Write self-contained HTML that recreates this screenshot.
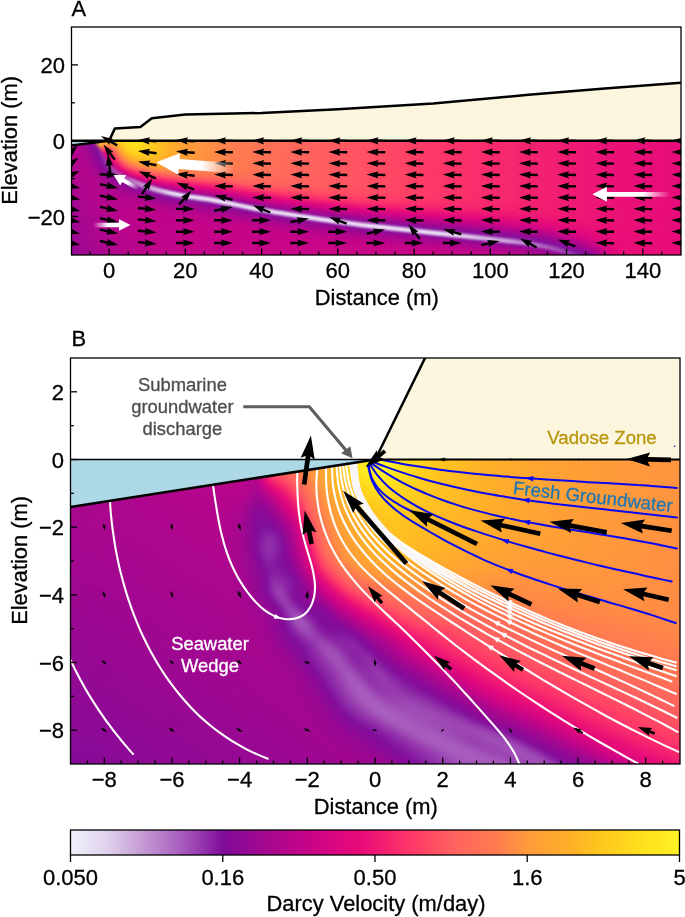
<!DOCTYPE html>
<html><head><meta charset="utf-8"><title>Figure</title>
<style>html,body{margin:0;padding:0;background:#fff}svg{display:block}text{stroke-width:0.3px;font-family:"Liberation Sans",Arial,Helvetica,sans-serif}</style>
</head><body>
<svg width="685" height="917" viewBox="0 0 685 917">
<defs>
<clipPath id="clipA"><polygon points="71.5,145.6 109.1,140.7 681,140.7 681,255 71.5,255"/></clipPath>
<clipPath id="axA"><rect x="71.5" y="27" width="609.5" height="228"/></clipPath>
<linearGradient id="a0" gradientUnits="userSpaceOnUse" x1="63.5" x2="689" y1="0" y2="0"><stop offset="0" stop-color="#b7058c"/><stop offset="0.0224" stop-color="#b8058c"/><stop offset="0.0384" stop-color="#ad068e"/><stop offset="0.0512" stop-color="#a40790"/><stop offset="0.0544" stop-color="#ffe820"/><stop offset="0.0767" stop-color="#ffef24"/><stop offset="0.1055" stop-color="#ffe921"/><stop offset="0.1247" stop-color="#ffdc1c"/><stop offset="0.1471" stop-color="#ffc71e"/><stop offset="0.1663" stop-color="#ffb128"/><stop offset="0.1982" stop-color="#ff9e37"/><stop offset="0.2206" stop-color="#ff953e"/><stop offset="0.2686" stop-color="#ff7d4f"/><stop offset="0.3613" stop-color="#ff695b"/><stop offset="0.47" stop-color="#ff5363"/><stop offset="0.6107" stop-color="#fd3469"/><stop offset="0.8889" stop-color="#ea1077"/><stop offset="1" stop-color="#e60b79"/></linearGradient>
<linearGradient id="a1" gradientUnits="userSpaceOnUse" x1="63.5" x2="689" y1="0" y2="0"><stop offset="0" stop-color="#b7058c"/><stop offset="0.0224" stop-color="#b7058c"/><stop offset="0.0352" stop-color="#ad068e"/><stop offset="0.048" stop-color="#9e0891"/><stop offset="0.0512" stop-color="#9c0892"/><stop offset="0.0544" stop-color="#ffe21d"/><stop offset="0.0735" stop-color="#ffee23"/><stop offset="0.0927" stop-color="#ffe921"/><stop offset="0.1055" stop-color="#ffe820"/><stop offset="0.1247" stop-color="#ffdc1c"/><stop offset="0.1471" stop-color="#ffc71e"/><stop offset="0.1663" stop-color="#ffb128"/><stop offset="0.1982" stop-color="#ff9e37"/><stop offset="0.2206" stop-color="#ff953e"/><stop offset="0.2686" stop-color="#ff7d4f"/><stop offset="0.3613" stop-color="#ff695b"/><stop offset="0.47" stop-color="#ff5363"/><stop offset="0.6107" stop-color="#fd3469"/><stop offset="0.8889" stop-color="#ea1077"/><stop offset="1" stop-color="#e60b79"/></linearGradient>
<linearGradient id="a2" gradientUnits="userSpaceOnUse" x1="63.5" x2="689" y1="0" y2="0"><stop offset="0" stop-color="#b7058c"/><stop offset="0.0192" stop-color="#b8058c"/><stop offset="0.0288" stop-color="#b1068d"/><stop offset="0.048" stop-color="#960993"/><stop offset="0.0512" stop-color="#940994"/><stop offset="0.0544" stop-color="#ffda1d"/><stop offset="0.0639" stop-color="#ffe31e"/><stop offset="0.0703" stop-color="#ffea21"/><stop offset="0.0863" stop-color="#ffe41e"/><stop offset="0.1055" stop-color="#ffe720"/><stop offset="0.1247" stop-color="#ffdc1c"/><stop offset="0.1471" stop-color="#ffc71e"/><stop offset="0.1663" stop-color="#ffb028"/><stop offset="0.1982" stop-color="#ff9e37"/><stop offset="0.2206" stop-color="#ff953e"/><stop offset="0.2686" stop-color="#ff7d4f"/><stop offset="0.3613" stop-color="#ff695b"/><stop offset="0.47" stop-color="#ff5363"/><stop offset="0.6107" stop-color="#fd3469"/><stop offset="0.8889" stop-color="#ea1077"/><stop offset="1" stop-color="#e60b79"/></linearGradient>
<linearGradient id="a3" gradientUnits="userSpaceOnUse" x1="63.5" x2="689" y1="0" y2="0"><stop offset="0" stop-color="#b7058c"/><stop offset="0.0192" stop-color="#b7058c"/><stop offset="0.0288" stop-color="#b0068d"/><stop offset="0.048" stop-color="#8f0a95"/><stop offset="0.0512" stop-color="#8d0a96"/><stop offset="0.0544" stop-color="#ffd01d"/><stop offset="0.0608" stop-color="#ffd71d"/><stop offset="0.0671" stop-color="#ffe41e"/><stop offset="0.0735" stop-color="#ffdb1c"/><stop offset="0.0799" stop-color="#ffdd1c"/><stop offset="0.0831" stop-color="#ffd91d"/><stop offset="0.0863" stop-color="#ffdb1c"/><stop offset="0.0895" stop-color="#ffe01c"/><stop offset="0.1055" stop-color="#ffe51e"/><stop offset="0.1247" stop-color="#ffdc1c"/><stop offset="0.1471" stop-color="#ffc71e"/><stop offset="0.1663" stop-color="#ffb028"/><stop offset="0.1982" stop-color="#ff9e37"/><stop offset="0.2206" stop-color="#ff953e"/><stop offset="0.2686" stop-color="#ff7d4f"/><stop offset="0.3613" stop-color="#ff695b"/><stop offset="0.47" stop-color="#ff5363"/><stop offset="0.6107" stop-color="#fd3469"/><stop offset="0.8889" stop-color="#ea1077"/><stop offset="1" stop-color="#e60b79"/></linearGradient>
<linearGradient id="a4" gradientUnits="userSpaceOnUse" x1="63.5" x2="689" y1="0" y2="0"><stop offset="0" stop-color="#b7058c"/><stop offset="0.0192" stop-color="#b7058c"/><stop offset="0.0288" stop-color="#ae068e"/><stop offset="0.048" stop-color="#890b97"/><stop offset="0.0512" stop-color="#860b98"/><stop offset="0.0544" stop-color="#ffc61f"/><stop offset="0.0608" stop-color="#ffd01d"/><stop offset="0.0671" stop-color="#ffd61d"/><stop offset="0.0735" stop-color="#ffca1e"/><stop offset="0.0895" stop-color="#ffd51d"/><stop offset="0.0927" stop-color="#ffdb1c"/><stop offset="0.1055" stop-color="#ffe31e"/><stop offset="0.1215" stop-color="#ffde1c"/><stop offset="0.1439" stop-color="#ffca1e"/><stop offset="0.1663" stop-color="#ffb028"/><stop offset="0.1982" stop-color="#ff9e37"/><stop offset="0.2206" stop-color="#ff953e"/><stop offset="0.2686" stop-color="#ff7d4f"/><stop offset="0.3613" stop-color="#ff695b"/><stop offset="0.47" stop-color="#ff5363"/><stop offset="0.6107" stop-color="#fd3469"/><stop offset="0.8889" stop-color="#ea1077"/><stop offset="1" stop-color="#e60b79"/></linearGradient>
<linearGradient id="a5" gradientUnits="userSpaceOnUse" x1="63.5" x2="689" y1="0" y2="0"><stop offset="0" stop-color="#b7058c"/><stop offset="0.0192" stop-color="#b6058c"/><stop offset="0.0288" stop-color="#ad068e"/><stop offset="0.048" stop-color="#850b98"/><stop offset="0.0512" stop-color="#820c99"/><stop offset="0.0544" stop-color="#ffbf22"/><stop offset="0.0608" stop-color="#ffc61f"/><stop offset="0.0639" stop-color="#ffc320"/><stop offset="0.0671" stop-color="#ffb725"/><stop offset="0.0703" stop-color="#ffae29"/><stop offset="0.0831" stop-color="#ffbc23"/><stop offset="0.0863" stop-color="#ffc121"/><stop offset="0.0895" stop-color="#ffcb1e"/><stop offset="0.1023" stop-color="#ffde1c"/><stop offset="0.1119" stop-color="#ffe11d"/><stop offset="0.1311" stop-color="#ffd61d"/><stop offset="0.1503" stop-color="#ffc320"/><stop offset="0.1663" stop-color="#ffb028"/><stop offset="0.1982" stop-color="#ff9e37"/><stop offset="0.2206" stop-color="#ff953e"/><stop offset="0.2686" stop-color="#ff7d4f"/><stop offset="0.3613" stop-color="#ff695b"/><stop offset="0.47" stop-color="#ff5363"/><stop offset="0.6107" stop-color="#fd3469"/><stop offset="0.8889" stop-color="#ea1077"/><stop offset="1" stop-color="#e60b79"/></linearGradient>
<linearGradient id="a6" gradientUnits="userSpaceOnUse" x1="63.5" x2="689" y1="0" y2="0"><stop offset="0" stop-color="#b6058c"/><stop offset="0.0192" stop-color="#b5058c"/><stop offset="0.0288" stop-color="#ac068e"/><stop offset="0.048" stop-color="#840b99"/><stop offset="0.0512" stop-color="#810c9a"/><stop offset="0.0544" stop-color="#ffbc23"/><stop offset="0.0576" stop-color="#ffbe22"/><stop offset="0.0608" stop-color="#ffad2b"/><stop offset="0.0671" stop-color="#ff963d"/><stop offset="0.0799" stop-color="#ffa333"/><stop offset="0.0831" stop-color="#ffa92d"/><stop offset="0.0863" stop-color="#ffb626"/><stop offset="0.0895" stop-color="#ffbc23"/><stop offset="0.0959" stop-color="#ffce1d"/><stop offset="0.1023" stop-color="#ffdb1c"/><stop offset="0.1119" stop-color="#ffe01c"/><stop offset="0.1311" stop-color="#ffd61d"/><stop offset="0.1503" stop-color="#ffc320"/><stop offset="0.1663" stop-color="#ffb028"/><stop offset="0.1982" stop-color="#ff9e37"/><stop offset="0.2206" stop-color="#ff953e"/><stop offset="0.2686" stop-color="#ff7d4f"/><stop offset="0.3613" stop-color="#ff695b"/><stop offset="0.47" stop-color="#ff5363"/><stop offset="0.6107" stop-color="#fd3469"/><stop offset="0.8889" stop-color="#ea1077"/><stop offset="1" stop-color="#e60b79"/></linearGradient>
<linearGradient id="a7" gradientUnits="userSpaceOnUse" x1="63.5" x2="689" y1="0" y2="0"><stop offset="0" stop-color="#b5058c"/><stop offset="0.0192" stop-color="#b5058c"/><stop offset="0.0288" stop-color="#ac068e"/><stop offset="0.048" stop-color="#850b98"/><stop offset="0.0544" stop-color="#800c9a"/><stop offset="0.0576" stop-color="#ff9f36"/><stop offset="0.0608" stop-color="#ff8549"/><stop offset="0.0639" stop-color="#ff7455"/><stop offset="0.0703" stop-color="#ff7455"/><stop offset="0.0735" stop-color="#ff7753"/><stop offset="0.0767" stop-color="#ff7e4e"/><stop offset="0.0831" stop-color="#ff9c38"/><stop offset="0.0895" stop-color="#ffaf29"/><stop offset="0.0959" stop-color="#ffc81e"/><stop offset="0.1023" stop-color="#ffd71d"/><stop offset="0.1087" stop-color="#ffdd1c"/><stop offset="0.1215" stop-color="#ffdb1c"/><stop offset="0.1407" stop-color="#ffcd1e"/><stop offset="0.1663" stop-color="#ffb028"/><stop offset="0.1982" stop-color="#ff9e37"/><stop offset="0.2206" stop-color="#ff953e"/><stop offset="0.2686" stop-color="#ff7d4f"/><stop offset="0.3613" stop-color="#ff695b"/><stop offset="0.47" stop-color="#ff5363"/><stop offset="0.6107" stop-color="#fd3469"/><stop offset="0.8889" stop-color="#ea1077"/><stop offset="1" stop-color="#e60b79"/></linearGradient>
<linearGradient id="a8" gradientUnits="userSpaceOnUse" x1="63.5" x2="689" y1="0" y2="0"><stop offset="0" stop-color="#b4058c"/><stop offset="0.0192" stop-color="#b5058c"/><stop offset="0.0288" stop-color="#ac068e"/><stop offset="0.048" stop-color="#880b97"/><stop offset="0.0544" stop-color="#800d9a"/><stop offset="0.0576" stop-color="#84159e"/><stop offset="0.0608" stop-color="#ff5c61"/><stop offset="0.0639" stop-color="#ff5662"/><stop offset="0.0671" stop-color="#ff5462"/><stop offset="0.0703" stop-color="#ff5862"/><stop offset="0.0767" stop-color="#ff685b"/><stop offset="0.0799" stop-color="#ff7355"/><stop offset="0.0831" stop-color="#ff814d"/><stop offset="0.0863" stop-color="#ff993b"/><stop offset="0.0927" stop-color="#ffb227"/><stop offset="0.0991" stop-color="#ffcb1e"/><stop offset="0.1055" stop-color="#ffd71d"/><stop offset="0.1151" stop-color="#ffdb1c"/><stop offset="0.1343" stop-color="#ffd21d"/><stop offset="0.1503" stop-color="#ffc220"/><stop offset="0.1663" stop-color="#ffb028"/><stop offset="0.1982" stop-color="#ff9e37"/><stop offset="0.2206" stop-color="#ff953e"/><stop offset="0.2686" stop-color="#ff7d4f"/><stop offset="0.3613" stop-color="#ff695b"/><stop offset="0.47" stop-color="#ff5363"/><stop offset="0.6107" stop-color="#fd3469"/><stop offset="0.8889" stop-color="#ea1077"/><stop offset="1" stop-color="#e60b79"/></linearGradient>
<linearGradient id="a9" gradientUnits="userSpaceOnUse" x1="63.5" x2="689" y1="0" y2="0"><stop offset="0" stop-color="#b4058d"/><stop offset="0.0192" stop-color="#b4058c"/><stop offset="0.0288" stop-color="#ad068e"/><stop offset="0.0448" stop-color="#920994"/><stop offset="0.0544" stop-color="#800c9a"/><stop offset="0.0576" stop-color="#8719a0"/><stop offset="0.0608" stop-color="#fd3469"/><stop offset="0.0639" stop-color="#f92d6c"/><stop offset="0.0671" stop-color="#f92d6c"/><stop offset="0.0703" stop-color="#fc316a"/><stop offset="0.0735" stop-color="#ff3a68"/><stop offset="0.0767" stop-color="#ff4865"/><stop offset="0.0799" stop-color="#ff6060"/><stop offset="0.0831" stop-color="#ff7255"/><stop offset="0.0895" stop-color="#ff9e37"/><stop offset="0.0959" stop-color="#ffb725"/><stop offset="0.0991" stop-color="#ffc420"/><stop offset="0.1023" stop-color="#ffcd1e"/><stop offset="0.1087" stop-color="#ffd51d"/><stop offset="0.1183" stop-color="#ffd81d"/><stop offset="0.1375" stop-color="#ffce1e"/><stop offset="0.1535" stop-color="#ffbe22"/><stop offset="0.1695" stop-color="#ffae2a"/><stop offset="0.1982" stop-color="#ff9e37"/><stop offset="0.2206" stop-color="#ff953e"/><stop offset="0.2686" stop-color="#ff7d4f"/><stop offset="0.3613" stop-color="#ff695b"/><stop offset="0.47" stop-color="#ff5363"/><stop offset="0.6107" stop-color="#fd3469"/><stop offset="0.8889" stop-color="#ea1077"/><stop offset="1" stop-color="#e60b79"/></linearGradient>
<linearGradient id="a10" gradientUnits="userSpaceOnUse" x1="63.5" x2="689" y1="0" y2="0"><stop offset="0" stop-color="#b3058d"/><stop offset="0.0192" stop-color="#b4058c"/><stop offset="0.0288" stop-color="#af068e"/><stop offset="0.0416" stop-color="#9c0891"/><stop offset="0.0544" stop-color="#820c99"/><stop offset="0.0608" stop-color="#8b22a4"/><stop offset="0.0639" stop-color="#e50b7a"/><stop offset="0.0703" stop-color="#e80c78"/><stop offset="0.0735" stop-color="#f01b73"/><stop offset="0.0767" stop-color="#fc336a"/><stop offset="0.0799" stop-color="#ff4f63"/><stop offset="0.0831" stop-color="#ff675c"/><stop offset="0.0863" stop-color="#ff7952"/><stop offset="0.0895" stop-color="#ff9140"/><stop offset="0.0927" stop-color="#ffa233"/><stop offset="0.0991" stop-color="#ffba24"/><stop offset="0.1023" stop-color="#ffc51f"/><stop offset="0.1087" stop-color="#ffcf1d"/><stop offset="0.1183" stop-color="#ffd41d"/><stop offset="0.1375" stop-color="#ffcc1e"/><stop offset="0.1663" stop-color="#ffaf28"/><stop offset="0.1982" stop-color="#ff9e37"/><stop offset="0.2206" stop-color="#ff953e"/><stop offset="0.2686" stop-color="#ff7d4f"/><stop offset="0.3613" stop-color="#ff695b"/><stop offset="0.47" stop-color="#ff5363"/><stop offset="0.6107" stop-color="#fd3469"/><stop offset="0.8889" stop-color="#ea1077"/><stop offset="1" stop-color="#e60b79"/></linearGradient>
<linearGradient id="a11" gradientUnits="userSpaceOnUse" x1="63.5" x2="689" y1="0" y2="0"><stop offset="0" stop-color="#b2058d"/><stop offset="0.0224" stop-color="#b3058d"/><stop offset="0.0352" stop-color="#aa068f"/><stop offset="0.0448" stop-color="#9a0892"/><stop offset="0.0544" stop-color="#850b99"/><stop offset="0.0576" stop-color="#84139d"/><stop offset="0.0608" stop-color="#8c24a5"/><stop offset="0.0639" stop-color="#cc0586"/><stop offset="0.0671" stop-color="#cf0585"/><stop offset="0.0703" stop-color="#de077f"/><stop offset="0.0735" stop-color="#e90e77"/><stop offset="0.0799" stop-color="#ff3d67"/><stop offset="0.0831" stop-color="#ff5961"/><stop offset="0.0895" stop-color="#ff7f4e"/><stop offset="0.0927" stop-color="#ff983b"/><stop offset="0.0991" stop-color="#ffaf29"/><stop offset="0.1055" stop-color="#ffc220"/><stop offset="0.1119" stop-color="#ffcb1e"/><stop offset="0.1247" stop-color="#ffce1d"/><stop offset="0.1407" stop-color="#ffc71e"/><stop offset="0.1663" stop-color="#ffaf29"/><stop offset="0.1982" stop-color="#ff9d37"/><stop offset="0.2238" stop-color="#ff933f"/><stop offset="0.2686" stop-color="#ff7d4f"/><stop offset="0.3613" stop-color="#ff695b"/><stop offset="0.47" stop-color="#ff5363"/><stop offset="0.6107" stop-color="#fd3469"/><stop offset="0.8889" stop-color="#ea1077"/><stop offset="1" stop-color="#e60b79"/></linearGradient>
<linearGradient id="a12" gradientUnits="userSpaceOnUse" x1="63.5" x2="689" y1="0" y2="0"><stop offset="0" stop-color="#b1068d"/><stop offset="0.0224" stop-color="#b4058d"/><stop offset="0.0352" stop-color="#ac068e"/><stop offset="0.0448" stop-color="#9d0891"/><stop offset="0.0576" stop-color="#800c9a"/><stop offset="0.0608" stop-color="#8a21a3"/><stop offset="0.0639" stop-color="#912ea9"/><stop offset="0.0671" stop-color="#c70488"/><stop offset="0.0735" stop-color="#e2097c"/><stop offset="0.0767" stop-color="#ed1675"/><stop offset="0.0799" stop-color="#f92c6c"/><stop offset="0.0831" stop-color="#ff4665"/><stop offset="0.0863" stop-color="#ff6160"/><stop offset="0.0927" stop-color="#ff844a"/><stop offset="0.0959" stop-color="#ff9a3a"/><stop offset="0.1023" stop-color="#ffae2a"/><stop offset="0.1087" stop-color="#ffbd23"/><stop offset="0.1183" stop-color="#ffc71e"/><stop offset="0.1343" stop-color="#ffc71e"/><stop offset="0.1599" stop-color="#ffb327"/><stop offset="0.1982" stop-color="#ff9d38"/><stop offset="0.2238" stop-color="#ff933f"/><stop offset="0.2686" stop-color="#ff7d4f"/><stop offset="0.3645" stop-color="#ff685b"/><stop offset="0.4732" stop-color="#ff5363"/><stop offset="0.6107" stop-color="#fd3469"/><stop offset="0.8889" stop-color="#ea1077"/><stop offset="1" stop-color="#e60b79"/></linearGradient>
<linearGradient id="a13" gradientUnits="userSpaceOnUse" x1="63.5" x2="689" y1="0" y2="0"><stop offset="0" stop-color="#b1068d"/><stop offset="0.0256" stop-color="#b3058d"/><stop offset="0.0352" stop-color="#ae068e"/><stop offset="0.0448" stop-color="#9f0791"/><stop offset="0.0576" stop-color="#830b99"/><stop offset="0.0608" stop-color="#8619a0"/><stop offset="0.0639" stop-color="#902da9"/><stop offset="0.0671" stop-color="#c0048a"/><stop offset="0.0703" stop-color="#c90587"/><stop offset="0.0735" stop-color="#d90681"/><stop offset="0.0767" stop-color="#e50b7a"/><stop offset="0.0799" stop-color="#f11c72"/><stop offset="0.0831" stop-color="#fc336a"/><stop offset="0.0895" stop-color="#ff645e"/><stop offset="0.0959" stop-color="#ff844a"/><stop offset="0.0991" stop-color="#ff993b"/><stop offset="0.1055" stop-color="#ffaa2d"/><stop offset="0.1119" stop-color="#ffb626"/><stop offset="0.1215" stop-color="#ffbe22"/><stop offset="0.1343" stop-color="#ffc121"/><stop offset="0.1567" stop-color="#ffb427"/><stop offset="0.195" stop-color="#ff9d37"/><stop offset="0.2206" stop-color="#ff943f"/><stop offset="0.2686" stop-color="#ff7d50"/><stop offset="0.3677" stop-color="#ff675c"/><stop offset="0.4828" stop-color="#ff5163"/><stop offset="0.6107" stop-color="#fd3469"/><stop offset="0.8889" stop-color="#ea1077"/><stop offset="1" stop-color="#e60b79"/></linearGradient>
<linearGradient id="a14" gradientUnits="userSpaceOnUse" x1="63.5" x2="689" y1="0" y2="0"><stop offset="0" stop-color="#b0068d"/><stop offset="0.0256" stop-color="#b4058d"/><stop offset="0.0352" stop-color="#af068e"/><stop offset="0.0448" stop-color="#a20790"/><stop offset="0.0608" stop-color="#810e9b"/><stop offset="0.0639" stop-color="#8c25a5"/><stop offset="0.0671" stop-color="#9538ad"/><stop offset="0.0703" stop-color="#bf048a"/><stop offset="0.0735" stop-color="#cc0586"/><stop offset="0.0767" stop-color="#dd067f"/><stop offset="0.0799" stop-color="#e80d78"/><stop offset="0.0863" stop-color="#fe3768"/><stop offset="0.0927" stop-color="#ff645e"/><stop offset="0.0991" stop-color="#ff804d"/><stop offset="0.1023" stop-color="#ff933f"/><stop offset="0.1055" stop-color="#ff9e36"/><stop offset="0.1151" stop-color="#ffad2b"/><stop offset="0.1311" stop-color="#ffb825"/><stop offset="0.1471" stop-color="#ffb526"/><stop offset="0.1982" stop-color="#ff9c39"/><stop offset="0.243" stop-color="#ff8847"/><stop offset="0.2782" stop-color="#ff7a51"/><stop offset="0.3901" stop-color="#ff645e"/><stop offset="0.5436" stop-color="#ff4266"/><stop offset="0.6171" stop-color="#fd336a"/><stop offset="0.8889" stop-color="#ea1077"/><stop offset="1" stop-color="#e60b79"/></linearGradient>
<linearGradient id="a15" gradientUnits="userSpaceOnUse" x1="63.5" x2="689" y1="0" y2="0"><stop offset="0" stop-color="#af068e"/><stop offset="0.0256" stop-color="#b4058d"/><stop offset="0.0384" stop-color="#ad068e"/><stop offset="0.048" stop-color="#9f0791"/><stop offset="0.0608" stop-color="#850b99"/><stop offset="0.0639" stop-color="#86189f"/><stop offset="0.0671" stop-color="#9231aa"/><stop offset="0.0703" stop-color="#993fb0"/><stop offset="0.0735" stop-color="#bf048a"/><stop offset="0.0799" stop-color="#df087e"/><stop offset="0.0831" stop-color="#ea1077"/><stop offset="0.0895" stop-color="#fe3768"/><stop offset="0.0959" stop-color="#ff625f"/><stop offset="0.1023" stop-color="#ff7a51"/><stop offset="0.1087" stop-color="#ff953e"/><stop offset="0.1119" stop-color="#ff9d38"/><stop offset="0.1279" stop-color="#ffac2c"/><stop offset="0.1407" stop-color="#ffaf29"/><stop offset="0.1663" stop-color="#ffa82f"/><stop offset="0.2526" stop-color="#ff824b"/><stop offset="0.3006" stop-color="#ff7554"/><stop offset="0.4476" stop-color="#ff5862"/><stop offset="0.6107" stop-color="#fd3469"/><stop offset="0.8889" stop-color="#ea1077"/><stop offset="1" stop-color="#e60b79"/></linearGradient>
<linearGradient id="a16" gradientUnits="userSpaceOnUse" x1="63.5" x2="689" y1="0" y2="0"><stop offset="0" stop-color="#ae068e"/><stop offset="0.0288" stop-color="#b3058d"/><stop offset="0.0416" stop-color="#ac068e"/><stop offset="0.0544" stop-color="#960993"/><stop offset="0.0639" stop-color="#810c9a"/><stop offset="0.0703" stop-color="#973bae"/><stop offset="0.0735" stop-color="#b7058c"/><stop offset="0.0767" stop-color="#c0048a"/><stop offset="0.0831" stop-color="#e0087e"/><stop offset="0.0863" stop-color="#ea0f77"/><stop offset="0.0927" stop-color="#fd346a"/><stop offset="0.0991" stop-color="#ff5c61"/><stop offset="0.1023" stop-color="#ff695b"/><stop offset="0.1183" stop-color="#ff943e"/><stop offset="0.1247" stop-color="#ff9e37"/><stop offset="0.1375" stop-color="#ffa730"/><stop offset="0.1567" stop-color="#ffa72f"/><stop offset="0.2238" stop-color="#ff8e43"/><stop offset="0.2686" stop-color="#ff7c50"/><stop offset="0.3933" stop-color="#ff635e"/><stop offset="0.5468" stop-color="#ff4266"/><stop offset="0.6203" stop-color="#fc336a"/><stop offset="0.8889" stop-color="#ea1077"/><stop offset="1" stop-color="#e60b79"/></linearGradient>
<linearGradient id="a17" gradientUnits="userSpaceOnUse" x1="63.5" x2="689" y1="0" y2="0"><stop offset="0" stop-color="#ae068e"/><stop offset="0.0288" stop-color="#b3058d"/><stop offset="0.0416" stop-color="#ad068e"/><stop offset="0.0512" stop-color="#a00791"/><stop offset="0.0639" stop-color="#870b98"/><stop offset="0.0671" stop-color="#82119c"/><stop offset="0.0703" stop-color="#902ca8"/><stop offset="0.0735" stop-color="#9b44b2"/><stop offset="0.0767" stop-color="#b3058d"/><stop offset="0.0831" stop-color="#cf0585"/><stop offset="0.0863" stop-color="#df077e"/><stop offset="0.0895" stop-color="#e80d78"/><stop offset="0.0959" stop-color="#fa2e6c"/><stop offset="0.0991" stop-color="#ff3f67"/><stop offset="0.1055" stop-color="#ff6060"/><stop offset="0.1151" stop-color="#ff7554"/><stop offset="0.1343" stop-color="#ff9a3a"/><stop offset="0.1535" stop-color="#ffa134"/><stop offset="0.1855" stop-color="#ff9b39"/><stop offset="0.1982" stop-color="#ff943f"/><stop offset="0.2718" stop-color="#ff7a51"/><stop offset="0.438" stop-color="#ff5a61"/><stop offset="0.6107" stop-color="#fd3469"/><stop offset="0.8889" stop-color="#ea1077"/><stop offset="1" stop-color="#e60b79"/></linearGradient>
<linearGradient id="a18" gradientUnits="userSpaceOnUse" x1="63.5" x2="689" y1="0" y2="0"><stop offset="0" stop-color="#ad068e"/><stop offset="0.032" stop-color="#b3058d"/><stop offset="0.0448" stop-color="#ac068e"/><stop offset="0.0576" stop-color="#980892"/><stop offset="0.0671" stop-color="#850b99"/><stop offset="0.0703" stop-color="#86179f"/><stop offset="0.0735" stop-color="#9333ab"/><stop offset="0.0767" stop-color="#9d47b4"/><stop offset="0.0799" stop-color="#af068e"/><stop offset="0.0831" stop-color="#bb048b"/><stop offset="0.0895" stop-color="#dc0680"/><stop offset="0.0927" stop-color="#e60b7a"/><stop offset="0.1023" stop-color="#fd3469"/><stop offset="0.1119" stop-color="#ff5961"/><stop offset="0.1183" stop-color="#ff685c"/><stop offset="0.1343" stop-color="#ff824c"/><stop offset="0.1471" stop-color="#ff933f"/><stop offset="0.1599" stop-color="#ff983c"/><stop offset="0.1823" stop-color="#ff953e"/><stop offset="0.1982" stop-color="#ff8d43"/><stop offset="0.2686" stop-color="#ff7a51"/><stop offset="0.4444" stop-color="#ff5961"/><stop offset="0.6107" stop-color="#fd3469"/><stop offset="0.8889" stop-color="#ea1077"/><stop offset="1" stop-color="#e60b79"/></linearGradient>
<linearGradient id="a19" gradientUnits="userSpaceOnUse" x1="63.5" x2="689" y1="0" y2="0"><stop offset="0" stop-color="#ac068e"/><stop offset="0.032" stop-color="#b3058d"/><stop offset="0.0448" stop-color="#ae068e"/><stop offset="0.0576" stop-color="#9d0891"/><stop offset="0.0703" stop-color="#840b99"/><stop offset="0.0735" stop-color="#871aa0"/><stop offset="0.0767" stop-color="#9537ad"/><stop offset="0.0799" stop-color="#a04eb7"/><stop offset="0.0831" stop-color="#ad068e"/><stop offset="0.0863" stop-color="#b5058c"/><stop offset="0.0927" stop-color="#d60682"/><stop offset="0.0959" stop-color="#e1097d"/><stop offset="0.0991" stop-color="#e90e77"/><stop offset="0.1055" stop-color="#f6276e"/><stop offset="0.1119" stop-color="#ff3a68"/><stop offset="0.1247" stop-color="#ff6060"/><stop offset="0.1375" stop-color="#ff7355"/><stop offset="0.1567" stop-color="#ff8549"/><stop offset="0.1791" stop-color="#ff8a46"/><stop offset="0.1982" stop-color="#ff854a"/><stop offset="0.4189" stop-color="#ff5f60"/><stop offset="0.6107" stop-color="#fd3469"/><stop offset="0.8889" stop-color="#ea1077"/><stop offset="1" stop-color="#e60b79"/></linearGradient>
<linearGradient id="a20" gradientUnits="userSpaceOnUse" x1="63.5" x2="689" y1="0" y2="0"><stop offset="0" stop-color="#ab068e"/><stop offset="0.0352" stop-color="#b3058d"/><stop offset="0.048" stop-color="#ad068e"/><stop offset="0.0608" stop-color="#9c0892"/><stop offset="0.0735" stop-color="#830b99"/><stop offset="0.0767" stop-color="#871ba1"/><stop offset="0.0831" stop-color="#a150b8"/><stop offset="0.0863" stop-color="#a7078f"/><stop offset="0.0895" stop-color="#af068e"/><stop offset="0.0991" stop-color="#da0681"/><stop offset="0.1055" stop-color="#e90d78"/><stop offset="0.1215" stop-color="#ff3868"/><stop offset="0.1343" stop-color="#ff5c61"/><stop offset="0.1439" stop-color="#ff695b"/><stop offset="0.1599" stop-color="#ff7554"/><stop offset="0.1823" stop-color="#ff7b50"/><stop offset="0.275" stop-color="#ff7653"/><stop offset="0.4317" stop-color="#ff5c61"/><stop offset="0.6107" stop-color="#fd3469"/><stop offset="0.8889" stop-color="#ea1077"/><stop offset="1" stop-color="#e60b79"/></linearGradient>
<linearGradient id="a21" gradientUnits="userSpaceOnUse" x1="63.5" x2="689" y1="0" y2="0"><stop offset="0" stop-color="#ab068f"/><stop offset="0.0352" stop-color="#b3058d"/><stop offset="0.048" stop-color="#af068e"/><stop offset="0.0608" stop-color="#a00791"/><stop offset="0.0767" stop-color="#840b99"/><stop offset="0.0799" stop-color="#86179f"/><stop offset="0.0863" stop-color="#a14eb7"/><stop offset="0.0895" stop-color="#a75bbc"/><stop offset="0.0927" stop-color="#a40790"/><stop offset="0.0959" stop-color="#b0068d"/><stop offset="0.1023" stop-color="#cd0585"/><stop offset="0.1055" stop-color="#d80682"/><stop offset="0.1119" stop-color="#e40a7b"/><stop offset="0.1151" stop-color="#e90e77"/><stop offset="0.1311" stop-color="#fd3569"/><stop offset="0.1471" stop-color="#ff5961"/><stop offset="0.1567" stop-color="#ff655d"/><stop offset="0.1791" stop-color="#ff7057"/><stop offset="0.2398" stop-color="#ff7455"/><stop offset="0.307" stop-color="#ff7057"/><stop offset="0.4317" stop-color="#ff5b61"/><stop offset="0.6107" stop-color="#fd3469"/><stop offset="0.8889" stop-color="#ea1077"/><stop offset="1" stop-color="#e60b79"/></linearGradient>
<linearGradient id="a22" gradientUnits="userSpaceOnUse" x1="63.5" x2="689" y1="0" y2="0"><stop offset="0" stop-color="#aa068f"/><stop offset="0.0384" stop-color="#b3058d"/><stop offset="0.0512" stop-color="#af068e"/><stop offset="0.0639" stop-color="#a00791"/><stop offset="0.0799" stop-color="#860b98"/><stop offset="0.0831" stop-color="#83129d"/><stop offset="0.0895" stop-color="#9c45b3"/><stop offset="0.0927" stop-color="#a75cbd"/><stop offset="0.0959" stop-color="#9e0891"/><stop offset="0.0991" stop-color="#a20790"/><stop offset="0.1055" stop-color="#b9058b"/><stop offset="0.1119" stop-color="#cf0585"/><stop offset="0.1183" stop-color="#df077e"/><stop offset="0.1247" stop-color="#e80c78"/><stop offset="0.1439" stop-color="#fe3569"/><stop offset="0.1567" stop-color="#ff4d64"/><stop offset="0.1759" stop-color="#ff615f"/><stop offset="0.2238" stop-color="#ff6c59"/><stop offset="0.2942" stop-color="#ff7057"/><stop offset="0.4221" stop-color="#ff5e60"/><stop offset="0.6107" stop-color="#fd3469"/><stop offset="0.8889" stop-color="#ea1077"/><stop offset="1" stop-color="#e60b79"/></linearGradient>
<linearGradient id="a23" gradientUnits="userSpaceOnUse" x1="63.5" x2="689" y1="0" y2="0"><stop offset="0" stop-color="#a9068f"/><stop offset="0.0384" stop-color="#b3058d"/><stop offset="0.0544" stop-color="#ae068e"/><stop offset="0.0703" stop-color="#9c0892"/><stop offset="0.0831" stop-color="#880b98"/><stop offset="0.0863" stop-color="#810c9a"/><stop offset="0.0895" stop-color="#891fa2"/><stop offset="0.0927" stop-color="#973aae"/><stop offset="0.0959" stop-color="#a352b9"/><stop offset="0.0991" stop-color="#aa63bf"/><stop offset="0.1023" stop-color="#970893"/><stop offset="0.1087" stop-color="#a10791"/><stop offset="0.1183" stop-color="#c60488"/><stop offset="0.1247" stop-color="#d80682"/><stop offset="0.1343" stop-color="#e70b79"/><stop offset="0.1599" stop-color="#fd3569"/><stop offset="0.1791" stop-color="#ff4c64"/><stop offset="0.2174" stop-color="#ff6060"/><stop offset="0.291" stop-color="#ff6c59"/><stop offset="0.3741" stop-color="#ff655d"/><stop offset="0.4444" stop-color="#ff5862"/><stop offset="0.6107" stop-color="#fd3469"/><stop offset="0.8889" stop-color="#ea1077"/><stop offset="1" stop-color="#e60b79"/></linearGradient>
<linearGradient id="a24" gradientUnits="userSpaceOnUse" x1="63.5" x2="689" y1="0" y2="0"><stop offset="0" stop-color="#a8068f"/><stop offset="0.0416" stop-color="#b3058d"/><stop offset="0.0576" stop-color="#af068e"/><stop offset="0.0735" stop-color="#9d0891"/><stop offset="0.0895" stop-color="#850b98"/><stop offset="0.0927" stop-color="#82119c"/><stop offset="0.0959" stop-color="#8d26a6"/><stop offset="0.0991" stop-color="#993fb1"/><stop offset="0.1023" stop-color="#a354ba"/><stop offset="0.1055" stop-color="#ac65c0"/><stop offset="0.1087" stop-color="#ae6bc2"/><stop offset="0.1119" stop-color="#900a95"/><stop offset="0.1151" stop-color="#950994"/><stop offset="0.1215" stop-color="#ac068e"/><stop offset="0.1279" stop-color="#c50488"/><stop offset="0.1343" stop-color="#d60682"/><stop offset="0.1407" stop-color="#e0087d"/><stop offset="0.1503" stop-color="#e90e77"/><stop offset="0.1759" stop-color="#fa2f6b"/><stop offset="0.1918" stop-color="#ff3b67"/><stop offset="0.2238" stop-color="#ff5063"/><stop offset="0.2686" stop-color="#ff635e"/><stop offset="0.3102" stop-color="#ff695b"/><stop offset="0.3997" stop-color="#ff615f"/><stop offset="0.5404" stop-color="#ff4366"/><stop offset="0.6171" stop-color="#fd336a"/><stop offset="0.8889" stop-color="#ea1077"/><stop offset="1" stop-color="#e60b79"/></linearGradient>
<linearGradient id="a25" gradientUnits="userSpaceOnUse" x1="63.5" x2="689" y1="0" y2="0"><stop offset="0" stop-color="#a8078f"/><stop offset="0.0416" stop-color="#b3058d"/><stop offset="0.0576" stop-color="#b1068d"/><stop offset="0.0735" stop-color="#a30790"/><stop offset="0.0959" stop-color="#850b99"/><stop offset="0.0991" stop-color="#82109c"/><stop offset="0.1055" stop-color="#9639ae"/><stop offset="0.1087" stop-color="#a251b8"/><stop offset="0.1119" stop-color="#a960be"/><stop offset="0.1151" stop-color="#ad69c2"/><stop offset="0.1183" stop-color="#8e0a96"/><stop offset="0.1215" stop-color="#900995"/><stop offset="0.1279" stop-color="#a10791"/><stop offset="0.1375" stop-color="#c40489"/><stop offset="0.1471" stop-color="#d80681"/><stop offset="0.1599" stop-color="#e30a7b"/><stop offset="0.1695" stop-color="#ea0f77"/><stop offset="0.1982" stop-color="#f7296e"/><stop offset="0.227" stop-color="#ff3b67"/><stop offset="0.2814" stop-color="#ff5f60"/><stop offset="0.3197" stop-color="#ff655d"/><stop offset="0.3933" stop-color="#ff615f"/><stop offset="0.534" stop-color="#ff4565"/><stop offset="0.6171" stop-color="#fd336a"/><stop offset="0.8889" stop-color="#ea1077"/><stop offset="1" stop-color="#e60b79"/></linearGradient>
<linearGradient id="a26" gradientUnits="userSpaceOnUse" x1="63.5" x2="689" y1="0" y2="0"><stop offset="0" stop-color="#a7078f"/><stop offset="0.0448" stop-color="#b4058d"/><stop offset="0.0608" stop-color="#b1068d"/><stop offset="0.0767" stop-color="#a40790"/><stop offset="0.1023" stop-color="#870b98"/><stop offset="0.1055" stop-color="#810c9a"/><stop offset="0.1087" stop-color="#8719a0"/><stop offset="0.1183" stop-color="#a75cbc"/><stop offset="0.1215" stop-color="#ae6bc2"/><stop offset="0.1247" stop-color="#b273c5"/><stop offset="0.1279" stop-color="#880b98"/><stop offset="0.1375" stop-color="#a00791"/><stop offset="0.1471" stop-color="#c0048a"/><stop offset="0.1567" stop-color="#d10584"/><stop offset="0.1727" stop-color="#df077e"/><stop offset="0.195" stop-color="#e90e77"/><stop offset="0.2558" stop-color="#ff3c67"/><stop offset="0.2814" stop-color="#ff5163"/><stop offset="0.3102" stop-color="#ff5e60"/><stop offset="0.3549" stop-color="#ff625f"/><stop offset="0.4189" stop-color="#ff5c61"/><stop offset="0.534" stop-color="#ff4565"/><stop offset="0.6171" stop-color="#fd336a"/><stop offset="0.8889" stop-color="#ea1077"/><stop offset="1" stop-color="#e60b79"/></linearGradient>
<linearGradient id="a27" gradientUnits="userSpaceOnUse" x1="63.5" x2="689" y1="0" y2="0"><stop offset="0" stop-color="#a6078f"/><stop offset="0.0448" stop-color="#b3058d"/><stop offset="0.0639" stop-color="#b2068d"/><stop offset="0.0831" stop-color="#a30790"/><stop offset="0.1087" stop-color="#8a0b97"/><stop offset="0.1151" stop-color="#810f9b"/><stop offset="0.1183" stop-color="#8a21a3"/><stop offset="0.1247" stop-color="#a150b8"/><stop offset="0.1279" stop-color="#aa62bf"/><stop offset="0.1311" stop-color="#b06dc3"/><stop offset="0.1343" stop-color="#b171c5"/><stop offset="0.1375" stop-color="#880b97"/><stop offset="0.1439" stop-color="#920995"/><stop offset="0.1567" stop-color="#b7058c"/><stop offset="0.1663" stop-color="#c70587"/><stop offset="0.1855" stop-color="#d70682"/><stop offset="0.2238" stop-color="#e80d78"/><stop offset="0.259" stop-color="#f82a6d"/><stop offset="0.2782" stop-color="#ff3c67"/><stop offset="0.3006" stop-color="#ff4e64"/><stop offset="0.3357" stop-color="#ff5b61"/><stop offset="0.3773" stop-color="#ff5e60"/><stop offset="0.4668" stop-color="#ff5263"/><stop offset="0.6107" stop-color="#fd3469"/><stop offset="0.8889" stop-color="#ea1077"/><stop offset="1" stop-color="#e60b79"/></linearGradient>
<linearGradient id="a28" gradientUnits="userSpaceOnUse" x1="63.5" x2="689" y1="0" y2="0"><stop offset="0" stop-color="#a50790"/><stop offset="0.048" stop-color="#b4058d"/><stop offset="0.0671" stop-color="#b2058d"/><stop offset="0.0863" stop-color="#a6078f"/><stop offset="0.1151" stop-color="#8d0a96"/><stop offset="0.1215" stop-color="#840b99"/><stop offset="0.1247" stop-color="#83129d"/><stop offset="0.1311" stop-color="#983daf"/><stop offset="0.1343" stop-color="#a353b9"/><stop offset="0.1375" stop-color="#aa62bf"/><stop offset="0.1407" stop-color="#ae6ac2"/><stop offset="0.1439" stop-color="#af6cc3"/><stop offset="0.1471" stop-color="#850b99"/><stop offset="0.1503" stop-color="#860b98"/><stop offset="0.1567" stop-color="#930994"/><stop offset="0.1695" stop-color="#b3058d"/><stop offset="0.1791" stop-color="#c1048a"/><stop offset="0.2174" stop-color="#d90681"/><stop offset="0.2494" stop-color="#e80c78"/><stop offset="0.2942" stop-color="#ff3968"/><stop offset="0.3197" stop-color="#ff4a64"/><stop offset="0.3517" stop-color="#ff5562"/><stop offset="0.4093" stop-color="#ff5862"/><stop offset="0.5116" stop-color="#ff4965"/><stop offset="0.6107" stop-color="#fd3469"/><stop offset="0.8889" stop-color="#ea1077"/><stop offset="1" stop-color="#e60b79"/></linearGradient>
<linearGradient id="a29" gradientUnits="userSpaceOnUse" x1="63.5" x2="689" y1="0" y2="0"><stop offset="0" stop-color="#a50790"/><stop offset="0.048" stop-color="#b4058d"/><stop offset="0.0703" stop-color="#b3058d"/><stop offset="0.0959" stop-color="#a50790"/><stop offset="0.1247" stop-color="#8c0a96"/><stop offset="0.1311" stop-color="#830b99"/><stop offset="0.1343" stop-color="#84159e"/><stop offset="0.1439" stop-color="#a251b8"/><stop offset="0.1471" stop-color="#a85ebd"/><stop offset="0.1503" stop-color="#ac67c1"/><stop offset="0.1535" stop-color="#ae6bc2"/><stop offset="0.1567" stop-color="#800d9a"/><stop offset="0.1631" stop-color="#830b99"/><stop offset="0.1886" stop-color="#b3058d"/><stop offset="0.2078" stop-color="#c30489"/><stop offset="0.2462" stop-color="#da0681"/><stop offset="0.2686" stop-color="#e70c78"/><stop offset="0.307" stop-color="#fc326a"/><stop offset="0.3261" stop-color="#ff3f67"/><stop offset="0.3581" stop-color="#ff4d64"/><stop offset="0.4093" stop-color="#ff5363"/><stop offset="0.4988" stop-color="#ff4b64"/><stop offset="0.6107" stop-color="#fd3469"/><stop offset="0.8889" stop-color="#ea1077"/><stop offset="1" stop-color="#e60b79"/></linearGradient>
<linearGradient id="a30" gradientUnits="userSpaceOnUse" x1="63.5" x2="689" y1="0" y2="0"><stop offset="0" stop-color="#a40790"/><stop offset="0.0512" stop-color="#b4058d"/><stop offset="0.0767" stop-color="#b3058d"/><stop offset="0.1087" stop-color="#a20790"/><stop offset="0.1343" stop-color="#8d0a96"/><stop offset="0.1407" stop-color="#830c99"/><stop offset="0.1439" stop-color="#84159e"/><stop offset="0.1535" stop-color="#9e49b5"/><stop offset="0.1567" stop-color="#a659bb"/><stop offset="0.1631" stop-color="#af6bc3"/><stop offset="0.1663" stop-color="#b170c4"/><stop offset="0.1695" stop-color="#8a1fa2"/><stop offset="0.1727" stop-color="#881da1"/><stop offset="0.1791" stop-color="#800d9a"/><stop offset="0.1886" stop-color="#920995"/><stop offset="0.1918" stop-color="#9a0892"/><stop offset="0.2046" stop-color="#a9068f"/><stop offset="0.2078" stop-color="#ae068e"/><stop offset="0.2558" stop-color="#d00584"/><stop offset="0.2718" stop-color="#df077e"/><stop offset="0.2878" stop-color="#e80c78"/><stop offset="0.3197" stop-color="#f82a6d"/><stop offset="0.3453" stop-color="#ff3a68"/><stop offset="0.3837" stop-color="#ff4965"/><stop offset="0.4285" stop-color="#ff4e64"/><stop offset="0.502" stop-color="#ff4965"/><stop offset="0.6107" stop-color="#fd3469"/><stop offset="0.8889" stop-color="#ea1077"/><stop offset="1" stop-color="#e60b79"/></linearGradient>
<linearGradient id="a31" gradientUnits="userSpaceOnUse" x1="63.5" x2="689" y1="0" y2="0"><stop offset="0" stop-color="#a30790"/><stop offset="0.0512" stop-color="#b4058d"/><stop offset="0.0799" stop-color="#b5058c"/><stop offset="0.1087" stop-color="#a9068f"/><stop offset="0.1439" stop-color="#8d0a96"/><stop offset="0.1535" stop-color="#810d9b"/><stop offset="0.1695" stop-color="#a556ba"/><stop offset="0.1759" stop-color="#ac66c1"/><stop offset="0.1823" stop-color="#b06ec4"/><stop offset="0.1855" stop-color="#8e28a6"/><stop offset="0.1886" stop-color="#8c24a4"/><stop offset="0.195" stop-color="#800c9a"/><stop offset="0.2014" stop-color="#820c9a"/><stop offset="0.2078" stop-color="#8e0a96"/><stop offset="0.2142" stop-color="#930994"/><stop offset="0.2206" stop-color="#9f0791"/><stop offset="0.2238" stop-color="#a00791"/><stop offset="0.2302" stop-color="#aa068f"/><stop offset="0.2334" stop-color="#ab068e"/><stop offset="0.2462" stop-color="#ba058b"/><stop offset="0.2494" stop-color="#bb058b"/><stop offset="0.2526" stop-color="#c0048a"/><stop offset="0.2558" stop-color="#c1048a"/><stop offset="0.291" stop-color="#df087e"/><stop offset="0.307" stop-color="#e80c78"/><stop offset="0.3421" stop-color="#f8296d"/><stop offset="0.3773" stop-color="#ff3b67"/><stop offset="0.4157" stop-color="#ff4665"/><stop offset="0.4764" stop-color="#ff4965"/><stop offset="0.5468" stop-color="#ff3f67"/><stop offset="0.6363" stop-color="#fb306b"/><stop offset="0.8921" stop-color="#ea1077"/><stop offset="1" stop-color="#e60b79"/></linearGradient>
<linearGradient id="a32" gradientUnits="userSpaceOnUse" x1="63.5" x2="689" y1="0" y2="0"><stop offset="0" stop-color="#a20790"/><stop offset="0.0512" stop-color="#b4058d"/><stop offset="0.0831" stop-color="#b6058c"/><stop offset="0.1119" stop-color="#ad068e"/><stop offset="0.1567" stop-color="#8c0a96"/><stop offset="0.1663" stop-color="#810c9a"/><stop offset="0.1759" stop-color="#912ea9"/><stop offset="0.1855" stop-color="#a455ba"/><stop offset="0.1886" stop-color="#a85ebd"/><stop offset="0.1918" stop-color="#aa62bf"/><stop offset="0.195" stop-color="#aa61bf"/><stop offset="0.1982" stop-color="#ab64c0"/><stop offset="0.2014" stop-color="#af6bc2"/><stop offset="0.2046" stop-color="#912fa9"/><stop offset="0.211" stop-color="#871ba1"/><stop offset="0.2142" stop-color="#8c24a5"/><stop offset="0.2174" stop-color="#891fa2"/><stop offset="0.2206" stop-color="#820c99"/><stop offset="0.2238" stop-color="#800c9a"/><stop offset="0.227" stop-color="#830c99"/><stop offset="0.2302" stop-color="#8e0a96"/><stop offset="0.2334" stop-color="#8d0a96"/><stop offset="0.2398" stop-color="#9a0892"/><stop offset="0.243" stop-color="#9c0892"/><stop offset="0.2462" stop-color="#a50790"/><stop offset="0.2494" stop-color="#a50790"/><stop offset="0.2526" stop-color="#ac068e"/><stop offset="0.2558" stop-color="#ae068e"/><stop offset="0.2654" stop-color="#ba058b"/><stop offset="0.3038" stop-color="#db0680"/><stop offset="0.3293" stop-color="#e90e77"/><stop offset="0.3613" stop-color="#f6256f"/><stop offset="0.4061" stop-color="#ff3968"/><stop offset="0.4636" stop-color="#ff4466"/><stop offset="0.518" stop-color="#ff4266"/><stop offset="0.6107" stop-color="#fd336a"/><stop offset="0.8921" stop-color="#ea1077"/><stop offset="1" stop-color="#e60b79"/></linearGradient>
<linearGradient id="a33" gradientUnits="userSpaceOnUse" x1="63.5" x2="689" y1="0" y2="0"><stop offset="0" stop-color="#a10790"/><stop offset="0.0512" stop-color="#b3058d"/><stop offset="0.0863" stop-color="#b7058c"/><stop offset="0.1151" stop-color="#b0068d"/><stop offset="0.1727" stop-color="#8b0a97"/><stop offset="0.1823" stop-color="#810c9a"/><stop offset="0.1855" stop-color="#84149e"/><stop offset="0.1918" stop-color="#902ca8"/><stop offset="0.195" stop-color="#9333ab"/><stop offset="0.1982" stop-color="#9536ac"/><stop offset="0.2046" stop-color="#a352b9"/><stop offset="0.2078" stop-color="#a557bb"/><stop offset="0.211" stop-color="#a352b9"/><stop offset="0.2142" stop-color="#a95fbe"/><stop offset="0.2174" stop-color="#ac67c1"/><stop offset="0.2206" stop-color="#aa61bf"/><stop offset="0.2238" stop-color="#ab63bf"/><stop offset="0.227" stop-color="#9435ac"/><stop offset="0.2302" stop-color="#8c24a4"/><stop offset="0.2334" stop-color="#8e28a6"/><stop offset="0.2366" stop-color="#8e28a6"/><stop offset="0.2398" stop-color="#810c9a"/><stop offset="0.243" stop-color="#85179f"/><stop offset="0.2462" stop-color="#870b98"/><stop offset="0.2494" stop-color="#870b98"/><stop offset="0.2526" stop-color="#8f0a95"/><stop offset="0.2718" stop-color="#ad068e"/><stop offset="0.291" stop-color="#c20489"/><stop offset="0.3293" stop-color="#de077e"/><stop offset="0.3517" stop-color="#e80c78"/><stop offset="0.3741" stop-color="#f11d72"/><stop offset="0.4125" stop-color="#fb306b"/><stop offset="0.4604" stop-color="#ff3c67"/><stop offset="0.5084" stop-color="#ff3f67"/><stop offset="0.6107" stop-color="#fc326a"/><stop offset="0.8921" stop-color="#ea1077"/><stop offset="1" stop-color="#e60b79"/></linearGradient>
<linearGradient id="a34" gradientUnits="userSpaceOnUse" x1="63.5" x2="689" y1="0" y2="0"><stop offset="0" stop-color="#a10791"/><stop offset="0.0512" stop-color="#b3058d"/><stop offset="0.0927" stop-color="#b8058c"/><stop offset="0.1215" stop-color="#b2058d"/><stop offset="0.1886" stop-color="#8c0a96"/><stop offset="0.2014" stop-color="#820c99"/><stop offset="0.2046" stop-color="#83119c"/><stop offset="0.2078" stop-color="#871aa0"/><stop offset="0.211" stop-color="#891da2"/><stop offset="0.2142" stop-color="#8d26a5"/><stop offset="0.2174" stop-color="#9434ab"/><stop offset="0.2206" stop-color="#9639ae"/><stop offset="0.2238" stop-color="#973baf"/><stop offset="0.227" stop-color="#a14fb7"/><stop offset="0.2334" stop-color="#a454ba"/><stop offset="0.2366" stop-color="#ab63bf"/><stop offset="0.2398" stop-color="#a557bb"/><stop offset="0.243" stop-color="#ac66c1"/><stop offset="0.2462" stop-color="#912ea9"/><stop offset="0.2526" stop-color="#902ca8"/><stop offset="0.2558" stop-color="#8619a0"/><stop offset="0.259" stop-color="#871aa0"/><stop offset="0.2622" stop-color="#850b98"/><stop offset="0.2654" stop-color="#860b98"/><stop offset="0.2686" stop-color="#900a95"/><stop offset="0.2718" stop-color="#920994"/><stop offset="0.275" stop-color="#9a0892"/><stop offset="0.291" stop-color="#b0068d"/><stop offset="0.3038" stop-color="#bd048b"/><stop offset="0.3485" stop-color="#dd0680"/><stop offset="0.3773" stop-color="#e80c78"/><stop offset="0.4125" stop-color="#f42270"/><stop offset="0.4668" stop-color="#fd3569"/><stop offset="0.5148" stop-color="#ff3968"/><stop offset="0.7034" stop-color="#f6276e"/><stop offset="0.8953" stop-color="#ea0f77"/><stop offset="1" stop-color="#e60b79"/></linearGradient>
<linearGradient id="a35" gradientUnits="userSpaceOnUse" x1="63.5" x2="689" y1="0" y2="0"><stop offset="0" stop-color="#a00791"/><stop offset="0.0512" stop-color="#b3058d"/><stop offset="0.0959" stop-color="#b9058b"/><stop offset="0.1279" stop-color="#b4058d"/><stop offset="0.2142" stop-color="#8c0a96"/><stop offset="0.2206" stop-color="#850b98"/><stop offset="0.227" stop-color="#810e9b"/><stop offset="0.2302" stop-color="#85179f"/><stop offset="0.2334" stop-color="#86189f"/><stop offset="0.2366" stop-color="#902ca8"/><stop offset="0.2398" stop-color="#9231aa"/><stop offset="0.2462" stop-color="#a04cb6"/><stop offset="0.2494" stop-color="#9e49b5"/><stop offset="0.2526" stop-color="#a95fbe"/><stop offset="0.2558" stop-color="#a14fb7"/><stop offset="0.259" stop-color="#ad67c1"/><stop offset="0.2622" stop-color="#871ba1"/><stop offset="0.2654" stop-color="#9639ae"/><stop offset="0.2686" stop-color="#84149e"/><stop offset="0.2718" stop-color="#8e29a7"/><stop offset="0.275" stop-color="#820c99"/><stop offset="0.2782" stop-color="#810e9b"/><stop offset="0.2814" stop-color="#8b0a97"/><stop offset="0.2846" stop-color="#8c0a96"/><stop offset="0.2878" stop-color="#940994"/><stop offset="0.3038" stop-color="#aa068f"/><stop offset="0.3357" stop-color="#c50488"/><stop offset="0.3805" stop-color="#e0087e"/><stop offset="0.4061" stop-color="#e90e77"/><stop offset="0.4444" stop-color="#f42270"/><stop offset="0.4892" stop-color="#fb306b"/><stop offset="0.5532" stop-color="#fc326a"/><stop offset="0.729" stop-color="#f52370"/><stop offset="0.8953" stop-color="#ea0f77"/><stop offset="1" stop-color="#e60b79"/></linearGradient>
<linearGradient id="a36" gradientUnits="userSpaceOnUse" x1="63.5" x2="689" y1="0" y2="0"><stop offset="0" stop-color="#9f0791"/><stop offset="0.0512" stop-color="#b2058d"/><stop offset="0.1023" stop-color="#ba058b"/><stop offset="0.1343" stop-color="#b6058c"/><stop offset="0.227" stop-color="#920995"/><stop offset="0.2366" stop-color="#8a0a97"/><stop offset="0.243" stop-color="#850b98"/><stop offset="0.2462" stop-color="#810f9b"/><stop offset="0.2494" stop-color="#810d9b"/><stop offset="0.2526" stop-color="#8d27a6"/><stop offset="0.2558" stop-color="#8b22a4"/><stop offset="0.259" stop-color="#9a41b1"/><stop offset="0.2622" stop-color="#9537ad"/><stop offset="0.2654" stop-color="#a558bb"/><stop offset="0.2686" stop-color="#9c44b3"/><stop offset="0.2718" stop-color="#ab64c0"/><stop offset="0.275" stop-color="#9d46b3"/><stop offset="0.2782" stop-color="#993fb0"/><stop offset="0.2814" stop-color="#86179f"/><stop offset="0.2846" stop-color="#9434ab"/><stop offset="0.2878" stop-color="#82119c"/><stop offset="0.291" stop-color="#881ca1"/><stop offset="0.2942" stop-color="#850b99"/><stop offset="0.2974" stop-color="#860b98"/><stop offset="0.3006" stop-color="#8e0a96"/><stop offset="0.3165" stop-color="#a30790"/><stop offset="0.3517" stop-color="#c0048a"/><stop offset="0.4061" stop-color="#df087e"/><stop offset="0.4349" stop-color="#e90e77"/><stop offset="0.4732" stop-color="#f32170"/><stop offset="0.5212" stop-color="#f92b6d"/><stop offset="0.6107" stop-color="#f92c6c"/><stop offset="0.7514" stop-color="#f32071"/><stop offset="0.8985" stop-color="#ea0f77"/><stop offset="1" stop-color="#e60b79"/></linearGradient>
<linearGradient id="a37" gradientUnits="userSpaceOnUse" x1="63.5" x2="689" y1="0" y2="0"><stop offset="0" stop-color="#9e0891"/><stop offset="0.0512" stop-color="#b2058d"/><stop offset="0.1055" stop-color="#bb058b"/><stop offset="0.1407" stop-color="#b8058c"/><stop offset="0.2366" stop-color="#980893"/><stop offset="0.2494" stop-color="#900995"/><stop offset="0.2622" stop-color="#820c99"/><stop offset="0.2654" stop-color="#86189f"/><stop offset="0.2686" stop-color="#881ca1"/><stop offset="0.2718" stop-color="#9333ab"/><stop offset="0.275" stop-color="#9230aa"/><stop offset="0.2782" stop-color="#a04eb7"/><stop offset="0.2814" stop-color="#993eb0"/><stop offset="0.2846" stop-color="#a960be"/><stop offset="0.2878" stop-color="#9a41b1"/><stop offset="0.291" stop-color="#ac66c0"/><stop offset="0.2942" stop-color="#891fa2"/><stop offset="0.2974" stop-color="#983caf"/><stop offset="0.3006" stop-color="#891ea2"/><stop offset="0.3038" stop-color="#8f2aa7"/><stop offset="0.307" stop-color="#82119c"/><stop offset="0.3102" stop-color="#82119c"/><stop offset="0.3133" stop-color="#860b98"/><stop offset="0.3165" stop-color="#890b97"/><stop offset="0.3197" stop-color="#900a95"/><stop offset="0.3389" stop-color="#a60790"/><stop offset="0.3901" stop-color="#c90587"/><stop offset="0.4317" stop-color="#df087e"/><stop offset="0.4636" stop-color="#e90e77"/><stop offset="0.502" stop-color="#f11d72"/><stop offset="0.5596" stop-color="#f6266f"/><stop offset="0.6523" stop-color="#f7276e"/><stop offset="0.8026" stop-color="#f01a73"/><stop offset="0.9081" stop-color="#e90f77"/><stop offset="1" stop-color="#e60b79"/></linearGradient>
<linearGradient id="a38" gradientUnits="userSpaceOnUse" x1="63.5" x2="689" y1="0" y2="0"><stop offset="0" stop-color="#9e0891"/><stop offset="0.048" stop-color="#b1068d"/><stop offset="0.1087" stop-color="#bc048b"/><stop offset="0.1503" stop-color="#b9058b"/><stop offset="0.2366" stop-color="#a00791"/><stop offset="0.2654" stop-color="#900a95"/><stop offset="0.2782" stop-color="#800d9a"/><stop offset="0.2814" stop-color="#83129d"/><stop offset="0.2846" stop-color="#8d27a6"/><stop offset="0.2878" stop-color="#8c25a5"/><stop offset="0.291" stop-color="#9b43b2"/><stop offset="0.2942" stop-color="#9434ab"/><stop offset="0.2974" stop-color="#a659bc"/><stop offset="0.3006" stop-color="#993fb0"/><stop offset="0.3038" stop-color="#ab63bf"/><stop offset="0.307" stop-color="#9f4ab5"/><stop offset="0.3102" stop-color="#9b43b2"/><stop offset="0.3133" stop-color="#8d26a6"/><stop offset="0.3165" stop-color="#9639ae"/><stop offset="0.3197" stop-color="#881ca1"/><stop offset="0.3229" stop-color="#8d27a6"/><stop offset="0.3261" stop-color="#800c9a"/><stop offset="0.3293" stop-color="#82119c"/><stop offset="0.3325" stop-color="#890b97"/><stop offset="0.3357" stop-color="#880b98"/><stop offset="0.3389" stop-color="#910995"/><stop offset="0.3421" stop-color="#910995"/><stop offset="0.3453" stop-color="#980893"/><stop offset="0.3485" stop-color="#990892"/><stop offset="0.3517" stop-color="#9f0891"/><stop offset="0.3549" stop-color="#9f0791"/><stop offset="0.3581" stop-color="#a40790"/><stop offset="0.3613" stop-color="#a50790"/><stop offset="0.3645" stop-color="#a9068f"/><stop offset="0.4157" stop-color="#c90587"/><stop offset="0.4572" stop-color="#de077f"/><stop offset="0.4988" stop-color="#e90e77"/><stop offset="0.5532" stop-color="#f11c72"/><stop offset="0.6267" stop-color="#f52370"/><stop offset="0.7226" stop-color="#f42170"/><stop offset="0.9145" stop-color="#e90e77"/><stop offset="1" stop-color="#e60b79"/></linearGradient>
<linearGradient id="a39" gradientUnits="userSpaceOnUse" x1="63.5" x2="689" y1="0" y2="0"><stop offset="0" stop-color="#9d0891"/><stop offset="0.048" stop-color="#b0068d"/><stop offset="0.1119" stop-color="#bc048b"/><stop offset="0.1599" stop-color="#bb058b"/><stop offset="0.2366" stop-color="#a8068f"/><stop offset="0.2718" stop-color="#980893"/><stop offset="0.2878" stop-color="#890b97"/><stop offset="0.291" stop-color="#840b99"/><stop offset="0.2942" stop-color="#820c99"/><stop offset="0.2974" stop-color="#881ba1"/><stop offset="0.3006" stop-color="#8619a0"/><stop offset="0.3038" stop-color="#9536ac"/><stop offset="0.307" stop-color="#8e29a7"/><stop offset="0.3102" stop-color="#a14eb7"/><stop offset="0.3133" stop-color="#9537ad"/><stop offset="0.3165" stop-color="#a85dbd"/><stop offset="0.3197" stop-color="#9b42b2"/><stop offset="0.3229" stop-color="#ab64c0"/><stop offset="0.3261" stop-color="#8c24a5"/><stop offset="0.3293" stop-color="#9c46b3"/><stop offset="0.3325" stop-color="#8a20a3"/><stop offset="0.3357" stop-color="#973baf"/><stop offset="0.3389" stop-color="#85169e"/><stop offset="0.3421" stop-color="#8f2aa7"/><stop offset="0.3453" stop-color="#820c99"/><stop offset="0.3485" stop-color="#84159e"/><stop offset="0.3517" stop-color="#890b97"/><stop offset="0.3549" stop-color="#850b98"/><stop offset="0.3581" stop-color="#900995"/><stop offset="0.3613" stop-color="#8e0a96"/><stop offset="0.3645" stop-color="#970893"/><stop offset="0.3677" stop-color="#950993"/><stop offset="0.3709" stop-color="#9d0891"/><stop offset="0.3741" stop-color="#9c0892"/><stop offset="0.3773" stop-color="#a20790"/><stop offset="0.3805" stop-color="#a10790"/><stop offset="0.3837" stop-color="#a7078f"/><stop offset="0.3869" stop-color="#a6078f"/><stop offset="0.3901" stop-color="#ab068e"/><stop offset="0.3933" stop-color="#ab068e"/><stop offset="0.3965" stop-color="#af068e"/><stop offset="0.3997" stop-color="#af068e"/><stop offset="0.4029" stop-color="#b3058d"/><stop offset="0.4061" stop-color="#b3058d"/><stop offset="0.4444" stop-color="#ca0586"/><stop offset="0.4892" stop-color="#de077e"/><stop offset="0.5436" stop-color="#e90e77"/><stop offset="0.6075" stop-color="#f01b72"/><stop offset="0.6906" stop-color="#f32071"/><stop offset="0.8153" stop-color="#ef1874"/><stop offset="0.9209" stop-color="#e90e77"/><stop offset="1" stop-color="#e60b79"/></linearGradient>
<linearGradient id="a40" gradientUnits="userSpaceOnUse" x1="63.5" x2="689" y1="0" y2="0"><stop offset="0" stop-color="#9c0892"/><stop offset="0.048" stop-color="#b0068d"/><stop offset="0.1151" stop-color="#bd048b"/><stop offset="0.1695" stop-color="#bc048b"/><stop offset="0.2366" stop-color="#b0068d"/><stop offset="0.2846" stop-color="#9a0892"/><stop offset="0.3006" stop-color="#8d0a96"/><stop offset="0.3038" stop-color="#880b97"/><stop offset="0.307" stop-color="#870b98"/><stop offset="0.3102" stop-color="#810d9b"/><stop offset="0.3133" stop-color="#810d9b"/><stop offset="0.3165" stop-color="#8c25a5"/><stop offset="0.3197" stop-color="#8a20a3"/><stop offset="0.3229" stop-color="#983caf"/><stop offset="0.3261" stop-color="#9332aa"/><stop offset="0.3293" stop-color="#a251b8"/><stop offset="0.3325" stop-color="#993fb1"/><stop offset="0.3357" stop-color="#a85dbd"/><stop offset="0.3389" stop-color="#9d47b4"/><stop offset="0.3421" stop-color="#aa62bf"/><stop offset="0.3453" stop-color="#902ca8"/><stop offset="0.3485" stop-color="#9d48b4"/><stop offset="0.3517" stop-color="#8e27a6"/><stop offset="0.3549" stop-color="#993eb0"/><stop offset="0.3581" stop-color="#891da2"/><stop offset="0.3613" stop-color="#912ea9"/><stop offset="0.3645" stop-color="#820f9b"/><stop offset="0.3677" stop-color="#881ba1"/><stop offset="0.3709" stop-color="#850b98"/><stop offset="0.3741" stop-color="#820c99"/><stop offset="0.3773" stop-color="#8c0a96"/><stop offset="0.3805" stop-color="#8a0a97"/><stop offset="0.3837" stop-color="#930994"/><stop offset="0.3869" stop-color="#920994"/><stop offset="0.3901" stop-color="#990892"/><stop offset="0.3933" stop-color="#990892"/><stop offset="0.3965" stop-color="#9e0891"/><stop offset="0.3997" stop-color="#9e0891"/><stop offset="0.4029" stop-color="#a30790"/><stop offset="0.4061" stop-color="#a30790"/><stop offset="0.4093" stop-color="#a8078f"/><stop offset="0.4125" stop-color="#a7078f"/><stop offset="0.4157" stop-color="#ab068e"/><stop offset="0.486" stop-color="#d00584"/><stop offset="0.5308" stop-color="#df087e"/><stop offset="0.5947" stop-color="#ea0f77"/><stop offset="0.6747" stop-color="#f01b72"/><stop offset="0.7802" stop-color="#f01b73"/><stop offset="0.9369" stop-color="#e80d78"/><stop offset="1" stop-color="#e60b79"/></linearGradient>
<linearGradient id="a41" gradientUnits="userSpaceOnUse" x1="63.5" x2="689" y1="0" y2="0"><stop offset="0" stop-color="#9b0892"/><stop offset="0.048" stop-color="#af068d"/><stop offset="0.1151" stop-color="#bd048b"/><stop offset="0.1759" stop-color="#be048a"/><stop offset="0.2366" stop-color="#b6058c"/><stop offset="0.2846" stop-color="#a20790"/><stop offset="0.3133" stop-color="#910995"/><stop offset="0.3261" stop-color="#850b99"/><stop offset="0.3293" stop-color="#82109c"/><stop offset="0.3325" stop-color="#83139d"/><stop offset="0.3357" stop-color="#8c25a5"/><stop offset="0.3389" stop-color="#8c25a5"/><stop offset="0.3421" stop-color="#973bae"/><stop offset="0.3453" stop-color="#9537ad"/><stop offset="0.3485" stop-color="#a04db7"/><stop offset="0.3517" stop-color="#9c45b3"/><stop offset="0.3549" stop-color="#a65abc"/><stop offset="0.3581" stop-color="#a04eb7"/><stop offset="0.3613" stop-color="#a95fbe"/><stop offset="0.3645" stop-color="#9638ad"/><stop offset="0.3677" stop-color="#9e49b5"/><stop offset="0.3709" stop-color="#9435ac"/><stop offset="0.3741" stop-color="#9a41b1"/><stop offset="0.3773" stop-color="#902ba8"/><stop offset="0.3805" stop-color="#9333ab"/><stop offset="0.3837" stop-color="#891ea2"/><stop offset="0.3869" stop-color="#8b21a3"/><stop offset="0.3901" stop-color="#810e9b"/><stop offset="0.3933" stop-color="#810e9b"/><stop offset="0.3965" stop-color="#870b98"/><stop offset="0.3997" stop-color="#870b98"/><stop offset="0.4029" stop-color="#8f0a95"/><stop offset="0.4061" stop-color="#8e0a96"/><stop offset="0.4093" stop-color="#960993"/><stop offset="0.4125" stop-color="#940994"/><stop offset="0.4157" stop-color="#9c0892"/><stop offset="0.4189" stop-color="#9a0892"/><stop offset="0.4221" stop-color="#9f0791"/><stop offset="0.4253" stop-color="#9f0791"/><stop offset="0.4828" stop-color="#c1048a"/><stop offset="0.5564" stop-color="#dc0680"/><stop offset="0.6427" stop-color="#ea0f77"/><stop offset="0.713" stop-color="#ef1874"/><stop offset="0.809" stop-color="#ee1874"/><stop offset="0.9464" stop-color="#e80c78"/><stop offset="1" stop-color="#e60b79"/></linearGradient>
<linearGradient id="a42" gradientUnits="userSpaceOnUse" x1="63.5" x2="689" y1="0" y2="0"><stop offset="0" stop-color="#9b0892"/><stop offset="0.048" stop-color="#af068e"/><stop offset="0.1183" stop-color="#bd048b"/><stop offset="0.1886" stop-color="#c0048a"/><stop offset="0.243" stop-color="#b9058b"/><stop offset="0.291" stop-color="#a7078f"/><stop offset="0.3325" stop-color="#910995"/><stop offset="0.3485" stop-color="#800d9a"/><stop offset="0.3517" stop-color="#84149d"/><stop offset="0.3549" stop-color="#8a20a3"/><stop offset="0.3581" stop-color="#8d27a6"/><stop offset="0.3613" stop-color="#9434ac"/><stop offset="0.3645" stop-color="#9639ae"/><stop offset="0.3677" stop-color="#9d46b3"/><stop offset="0.3709" stop-color="#9e48b4"/><stop offset="0.3741" stop-color="#a354b9"/><stop offset="0.3773" stop-color="#a353b9"/><stop offset="0.3805" stop-color="#a65abc"/><stop offset="0.3837" stop-color="#a557bb"/><stop offset="0.3869" stop-color="#9d47b4"/><stop offset="0.3901" stop-color="#9a41b1"/><stop offset="0.3933" stop-color="#9a41b1"/><stop offset="0.3965" stop-color="#9538ad"/><stop offset="0.3997" stop-color="#9537ad"/><stop offset="0.4029" stop-color="#8d27a6"/><stop offset="0.4061" stop-color="#8f2aa7"/><stop offset="0.4093" stop-color="#83139d"/><stop offset="0.4125" stop-color="#871aa0"/><stop offset="0.4157" stop-color="#860b98"/><stop offset="0.4189" stop-color="#820c9a"/><stop offset="0.4221" stop-color="#8d0a96"/><stop offset="0.4253" stop-color="#890b97"/><stop offset="0.4285" stop-color="#910995"/><stop offset="0.4317" stop-color="#900a95"/><stop offset="0.4349" stop-color="#950994"/><stop offset="0.4732" stop-color="#ac068e"/><stop offset="0.534" stop-color="#c70587"/><stop offset="0.6075" stop-color="#de077f"/><stop offset="0.6938" stop-color="#ea1077"/><stop offset="0.793" stop-color="#ee1874"/><stop offset="0.9784" stop-color="#e70b79"/><stop offset="1" stop-color="#e60b79"/></linearGradient>
<linearGradient id="a43" gradientUnits="userSpaceOnUse" x1="63.5" x2="689" y1="0" y2="0"><stop offset="0" stop-color="#9a0892"/><stop offset="0.0448" stop-color="#ae068e"/><stop offset="0.1119" stop-color="#bc048b"/><stop offset="0.1886" stop-color="#c1048a"/><stop offset="0.2462" stop-color="#bd048b"/><stop offset="0.2974" stop-color="#ac068e"/><stop offset="0.3485" stop-color="#940994"/><stop offset="0.3677" stop-color="#820c99"/><stop offset="0.3741" stop-color="#86189f"/><stop offset="0.3773" stop-color="#8c25a5"/><stop offset="0.3805" stop-color="#8f2aa7"/><stop offset="0.3837" stop-color="#9638ad"/><stop offset="0.3869" stop-color="#973baf"/><stop offset="0.3901" stop-color="#9e49b5"/><stop offset="0.3933" stop-color="#9e49b5"/><stop offset="0.3965" stop-color="#a454ba"/><stop offset="0.3997" stop-color="#a353b9"/><stop offset="0.4029" stop-color="#a556ba"/><stop offset="0.4061" stop-color="#9e49b5"/><stop offset="0.4093" stop-color="#9a40b1"/><stop offset="0.4125" stop-color="#9f4ab5"/><stop offset="0.4157" stop-color="#9332ab"/><stop offset="0.4189" stop-color="#9c44b3"/><stop offset="0.4221" stop-color="#8a21a3"/><stop offset="0.4253" stop-color="#9537ad"/><stop offset="0.4285" stop-color="#84159e"/><stop offset="0.4317" stop-color="#8d27a6"/><stop offset="0.4349" stop-color="#800d9a"/><stop offset="0.438" stop-color="#84159e"/><stop offset="0.4412" stop-color="#850b99"/><stop offset="0.4444" stop-color="#840b99"/><stop offset="0.4476" stop-color="#8b0a97"/><stop offset="0.4508" stop-color="#8a0a97"/><stop offset="0.454" stop-color="#910995"/><stop offset="0.4572" stop-color="#900a95"/><stop offset="0.4636" stop-color="#960993"/><stop offset="0.4924" stop-color="#a6078f"/><stop offset="0.5723" stop-color="#c80587"/><stop offset="0.6523" stop-color="#df087e"/><stop offset="0.745" stop-color="#ea1077"/><stop offset="0.809" stop-color="#ed1674"/><stop offset="0.9816" stop-color="#e70b79"/><stop offset="1" stop-color="#e60b79"/></linearGradient>
<linearGradient id="a44" gradientUnits="userSpaceOnUse" x1="63.5" x2="689" y1="0" y2="0"><stop offset="0" stop-color="#990892"/><stop offset="0.0448" stop-color="#ad068e"/><stop offset="0.1119" stop-color="#bc048b"/><stop offset="0.1982" stop-color="#c20489"/><stop offset="0.2558" stop-color="#bf048a"/><stop offset="0.3102" stop-color="#ae068e"/><stop offset="0.3677" stop-color="#950993"/><stop offset="0.3805" stop-color="#8c0a96"/><stop offset="0.3837" stop-color="#870b98"/><stop offset="0.3869" stop-color="#860b98"/><stop offset="0.3901" stop-color="#810e9b"/><stop offset="0.3933" stop-color="#810e9b"/><stop offset="0.3965" stop-color="#8a20a3"/><stop offset="0.3997" stop-color="#8a1fa3"/><stop offset="0.4029" stop-color="#9232aa"/><stop offset="0.4061" stop-color="#9333ab"/><stop offset="0.4125" stop-color="#9d47b4"/><stop offset="0.4157" stop-color="#9c44b3"/><stop offset="0.4189" stop-color="#a557bb"/><stop offset="0.4221" stop-color="#9b43b2"/><stop offset="0.4253" stop-color="#a85dbd"/><stop offset="0.4285" stop-color="#9332ab"/><stop offset="0.4317" stop-color="#a353b9"/><stop offset="0.4349" stop-color="#912ea9"/><stop offset="0.438" stop-color="#a04db7"/><stop offset="0.4412" stop-color="#902da8"/><stop offset="0.4444" stop-color="#9b42b2"/><stop offset="0.4476" stop-color="#8c23a4"/><stop offset="0.4508" stop-color="#9434ab"/><stop offset="0.454" stop-color="#871ba1"/><stop offset="0.4572" stop-color="#8b22a4"/><stop offset="0.4604" stop-color="#85169e"/><stop offset="0.4636" stop-color="#800d9a"/><stop offset="0.4668" stop-color="#810c9a"/><stop offset="0.4828" stop-color="#900a95"/><stop offset="0.518" stop-color="#a30790"/><stop offset="0.6043" stop-color="#c60488"/><stop offset="0.6843" stop-color="#de077f"/><stop offset="0.7674" stop-color="#e90e77"/><stop offset="0.8217" stop-color="#ed1575"/><stop offset="0.988" stop-color="#e60b79"/><stop offset="1" stop-color="#e60b79"/></linearGradient>
<linearGradient id="a45" gradientUnits="userSpaceOnUse" x1="63.5" x2="689" y1="0" y2="0"><stop offset="0" stop-color="#980893"/><stop offset="0.0448" stop-color="#ad068e"/><stop offset="0.1119" stop-color="#bc048b"/><stop offset="0.2078" stop-color="#c30489"/><stop offset="0.2686" stop-color="#c0048a"/><stop offset="0.3293" stop-color="#ae068e"/><stop offset="0.3805" stop-color="#9b0892"/><stop offset="0.3901" stop-color="#940994"/><stop offset="0.3933" stop-color="#940994"/><stop offset="0.3965" stop-color="#8f0a95"/><stop offset="0.3997" stop-color="#8f0a95"/><stop offset="0.4029" stop-color="#890b97"/><stop offset="0.4061" stop-color="#890b97"/><stop offset="0.4093" stop-color="#830c99"/><stop offset="0.4125" stop-color="#810c9a"/><stop offset="0.4157" stop-color="#83139d"/><stop offset="0.4189" stop-color="#891da2"/><stop offset="0.4221" stop-color="#891fa2"/><stop offset="0.4253" stop-color="#9332ab"/><stop offset="0.4285" stop-color="#8e29a7"/><stop offset="0.4317" stop-color="#9c45b3"/><stop offset="0.4349" stop-color="#9231aa"/><stop offset="0.438" stop-color="#a354b9"/><stop offset="0.4412" stop-color="#9639ae"/><stop offset="0.4444" stop-color="#a75bbc"/><stop offset="0.4476" stop-color="#9b42b2"/><stop offset="0.4508" stop-color="#a455ba"/><stop offset="0.454" stop-color="#9c45b3"/><stop offset="0.4572" stop-color="#a150b8"/><stop offset="0.4604" stop-color="#a04cb6"/><stop offset="0.4636" stop-color="#983db0"/><stop offset="0.4668" stop-color="#9c46b3"/><stop offset="0.4924" stop-color="#820f9b"/><stop offset="0.4988" stop-color="#840b99"/><stop offset="0.5084" stop-color="#8d0a96"/><stop offset="0.534" stop-color="#9b0892"/><stop offset="0.6555" stop-color="#cb0586"/><stop offset="0.7194" stop-color="#dd077f"/><stop offset="0.793" stop-color="#ea0f77"/><stop offset="0.8377" stop-color="#ec1375"/><stop offset="0.9912" stop-color="#e60b79"/><stop offset="1" stop-color="#e60b79"/></linearGradient>
<linearGradient id="a46" gradientUnits="userSpaceOnUse" x1="63.5" x2="689" y1="0" y2="0"><stop offset="0" stop-color="#980893"/><stop offset="0.0448" stop-color="#ac068e"/><stop offset="0.1119" stop-color="#bc048b"/><stop offset="0.2142" stop-color="#c40489"/><stop offset="0.2814" stop-color="#c1048a"/><stop offset="0.3485" stop-color="#af068e"/><stop offset="0.3997" stop-color="#9d0891"/><stop offset="0.4221" stop-color="#8e0a96"/><stop offset="0.4285" stop-color="#890b97"/><stop offset="0.4317" stop-color="#830b99"/><stop offset="0.4349" stop-color="#840b99"/><stop offset="0.438" stop-color="#85169e"/><stop offset="0.4412" stop-color="#83129c"/><stop offset="0.4444" stop-color="#8e28a6"/><stop offset="0.4476" stop-color="#8c24a4"/><stop offset="0.4508" stop-color="#9639ae"/><stop offset="0.454" stop-color="#9639ae"/><stop offset="0.4604" stop-color="#a14fb7"/><stop offset="0.4636" stop-color="#9c44b2"/><stop offset="0.4668" stop-color="#a556ba"/><stop offset="0.47" stop-color="#a75bbc"/><stop offset="0.4732" stop-color="#a75cbd"/><stop offset="0.4796" stop-color="#a455ba"/><stop offset="0.4828" stop-color="#a455ba"/><stop offset="0.486" stop-color="#a14fb7"/><stop offset="0.4892" stop-color="#a14fb7"/><stop offset="0.502" stop-color="#9639ae"/><stop offset="0.5084" stop-color="#8c24a5"/><stop offset="0.5116" stop-color="#8c25a5"/><stop offset="0.5148" stop-color="#891fa2"/><stop offset="0.518" stop-color="#820f9b"/><stop offset="0.5212" stop-color="#83119c"/><stop offset="0.5244" stop-color="#800c9a"/><stop offset="0.5276" stop-color="#850b98"/><stop offset="0.5308" stop-color="#850b99"/><stop offset="0.5436" stop-color="#900a95"/><stop offset="0.5468" stop-color="#8f0a95"/><stop offset="0.5659" stop-color="#9a0892"/><stop offset="0.6395" stop-color="#b7058c"/><stop offset="0.7002" stop-color="#ce0585"/><stop offset="0.7706" stop-color="#e2097c"/><stop offset="0.8313" stop-color="#eb1276"/><stop offset="1" stop-color="#e60b79"/></linearGradient>
<linearGradient id="a47" gradientUnits="userSpaceOnUse" x1="63.5" x2="689" y1="0" y2="0"><stop offset="0" stop-color="#970893"/><stop offset="0.0448" stop-color="#ac068e"/><stop offset="0.1087" stop-color="#bb048b"/><stop offset="0.211" stop-color="#c40489"/><stop offset="0.2878" stop-color="#c30489"/><stop offset="0.3485" stop-color="#b6058c"/><stop offset="0.4221" stop-color="#9c0892"/><stop offset="0.4412" stop-color="#920995"/><stop offset="0.4572" stop-color="#830b99"/><stop offset="0.4604" stop-color="#83139d"/><stop offset="0.4636" stop-color="#84159e"/><stop offset="0.47" stop-color="#902da8"/><stop offset="0.4764" stop-color="#983db0"/><stop offset="0.4796" stop-color="#9a41b1"/><stop offset="0.4828" stop-color="#9f4bb6"/><stop offset="0.4892" stop-color="#a454ba"/><stop offset="0.4956" stop-color="#a455ba"/><stop offset="0.502" stop-color="#a75bbc"/><stop offset="0.5052" stop-color="#a557bb"/><stop offset="0.5084" stop-color="#9f4ab5"/><stop offset="0.5116" stop-color="#a354b9"/><stop offset="0.5148" stop-color="#a454ba"/><stop offset="0.518" stop-color="#9c45b3"/><stop offset="0.5212" stop-color="#9e48b4"/><stop offset="0.5244" stop-color="#9d47b4"/><stop offset="0.5276" stop-color="#9332ab"/><stop offset="0.5308" stop-color="#973caf"/><stop offset="0.5372" stop-color="#8e29a7"/><stop offset="0.5404" stop-color="#8f2aa7"/><stop offset="0.5436" stop-color="#85179f"/><stop offset="0.5468" stop-color="#881da2"/><stop offset="0.55" stop-color="#83129d"/><stop offset="0.5564" stop-color="#810c9a"/><stop offset="0.5596" stop-color="#850b98"/><stop offset="0.5627" stop-color="#850b99"/><stop offset="0.5659" stop-color="#8a0a97"/><stop offset="0.5691" stop-color="#890b97"/><stop offset="0.5723" stop-color="#8e0a96"/><stop offset="0.5755" stop-color="#8d0a96"/><stop offset="0.5787" stop-color="#910995"/><stop offset="0.5819" stop-color="#900a95"/><stop offset="0.5851" stop-color="#940994"/><stop offset="0.5883" stop-color="#930994"/><stop offset="0.5915" stop-color="#960993"/><stop offset="0.6203" stop-color="#a00791"/><stop offset="0.6235" stop-color="#a30790"/><stop offset="0.6267" stop-color="#a30790"/><stop offset="0.7098" stop-color="#c60488"/><stop offset="0.7834" stop-color="#e1087d"/><stop offset="0.8345" stop-color="#ea1076"/><stop offset="0.9241" stop-color="#e90e77"/><stop offset="1" stop-color="#e60b79"/></linearGradient>
<linearGradient id="a48" gradientUnits="userSpaceOnUse" x1="63.5" x2="689" y1="0" y2="0"><stop offset="0" stop-color="#960993"/><stop offset="0.0416" stop-color="#aa068f"/><stop offset="0.1055" stop-color="#bb058b"/><stop offset="0.2046" stop-color="#c40489"/><stop offset="0.2974" stop-color="#c40489"/><stop offset="0.3581" stop-color="#b9058b"/><stop offset="0.4412" stop-color="#9e0891"/><stop offset="0.4572" stop-color="#970893"/><stop offset="0.4796" stop-color="#840b99"/><stop offset="0.4828" stop-color="#800c9a"/><stop offset="0.4924" stop-color="#881da1"/><stop offset="0.4956" stop-color="#8b22a4"/><stop offset="0.502" stop-color="#9536ac"/><stop offset="0.5052" stop-color="#983daf"/><stop offset="0.5084" stop-color="#973aae"/><stop offset="0.5116" stop-color="#9b42b2"/><stop offset="0.5148" stop-color="#a14fb7"/><stop offset="0.518" stop-color="#9e49b5"/><stop offset="0.5212" stop-color="#a04db6"/><stop offset="0.5244" stop-color="#a558bb"/><stop offset="0.5276" stop-color="#9e48b4"/><stop offset="0.5308" stop-color="#a659bb"/><stop offset="0.534" stop-color="#a659bc"/><stop offset="0.5372" stop-color="#a04db6"/><stop offset="0.5404" stop-color="#a65abc"/><stop offset="0.5436" stop-color="#9d48b4"/><stop offset="0.5468" stop-color="#a252b9"/><stop offset="0.5532" stop-color="#9b43b2"/><stop offset="0.5564" stop-color="#9c46b3"/><stop offset="0.5596" stop-color="#9231aa"/><stop offset="0.5627" stop-color="#973baf"/><stop offset="0.5659" stop-color="#8c25a5"/><stop offset="0.5691" stop-color="#912fa9"/><stop offset="0.5723" stop-color="#891ea2"/><stop offset="0.5755" stop-color="#8b22a3"/><stop offset="0.5787" stop-color="#84149e"/><stop offset="0.5819" stop-color="#85159e"/><stop offset="0.5851" stop-color="#810c9a"/><stop offset="0.5883" stop-color="#810c9a"/><stop offset="0.5915" stop-color="#850b98"/><stop offset="0.5947" stop-color="#850b98"/><stop offset="0.5979" stop-color="#890b97"/><stop offset="0.6011" stop-color="#890b97"/><stop offset="0.6043" stop-color="#8d0a96"/><stop offset="0.6075" stop-color="#8c0a96"/><stop offset="0.6107" stop-color="#900a95"/><stop offset="0.6139" stop-color="#8f0a95"/><stop offset="0.6171" stop-color="#930994"/><stop offset="0.6203" stop-color="#920994"/><stop offset="0.6235" stop-color="#950993"/><stop offset="0.6267" stop-color="#950994"/><stop offset="0.6427" stop-color="#9d0891"/><stop offset="0.6459" stop-color="#9d0891"/><stop offset="0.6491" stop-color="#a00791"/><stop offset="0.6747" stop-color="#a9068f"/><stop offset="0.7578" stop-color="#ce0585"/><stop offset="0.7994" stop-color="#e1087d"/><stop offset="0.8441" stop-color="#ea0f77"/><stop offset="0.9241" stop-color="#e90e77"/><stop offset="1" stop-color="#e60b79"/></linearGradient>
<linearGradient id="a49" gradientUnits="userSpaceOnUse" x1="63.5" x2="689" y1="0" y2="0"><stop offset="0" stop-color="#950993"/><stop offset="0.0416" stop-color="#aa068f"/><stop offset="0.1023" stop-color="#ba058b"/><stop offset="0.195" stop-color="#c30489"/><stop offset="0.3038" stop-color="#c50488"/><stop offset="0.3709" stop-color="#bc048b"/><stop offset="0.4572" stop-color="#a20790"/><stop offset="0.4988" stop-color="#8d0a96"/><stop offset="0.5116" stop-color="#830c99"/><stop offset="0.518" stop-color="#85159e"/><stop offset="0.5212" stop-color="#86179f"/><stop offset="0.5244" stop-color="#8e27a6"/><stop offset="0.5276" stop-color="#8d26a5"/><stop offset="0.534" stop-color="#973baf"/><stop offset="0.5372" stop-color="#912ea9"/><stop offset="0.5404" stop-color="#9d48b4"/><stop offset="0.5436" stop-color="#9a40b1"/><stop offset="0.5468" stop-color="#9f4bb6"/><stop offset="0.55" stop-color="#a250b8"/><stop offset="0.5532" stop-color="#9c46b3"/><stop offset="0.5564" stop-color="#a557bb"/><stop offset="0.5596" stop-color="#973baf"/><stop offset="0.5627" stop-color="#a85ebd"/><stop offset="0.5659" stop-color="#a04eb7"/><stop offset="0.5691" stop-color="#a75abc"/><stop offset="0.5723" stop-color="#a04eb7"/><stop offset="0.5755" stop-color="#a454ba"/><stop offset="0.5787" stop-color="#9e49b5"/><stop offset="0.5819" stop-color="#9f4bb5"/><stop offset="0.5851" stop-color="#993fb1"/><stop offset="0.5883" stop-color="#9940b1"/><stop offset="0.5915" stop-color="#9434ac"/><stop offset="0.5947" stop-color="#9434ac"/><stop offset="0.5979" stop-color="#8e29a7"/><stop offset="0.6011" stop-color="#8e29a7"/><stop offset="0.6043" stop-color="#881da1"/><stop offset="0.6075" stop-color="#891ea2"/><stop offset="0.6107" stop-color="#83129c"/><stop offset="0.6139" stop-color="#83139d"/><stop offset="0.6171" stop-color="#820c99"/><stop offset="0.6203" stop-color="#810c9a"/><stop offset="0.6235" stop-color="#860b98"/><stop offset="0.6267" stop-color="#850b98"/><stop offset="0.6299" stop-color="#890b97"/><stop offset="0.6331" stop-color="#890b97"/><stop offset="0.6363" stop-color="#8c0a96"/><stop offset="0.6395" stop-color="#8c0a96"/><stop offset="0.6427" stop-color="#900a95"/><stop offset="0.6459" stop-color="#8f0a95"/><stop offset="0.6491" stop-color="#930994"/><stop offset="0.6523" stop-color="#920994"/><stop offset="0.6555" stop-color="#950993"/><stop offset="0.6587" stop-color="#950994"/><stop offset="0.7386" stop-color="#b7058c"/><stop offset="0.8058" stop-color="#de077e"/><stop offset="0.8473" stop-color="#e90e77"/><stop offset="0.9049" stop-color="#ea0f77"/><stop offset="1" stop-color="#e60b79"/></linearGradient>
<linearGradient id="a50" gradientUnits="userSpaceOnUse" x1="63.5" x2="689" y1="0" y2="0"><stop offset="0" stop-color="#940994"/><stop offset="0.0416" stop-color="#aa068f"/><stop offset="0.1023" stop-color="#ba058b"/><stop offset="0.195" stop-color="#c30489"/><stop offset="0.3197" stop-color="#c50488"/><stop offset="0.3901" stop-color="#bd048b"/><stop offset="0.4988" stop-color="#9d0891"/><stop offset="0.5212" stop-color="#930994"/><stop offset="0.5276" stop-color="#8d0a96"/><stop offset="0.534" stop-color="#870b98"/><stop offset="0.5372" stop-color="#880b97"/><stop offset="0.5404" stop-color="#820c99"/><stop offset="0.5436" stop-color="#800c9a"/><stop offset="0.5468" stop-color="#83119c"/><stop offset="0.55" stop-color="#881da1"/><stop offset="0.5532" stop-color="#85169f"/><stop offset="0.5564" stop-color="#902da8"/><stop offset="0.5596" stop-color="#8b22a4"/><stop offset="0.5627" stop-color="#9638ae"/><stop offset="0.5659" stop-color="#9333ab"/><stop offset="0.5691" stop-color="#9a41b1"/><stop offset="0.5723" stop-color="#9a40b1"/><stop offset="0.5755" stop-color="#9d47b4"/><stop offset="0.5851" stop-color="#9f4ab5"/><stop offset="0.5883" stop-color="#9e4ab5"/><stop offset="0.5915" stop-color="#a557bb"/><stop offset="0.6011" stop-color="#a354b9"/><stop offset="0.6043" stop-color="#a04cb6"/><stop offset="0.6075" stop-color="#a04db7"/><stop offset="0.6107" stop-color="#9b43b2"/><stop offset="0.6139" stop-color="#9c45b3"/><stop offset="0.6171" stop-color="#9639ae"/><stop offset="0.6203" stop-color="#973baf"/><stop offset="0.6235" stop-color="#912ea9"/><stop offset="0.6267" stop-color="#9230aa"/><stop offset="0.6299" stop-color="#8c24a5"/><stop offset="0.6331" stop-color="#8c25a5"/><stop offset="0.6363" stop-color="#871aa0"/><stop offset="0.6395" stop-color="#871aa0"/><stop offset="0.6427" stop-color="#810f9b"/><stop offset="0.6459" stop-color="#82109c"/><stop offset="0.6491" stop-color="#840b99"/><stop offset="0.6523" stop-color="#820c99"/><stop offset="0.6555" stop-color="#880b98"/><stop offset="0.6587" stop-color="#860b98"/><stop offset="0.6619" stop-color="#8a0a97"/><stop offset="0.6651" stop-color="#890b97"/><stop offset="0.6811" stop-color="#910995"/><stop offset="0.7386" stop-color="#a9068f"/><stop offset="0.793" stop-color="#cf0585"/><stop offset="0.8185" stop-color="#df077e"/><stop offset="0.8569" stop-color="#e90d78"/><stop offset="0.9017" stop-color="#ea0f77"/><stop offset="1" stop-color="#e60b79"/></linearGradient>
<linearGradient id="a51" gradientUnits="userSpaceOnUse" x1="63.5" x2="689" y1="0" y2="0"><stop offset="0" stop-color="#940994"/><stop offset="0.0416" stop-color="#a9068f"/><stop offset="0.1023" stop-color="#ba058b"/><stop offset="0.195" stop-color="#c30489"/><stop offset="0.3325" stop-color="#c60488"/><stop offset="0.4061" stop-color="#be048a"/><stop offset="0.5308" stop-color="#9c0892"/><stop offset="0.55" stop-color="#920995"/><stop offset="0.5532" stop-color="#930994"/><stop offset="0.5564" stop-color="#8d0a96"/><stop offset="0.5596" stop-color="#8d0a96"/><stop offset="0.5723" stop-color="#810c9a"/><stop offset="0.5755" stop-color="#810d9b"/><stop offset="0.5787" stop-color="#86179f"/><stop offset="0.5819" stop-color="#8619a0"/><stop offset="0.5851" stop-color="#8c24a5"/><stop offset="0.5883" stop-color="#8c24a4"/><stop offset="0.5915" stop-color="#912fa9"/><stop offset="0.5947" stop-color="#912ea9"/><stop offset="0.5979" stop-color="#9538ad"/><stop offset="0.6011" stop-color="#9537ad"/><stop offset="0.6043" stop-color="#983db0"/><stop offset="0.6139" stop-color="#9b42b2"/><stop offset="0.6171" stop-color="#993eb0"/><stop offset="0.6203" stop-color="#a557bb"/><stop offset="0.6235" stop-color="#a352b9"/><stop offset="0.6267" stop-color="#a454ba"/><stop offset="0.6299" stop-color="#a14eb7"/><stop offset="0.6331" stop-color="#a14eb7"/><stop offset="0.6363" stop-color="#9d47b4"/><stop offset="0.6395" stop-color="#9d47b4"/><stop offset="0.6427" stop-color="#983daf"/><stop offset="0.6459" stop-color="#993fb0"/><stop offset="0.6491" stop-color="#9230aa"/><stop offset="0.6523" stop-color="#9536ad"/><stop offset="0.6555" stop-color="#8b22a4"/><stop offset="0.6587" stop-color="#902ca8"/><stop offset="0.6619" stop-color="#85179f"/><stop offset="0.6651" stop-color="#8b21a3"/><stop offset="0.6683" stop-color="#83129d"/><stop offset="0.6715" stop-color="#85179f"/><stop offset="0.6747" stop-color="#800c9a"/><stop offset="0.7418" stop-color="#9e0891"/><stop offset="0.7802" stop-color="#ba058b"/><stop offset="0.8249" stop-color="#dd077f"/><stop offset="0.8569" stop-color="#e70c79"/><stop offset="0.8985" stop-color="#ea0f77"/><stop offset="1" stop-color="#e60b79"/></linearGradient>
<linearGradient id="a52" gradientUnits="userSpaceOnUse" x1="63.5" x2="689" y1="0" y2="0"><stop offset="0" stop-color="#930994"/><stop offset="0.0416" stop-color="#a9068f"/><stop offset="0.1023" stop-color="#b9058b"/><stop offset="0.195" stop-color="#c30489"/><stop offset="0.3485" stop-color="#c70488"/><stop offset="0.4253" stop-color="#c0048a"/><stop offset="0.5532" stop-color="#a00791"/><stop offset="0.5819" stop-color="#930994"/><stop offset="0.5851" stop-color="#8f0a95"/><stop offset="0.5883" stop-color="#8f0a95"/><stop offset="0.5915" stop-color="#8a0a97"/><stop offset="0.5947" stop-color="#8b0a97"/><stop offset="0.5979" stop-color="#860b98"/><stop offset="0.6011" stop-color="#860b98"/><stop offset="0.6043" stop-color="#810c9a"/><stop offset="0.6075" stop-color="#800c9a"/><stop offset="0.6107" stop-color="#85169e"/><stop offset="0.6139" stop-color="#85179f"/><stop offset="0.6171" stop-color="#8a20a3"/><stop offset="0.6203" stop-color="#8b22a4"/><stop offset="0.6235" stop-color="#8f2aa7"/><stop offset="0.6267" stop-color="#902ca8"/><stop offset="0.6299" stop-color="#9332ab"/><stop offset="0.6331" stop-color="#9332aa"/><stop offset="0.6363" stop-color="#9537ad"/><stop offset="0.6427" stop-color="#9536ac"/><stop offset="0.6459" stop-color="#9639ae"/><stop offset="0.6491" stop-color="#a04cb6"/><stop offset="0.6523" stop-color="#a455ba"/><stop offset="0.6555" stop-color="#9c44b3"/><stop offset="0.6587" stop-color="#a353b9"/><stop offset="0.6619" stop-color="#973aae"/><stop offset="0.6651" stop-color="#a04db7"/><stop offset="0.6683" stop-color="#9333ab"/><stop offset="0.6715" stop-color="#9c45b3"/><stop offset="0.6747" stop-color="#9231aa"/><stop offset="0.6779" stop-color="#973bae"/><stop offset="0.6811" stop-color="#8f2ba8"/><stop offset="0.6843" stop-color="#9230aa"/><stop offset="0.6875" stop-color="#8b23a4"/><stop offset="0.6906" stop-color="#8d27a6"/><stop offset="0.6938" stop-color="#86189f"/><stop offset="0.697" stop-color="#881da1"/><stop offset="0.7002" stop-color="#84149e"/><stop offset="0.7098" stop-color="#810c9a"/><stop offset="0.7514" stop-color="#970993"/><stop offset="0.7834" stop-color="#af068e"/><stop offset="0.8217" stop-color="#d40583"/><stop offset="0.8409" stop-color="#e0087d"/><stop offset="0.8793" stop-color="#e90e77"/><stop offset="1" stop-color="#e60b79"/></linearGradient>
<linearGradient id="a53" gradientUnits="userSpaceOnUse" x1="63.5" x2="689" y1="0" y2="0"><stop offset="0" stop-color="#920994"/><stop offset="0.0384" stop-color="#a7078f"/><stop offset="0.0959" stop-color="#b8058c"/><stop offset="0.1855" stop-color="#c30489"/><stop offset="0.3613" stop-color="#c80587"/><stop offset="0.4476" stop-color="#c0048a"/><stop offset="0.5755" stop-color="#a20790"/><stop offset="0.6011" stop-color="#9a0892"/><stop offset="0.6203" stop-color="#8e0a96"/><stop offset="0.6235" stop-color="#8b0a97"/><stop offset="0.6267" stop-color="#8a0a97"/><stop offset="0.6299" stop-color="#860b98"/><stop offset="0.6331" stop-color="#860b98"/><stop offset="0.6363" stop-color="#810c9a"/><stop offset="0.6395" stop-color="#810c9a"/><stop offset="0.6427" stop-color="#84139d"/><stop offset="0.6491" stop-color="#871aa0"/><stop offset="0.6523" stop-color="#8b22a4"/><stop offset="0.6555" stop-color="#881da1"/><stop offset="0.6587" stop-color="#902da9"/><stop offset="0.6619" stop-color="#881ca1"/><stop offset="0.6651" stop-color="#9435ac"/><stop offset="0.6683" stop-color="#86189f"/><stop offset="0.6715" stop-color="#9537ad"/><stop offset="0.6747" stop-color="#871aa0"/><stop offset="0.6779" stop-color="#a455ba"/><stop offset="0.6811" stop-color="#9a41b1"/><stop offset="0.6843" stop-color="#a353b9"/><stop offset="0.6875" stop-color="#993eb0"/><stop offset="0.6906" stop-color="#a04eb7"/><stop offset="0.6938" stop-color="#973baf"/><stop offset="0.697" stop-color="#9d46b3"/><stop offset="0.7002" stop-color="#983db0"/><stop offset="0.7034" stop-color="#9639ae"/><stop offset="0.7066" stop-color="#9639ae"/><stop offset="0.7162" stop-color="#8e28a6"/><stop offset="0.7226" stop-color="#8a21a3"/><stop offset="0.7354" stop-color="#800d9a"/><stop offset="0.777" stop-color="#9c0892"/><stop offset="0.8217" stop-color="#ca0586"/><stop offset="0.8441" stop-color="#de077f"/><stop offset="0.8825" stop-color="#e90e77"/><stop offset="1" stop-color="#e60b79"/></linearGradient>
<linearGradient id="a54" gradientUnits="userSpaceOnUse" x1="63.5" x2="689" y1="0" y2="0"><stop offset="0" stop-color="#910995"/><stop offset="0.0384" stop-color="#a7078f"/><stop offset="0.0959" stop-color="#b8058c"/><stop offset="0.1823" stop-color="#c20489"/><stop offset="0.3741" stop-color="#c80587"/><stop offset="0.4668" stop-color="#c10489"/><stop offset="0.5627" stop-color="#ae068e"/><stop offset="0.6203" stop-color="#9e0891"/><stop offset="0.6331" stop-color="#990892"/><stop offset="0.6363" stop-color="#960993"/><stop offset="0.6395" stop-color="#960993"/><stop offset="0.6427" stop-color="#930994"/><stop offset="0.6555" stop-color="#8c0a96"/><stop offset="0.6587" stop-color="#880b97"/><stop offset="0.6619" stop-color="#890b97"/><stop offset="0.6651" stop-color="#830c99"/><stop offset="0.6683" stop-color="#870b98"/><stop offset="0.6715" stop-color="#83119c"/><stop offset="0.6747" stop-color="#840b99"/><stop offset="0.6779" stop-color="#881ba1"/><stop offset="0.6811" stop-color="#820c99"/><stop offset="0.6843" stop-color="#8c24a4"/><stop offset="0.6875" stop-color="#82119c"/><stop offset="0.6906" stop-color="#8f2aa7"/><stop offset="0.6938" stop-color="#881da1"/><stop offset="0.697" stop-color="#8f2aa7"/><stop offset="0.7002" stop-color="#8e29a7"/><stop offset="0.7034" stop-color="#8a21a3"/><stop offset="0.7066" stop-color="#a251b8"/><stop offset="0.7226" stop-color="#9c44b2"/><stop offset="0.7418" stop-color="#8c24a5"/><stop offset="0.7546" stop-color="#800d9a"/><stop offset="0.7866" stop-color="#980893"/><stop offset="0.8313" stop-color="#cb0586"/><stop offset="0.8505" stop-color="#dd0680"/><stop offset="0.8825" stop-color="#e90d78"/><stop offset="0.9241" stop-color="#e90e77"/><stop offset="1" stop-color="#e60b79"/></linearGradient>
<linearGradient id="a55" gradientUnits="userSpaceOnUse" x1="63.5" x2="689" y1="0" y2="0"><stop offset="0" stop-color="#910995"/><stop offset="0.0384" stop-color="#a6078f"/><stop offset="0.0959" stop-color="#b8058c"/><stop offset="0.1823" stop-color="#c20489"/><stop offset="0.3901" stop-color="#c90587"/><stop offset="0.4924" stop-color="#c20489"/><stop offset="0.5819" stop-color="#b1068d"/><stop offset="0.6523" stop-color="#9e0891"/><stop offset="0.6683" stop-color="#980893"/><stop offset="0.6715" stop-color="#940994"/><stop offset="0.6747" stop-color="#950994"/><stop offset="0.6779" stop-color="#900a95"/><stop offset="0.6811" stop-color="#920995"/><stop offset="0.6843" stop-color="#8c0a96"/><stop offset="0.6875" stop-color="#8d0a96"/><stop offset="0.6906" stop-color="#870b98"/><stop offset="0.6938" stop-color="#880b98"/><stop offset="0.7002" stop-color="#810c9a"/><stop offset="0.7034" stop-color="#840b99"/><stop offset="0.7066" stop-color="#83129d"/><stop offset="0.713" stop-color="#8619a0"/><stop offset="0.7194" stop-color="#881da1"/><stop offset="0.7322" stop-color="#86189f"/><stop offset="0.7354" stop-color="#9c45b3"/><stop offset="0.7482" stop-color="#9537ad"/><stop offset="0.7706" stop-color="#810d9b"/><stop offset="0.793" stop-color="#920994"/><stop offset="0.8217" stop-color="#b4058c"/><stop offset="0.8473" stop-color="#d30583"/><stop offset="0.8697" stop-color="#e30a7b"/><stop offset="0.8921" stop-color="#e90e77"/><stop offset="1" stop-color="#e60b79"/></linearGradient>
<linearGradient id="a56" gradientUnits="userSpaceOnUse" x1="63.5" x2="689" y1="0" y2="0"><stop offset="0" stop-color="#900a95"/><stop offset="0.0384" stop-color="#a60790"/><stop offset="0.0959" stop-color="#b7058c"/><stop offset="0.1823" stop-color="#c20489"/><stop offset="0.4061" stop-color="#c90587"/><stop offset="0.518" stop-color="#c30489"/><stop offset="0.6011" stop-color="#b5058c"/><stop offset="0.6811" stop-color="#9f0791"/><stop offset="0.7066" stop-color="#920994"/><stop offset="0.7386" stop-color="#830c99"/><stop offset="0.7514" stop-color="#800c9a"/><stop offset="0.7546" stop-color="#993fb0"/><stop offset="0.7642" stop-color="#9434ac"/><stop offset="0.7866" stop-color="#810c9a"/><stop offset="0.8122" stop-color="#9b0892"/><stop offset="0.8473" stop-color="#cb0586"/><stop offset="0.8697" stop-color="#e1097d"/><stop offset="0.8889" stop-color="#e90d77"/><stop offset="1" stop-color="#e60b79"/></linearGradient>
<linearGradient id="a57" gradientUnits="userSpaceOnUse" x1="63.5" x2="689" y1="0" y2="0"><stop offset="0" stop-color="#8f0a95"/><stop offset="0.0384" stop-color="#a50790"/><stop offset="0.0927" stop-color="#b6058c"/><stop offset="0.1759" stop-color="#c20489"/><stop offset="0.4125" stop-color="#ca0586"/><stop offset="0.5404" stop-color="#c50488"/><stop offset="0.6203" stop-color="#b8058c"/><stop offset="0.7098" stop-color="#9f0791"/><stop offset="0.745" stop-color="#8f0a96"/><stop offset="0.761" stop-color="#840b99"/><stop offset="0.7674" stop-color="#840b99"/><stop offset="0.7706" stop-color="#963aae"/><stop offset="0.7802" stop-color="#902da9"/><stop offset="0.7962" stop-color="#810e9b"/><stop offset="0.809" stop-color="#8c0a96"/><stop offset="0.8313" stop-color="#a9068f"/><stop offset="0.8505" stop-color="#c60488"/><stop offset="0.8697" stop-color="#df077e"/><stop offset="0.8857" stop-color="#e80c78"/><stop offset="0.9145" stop-color="#e90e77"/><stop offset="1" stop-color="#e60b79"/></linearGradient>
<linearGradient id="a58" gradientUnits="userSpaceOnUse" x1="63.5" x2="689" y1="0" y2="0"><stop offset="0" stop-color="#8e0a96"/><stop offset="0.0384" stop-color="#a50790"/><stop offset="0.0927" stop-color="#b6058c"/><stop offset="0.1759" stop-color="#c20489"/><stop offset="0.4253" stop-color="#ca0586"/><stop offset="0.5564" stop-color="#c60488"/><stop offset="0.6395" stop-color="#ba058b"/><stop offset="0.7354" stop-color="#a10791"/><stop offset="0.7578" stop-color="#930994"/><stop offset="0.7738" stop-color="#890b97"/><stop offset="0.7802" stop-color="#880b98"/><stop offset="0.7834" stop-color="#9536ad"/><stop offset="0.793" stop-color="#8f2ba7"/><stop offset="0.8058" stop-color="#82109c"/><stop offset="0.809" stop-color="#810c9a"/><stop offset="0.8281" stop-color="#980893"/><stop offset="0.8601" stop-color="#cb0586"/><stop offset="0.8697" stop-color="#dc0680"/><stop offset="0.8857" stop-color="#e70c79"/><stop offset="0.9145" stop-color="#e90e77"/><stop offset="1" stop-color="#e60b79"/></linearGradient>
<linearGradient id="a59" gradientUnits="userSpaceOnUse" x1="63.5" x2="689" y1="0" y2="0"><stop offset="0" stop-color="#8e0a96"/><stop offset="0.0384" stop-color="#a40790"/><stop offset="0.0927" stop-color="#b6058c"/><stop offset="0.1759" stop-color="#c20489"/><stop offset="0.4349" stop-color="#cb0586"/><stop offset="0.5755" stop-color="#c80587"/><stop offset="0.6651" stop-color="#bc048b"/><stop offset="0.7418" stop-color="#a7078f"/><stop offset="0.7674" stop-color="#990892"/><stop offset="0.7866" stop-color="#8c0a96"/><stop offset="0.793" stop-color="#8b0a97"/><stop offset="0.7962" stop-color="#9333ab"/><stop offset="0.8058" stop-color="#8d25a5"/><stop offset="0.8153" stop-color="#82119c"/><stop offset="0.8185" stop-color="#810c9a"/><stop offset="0.8377" stop-color="#9b0892"/><stop offset="0.8537" stop-color="#b5058c"/><stop offset="0.8697" stop-color="#d80681"/><stop offset="0.8793" stop-color="#e30a7b"/><stop offset="0.8985" stop-color="#e90e77"/><stop offset="1" stop-color="#e60b79"/></linearGradient>
<linearGradient id="a60" gradientUnits="userSpaceOnUse" x1="63.5" x2="689" y1="0" y2="0"><stop offset="0" stop-color="#8d0a96"/><stop offset="0.0352" stop-color="#a20790"/><stop offset="0.0863" stop-color="#b4058c"/><stop offset="0.1663" stop-color="#c1048a"/><stop offset="0.4061" stop-color="#ca0586"/><stop offset="0.5851" stop-color="#ca0587"/><stop offset="0.6811" stop-color="#bf048a"/><stop offset="0.7418" stop-color="#af068e"/><stop offset="0.777" stop-color="#9e0891"/><stop offset="0.7994" stop-color="#8e0a96"/><stop offset="0.8026" stop-color="#8e0a96"/><stop offset="0.8058" stop-color="#9230aa"/><stop offset="0.8153" stop-color="#8b22a4"/><stop offset="0.8249" stop-color="#810d9b"/><stop offset="0.8377" stop-color="#8f0a95"/><stop offset="0.8505" stop-color="#a30790"/><stop offset="0.8665" stop-color="#cd0585"/><stop offset="0.8729" stop-color="#db0680"/><stop offset="0.8857" stop-color="#e60b79"/><stop offset="0.9113" stop-color="#e90e77"/><stop offset="1" stop-color="#e60b79"/></linearGradient>
<linearGradient id="a61" gradientUnits="userSpaceOnUse" x1="63.5" x2="689" y1="0" y2="0"><stop offset="0" stop-color="#8c0a96"/><stop offset="0.0352" stop-color="#a20790"/><stop offset="0.0863" stop-color="#b4058d"/><stop offset="0.1663" stop-color="#c1048a"/><stop offset="0.4029" stop-color="#ca0586"/><stop offset="0.6043" stop-color="#cb0586"/><stop offset="0.7002" stop-color="#c1048a"/><stop offset="0.745" stop-color="#b6058c"/><stop offset="0.7866" stop-color="#a10791"/><stop offset="0.809" stop-color="#910995"/><stop offset="0.8122" stop-color="#910995"/><stop offset="0.8153" stop-color="#902ca8"/><stop offset="0.8217" stop-color="#8c25a5"/><stop offset="0.8313" stop-color="#82109c"/><stop offset="0.8345" stop-color="#810c9a"/><stop offset="0.8473" stop-color="#920994"/><stop offset="0.8537" stop-color="#a10791"/><stop offset="0.8665" stop-color="#c90587"/><stop offset="0.8761" stop-color="#de077f"/><stop offset="0.8889" stop-color="#e70b79"/><stop offset="0.9177" stop-color="#e90e77"/><stop offset="1" stop-color="#e60b79"/></linearGradient>
<linearGradient id="a62" gradientUnits="userSpaceOnUse" x1="63.5" x2="689" y1="0" y2="0"><stop offset="0" stop-color="#8c0a96"/><stop offset="0.0352" stop-color="#a20790"/><stop offset="0.0863" stop-color="#b4058d"/><stop offset="0.1663" stop-color="#c1048a"/><stop offset="0.4029" stop-color="#ca0586"/><stop offset="0.6267" stop-color="#cc0586"/><stop offset="0.7226" stop-color="#c30489"/><stop offset="0.761" stop-color="#b7058c"/><stop offset="0.7994" stop-color="#9f0791"/><stop offset="0.8185" stop-color="#930994"/><stop offset="0.8217" stop-color="#930994"/><stop offset="0.8249" stop-color="#8e29a7"/><stop offset="0.8345" stop-color="#871aa0"/><stop offset="0.8409" stop-color="#800c9a"/><stop offset="0.8473" stop-color="#880b98"/><stop offset="0.8537" stop-color="#980892"/><stop offset="0.8665" stop-color="#c50488"/><stop offset="0.8761" stop-color="#dc0680"/><stop offset="0.8889" stop-color="#e70b79"/><stop offset="0.9177" stop-color="#e90e77"/><stop offset="1" stop-color="#e60b79"/></linearGradient>
<linearGradient id="a63" gradientUnits="userSpaceOnUse" x1="63.5" x2="689" y1="0" y2="0"><stop offset="0" stop-color="#8c0a96"/><stop offset="0.0352" stop-color="#a20790"/><stop offset="0.0863" stop-color="#b4058d"/><stop offset="0.1663" stop-color="#c1048a"/><stop offset="0.4061" stop-color="#ca0586"/><stop offset="0.6523" stop-color="#cd0586"/><stop offset="0.7386" stop-color="#c50488"/><stop offset="0.7738" stop-color="#b8058c"/><stop offset="0.8249" stop-color="#960993"/><stop offset="0.8281" stop-color="#960993"/><stop offset="0.8313" stop-color="#8d26a5"/><stop offset="0.8409" stop-color="#871aa0"/><stop offset="0.8473" stop-color="#810c9a"/><stop offset="0.8537" stop-color="#920994"/><stop offset="0.8665" stop-color="#c20489"/><stop offset="0.8761" stop-color="#db0680"/><stop offset="0.8857" stop-color="#e50a7a"/><stop offset="0.9049" stop-color="#e90e77"/><stop offset="1" stop-color="#e60b79"/></linearGradient>
<linearGradient id="a64" gradientUnits="userSpaceOnUse" x1="63.5" x2="689" y1="0" y2="0"><stop offset="0" stop-color="#8c0a96"/><stop offset="0.0352" stop-color="#a20790"/><stop offset="0.0863" stop-color="#b4058d"/><stop offset="0.1663" stop-color="#c1048a"/><stop offset="0.4061" stop-color="#ca0586"/><stop offset="0.6747" stop-color="#cd0585"/><stop offset="0.745" stop-color="#c80587"/><stop offset="0.777" stop-color="#be048b"/><stop offset="0.8153" stop-color="#a20790"/><stop offset="0.8313" stop-color="#980893"/><stop offset="0.8345" stop-color="#980893"/><stop offset="0.8377" stop-color="#8c25a5"/><stop offset="0.8441" stop-color="#891ea2"/><stop offset="0.8473" stop-color="#84149d"/><stop offset="0.8505" stop-color="#840b99"/><stop offset="0.8601" stop-color="#a8078f"/><stop offset="0.8665" stop-color="#c1048a"/><stop offset="0.8761" stop-color="#db0681"/><stop offset="0.8857" stop-color="#e50a7a"/><stop offset="0.9049" stop-color="#e90e77"/><stop offset="1" stop-color="#e60b79"/></linearGradient>
<linearGradient id="a65" gradientUnits="userSpaceOnUse" x1="63.5" x2="689" y1="0" y2="0"><stop offset="0" stop-color="#8c0a96"/><stop offset="0.0352" stop-color="#a20790"/><stop offset="0.0863" stop-color="#b4058d"/><stop offset="0.1663" stop-color="#c1048a"/><stop offset="0.4061" stop-color="#ca0586"/><stop offset="0.6938" stop-color="#ce0585"/><stop offset="0.7578" stop-color="#c80587"/><stop offset="0.7866" stop-color="#be048a"/><stop offset="0.8345" stop-color="#9b0892"/><stop offset="0.8409" stop-color="#9b0892"/><stop offset="0.8441" stop-color="#8a20a3"/><stop offset="0.8473" stop-color="#85159e"/><stop offset="0.8505" stop-color="#840b99"/><stop offset="0.8601" stop-color="#a7078f"/><stop offset="0.8665" stop-color="#c1048a"/><stop offset="0.8761" stop-color="#da0681"/><stop offset="0.8857" stop-color="#e50a7a"/><stop offset="0.9049" stop-color="#e90e77"/><stop offset="1" stop-color="#e60b79"/></linearGradient>
<filter id="blA" color-interpolation-filters="sRGB" x="-2%" y="-10%" width="104%" height="120%"><feGaussianBlur stdDeviation="1.6"/></filter>
<linearGradient id="bandg" gradientUnits="userSpaceOnUse" x1="97" x2="575" y1="0" y2="0"><stop offset="0" stop-color="#f3eefb" stop-opacity="0"/><stop offset="0.04" stop-color="#f3eefb" stop-opacity="0.15"/><stop offset="0.16" stop-color="#f3eefb" stop-opacity="0.95"/><stop offset="0.72" stop-color="#f3eefb" stop-opacity="0.95"/><stop offset="0.88" stop-color="#efe6fa" stop-opacity="0.6"/><stop offset="1" stop-color="#e8dcf6" stop-opacity="0.1"/></linearGradient>
<filter id="blC" color-interpolation-filters="sRGB" x="-5%" y="-30%" width="110%" height="160%"><feGaussianBlur stdDeviation="1.3"/></filter>
<linearGradient id="wa0" gradientUnits="userSpaceOnUse" x1="234" y1="168.3" x2="156.2" y2="162.2"><stop offset="0.0" stop-color="#fff" stop-opacity="0"/><stop offset="0.42" stop-color="#fff" stop-opacity="1"/></linearGradient>
<linearGradient id="wa1" gradientUnits="userSpaceOnUse" x1="138.5" y1="189" x2="113.6" y2="174.9"><stop offset="0.0" stop-color="#fff" stop-opacity="0"/><stop offset="0.45" stop-color="#fff" stop-opacity="1"/></linearGradient>
<linearGradient id="wa2" gradientUnits="userSpaceOnUse" x1="93" y1="225" x2="130.5" y2="225"><stop offset="0.0" stop-color="#fff" stop-opacity="0"/><stop offset="0.4" stop-color="#fff" stop-opacity="1"/></linearGradient>
<linearGradient id="wa3" gradientUnits="userSpaceOnUse" x1="670" y1="194.3" x2="592.4" y2="194.3"><stop offset="0.0" stop-color="#fff" stop-opacity="0"/><stop offset="0.35" stop-color="#fff" stop-opacity="1"/></linearGradient>
<clipPath id="clipB"><polygon points="70.5,506.9 375,459.5 680,459.5 680,764 70.5,764"/></clipPath>
<clipPath id="axB"><rect x="70.5" y="358" width="609.5" height="406"/></clipPath>
<linearGradient id="b0" gradientUnits="userSpaceOnUse" x1="60.5" x2="690" y1="0" y2="0"><stop offset="0" stop-color="#af068e"/><stop offset="0.2891" stop-color="#bb058b"/><stop offset="0.3114" stop-color="#bb058b"/><stop offset="0.3145" stop-color="#ff3968"/><stop offset="0.3336" stop-color="#ff5562"/><stop offset="0.3431" stop-color="#ff635e"/><stop offset="0.3685" stop-color="#ff7852"/><stop offset="0.394" stop-color="#ff9a3a"/><stop offset="0.4321" stop-color="#ffba24"/><stop offset="0.4512" stop-color="#ffce1d"/><stop offset="0.4734" stop-color="#ffe31e"/><stop offset="0.4925" stop-color="#fff326"/><stop offset="0.5115" stop-color="#fff225"/><stop offset="0.5433" stop-color="#ffdd1c"/><stop offset="0.6005" stop-color="#ffc420"/><stop offset="0.699" stop-color="#ffab2c"/><stop offset="0.8197" stop-color="#ff9f36"/><stop offset="1" stop-color="#ff9240"/></linearGradient>
<linearGradient id="b1" gradientUnits="userSpaceOnUse" x1="60.5" x2="690" y1="0" y2="0"><stop offset="0" stop-color="#af068e"/><stop offset="0.2859" stop-color="#ba058b"/><stop offset="0.3114" stop-color="#b9058b"/><stop offset="0.3145" stop-color="#fc336a"/><stop offset="0.3272" stop-color="#ff4466"/><stop offset="0.3431" stop-color="#ff615f"/><stop offset="0.3717" stop-color="#ff7a51"/><stop offset="0.394" stop-color="#ff9a3a"/><stop offset="0.4321" stop-color="#ffba24"/><stop offset="0.4512" stop-color="#ffcf1d"/><stop offset="0.4702" stop-color="#ffe11d"/><stop offset="0.4893" stop-color="#fff326"/><stop offset="0.5147" stop-color="#fff226"/><stop offset="0.5433" stop-color="#ffde1c"/><stop offset="0.5973" stop-color="#ffc51f"/><stop offset="0.6958" stop-color="#ffac2b"/><stop offset="0.8165" stop-color="#ffa035"/><stop offset="1" stop-color="#ff9240"/></linearGradient>
<linearGradient id="b2" gradientUnits="userSpaceOnUse" x1="60.5" x2="690" y1="0" y2="0"><stop offset="0" stop-color="#af068e"/><stop offset="0.2828" stop-color="#ba058b"/><stop offset="0.3145" stop-color="#b7058c"/><stop offset="0.3177" stop-color="#fb306b"/><stop offset="0.3272" stop-color="#ff3e67"/><stop offset="0.3431" stop-color="#ff5f60"/><stop offset="0.3749" stop-color="#ff7d4f"/><stop offset="0.394" stop-color="#ff993b"/><stop offset="0.4321" stop-color="#ffba24"/><stop offset="0.4512" stop-color="#ffcf1d"/><stop offset="0.4702" stop-color="#ffe21d"/><stop offset="0.4861" stop-color="#fff225"/><stop offset="0.5179" stop-color="#fff226"/><stop offset="0.5433" stop-color="#ffdf1c"/><stop offset="0.5909" stop-color="#ffc81e"/><stop offset="0.6863" stop-color="#ffae2a"/><stop offset="0.8006" stop-color="#ffa135"/><stop offset="1" stop-color="#ff9240"/></linearGradient>
<linearGradient id="b3" gradientUnits="userSpaceOnUse" x1="60.5" x2="690" y1="0" y2="0"><stop offset="0" stop-color="#ae068e"/><stop offset="0.2828" stop-color="#ba058b"/><stop offset="0.3145" stop-color="#b4058d"/><stop offset="0.3177" stop-color="#f92b6d"/><stop offset="0.3304" stop-color="#ff3f67"/><stop offset="0.3431" stop-color="#ff5c61"/><stop offset="0.3749" stop-color="#ff7b50"/><stop offset="0.3876" stop-color="#ff8f42"/><stop offset="0.4003" stop-color="#ff9d37"/><stop offset="0.4321" stop-color="#ffba24"/><stop offset="0.4512" stop-color="#ffcf1d"/><stop offset="0.4702" stop-color="#ffe31e"/><stop offset="0.4829" stop-color="#fff125"/><stop offset="0.5179" stop-color="#fff326"/><stop offset="0.5465" stop-color="#ffdd1c"/><stop offset="0.6005" stop-color="#ffc420"/><stop offset="0.6958" stop-color="#ffac2b"/><stop offset="0.8165" stop-color="#ffa035"/><stop offset="1" stop-color="#ff9240"/></linearGradient>
<linearGradient id="b4" gradientUnits="userSpaceOnUse" x1="60.5" x2="690" y1="0" y2="0"><stop offset="0" stop-color="#ae068e"/><stop offset="0.2828" stop-color="#ba058b"/><stop offset="0.3114" stop-color="#b1068d"/><stop offset="0.3145" stop-color="#b1068d"/><stop offset="0.3177" stop-color="#f7286e"/><stop offset="0.3304" stop-color="#ff3c67"/><stop offset="0.3463" stop-color="#ff5e60"/><stop offset="0.3749" stop-color="#ff7a51"/><stop offset="0.3908" stop-color="#ff9240"/><stop offset="0.4035" stop-color="#ffa035"/><stop offset="0.4321" stop-color="#ffba24"/><stop offset="0.4512" stop-color="#ffcf1d"/><stop offset="0.4702" stop-color="#ffe41e"/><stop offset="0.4797" stop-color="#fff024"/><stop offset="0.5083" stop-color="#fff326"/><stop offset="0.521" stop-color="#fff226"/><stop offset="0.5465" stop-color="#ffde1c"/><stop offset="0.5973" stop-color="#ffc61f"/><stop offset="0.6958" stop-color="#ffac2b"/><stop offset="0.8165" stop-color="#ff9f36"/><stop offset="1" stop-color="#ff9240"/></linearGradient>
<linearGradient id="b5" gradientUnits="userSpaceOnUse" x1="60.5" x2="690" y1="0" y2="0"><stop offset="0" stop-color="#ae068e"/><stop offset="0.2796" stop-color="#ba058b"/><stop offset="0.3114" stop-color="#ae068e"/><stop offset="0.3145" stop-color="#af068e"/><stop offset="0.3177" stop-color="#f6266f"/><stop offset="0.3304" stop-color="#ff3a68"/><stop offset="0.3495" stop-color="#ff6160"/><stop offset="0.3781" stop-color="#ff7e4f"/><stop offset="0.394" stop-color="#ff963d"/><stop offset="0.4289" stop-color="#ffb725"/><stop offset="0.4512" stop-color="#ffcf1d"/><stop offset="0.4702" stop-color="#ffe41e"/><stop offset="0.4797" stop-color="#fff024"/><stop offset="0.5147" stop-color="#fff326"/><stop offset="0.521" stop-color="#fff326"/><stop offset="0.5465" stop-color="#ffde1c"/><stop offset="0.5941" stop-color="#ffc71e"/><stop offset="0.6926" stop-color="#ffad2b"/><stop offset="0.8133" stop-color="#ffa035"/><stop offset="1" stop-color="#ff9240"/></linearGradient>
<linearGradient id="b6" gradientUnits="userSpaceOnUse" x1="60.5" x2="690" y1="0" y2="0"><stop offset="0" stop-color="#ae068e"/><stop offset="0.2796" stop-color="#b9058b"/><stop offset="0.2986" stop-color="#b1068d"/><stop offset="0.3114" stop-color="#ad068e"/><stop offset="0.3145" stop-color="#ae068e"/><stop offset="0.3177" stop-color="#f52370"/><stop offset="0.3304" stop-color="#ff3a68"/><stop offset="0.3495" stop-color="#ff6060"/><stop offset="0.3781" stop-color="#ff7c50"/><stop offset="0.3908" stop-color="#ff9141"/><stop offset="0.4003" stop-color="#ff9c38"/><stop offset="0.4321" stop-color="#ffba24"/><stop offset="0.4512" stop-color="#ffcf1d"/><stop offset="0.4702" stop-color="#ffe41e"/><stop offset="0.4797" stop-color="#fff024"/><stop offset="0.5179" stop-color="#fff326"/><stop offset="0.5242" stop-color="#fff024"/><stop offset="0.5465" stop-color="#ffde1c"/><stop offset="0.5941" stop-color="#ffc71e"/><stop offset="0.6926" stop-color="#ffad2b"/><stop offset="0.8133" stop-color="#ffa035"/><stop offset="1" stop-color="#ff9240"/></linearGradient>
<linearGradient id="b7" gradientUnits="userSpaceOnUse" x1="60.5" x2="690" y1="0" y2="0"><stop offset="0" stop-color="#ad068e"/><stop offset="0.2764" stop-color="#b9058b"/><stop offset="0.2923" stop-color="#b4058d"/><stop offset="0.3082" stop-color="#ab068e"/><stop offset="0.3177" stop-color="#b5058c"/><stop offset="0.3209" stop-color="#f42170"/><stop offset="0.3304" stop-color="#ff3968"/><stop offset="0.3495" stop-color="#ff5e60"/><stop offset="0.3781" stop-color="#ff7b50"/><stop offset="0.3908" stop-color="#ff9041"/><stop offset="0.4035" stop-color="#ff9e36"/><stop offset="0.4321" stop-color="#ffb924"/><stop offset="0.4512" stop-color="#ffcf1d"/><stop offset="0.4702" stop-color="#ffe41e"/><stop offset="0.4797" stop-color="#fff024"/><stop offset="0.5147" stop-color="#fff326"/><stop offset="0.521" stop-color="#fff326"/><stop offset="0.5465" stop-color="#ffde1c"/><stop offset="0.5909" stop-color="#ffc81e"/><stop offset="0.6831" stop-color="#ffae29"/><stop offset="0.8006" stop-color="#ffa035"/><stop offset="1" stop-color="#ff9240"/></linearGradient>
<linearGradient id="b8" gradientUnits="userSpaceOnUse" x1="60.5" x2="690" y1="0" y2="0"><stop offset="0" stop-color="#ad068e"/><stop offset="0.2764" stop-color="#b9058b"/><stop offset="0.2923" stop-color="#b3058d"/><stop offset="0.305" stop-color="#ab068e"/><stop offset="0.3082" stop-color="#ac068e"/><stop offset="0.3177" stop-color="#bf048a"/><stop offset="0.3209" stop-color="#ee1874"/><stop offset="0.3304" stop-color="#fe3768"/><stop offset="0.3368" stop-color="#ff4665"/><stop offset="0.3527" stop-color="#ff625f"/><stop offset="0.3781" stop-color="#ff7a51"/><stop offset="0.3908" stop-color="#ff8f42"/><stop offset="0.4035" stop-color="#ff9e37"/><stop offset="0.4353" stop-color="#ffbc23"/><stop offset="0.4543" stop-color="#ffd21d"/><stop offset="0.4702" stop-color="#ffe41e"/><stop offset="0.4797" stop-color="#ffef24"/><stop offset="0.5147" stop-color="#fff326"/><stop offset="0.521" stop-color="#fff326"/><stop offset="0.5465" stop-color="#ffde1c"/><stop offset="0.5941" stop-color="#ffc71e"/><stop offset="0.6926" stop-color="#ffad2b"/><stop offset="0.8133" stop-color="#ff9f36"/><stop offset="1" stop-color="#ff9240"/></linearGradient>
<linearGradient id="b9" gradientUnits="userSpaceOnUse" x1="60.5" x2="690" y1="0" y2="0"><stop offset="0" stop-color="#ad068e"/><stop offset="0.2764" stop-color="#b9058c"/><stop offset="0.2923" stop-color="#b3058d"/><stop offset="0.305" stop-color="#ab068e"/><stop offset="0.3082" stop-color="#ad068e"/><stop offset="0.3145" stop-color="#bf048a"/><stop offset="0.3177" stop-color="#c90587"/><stop offset="0.3209" stop-color="#e70c78"/><stop offset="0.3241" stop-color="#ee1774"/><stop offset="0.3304" stop-color="#fd3469"/><stop offset="0.3336" stop-color="#ff3f67"/><stop offset="0.3527" stop-color="#ff615f"/><stop offset="0.3781" stop-color="#ff7a51"/><stop offset="0.3971" stop-color="#ff983c"/><stop offset="0.4321" stop-color="#ffb825"/><stop offset="0.4543" stop-color="#ffd11d"/><stop offset="0.4702" stop-color="#ffe31d"/><stop offset="0.4829" stop-color="#fff024"/><stop offset="0.5179" stop-color="#fff326"/><stop offset="0.5465" stop-color="#ffdd1c"/><stop offset="0.5973" stop-color="#ffc61f"/><stop offset="0.6958" stop-color="#ffac2b"/><stop offset="0.8197" stop-color="#ff9f36"/><stop offset="1" stop-color="#ff9240"/></linearGradient>
<linearGradient id="b10" gradientUnits="userSpaceOnUse" x1="60.5" x2="690" y1="0" y2="0"><stop offset="0" stop-color="#ad068e"/><stop offset="0.2764" stop-color="#b8058c"/><stop offset="0.2923" stop-color="#b3058d"/><stop offset="0.305" stop-color="#ab068e"/><stop offset="0.3082" stop-color="#af068e"/><stop offset="0.3145" stop-color="#c40489"/><stop offset="0.3209" stop-color="#e0087d"/><stop offset="0.3241" stop-color="#ea1076"/><stop offset="0.3304" stop-color="#fc326a"/><stop offset="0.3336" stop-color="#ff3e67"/><stop offset="0.3527" stop-color="#ff6060"/><stop offset="0.3813" stop-color="#ff7d4f"/><stop offset="0.394" stop-color="#ff9240"/><stop offset="0.4067" stop-color="#ffa035"/><stop offset="0.4353" stop-color="#ffbb24"/><stop offset="0.4543" stop-color="#ffd01d"/><stop offset="0.4702" stop-color="#ffe11d"/><stop offset="0.4829" stop-color="#fff024"/><stop offset="0.5147" stop-color="#fff326"/><stop offset="0.521" stop-color="#fff024"/><stop offset="0.5465" stop-color="#ffdd1c"/><stop offset="0.5973" stop-color="#ffc61f"/><stop offset="0.6958" stop-color="#ffac2b"/><stop offset="0.8197" stop-color="#ff9f36"/><stop offset="1" stop-color="#ff9240"/></linearGradient>
<linearGradient id="b11" gradientUnits="userSpaceOnUse" x1="60.5" x2="690" y1="0" y2="0"><stop offset="0" stop-color="#ac068e"/><stop offset="0.2764" stop-color="#b8058c"/><stop offset="0.2923" stop-color="#b3058d"/><stop offset="0.305" stop-color="#ac068e"/><stop offset="0.3082" stop-color="#af068e"/><stop offset="0.3114" stop-color="#b7058c"/><stop offset="0.3177" stop-color="#d10584"/><stop offset="0.3209" stop-color="#e0087d"/><stop offset="0.3241" stop-color="#e90e77"/><stop offset="0.3304" stop-color="#fb306b"/><stop offset="0.3336" stop-color="#ff3c67"/><stop offset="0.34" stop-color="#ff4a64"/><stop offset="0.3558" stop-color="#ff635e"/><stop offset="0.3813" stop-color="#ff7c50"/><stop offset="0.3908" stop-color="#ff8d44"/><stop offset="0.4035" stop-color="#ff9c38"/><stop offset="0.4353" stop-color="#ffb924"/><stop offset="0.4543" stop-color="#ffce1d"/><stop offset="0.4734" stop-color="#ffe31e"/><stop offset="0.4861" stop-color="#fff024"/><stop offset="0.5147" stop-color="#fff326"/><stop offset="0.5433" stop-color="#ffde1c"/><stop offset="0.5878" stop-color="#ffc91e"/><stop offset="0.6831" stop-color="#ffae29"/><stop offset="0.8038" stop-color="#ffa035"/><stop offset="0.9976" stop-color="#ff9240"/><stop offset="1" stop-color="#ff9240"/></linearGradient>
<linearGradient id="b12" gradientUnits="userSpaceOnUse" x1="60.5" x2="690" y1="0" y2="0"><stop offset="0" stop-color="#ac068e"/><stop offset="0.2796" stop-color="#b8058c"/><stop offset="0.2955" stop-color="#b2058d"/><stop offset="0.305" stop-color="#ad068e"/><stop offset="0.3082" stop-color="#af068e"/><stop offset="0.3114" stop-color="#b7058c"/><stop offset="0.3209" stop-color="#dd067f"/><stop offset="0.3241" stop-color="#e70c78"/><stop offset="0.3304" stop-color="#f92d6c"/><stop offset="0.3336" stop-color="#ff3a68"/><stop offset="0.3368" stop-color="#ff4366"/><stop offset="0.3558" stop-color="#ff625f"/><stop offset="0.3813" stop-color="#ff7a51"/><stop offset="0.3971" stop-color="#ff933f"/><stop offset="0.4162" stop-color="#ffa531"/><stop offset="0.4448" stop-color="#ffc320"/><stop offset="0.4734" stop-color="#ffe11d"/><stop offset="0.4925" stop-color="#fff125"/><stop offset="0.5115" stop-color="#fff326"/><stop offset="0.5433" stop-color="#ffde1c"/><stop offset="0.5973" stop-color="#ffc51f"/><stop offset="0.6958" stop-color="#ffac2b"/><stop offset="0.8197" stop-color="#ff9f36"/><stop offset="1" stop-color="#ff9240"/></linearGradient>
<linearGradient id="b13" gradientUnits="userSpaceOnUse" x1="60.5" x2="690" y1="0" y2="0"><stop offset="0" stop-color="#ac068e"/><stop offset="0.2828" stop-color="#b8058c"/><stop offset="0.305" stop-color="#ae068e"/><stop offset="0.3082" stop-color="#b0068d"/><stop offset="0.3114" stop-color="#b6058c"/><stop offset="0.3209" stop-color="#da0681"/><stop offset="0.3241" stop-color="#e60b79"/><stop offset="0.3336" stop-color="#fe3768"/><stop offset="0.3368" stop-color="#ff4166"/><stop offset="0.3558" stop-color="#ff615f"/><stop offset="0.3813" stop-color="#ff7753"/><stop offset="0.4003" stop-color="#ff953e"/><stop offset="0.4384" stop-color="#ffba24"/><stop offset="0.4575" stop-color="#ffcf1d"/><stop offset="0.4766" stop-color="#ffe21d"/><stop offset="0.4988" stop-color="#fff125"/><stop offset="0.5115" stop-color="#fff024"/><stop offset="0.5433" stop-color="#ffdd1c"/><stop offset="0.6005" stop-color="#ffc420"/><stop offset="0.699" stop-color="#ffab2c"/><stop offset="0.8261" stop-color="#ff9e36"/><stop offset="1" stop-color="#ff9240"/></linearGradient>
<linearGradient id="b14" gradientUnits="userSpaceOnUse" x1="60.5" x2="690" y1="0" y2="0"><stop offset="0" stop-color="#ac068e"/><stop offset="0.2859" stop-color="#b8058c"/><stop offset="0.3082" stop-color="#b0068d"/><stop offset="0.3114" stop-color="#b5058c"/><stop offset="0.3209" stop-color="#d70682"/><stop offset="0.3241" stop-color="#e40a7b"/><stop offset="0.3272" stop-color="#ed1575"/><stop offset="0.3336" stop-color="#fd336a"/><stop offset="0.3368" stop-color="#ff3e67"/><stop offset="0.3527" stop-color="#ff5363"/><stop offset="0.3622" stop-color="#ff635f"/><stop offset="0.3844" stop-color="#ff7852"/><stop offset="0.3971" stop-color="#ff8e43"/><stop offset="0.4098" stop-color="#ff9e37"/><stop offset="0.4416" stop-color="#ffbc23"/><stop offset="0.4607" stop-color="#ffd11d"/><stop offset="0.4797" stop-color="#ffe21d"/><stop offset="0.4988" stop-color="#ffed23"/><stop offset="0.5147" stop-color="#ffec22"/><stop offset="0.5433" stop-color="#ffdc1c"/><stop offset="0.6037" stop-color="#ffc320"/><stop offset="0.699" stop-color="#ffab2c"/><stop offset="0.8261" stop-color="#ff9e36"/><stop offset="1" stop-color="#ff9240"/></linearGradient>
<linearGradient id="b15" gradientUnits="userSpaceOnUse" x1="60.5" x2="690" y1="0" y2="0"><stop offset="0" stop-color="#ab068e"/><stop offset="0.2891" stop-color="#b8058c"/><stop offset="0.3082" stop-color="#b0068d"/><stop offset="0.3114" stop-color="#b4058c"/><stop offset="0.3209" stop-color="#d40583"/><stop offset="0.3241" stop-color="#e1097d"/><stop offset="0.3272" stop-color="#e90e77"/><stop offset="0.3336" stop-color="#f82a6d"/><stop offset="0.3368" stop-color="#fc326a"/><stop offset="0.3463" stop-color="#ff3f67"/><stop offset="0.3654" stop-color="#ff625f"/><stop offset="0.3844" stop-color="#ff7554"/><stop offset="0.394" stop-color="#ff8549"/><stop offset="0.4098" stop-color="#ff9c38"/><stop offset="0.4416" stop-color="#ffbb24"/><stop offset="0.4607" stop-color="#ffcf1d"/><stop offset="0.4829" stop-color="#ffe21d"/><stop offset="0.502" stop-color="#ffeb22"/><stop offset="0.5179" stop-color="#ffe820"/><stop offset="0.5433" stop-color="#ffdb1c"/><stop offset="0.61" stop-color="#ffc121"/><stop offset="0.7021" stop-color="#ffab2c"/><stop offset="0.8292" stop-color="#ff9e37"/><stop offset="1" stop-color="#ff9240"/></linearGradient>
<linearGradient id="b16" gradientUnits="userSpaceOnUse" x1="60.5" x2="690" y1="0" y2="0"><stop offset="0" stop-color="#ab068e"/><stop offset="0.2923" stop-color="#b8058c"/><stop offset="0.3082" stop-color="#b0068d"/><stop offset="0.3114" stop-color="#b3058d"/><stop offset="0.3177" stop-color="#c40489"/><stop offset="0.3241" stop-color="#dc0680"/><stop offset="0.3272" stop-color="#e40a7b"/><stop offset="0.3368" stop-color="#f7286e"/><stop offset="0.3527" stop-color="#ff3f67"/><stop offset="0.3685" stop-color="#ff6160"/><stop offset="0.3908" stop-color="#ff7b51"/><stop offset="0.4003" stop-color="#ff8e43"/><stop offset="0.413" stop-color="#ff9e37"/><stop offset="0.4448" stop-color="#ffbc23"/><stop offset="0.4639" stop-color="#ffd01d"/><stop offset="0.4893" stop-color="#ffe31e"/><stop offset="0.5115" stop-color="#ffe820"/><stop offset="0.5401" stop-color="#ffdb1c"/><stop offset="0.61" stop-color="#ffc121"/><stop offset="0.7021" stop-color="#ffab2c"/><stop offset="0.8292" stop-color="#ff9e37"/><stop offset="1" stop-color="#ff9240"/></linearGradient>
<linearGradient id="b17" gradientUnits="userSpaceOnUse" x1="60.5" x2="690" y1="0" y2="0"><stop offset="0" stop-color="#ab068e"/><stop offset="0.2923" stop-color="#b8058c"/><stop offset="0.3082" stop-color="#af068e"/><stop offset="0.3114" stop-color="#b0068d"/><stop offset="0.3145" stop-color="#b6058c"/><stop offset="0.3272" stop-color="#df077e"/><stop offset="0.3304" stop-color="#e60b79"/><stop offset="0.34" stop-color="#f52370"/><stop offset="0.3527" stop-color="#fe3669"/><stop offset="0.3717" stop-color="#ff6060"/><stop offset="0.394" stop-color="#ff7d4f"/><stop offset="0.4003" stop-color="#ff8c45"/><stop offset="0.413" stop-color="#ff9c38"/><stop offset="0.4448" stop-color="#ffbb23"/><stop offset="0.4639" stop-color="#ffce1d"/><stop offset="0.4925" stop-color="#ffe21d"/><stop offset="0.5147" stop-color="#ffe51e"/><stop offset="0.5465" stop-color="#ffd71d"/><stop offset="0.6259" stop-color="#ffbc23"/><stop offset="0.7085" stop-color="#ffaa2d"/><stop offset="0.8356" stop-color="#ff9e37"/><stop offset="1" stop-color="#ff9240"/></linearGradient>
<linearGradient id="b18" gradientUnits="userSpaceOnUse" x1="60.5" x2="690" y1="0" y2="0"><stop offset="0" stop-color="#ab068e"/><stop offset="0.2891" stop-color="#b9058b"/><stop offset="0.3082" stop-color="#ad068e"/><stop offset="0.3114" stop-color="#ae068e"/><stop offset="0.3177" stop-color="#bb048b"/><stop offset="0.3272" stop-color="#da0681"/><stop offset="0.3336" stop-color="#e60b79"/><stop offset="0.3431" stop-color="#f11d72"/><stop offset="0.359" stop-color="#ff3b67"/><stop offset="0.3749" stop-color="#ff6160"/><stop offset="0.394" stop-color="#ff7a51"/><stop offset="0.4067" stop-color="#ff9240"/><stop offset="0.4194" stop-color="#ffa135"/><stop offset="0.448" stop-color="#ffbd23"/><stop offset="0.4702" stop-color="#ffd21d"/><stop offset="0.4988" stop-color="#ffe11d"/><stop offset="0.5179" stop-color="#ffe21d"/><stop offset="0.6037" stop-color="#ffc221"/><stop offset="0.699" stop-color="#ffab2c"/><stop offset="0.8261" stop-color="#ff9e37"/><stop offset="1" stop-color="#ff9240"/></linearGradient>
<linearGradient id="b19" gradientUnits="userSpaceOnUse" x1="60.5" x2="690" y1="0" y2="0"><stop offset="0" stop-color="#aa068f"/><stop offset="0.2891" stop-color="#b9058b"/><stop offset="0.3082" stop-color="#ac068e"/><stop offset="0.3114" stop-color="#ac068e"/><stop offset="0.3177" stop-color="#b7058c"/><stop offset="0.3304" stop-color="#db0680"/><stop offset="0.34" stop-color="#e90e77"/><stop offset="0.359" stop-color="#fd336a"/><stop offset="0.3685" stop-color="#ff4965"/><stop offset="0.3781" stop-color="#ff625f"/><stop offset="0.3971" stop-color="#ff7d50"/><stop offset="0.4035" stop-color="#ff8c44"/><stop offset="0.4162" stop-color="#ff9d38"/><stop offset="0.4448" stop-color="#ffb825"/><stop offset="0.467" stop-color="#ffcd1e"/><stop offset="0.4956" stop-color="#ffde1c"/><stop offset="0.5179" stop-color="#ffe01c"/><stop offset="0.61" stop-color="#ffc021"/><stop offset="0.7021" stop-color="#ffab2c"/><stop offset="0.8261" stop-color="#ff9e37"/><stop offset="1" stop-color="#ff9240"/></linearGradient>
<linearGradient id="b20" gradientUnits="userSpaceOnUse" x1="60.5" x2="690" y1="0" y2="0"><stop offset="0" stop-color="#aa068f"/><stop offset="0.2891" stop-color="#b8058c"/><stop offset="0.3114" stop-color="#a9068f"/><stop offset="0.3177" stop-color="#b3058d"/><stop offset="0.3336" stop-color="#db0680"/><stop offset="0.3431" stop-color="#e70b79"/><stop offset="0.3654" stop-color="#ff3a68"/><stop offset="0.3813" stop-color="#ff635e"/><stop offset="0.4003" stop-color="#ff814d"/><stop offset="0.4098" stop-color="#ff933f"/><stop offset="0.4226" stop-color="#ffa134"/><stop offset="0.448" stop-color="#ffb924"/><stop offset="0.4702" stop-color="#ffce1d"/><stop offset="0.502" stop-color="#ffdd1c"/><stop offset="0.521" stop-color="#ffdd1c"/><stop offset="0.6068" stop-color="#ffc021"/><stop offset="0.699" stop-color="#ffab2c"/><stop offset="0.8229" stop-color="#ff9e37"/><stop offset="1" stop-color="#ff9240"/></linearGradient>
<linearGradient id="b21" gradientUnits="userSpaceOnUse" x1="60.5" x2="690" y1="0" y2="0"><stop offset="0" stop-color="#aa068f"/><stop offset="0.2891" stop-color="#b8058c"/><stop offset="0.3114" stop-color="#a6078f"/><stop offset="0.3177" stop-color="#ae068e"/><stop offset="0.3336" stop-color="#d30583"/><stop offset="0.3431" stop-color="#e1097c"/><stop offset="0.3495" stop-color="#e90f77"/><stop offset="0.3685" stop-color="#ff3b67"/><stop offset="0.3813" stop-color="#ff6060"/><stop offset="0.4003" stop-color="#ff7d4f"/><stop offset="0.4067" stop-color="#ff8c44"/><stop offset="0.4194" stop-color="#ff9d37"/><stop offset="0.448" stop-color="#ffb825"/><stop offset="0.4702" stop-color="#ffcc1e"/><stop offset="0.502" stop-color="#ffdb1c"/><stop offset="0.521" stop-color="#ffdb1c"/><stop offset="0.6068" stop-color="#ffc021"/><stop offset="0.699" stop-color="#ffab2c"/><stop offset="0.8229" stop-color="#ff9e37"/><stop offset="1" stop-color="#ff9240"/></linearGradient>
<linearGradient id="b22" gradientUnits="userSpaceOnUse" x1="60.5" x2="690" y1="0" y2="0"><stop offset="0" stop-color="#aa068f"/><stop offset="0.2891" stop-color="#b7058c"/><stop offset="0.3114" stop-color="#a30790"/><stop offset="0.3177" stop-color="#aa068f"/><stop offset="0.3368" stop-color="#d10584"/><stop offset="0.3495" stop-color="#e50b7a"/><stop offset="0.3527" stop-color="#e90f77"/><stop offset="0.3685" stop-color="#fd3469"/><stop offset="0.3844" stop-color="#ff635e"/><stop offset="0.4003" stop-color="#ff7b51"/><stop offset="0.4098" stop-color="#ff8f42"/><stop offset="0.4226" stop-color="#ff9f36"/><stop offset="0.448" stop-color="#ffb626"/><stop offset="0.4734" stop-color="#ffcd1e"/><stop offset="0.5083" stop-color="#ffda1d"/><stop offset="0.5338" stop-color="#ffd61d"/><stop offset="0.6132" stop-color="#ffbe22"/><stop offset="0.7053" stop-color="#ffaa2d"/><stop offset="0.8292" stop-color="#ff9e37"/><stop offset="1" stop-color="#ff9240"/></linearGradient>
<linearGradient id="b23" gradientUnits="userSpaceOnUse" x1="60.5" x2="690" y1="0" y2="0"><stop offset="0" stop-color="#a9068f"/><stop offset="0.2859" stop-color="#b7058c"/><stop offset="0.2986" stop-color="#ac068e"/><stop offset="0.3114" stop-color="#a00791"/><stop offset="0.3177" stop-color="#a50790"/><stop offset="0.34" stop-color="#d00584"/><stop offset="0.3495" stop-color="#e1087d"/><stop offset="0.3558" stop-color="#ea1077"/><stop offset="0.3717" stop-color="#fe3669"/><stop offset="0.3844" stop-color="#ff5f60"/><stop offset="0.4035" stop-color="#ff7e4e"/><stop offset="0.413" stop-color="#ff9240"/><stop offset="0.4226" stop-color="#ff9e37"/><stop offset="0.4512" stop-color="#ffb725"/><stop offset="0.4766" stop-color="#ffcd1e"/><stop offset="0.5115" stop-color="#ffd81d"/><stop offset="0.5655" stop-color="#ffcb1e"/><stop offset="0.6926" stop-color="#ffac2b"/><stop offset="0.8165" stop-color="#ff9e36"/><stop offset="1" stop-color="#ff9240"/></linearGradient>
<linearGradient id="b24" gradientUnits="userSpaceOnUse" x1="60.5" x2="690" y1="0" y2="0"><stop offset="0" stop-color="#a9068f"/><stop offset="0.2828" stop-color="#b6058c"/><stop offset="0.2923" stop-color="#b1068d"/><stop offset="0.3082" stop-color="#9f0791"/><stop offset="0.3145" stop-color="#9e0891"/><stop offset="0.3241" stop-color="#aa068f"/><stop offset="0.3463" stop-color="#d50682"/><stop offset="0.3558" stop-color="#e60b79"/><stop offset="0.3749" stop-color="#ff3968"/><stop offset="0.3876" stop-color="#ff635e"/><stop offset="0.4035" stop-color="#ff7b50"/><stop offset="0.4098" stop-color="#ff8b45"/><stop offset="0.4226" stop-color="#ff9c38"/><stop offset="0.4512" stop-color="#ffb626"/><stop offset="0.4797" stop-color="#ffcc1e"/><stop offset="0.5147" stop-color="#ffd71d"/><stop offset="0.6037" stop-color="#ffc021"/><stop offset="0.7021" stop-color="#ffaa2d"/><stop offset="0.8229" stop-color="#ff9e37"/><stop offset="1" stop-color="#ff9240"/></linearGradient>
<linearGradient id="b25" gradientUnits="userSpaceOnUse" x1="60.5" x2="690" y1="0" y2="0"><stop offset="0" stop-color="#a9068f"/><stop offset="0.2669" stop-color="#b5058c"/><stop offset="0.2859" stop-color="#b4058c"/><stop offset="0.2986" stop-color="#a8078f"/><stop offset="0.3114" stop-color="#9a0892"/><stop offset="0.3177" stop-color="#9c0891"/><stop offset="0.3304" stop-color="#af068e"/><stop offset="0.3495" stop-color="#d70682"/><stop offset="0.359" stop-color="#e70c79"/><stop offset="0.3749" stop-color="#fc336a"/><stop offset="0.3844" stop-color="#ff5363"/><stop offset="0.3876" stop-color="#ff5f60"/><stop offset="0.4067" stop-color="#ff7f4e"/><stop offset="0.4162" stop-color="#ff9240"/><stop offset="0.4289" stop-color="#ffa135"/><stop offset="0.4543" stop-color="#ffb725"/><stop offset="0.4797" stop-color="#ffcb1e"/><stop offset="0.5179" stop-color="#ffd51d"/><stop offset="0.6068" stop-color="#ffbf22"/><stop offset="0.7021" stop-color="#ffaa2d"/><stop offset="0.8229" stop-color="#ff9e37"/><stop offset="1" stop-color="#ff9240"/></linearGradient>
<linearGradient id="b26" gradientUnits="userSpaceOnUse" x1="60.5" x2="690" y1="0" y2="0"><stop offset="0" stop-color="#a9068f"/><stop offset="0.2637" stop-color="#b4058c"/><stop offset="0.2859" stop-color="#b3058d"/><stop offset="0.2986" stop-color="#a50790"/><stop offset="0.3114" stop-color="#970893"/><stop offset="0.3209" stop-color="#9c0892"/><stop offset="0.3336" stop-color="#af068e"/><stop offset="0.3527" stop-color="#d90681"/><stop offset="0.3622" stop-color="#e80c78"/><stop offset="0.3781" stop-color="#fe3669"/><stop offset="0.3908" stop-color="#ff635e"/><stop offset="0.4067" stop-color="#ff7c50"/><stop offset="0.413" stop-color="#ff8c45"/><stop offset="0.4257" stop-color="#ff9d38"/><stop offset="0.4543" stop-color="#ffb526"/><stop offset="0.4797" stop-color="#ffc91e"/><stop offset="0.5179" stop-color="#ffd31d"/><stop offset="0.6037" stop-color="#ffbf22"/><stop offset="0.7053" stop-color="#ffa92d"/><stop offset="0.8261" stop-color="#ff9e37"/><stop offset="1" stop-color="#ff9240"/></linearGradient>
<linearGradient id="b27" gradientUnits="userSpaceOnUse" x1="60.5" x2="690" y1="0" y2="0"><stop offset="0" stop-color="#a8068f"/><stop offset="0.2605" stop-color="#b4058c"/><stop offset="0.2859" stop-color="#b1068d"/><stop offset="0.2986" stop-color="#a30790"/><stop offset="0.3114" stop-color="#940994"/><stop offset="0.3209" stop-color="#980893"/><stop offset="0.3336" stop-color="#a9068f"/><stop offset="0.3527" stop-color="#d30583"/><stop offset="0.359" stop-color="#e0087d"/><stop offset="0.3654" stop-color="#e90e77"/><stop offset="0.3813" stop-color="#ff3b67"/><stop offset="0.3908" stop-color="#ff6060"/><stop offset="0.4098" stop-color="#ff814c"/><stop offset="0.4162" stop-color="#ff8e42"/><stop offset="0.4289" stop-color="#ff9e36"/><stop offset="0.4543" stop-color="#ffb327"/><stop offset="0.4829" stop-color="#ffc91e"/><stop offset="0.521" stop-color="#ffd11d"/><stop offset="0.61" stop-color="#ffbd22"/><stop offset="0.7085" stop-color="#ffa92e"/><stop offset="0.8261" stop-color="#ff9d37"/><stop offset="1" stop-color="#ff9240"/></linearGradient>
<linearGradient id="b28" gradientUnits="userSpaceOnUse" x1="60.5" x2="690" y1="0" y2="0"><stop offset="0" stop-color="#a8078f"/><stop offset="0.2605" stop-color="#b4058d"/><stop offset="0.2859" stop-color="#b0068d"/><stop offset="0.2986" stop-color="#a10791"/><stop offset="0.3082" stop-color="#940994"/><stop offset="0.3177" stop-color="#920995"/><stop offset="0.3304" stop-color="#9f0791"/><stop offset="0.3431" stop-color="#b9058c"/><stop offset="0.359" stop-color="#dc0680"/><stop offset="0.3654" stop-color="#e50b7a"/><stop offset="0.3685" stop-color="#ea1077"/><stop offset="0.3813" stop-color="#fe3669"/><stop offset="0.3908" stop-color="#ff5b61"/><stop offset="0.394" stop-color="#ff645e"/><stop offset="0.4098" stop-color="#ff7e4e"/><stop offset="0.4162" stop-color="#ff8c44"/><stop offset="0.4289" stop-color="#ff9d37"/><stop offset="0.4575" stop-color="#ffb426"/><stop offset="0.4829" stop-color="#ffc71e"/><stop offset="0.521" stop-color="#ffd01d"/><stop offset="0.6132" stop-color="#ffbc23"/><stop offset="0.7117" stop-color="#ffa82e"/><stop offset="0.8292" stop-color="#ff9d37"/><stop offset="1" stop-color="#ff9240"/></linearGradient>
<linearGradient id="b29" gradientUnits="userSpaceOnUse" x1="60.5" x2="690" y1="0" y2="0"><stop offset="0" stop-color="#a8078f"/><stop offset="0.2573" stop-color="#b4058d"/><stop offset="0.2859" stop-color="#ae068e"/><stop offset="0.2986" stop-color="#9e0891"/><stop offset="0.3114" stop-color="#8f0a95"/><stop offset="0.3209" stop-color="#910995"/><stop offset="0.3304" stop-color="#9b0892"/><stop offset="0.3431" stop-color="#b3058d"/><stop offset="0.3622" stop-color="#dd077f"/><stop offset="0.3685" stop-color="#e70b79"/><stop offset="0.3781" stop-color="#f6266e"/><stop offset="0.3844" stop-color="#ff3c67"/><stop offset="0.394" stop-color="#ff625f"/><stop offset="0.4098" stop-color="#ff7b50"/><stop offset="0.4162" stop-color="#ff8b45"/><stop offset="0.4289" stop-color="#ff9c38"/><stop offset="0.4575" stop-color="#ffb327"/><stop offset="0.4829" stop-color="#ffc51f"/><stop offset="0.521" stop-color="#ffcf1d"/><stop offset="0.6259" stop-color="#ffb924"/><stop offset="0.718" stop-color="#ffa72f"/><stop offset="0.8356" stop-color="#ff9d38"/><stop offset="1" stop-color="#ff9240"/></linearGradient>
<linearGradient id="b30" gradientUnits="userSpaceOnUse" x1="60.5" x2="690" y1="0" y2="0"><stop offset="0" stop-color="#a8078f"/><stop offset="0.2573" stop-color="#b3058d"/><stop offset="0.2859" stop-color="#ad068e"/><stop offset="0.2986" stop-color="#9d0891"/><stop offset="0.3082" stop-color="#8f0a95"/><stop offset="0.3177" stop-color="#8c0a96"/><stop offset="0.3304" stop-color="#970993"/><stop offset="0.34" stop-color="#a7078f"/><stop offset="0.359" stop-color="#d30583"/><stop offset="0.3717" stop-color="#e80c78"/><stop offset="0.3844" stop-color="#fe3669"/><stop offset="0.394" stop-color="#ff5d61"/><stop offset="0.4035" stop-color="#ff6f57"/><stop offset="0.413" stop-color="#ff804d"/><stop offset="0.4194" stop-color="#ff8d43"/><stop offset="0.4321" stop-color="#ff9e37"/><stop offset="0.4607" stop-color="#ffb427"/><stop offset="0.4861" stop-color="#ffc51f"/><stop offset="0.521" stop-color="#ffcd1e"/><stop offset="0.645" stop-color="#ffb426"/><stop offset="0.7498" stop-color="#ffa333"/><stop offset="1" stop-color="#ff9140"/></linearGradient>
<linearGradient id="b31" gradientUnits="userSpaceOnUse" x1="60.5" x2="690" y1="0" y2="0"><stop offset="0" stop-color="#a7078f"/><stop offset="0.2542" stop-color="#b3058d"/><stop offset="0.2828" stop-color="#ae068e"/><stop offset="0.2955" stop-color="#a00791"/><stop offset="0.3082" stop-color="#8d0a96"/><stop offset="0.3177" stop-color="#8a0a97"/><stop offset="0.3304" stop-color="#930994"/><stop offset="0.34" stop-color="#a20790"/><stop offset="0.359" stop-color="#ce0585"/><stop offset="0.3685" stop-color="#e0087d"/><stop offset="0.3749" stop-color="#ea1076"/><stop offset="0.3844" stop-color="#fc316a"/><stop offset="0.3908" stop-color="#ff4b64"/><stop offset="0.3971" stop-color="#ff635e"/><stop offset="0.413" stop-color="#ff7d4f"/><stop offset="0.4194" stop-color="#ff8b45"/><stop offset="0.4321" stop-color="#ff9c38"/><stop offset="0.4607" stop-color="#ffb227"/><stop offset="0.4861" stop-color="#ffc320"/><stop offset="0.521" stop-color="#ffcc1e"/><stop offset="0.664" stop-color="#ffaf28"/><stop offset="0.7943" stop-color="#ff9f36"/><stop offset="1" stop-color="#ff9140"/></linearGradient>
<linearGradient id="b32" gradientUnits="userSpaceOnUse" x1="60.5" x2="690" y1="0" y2="0"><stop offset="0" stop-color="#a7078f"/><stop offset="0.2542" stop-color="#b3058d"/><stop offset="0.2828" stop-color="#ac068e"/><stop offset="0.2955" stop-color="#9f0891"/><stop offset="0.3082" stop-color="#8c0a96"/><stop offset="0.3177" stop-color="#880b97"/><stop offset="0.3304" stop-color="#900a95"/><stop offset="0.3431" stop-color="#a30790"/><stop offset="0.3622" stop-color="#d00584"/><stop offset="0.3717" stop-color="#e2097c"/><stop offset="0.3749" stop-color="#e70c79"/><stop offset="0.3876" stop-color="#ff3868"/><stop offset="0.3971" stop-color="#ff6060"/><stop offset="0.413" stop-color="#ff7b51"/><stop offset="0.4226" stop-color="#ff8e43"/><stop offset="0.4353" stop-color="#ff9e37"/><stop offset="0.4639" stop-color="#ffb327"/><stop offset="0.4861" stop-color="#ffc121"/><stop offset="0.5242" stop-color="#ffcb1e"/><stop offset="0.6545" stop-color="#ffb128"/><stop offset="0.7847" stop-color="#ff9f36"/><stop offset="1" stop-color="#ff9140"/></linearGradient>
<linearGradient id="b33" gradientUnits="userSpaceOnUse" x1="60.5" x2="690" y1="0" y2="0"><stop offset="0" stop-color="#a7078f"/><stop offset="0.2542" stop-color="#b3058d"/><stop offset="0.2828" stop-color="#ab068e"/><stop offset="0.2955" stop-color="#9d0891"/><stop offset="0.3082" stop-color="#8b0a97"/><stop offset="0.3177" stop-color="#870b98"/><stop offset="0.3336" stop-color="#900a95"/><stop offset="0.3463" stop-color="#a50790"/><stop offset="0.3622" stop-color="#cb0586"/><stop offset="0.3749" stop-color="#e40a7b"/><stop offset="0.3781" stop-color="#ea1077"/><stop offset="0.3876" stop-color="#fd336a"/><stop offset="0.3971" stop-color="#ff5b61"/><stop offset="0.4035" stop-color="#ff695b"/><stop offset="0.4162" stop-color="#ff804d"/><stop offset="0.4226" stop-color="#ff8c44"/><stop offset="0.4353" stop-color="#ff9d38"/><stop offset="0.467" stop-color="#ffb327"/><stop offset="0.4893" stop-color="#ffc121"/><stop offset="0.5242" stop-color="#ffca1e"/><stop offset="0.6481" stop-color="#ffb227"/><stop offset="0.7784" stop-color="#ffa035"/><stop offset="1" stop-color="#ff9141"/></linearGradient>
<linearGradient id="b34" gradientUnits="userSpaceOnUse" x1="60.5" x2="690" y1="0" y2="0"><stop offset="0" stop-color="#a7078f"/><stop offset="0.2542" stop-color="#b2058d"/><stop offset="0.2828" stop-color="#aa068f"/><stop offset="0.2955" stop-color="#9c0892"/><stop offset="0.3082" stop-color="#8a0b97"/><stop offset="0.3177" stop-color="#850b98"/><stop offset="0.3336" stop-color="#8d0a96"/><stop offset="0.3463" stop-color="#a10791"/><stop offset="0.3654" stop-color="#cc0586"/><stop offset="0.3749" stop-color="#e1097d"/><stop offset="0.3781" stop-color="#e70c78"/><stop offset="0.3908" stop-color="#ff3b67"/><stop offset="0.4003" stop-color="#ff625f"/><stop offset="0.4162" stop-color="#ff7d4f"/><stop offset="0.4226" stop-color="#ff8a45"/><stop offset="0.4353" stop-color="#ff9c38"/><stop offset="0.467" stop-color="#ffb227"/><stop offset="0.4893" stop-color="#ffbf22"/><stop offset="0.5242" stop-color="#ffc91e"/><stop offset="0.645" stop-color="#ffb327"/><stop offset="0.7752" stop-color="#ffa035"/><stop offset="1" stop-color="#ff9141"/></linearGradient>
<linearGradient id="b35" gradientUnits="userSpaceOnUse" x1="60.5" x2="690" y1="0" y2="0"><stop offset="0" stop-color="#a6078f"/><stop offset="0.2542" stop-color="#b2058d"/><stop offset="0.2828" stop-color="#aa068f"/><stop offset="0.2955" stop-color="#9b0892"/><stop offset="0.3082" stop-color="#890b97"/><stop offset="0.3177" stop-color="#840b99"/><stop offset="0.3336" stop-color="#8a0b97"/><stop offset="0.3431" stop-color="#960993"/><stop offset="0.3558" stop-color="#b1068d"/><stop offset="0.3717" stop-color="#d60682"/><stop offset="0.3781" stop-color="#e40a7a"/><stop offset="0.3813" stop-color="#eb1276"/><stop offset="0.3908" stop-color="#fe3769"/><stop offset="0.4003" stop-color="#ff6060"/><stop offset="0.4162" stop-color="#ff7b51"/><stop offset="0.4257" stop-color="#ff8d43"/><stop offset="0.4384" stop-color="#ff9d37"/><stop offset="0.4702" stop-color="#ffb227"/><stop offset="0.4925" stop-color="#ffbf22"/><stop offset="0.5274" stop-color="#ffc71e"/><stop offset="0.6418" stop-color="#ffb327"/><stop offset="0.772" stop-color="#ffa035"/><stop offset="1" stop-color="#ff9141"/></linearGradient>
<linearGradient id="b36" gradientUnits="userSpaceOnUse" x1="60.5" x2="690" y1="0" y2="0"><stop offset="0" stop-color="#a6078f"/><stop offset="0.2542" stop-color="#b2058d"/><stop offset="0.2828" stop-color="#a9068f"/><stop offset="0.2955" stop-color="#9b0892"/><stop offset="0.3082" stop-color="#880b98"/><stop offset="0.3177" stop-color="#830c99"/><stop offset="0.3336" stop-color="#860b98"/><stop offset="0.3431" stop-color="#920995"/><stop offset="0.3558" stop-color="#ab068e"/><stop offset="0.3717" stop-color="#d20584"/><stop offset="0.3781" stop-color="#e2097c"/><stop offset="0.3813" stop-color="#e80d78"/><stop offset="0.3908" stop-color="#fc326a"/><stop offset="0.3971" stop-color="#ff4e64"/><stop offset="0.4003" stop-color="#ff5c61"/><stop offset="0.4067" stop-color="#ff695b"/><stop offset="0.4194" stop-color="#ff804d"/><stop offset="0.4353" stop-color="#ff9a3a"/><stop offset="0.4639" stop-color="#ffae2a"/><stop offset="0.4925" stop-color="#ffbd22"/><stop offset="0.5274" stop-color="#ffc61f"/><stop offset="0.6386" stop-color="#ffb427"/><stop offset="0.7593" stop-color="#ffa134"/><stop offset="1" stop-color="#ff9141"/></linearGradient>
<linearGradient id="b37" gradientUnits="userSpaceOnUse" x1="60.5" x2="690" y1="0" y2="0"><stop offset="0" stop-color="#a6078f"/><stop offset="0.2542" stop-color="#b2068d"/><stop offset="0.2828" stop-color="#a8068f"/><stop offset="0.2955" stop-color="#9b0892"/><stop offset="0.3082" stop-color="#880b98"/><stop offset="0.3209" stop-color="#810c9a"/><stop offset="0.3368" stop-color="#850b99"/><stop offset="0.3495" stop-color="#990892"/><stop offset="0.359" stop-color="#ae068e"/><stop offset="0.3749" stop-color="#d70682"/><stop offset="0.3813" stop-color="#e60b79"/><stop offset="0.3908" stop-color="#fa2e6b"/><stop offset="0.394" stop-color="#ff3b67"/><stop offset="0.4003" stop-color="#ff5862"/><stop offset="0.4035" stop-color="#ff625f"/><stop offset="0.4194" stop-color="#ff7d4f"/><stop offset="0.4257" stop-color="#ff8a46"/><stop offset="0.4384" stop-color="#ff9b39"/><stop offset="0.4639" stop-color="#ffad2b"/><stop offset="0.4925" stop-color="#ffbc23"/><stop offset="0.5274" stop-color="#ffc51f"/><stop offset="0.6354" stop-color="#ffb426"/><stop offset="0.7371" stop-color="#ffa332"/><stop offset="1" stop-color="#ff9041"/></linearGradient>
<linearGradient id="b38" gradientUnits="userSpaceOnUse" x1="60.5" x2="690" y1="0" y2="0"><stop offset="0" stop-color="#a60790"/><stop offset="0.2542" stop-color="#b1068d"/><stop offset="0.2828" stop-color="#a8078f"/><stop offset="0.2955" stop-color="#9a0892"/><stop offset="0.3114" stop-color="#840b99"/><stop offset="0.3209" stop-color="#810d9b"/><stop offset="0.3368" stop-color="#820c99"/><stop offset="0.3431" stop-color="#880b98"/><stop offset="0.359" stop-color="#a8068f"/><stop offset="0.3749" stop-color="#d30583"/><stop offset="0.3813" stop-color="#e40a7b"/><stop offset="0.3844" stop-color="#eb1176"/><stop offset="0.394" stop-color="#ff3868"/><stop offset="0.4035" stop-color="#ff6160"/><stop offset="0.4194" stop-color="#ff7b50"/><stop offset="0.4257" stop-color="#ff8847"/><stop offset="0.4416" stop-color="#ff9d38"/><stop offset="0.467" stop-color="#ffad2a"/><stop offset="0.4956" stop-color="#ffbc23"/><stop offset="0.5274" stop-color="#ffc420"/><stop offset="0.6322" stop-color="#ffb426"/><stop offset="0.718" stop-color="#ffa630"/><stop offset="0.8356" stop-color="#ff9c38"/><stop offset="1" stop-color="#ff9041"/></linearGradient>
<linearGradient id="b39" gradientUnits="userSpaceOnUse" x1="60.5" x2="690" y1="0" y2="0"><stop offset="0" stop-color="#a50790"/><stop offset="0.2542" stop-color="#b1068d"/><stop offset="0.2828" stop-color="#a8078f"/><stop offset="0.2955" stop-color="#9a0892"/><stop offset="0.3114" stop-color="#840b99"/><stop offset="0.3177" stop-color="#810e9b"/><stop offset="0.3272" stop-color="#83129d"/><stop offset="0.3368" stop-color="#800c9a"/><stop offset="0.3431" stop-color="#840b99"/><stop offset="0.359" stop-color="#a40790"/><stop offset="0.3749" stop-color="#cf0585"/><stop offset="0.3813" stop-color="#e2097c"/><stop offset="0.3844" stop-color="#e90d77"/><stop offset="0.394" stop-color="#fd3469"/><stop offset="0.4035" stop-color="#ff5e60"/><stop offset="0.4226" stop-color="#ff814c"/><stop offset="0.4416" stop-color="#ff9c38"/><stop offset="0.4702" stop-color="#ffae2a"/><stop offset="0.4988" stop-color="#ffbc23"/><stop offset="0.5306" stop-color="#ffc320"/><stop offset="0.6291" stop-color="#ffb526"/><stop offset="0.7021" stop-color="#ffa82f"/><stop offset="0.8133" stop-color="#ff9d38"/><stop offset="1" stop-color="#ff9041"/></linearGradient>
<linearGradient id="b40" gradientUnits="userSpaceOnUse" x1="60.5" x2="690" y1="0" y2="0"><stop offset="0" stop-color="#a50790"/><stop offset="0.2542" stop-color="#b1068d"/><stop offset="0.2828" stop-color="#a7078f"/><stop offset="0.2955" stop-color="#9a0892"/><stop offset="0.3114" stop-color="#830c99"/><stop offset="0.3145" stop-color="#800c9a"/><stop offset="0.3241" stop-color="#85159e"/><stop offset="0.3336" stop-color="#84149e"/><stop offset="0.3431" stop-color="#810c9a"/><stop offset="0.3463" stop-color="#840b99"/><stop offset="0.3622" stop-color="#a8078f"/><stop offset="0.3781" stop-color="#d60682"/><stop offset="0.3844" stop-color="#e70c79"/><stop offset="0.394" stop-color="#fc316a"/><stop offset="0.4003" stop-color="#ff4d64"/><stop offset="0.4035" stop-color="#ff5b61"/><stop offset="0.4098" stop-color="#ff695b"/><stop offset="0.4321" stop-color="#ff8e43"/><stop offset="0.4448" stop-color="#ff9e37"/><stop offset="0.4734" stop-color="#ffaf29"/><stop offset="0.502" stop-color="#ffbc23"/><stop offset="0.5306" stop-color="#ffc220"/><stop offset="0.6291" stop-color="#ffb426"/><stop offset="0.7117" stop-color="#ffa630"/><stop offset="0.8229" stop-color="#ff9c38"/><stop offset="1" stop-color="#ff9041"/></linearGradient>
<linearGradient id="b41" gradientUnits="userSpaceOnUse" x1="60.5" x2="690" y1="0" y2="0"><stop offset="0" stop-color="#a50790"/><stop offset="0.2542" stop-color="#b1068d"/><stop offset="0.2828" stop-color="#a7078f"/><stop offset="0.2955" stop-color="#9b0892"/><stop offset="0.3114" stop-color="#820c99"/><stop offset="0.3145" stop-color="#810d9b"/><stop offset="0.3241" stop-color="#871aa0"/><stop offset="0.3304" stop-color="#881ca1"/><stop offset="0.3463" stop-color="#810c9a"/><stop offset="0.3558" stop-color="#950994"/><stop offset="0.3685" stop-color="#b7058c"/><stop offset="0.3813" stop-color="#dd077f"/><stop offset="0.3844" stop-color="#e50b7a"/><stop offset="0.3908" stop-color="#f42270"/><stop offset="0.3971" stop-color="#ff3c67"/><stop offset="0.4035" stop-color="#ff5862"/><stop offset="0.4067" stop-color="#ff625f"/><stop offset="0.4353" stop-color="#ff9140"/><stop offset="0.4448" stop-color="#ff9d38"/><stop offset="0.4734" stop-color="#ffae2a"/><stop offset="0.502" stop-color="#ffbb24"/><stop offset="0.5306" stop-color="#ffc121"/><stop offset="0.6259" stop-color="#ffb426"/><stop offset="0.7021" stop-color="#ffa72f"/><stop offset="0.8102" stop-color="#ff9d38"/><stop offset="1" stop-color="#ff9041"/></linearGradient>
<linearGradient id="b42" gradientUnits="userSpaceOnUse" x1="60.5" x2="690" y1="0" y2="0"><stop offset="0" stop-color="#a50790"/><stop offset="0.2542" stop-color="#b1068d"/><stop offset="0.2828" stop-color="#a7078f"/><stop offset="0.2955" stop-color="#9b0892"/><stop offset="0.3114" stop-color="#820c99"/><stop offset="0.3145" stop-color="#810f9b"/><stop offset="0.3241" stop-color="#891da2"/><stop offset="0.3336" stop-color="#8a1fa3"/><stop offset="0.3431" stop-color="#84149e"/><stop offset="0.3463" stop-color="#810e9b"/><stop offset="0.3495" stop-color="#830c99"/><stop offset="0.3654" stop-color="#ab068f"/><stop offset="0.3781" stop-color="#d00584"/><stop offset="0.3844" stop-color="#e30a7b"/><stop offset="0.3876" stop-color="#eb1276"/><stop offset="0.3971" stop-color="#ff3968"/><stop offset="0.4067" stop-color="#ff6160"/><stop offset="0.4353" stop-color="#ff9042"/><stop offset="0.4448" stop-color="#ff9c38"/><stop offset="0.4702" stop-color="#ffac2c"/><stop offset="0.5052" stop-color="#ffba24"/><stop offset="0.5338" stop-color="#ffc021"/><stop offset="0.6227" stop-color="#ffb426"/><stop offset="0.699" stop-color="#ffa72f"/><stop offset="0.8102" stop-color="#ff9d38"/><stop offset="1" stop-color="#ff9041"/></linearGradient>
<linearGradient id="b43" gradientUnits="userSpaceOnUse" x1="60.5" x2="690" y1="0" y2="0"><stop offset="0" stop-color="#a40790"/><stop offset="0.2542" stop-color="#b1068d"/><stop offset="0.2828" stop-color="#a7078f"/><stop offset="0.2955" stop-color="#9b0892"/><stop offset="0.3114" stop-color="#820c9a"/><stop offset="0.3241" stop-color="#8b21a3"/><stop offset="0.3304" stop-color="#8c25a5"/><stop offset="0.34" stop-color="#891fa2"/><stop offset="0.3495" stop-color="#800d9a"/><stop offset="0.3654" stop-color="#a8068f"/><stop offset="0.3813" stop-color="#d80681"/><stop offset="0.3876" stop-color="#e90e77"/><stop offset="0.3971" stop-color="#fe3669"/><stop offset="0.4067" stop-color="#ff5f60"/><stop offset="0.4353" stop-color="#ff8e43"/><stop offset="0.448" stop-color="#ff9d37"/><stop offset="0.4861" stop-color="#ffb327"/><stop offset="0.5306" stop-color="#ffc021"/><stop offset="0.6195" stop-color="#ffb426"/><stop offset="0.699" stop-color="#ffa730"/><stop offset="0.8165" stop-color="#ff9c38"/><stop offset="1" stop-color="#ff9042"/></linearGradient>
<linearGradient id="b44" gradientUnits="userSpaceOnUse" x1="60.5" x2="690" y1="0" y2="0"><stop offset="0" stop-color="#a40790"/><stop offset="0.2542" stop-color="#b0068d"/><stop offset="0.2828" stop-color="#a7078f"/><stop offset="0.2955" stop-color="#9b0892"/><stop offset="0.3114" stop-color="#810c9a"/><stop offset="0.3241" stop-color="#8c24a5"/><stop offset="0.3336" stop-color="#8e29a7"/><stop offset="0.3431" stop-color="#891da2"/><stop offset="0.3495" stop-color="#82109c"/><stop offset="0.3527" stop-color="#850b99"/><stop offset="0.3654" stop-color="#a60790"/><stop offset="0.3781" stop-color="#cb0586"/><stop offset="0.3876" stop-color="#e70b79"/><stop offset="0.3971" stop-color="#fd336a"/><stop offset="0.4067" stop-color="#ff5d61"/><stop offset="0.4353" stop-color="#ff8c44"/><stop offset="0.448" stop-color="#ff9c38"/><stop offset="0.4797" stop-color="#ffae29"/><stop offset="0.5274" stop-color="#ffbf22"/><stop offset="0.6132" stop-color="#ffb526"/><stop offset="0.6958" stop-color="#ffa730"/><stop offset="0.8197" stop-color="#ff9c38"/><stop offset="1" stop-color="#ff8f42"/></linearGradient>
<linearGradient id="b45" gradientUnits="userSpaceOnUse" x1="60.5" x2="690" y1="0" y2="0"><stop offset="0" stop-color="#a40790"/><stop offset="0.2542" stop-color="#b0068d"/><stop offset="0.2828" stop-color="#a7078f"/><stop offset="0.2955" stop-color="#9b0892"/><stop offset="0.3114" stop-color="#810c9a"/><stop offset="0.3209" stop-color="#8b22a4"/><stop offset="0.3304" stop-color="#902ba8"/><stop offset="0.3368" stop-color="#8f2aa7"/><stop offset="0.3463" stop-color="#871aa0"/><stop offset="0.3527" stop-color="#830c99"/><stop offset="0.3717" stop-color="#b7058c"/><stop offset="0.3844" stop-color="#dd077f"/><stop offset="0.3876" stop-color="#e50a7a"/><stop offset="0.3908" stop-color="#ec1475"/><stop offset="0.3971" stop-color="#fb306b"/><stop offset="0.4003" stop-color="#ff3e67"/><stop offset="0.4067" stop-color="#ff5a61"/><stop offset="0.413" stop-color="#ff675c"/><stop offset="0.4416" stop-color="#ff943e"/><stop offset="0.4575" stop-color="#ffa333"/><stop offset="0.4956" stop-color="#ffb426"/><stop offset="0.5338" stop-color="#ffbe22"/><stop offset="0.61" stop-color="#ffb526"/><stop offset="0.6958" stop-color="#ffa630"/><stop offset="0.8292" stop-color="#ff9b39"/><stop offset="1" stop-color="#ff8f42"/></linearGradient>
<linearGradient id="b46" gradientUnits="userSpaceOnUse" x1="60.5" x2="690" y1="0" y2="0"><stop offset="0" stop-color="#a40790"/><stop offset="0.2542" stop-color="#b0068d"/><stop offset="0.2828" stop-color="#a7078f"/><stop offset="0.2955" stop-color="#9b0892"/><stop offset="0.3114" stop-color="#820c99"/><stop offset="0.3241" stop-color="#8e28a6"/><stop offset="0.3336" stop-color="#912ea9"/><stop offset="0.34" stop-color="#8e29a7"/><stop offset="0.3495" stop-color="#85159e"/><stop offset="0.3527" stop-color="#810c9a"/><stop offset="0.3685" stop-color="#ab068e"/><stop offset="0.3813" stop-color="#d10584"/><stop offset="0.3876" stop-color="#e3097c"/><stop offset="0.3908" stop-color="#ea1077"/><stop offset="0.4003" stop-color="#ff3968"/><stop offset="0.4067" stop-color="#ff5762"/><stop offset="0.4098" stop-color="#ff6160"/><stop offset="0.4416" stop-color="#ff9240"/><stop offset="0.4512" stop-color="#ff9d38"/><stop offset="0.4893" stop-color="#ffb127"/><stop offset="0.5338" stop-color="#ffbd22"/><stop offset="0.6068" stop-color="#ffb426"/><stop offset="0.699" stop-color="#ffa531"/><stop offset="0.8451" stop-color="#ff9b3a"/><stop offset="1" stop-color="#ff8f42"/></linearGradient>
<linearGradient id="b47" gradientUnits="userSpaceOnUse" x1="60.5" x2="690" y1="0" y2="0"><stop offset="0" stop-color="#a30790"/><stop offset="0.2573" stop-color="#b0068d"/><stop offset="0.2859" stop-color="#a50790"/><stop offset="0.2986" stop-color="#970893"/><stop offset="0.3114" stop-color="#810c9a"/><stop offset="0.3209" stop-color="#8c24a5"/><stop offset="0.3272" stop-color="#912ea9"/><stop offset="0.3336" stop-color="#9230aa"/><stop offset="0.34" stop-color="#8f2ba7"/><stop offset="0.3495" stop-color="#85179f"/><stop offset="0.3527" stop-color="#800d9a"/><stop offset="0.3685" stop-color="#a9068f"/><stop offset="0.3844" stop-color="#d80681"/><stop offset="0.3908" stop-color="#e80c78"/><stop offset="0.4003" stop-color="#fd3469"/><stop offset="0.4067" stop-color="#ff5363"/><stop offset="0.4098" stop-color="#ff5f60"/><stop offset="0.4416" stop-color="#ff9141"/><stop offset="0.4512" stop-color="#ff9c38"/><stop offset="0.4893" stop-color="#ffb028"/><stop offset="0.5369" stop-color="#ffbc23"/><stop offset="0.6037" stop-color="#ffb426"/><stop offset="0.7021" stop-color="#ffa431"/><stop offset="1" stop-color="#ff8f42"/></linearGradient>
<linearGradient id="b48" gradientUnits="userSpaceOnUse" x1="60.5" x2="690" y1="0" y2="0"><stop offset="0" stop-color="#a30790"/><stop offset="0.2573" stop-color="#af068d"/><stop offset="0.2859" stop-color="#a50790"/><stop offset="0.2986" stop-color="#970893"/><stop offset="0.3114" stop-color="#820c99"/><stop offset="0.3177" stop-color="#881da1"/><stop offset="0.3241" stop-color="#8f2ba8"/><stop offset="0.3304" stop-color="#9231aa"/><stop offset="0.3368" stop-color="#912fa9"/><stop offset="0.3463" stop-color="#891fa2"/><stop offset="0.3527" stop-color="#820f9b"/><stop offset="0.359" stop-color="#8e0a96"/><stop offset="0.3717" stop-color="#b1068d"/><stop offset="0.3844" stop-color="#d50682"/><stop offset="0.3908" stop-color="#e60b7a"/><stop offset="0.3971" stop-color="#f42270"/><stop offset="0.4035" stop-color="#ff3e67"/><stop offset="0.4098" stop-color="#ff5b61"/><stop offset="0.4194" stop-color="#ff6e58"/><stop offset="0.4512" stop-color="#ff9b39"/><stop offset="0.4829" stop-color="#ffad2b"/><stop offset="0.5338" stop-color="#ffbb23"/><stop offset="0.5973" stop-color="#ffb526"/><stop offset="0.699" stop-color="#ffa432"/><stop offset="1" stop-color="#ff8f42"/></linearGradient>
<linearGradient id="b49" gradientUnits="userSpaceOnUse" x1="60.5" x2="690" y1="0" y2="0"><stop offset="0" stop-color="#a30790"/><stop offset="0.2573" stop-color="#af068d"/><stop offset="0.2859" stop-color="#a50790"/><stop offset="0.2986" stop-color="#980893"/><stop offset="0.3114" stop-color="#820c99"/><stop offset="0.3241" stop-color="#8f2ba8"/><stop offset="0.3304" stop-color="#9231aa"/><stop offset="0.3368" stop-color="#9230aa"/><stop offset="0.3463" stop-color="#891fa2"/><stop offset="0.3527" stop-color="#82109c"/><stop offset="0.3558" stop-color="#850b98"/><stop offset="0.3685" stop-color="#a50790"/><stop offset="0.3813" stop-color="#c90587"/><stop offset="0.3876" stop-color="#dc0680"/><stop offset="0.394" stop-color="#eb1176"/><stop offset="0.4035" stop-color="#ff3868"/><stop offset="0.4098" stop-color="#ff5762"/><stop offset="0.413" stop-color="#ff6160"/><stop offset="0.4384" stop-color="#ff8946"/><stop offset="0.4543" stop-color="#ff9d38"/><stop offset="0.4956" stop-color="#ffb128"/><stop offset="0.5433" stop-color="#ffbb24"/><stop offset="0.5941" stop-color="#ffb426"/><stop offset="0.7021" stop-color="#ffa332"/><stop offset="1" stop-color="#ff8f42"/></linearGradient>
<linearGradient id="b50" gradientUnits="userSpaceOnUse" x1="60.5" x2="690" y1="0" y2="0"><stop offset="0" stop-color="#a30790"/><stop offset="0.2573" stop-color="#af068e"/><stop offset="0.2828" stop-color="#a7078f"/><stop offset="0.2955" stop-color="#9c0892"/><stop offset="0.3114" stop-color="#830c99"/><stop offset="0.3145" stop-color="#83129d"/><stop offset="0.3209" stop-color="#8c25a5"/><stop offset="0.3272" stop-color="#912fa9"/><stop offset="0.3368" stop-color="#912fa9"/><stop offset="0.3527" stop-color="#82109c"/><stop offset="0.3558" stop-color="#840b99"/><stop offset="0.3749" stop-color="#b5058c"/><stop offset="0.3876" stop-color="#d90681"/><stop offset="0.394" stop-color="#e80c78"/><stop offset="0.4035" stop-color="#fd336a"/><stop offset="0.4098" stop-color="#ff5163"/><stop offset="0.4162" stop-color="#ff645e"/><stop offset="0.4353" stop-color="#ff834b"/><stop offset="0.4543" stop-color="#ff9c38"/><stop offset="0.4925" stop-color="#ffaf29"/><stop offset="0.5496" stop-color="#ffba24"/><stop offset="0.5941" stop-color="#ffb327"/><stop offset="0.7149" stop-color="#ffa234"/><stop offset="1" stop-color="#ff8f42"/></linearGradient>
<linearGradient id="b51" gradientUnits="userSpaceOnUse" x1="60.5" x2="690" y1="0" y2="0"><stop offset="0" stop-color="#a20790"/><stop offset="0.2573" stop-color="#af068e"/><stop offset="0.2828" stop-color="#a7078f"/><stop offset="0.2986" stop-color="#980893"/><stop offset="0.3114" stop-color="#830c99"/><stop offset="0.3145" stop-color="#82119c"/><stop offset="0.3209" stop-color="#8b23a4"/><stop offset="0.3272" stop-color="#912ea9"/><stop offset="0.3336" stop-color="#912fa9"/><stop offset="0.34" stop-color="#8e29a7"/><stop offset="0.3527" stop-color="#810f9b"/><stop offset="0.3558" stop-color="#840b99"/><stop offset="0.3717" stop-color="#aa068f"/><stop offset="0.3876" stop-color="#d60682"/><stop offset="0.394" stop-color="#e60b79"/><stop offset="0.4003" stop-color="#f42170"/><stop offset="0.4067" stop-color="#ff3c67"/><stop offset="0.413" stop-color="#ff5762"/><stop offset="0.4194" stop-color="#ff675c"/><stop offset="0.4321" stop-color="#ff7d4f"/><stop offset="0.4543" stop-color="#ff9b39"/><stop offset="0.4893" stop-color="#ffad2b"/><stop offset="0.5496" stop-color="#ffb924"/><stop offset="0.5909" stop-color="#ffb227"/><stop offset="0.718" stop-color="#ffa134"/><stop offset="1" stop-color="#ff8e42"/></linearGradient>
<linearGradient id="b52" gradientUnits="userSpaceOnUse" x1="60.5" x2="690" y1="0" y2="0"><stop offset="0" stop-color="#a20790"/><stop offset="0.2605" stop-color="#af068e"/><stop offset="0.2859" stop-color="#a50790"/><stop offset="0.2986" stop-color="#980893"/><stop offset="0.3114" stop-color="#840b99"/><stop offset="0.3145" stop-color="#810e9b"/><stop offset="0.3209" stop-color="#8a21a3"/><stop offset="0.3272" stop-color="#902ca8"/><stop offset="0.3368" stop-color="#8f2ba8"/><stop offset="0.3527" stop-color="#810e9b"/><stop offset="0.3558" stop-color="#830c99"/><stop offset="0.3717" stop-color="#a8078f"/><stop offset="0.3876" stop-color="#d30583"/><stop offset="0.394" stop-color="#e40a7b"/><stop offset="0.3971" stop-color="#ea1076"/><stop offset="0.4067" stop-color="#fe3768"/><stop offset="0.413" stop-color="#ff5263"/><stop offset="0.4194" stop-color="#ff645e"/><stop offset="0.4384" stop-color="#ff854a"/><stop offset="0.4575" stop-color="#ff9d38"/><stop offset="0.4956" stop-color="#ffae2a"/><stop offset="0.5592" stop-color="#ffb825"/><stop offset="0.6672" stop-color="#ffa531"/><stop offset="0.807" stop-color="#ff9c39"/><stop offset="1" stop-color="#ff8e43"/></linearGradient>
<linearGradient id="b53" gradientUnits="userSpaceOnUse" x1="60.5" x2="690" y1="0" y2="0"><stop offset="0" stop-color="#a20790"/><stop offset="0.2605" stop-color="#af068e"/><stop offset="0.2859" stop-color="#a50790"/><stop offset="0.3018" stop-color="#940994"/><stop offset="0.3145" stop-color="#800c9a"/><stop offset="0.3241" stop-color="#8c25a5"/><stop offset="0.3304" stop-color="#8f2ba8"/><stop offset="0.34" stop-color="#8c24a5"/><stop offset="0.3527" stop-color="#800d9a"/><stop offset="0.3558" stop-color="#820c99"/><stop offset="0.3717" stop-color="#a60790"/><stop offset="0.3876" stop-color="#d00584"/><stop offset="0.3971" stop-color="#e80c78"/><stop offset="0.4067" stop-color="#fc326a"/><stop offset="0.413" stop-color="#ff4e64"/><stop offset="0.4194" stop-color="#ff615f"/><stop offset="0.4321" stop-color="#ff7852"/><stop offset="0.4543" stop-color="#ff993b"/><stop offset="0.4734" stop-color="#ffa432"/><stop offset="0.5147" stop-color="#ffb028"/><stop offset="0.5592" stop-color="#ffb725"/><stop offset="0.6608" stop-color="#ffa631"/><stop offset="0.7657" stop-color="#ff9e37"/><stop offset="1" stop-color="#ff8e43"/></linearGradient>
<linearGradient id="b54" gradientUnits="userSpaceOnUse" x1="60.5" x2="690" y1="0" y2="0"><stop offset="0" stop-color="#a20790"/><stop offset="0.2605" stop-color="#ae068e"/><stop offset="0.2859" stop-color="#a50790"/><stop offset="0.3018" stop-color="#950994"/><stop offset="0.3145" stop-color="#810c9a"/><stop offset="0.3241" stop-color="#8b22a4"/><stop offset="0.3304" stop-color="#8e28a6"/><stop offset="0.3368" stop-color="#8d26a5"/><stop offset="0.3527" stop-color="#800c9a"/><stop offset="0.3558" stop-color="#820c99"/><stop offset="0.3717" stop-color="#a30790"/><stop offset="0.3876" stop-color="#ce0585"/><stop offset="0.3971" stop-color="#e60b79"/><stop offset="0.4035" stop-color="#f32071"/><stop offset="0.4098" stop-color="#ff3b67"/><stop offset="0.413" stop-color="#ff4965"/><stop offset="0.4194" stop-color="#ff5d61"/><stop offset="0.4321" stop-color="#ff7654"/><stop offset="0.4448" stop-color="#ff8847"/><stop offset="0.4575" stop-color="#ff9b39"/><stop offset="0.5052" stop-color="#ffae2a"/><stop offset="0.5592" stop-color="#ffb526"/><stop offset="0.6863" stop-color="#ffa234"/><stop offset="1" stop-color="#ff8e43"/></linearGradient>
<linearGradient id="b55" gradientUnits="userSpaceOnUse" x1="60.5" x2="690" y1="0" y2="0"><stop offset="0" stop-color="#a10790"/><stop offset="0.2605" stop-color="#ae068e"/><stop offset="0.2859" stop-color="#a50790"/><stop offset="0.3018" stop-color="#960993"/><stop offset="0.3145" stop-color="#830c99"/><stop offset="0.3177" stop-color="#810f9b"/><stop offset="0.3241" stop-color="#891ea2"/><stop offset="0.3304" stop-color="#8c25a5"/><stop offset="0.34" stop-color="#8a21a3"/><stop offset="0.3527" stop-color="#800c9a"/><stop offset="0.359" stop-color="#860b98"/><stop offset="0.3717" stop-color="#a00791"/><stop offset="0.3876" stop-color="#ca0586"/><stop offset="0.3971" stop-color="#e40a7b"/><stop offset="0.4003" stop-color="#ea1077"/><stop offset="0.4098" stop-color="#fe3669"/><stop offset="0.413" stop-color="#ff4466"/><stop offset="0.4226" stop-color="#ff615f"/><stop offset="0.4353" stop-color="#ff7753"/><stop offset="0.4607" stop-color="#ff9b39"/><stop offset="0.5052" stop-color="#ffad2b"/><stop offset="0.5624" stop-color="#ffb227"/><stop offset="0.7212" stop-color="#ff9e37"/><stop offset="0.8864" stop-color="#ff963d"/><stop offset="1" stop-color="#ff8e43"/></linearGradient>
<linearGradient id="b56" gradientUnits="userSpaceOnUse" x1="60.5" x2="690" y1="0" y2="0"><stop offset="0" stop-color="#a10791"/><stop offset="0.2605" stop-color="#ae068e"/><stop offset="0.2859" stop-color="#a50790"/><stop offset="0.3018" stop-color="#970993"/><stop offset="0.3177" stop-color="#800c9a"/><stop offset="0.3272" stop-color="#8a20a3"/><stop offset="0.3336" stop-color="#8b22a4"/><stop offset="0.3431" stop-color="#8619a0"/><stop offset="0.3527" stop-color="#800c9a"/><stop offset="0.359" stop-color="#850b98"/><stop offset="0.3717" stop-color="#9d0891"/><stop offset="0.3876" stop-color="#c80587"/><stop offset="0.3971" stop-color="#e1097d"/><stop offset="0.4003" stop-color="#e80c78"/><stop offset="0.4098" stop-color="#fb316b"/><stop offset="0.413" stop-color="#ff3e67"/><stop offset="0.4226" stop-color="#ff5d61"/><stop offset="0.4353" stop-color="#ff7455"/><stop offset="0.4512" stop-color="#ff8947"/><stop offset="0.467" stop-color="#ff9c38"/><stop offset="0.5115" stop-color="#ffad2b"/><stop offset="0.5751" stop-color="#ffae29"/><stop offset="0.7403" stop-color="#ff9c38"/><stop offset="0.8451" stop-color="#ff993b"/><stop offset="1" stop-color="#ff8e43"/></linearGradient>
<linearGradient id="b57" gradientUnits="userSpaceOnUse" x1="60.5" x2="690" y1="0" y2="0"><stop offset="0" stop-color="#a10791"/><stop offset="0.2605" stop-color="#ae068e"/><stop offset="0.2859" stop-color="#a50790"/><stop offset="0.305" stop-color="#940994"/><stop offset="0.3177" stop-color="#820c99"/><stop offset="0.3209" stop-color="#82109c"/><stop offset="0.3272" stop-color="#881ca1"/><stop offset="0.3336" stop-color="#8a20a3"/><stop offset="0.3431" stop-color="#86189f"/><stop offset="0.3527" stop-color="#810d9a"/><stop offset="0.359" stop-color="#830b99"/><stop offset="0.3717" stop-color="#9a0892"/><stop offset="0.3908" stop-color="#ce0585"/><stop offset="0.4003" stop-color="#e50b7a"/><stop offset="0.4035" stop-color="#ec1376"/><stop offset="0.413" stop-color="#ff3968"/><stop offset="0.4257" stop-color="#ff615f"/><stop offset="0.4384" stop-color="#ff7454"/><stop offset="0.4575" stop-color="#ff8c44"/><stop offset="0.4702" stop-color="#ff9c39"/><stop offset="0.5115" stop-color="#ffab2c"/><stop offset="0.5782" stop-color="#ffad2b"/><stop offset="0.7403" stop-color="#ff9c39"/><stop offset="0.8388" stop-color="#ff993b"/><stop offset="1" stop-color="#ff8d43"/></linearGradient>
<linearGradient id="b58" gradientUnits="userSpaceOnUse" x1="60.5" x2="690" y1="0" y2="0"><stop offset="0" stop-color="#a00791"/><stop offset="0.2637" stop-color="#ad068e"/><stop offset="0.2891" stop-color="#a30790"/><stop offset="0.3082" stop-color="#910995"/><stop offset="0.3209" stop-color="#800c9a"/><stop offset="0.3272" stop-color="#8619a0"/><stop offset="0.3336" stop-color="#891ea2"/><stop offset="0.34" stop-color="#881ba1"/><stop offset="0.3495" stop-color="#82109c"/><stop offset="0.359" stop-color="#820c9a"/><stop offset="0.3717" stop-color="#970893"/><stop offset="0.3908" stop-color="#cb0586"/><stop offset="0.4003" stop-color="#e3097b"/><stop offset="0.4035" stop-color="#e90e77"/><stop offset="0.413" stop-color="#fd336a"/><stop offset="0.4226" stop-color="#ff5263"/><stop offset="0.4289" stop-color="#ff625f"/><stop offset="0.4384" stop-color="#ff7057"/><stop offset="0.4575" stop-color="#ff8648"/><stop offset="0.4734" stop-color="#ff9b3a"/><stop offset="0.5179" stop-color="#ffa92e"/><stop offset="0.5846" stop-color="#ffaa2d"/><stop offset="0.7434" stop-color="#ff9b39"/><stop offset="0.8324" stop-color="#ff993a"/><stop offset="1" stop-color="#ff8d43"/></linearGradient>
<linearGradient id="b59" gradientUnits="userSpaceOnUse" x1="60.5" x2="690" y1="0" y2="0"><stop offset="0" stop-color="#a00791"/><stop offset="0.2637" stop-color="#ad068e"/><stop offset="0.2891" stop-color="#a30790"/><stop offset="0.3082" stop-color="#920994"/><stop offset="0.3209" stop-color="#820c99"/><stop offset="0.3272" stop-color="#85169e"/><stop offset="0.3336" stop-color="#881ca1"/><stop offset="0.3431" stop-color="#86179f"/><stop offset="0.359" stop-color="#800d9a"/><stop offset="0.3717" stop-color="#940994"/><stop offset="0.3876" stop-color="#be048a"/><stop offset="0.4003" stop-color="#e0087d"/><stop offset="0.4035" stop-color="#e60b79"/><stop offset="0.4098" stop-color="#f32071"/><stop offset="0.4162" stop-color="#ff3868"/><stop offset="0.4289" stop-color="#ff5c61"/><stop offset="0.4384" stop-color="#ff6d59"/><stop offset="0.4575" stop-color="#ff814d"/><stop offset="0.4766" stop-color="#ff993b"/><stop offset="0.5179" stop-color="#ffa72f"/><stop offset="0.5878" stop-color="#ffa92e"/><stop offset="0.7434" stop-color="#ff9b3a"/><stop offset="0.8292" stop-color="#ff993a"/><stop offset="1" stop-color="#ff8d43"/></linearGradient>
<linearGradient id="b60" gradientUnits="userSpaceOnUse" x1="60.5" x2="690" y1="0" y2="0"><stop offset="0" stop-color="#a00791"/><stop offset="0.2637" stop-color="#ad068e"/><stop offset="0.2891" stop-color="#a30790"/><stop offset="0.3082" stop-color="#930994"/><stop offset="0.3241" stop-color="#800c9a"/><stop offset="0.3336" stop-color="#881ca1"/><stop offset="0.3431" stop-color="#8719a0"/><stop offset="0.359" stop-color="#82109c"/><stop offset="0.3622" stop-color="#820c9a"/><stop offset="0.3717" stop-color="#910995"/><stop offset="0.3876" stop-color="#ba058b"/><stop offset="0.4003" stop-color="#de077f"/><stop offset="0.4067" stop-color="#e90e77"/><stop offset="0.4194" stop-color="#ff3a68"/><stop offset="0.4321" stop-color="#ff5d61"/><stop offset="0.4416" stop-color="#ff6c59"/><stop offset="0.4639" stop-color="#ff834b"/><stop offset="0.4829" stop-color="#ff993b"/><stop offset="0.5274" stop-color="#ffa630"/><stop offset="0.5941" stop-color="#ffa730"/><stop offset="0.7403" stop-color="#ff9a3a"/><stop offset="0.8261" stop-color="#ff993a"/><stop offset="1" stop-color="#ff8d44"/></linearGradient>
<linearGradient id="b61" gradientUnits="userSpaceOnUse" x1="60.5" x2="690" y1="0" y2="0"><stop offset="0" stop-color="#a00791"/><stop offset="0.2637" stop-color="#ad068e"/><stop offset="0.2891" stop-color="#a40790"/><stop offset="0.3082" stop-color="#940994"/><stop offset="0.3241" stop-color="#810c9a"/><stop offset="0.3336" stop-color="#881ca1"/><stop offset="0.3431" stop-color="#881da1"/><stop offset="0.3527" stop-color="#84159e"/><stop offset="0.359" stop-color="#84149e"/><stop offset="0.3622" stop-color="#810e9b"/><stop offset="0.3717" stop-color="#8d0a96"/><stop offset="0.3876" stop-color="#b6058c"/><stop offset="0.4003" stop-color="#da0681"/><stop offset="0.4067" stop-color="#e60b7a"/><stop offset="0.4098" stop-color="#eb1276"/><stop offset="0.4194" stop-color="#fc336a"/><stop offset="0.4289" stop-color="#ff4c64"/><stop offset="0.4384" stop-color="#ff635e"/><stop offset="0.4702" stop-color="#ff8649"/><stop offset="0.4893" stop-color="#ff993b"/><stop offset="0.5338" stop-color="#ffa432"/><stop offset="0.6005" stop-color="#ffa531"/><stop offset="0.7403" stop-color="#ff993b"/><stop offset="0.8229" stop-color="#ff993a"/><stop offset="1" stop-color="#ff8d44"/></linearGradient>
<linearGradient id="b62" gradientUnits="userSpaceOnUse" x1="60.5" x2="690" y1="0" y2="0"><stop offset="0" stop-color="#9f0791"/><stop offset="0.2637" stop-color="#ad068e"/><stop offset="0.2891" stop-color="#a40790"/><stop offset="0.3114" stop-color="#920994"/><stop offset="0.3241" stop-color="#820c99"/><stop offset="0.3336" stop-color="#881da1"/><stop offset="0.3431" stop-color="#891fa2"/><stop offset="0.3527" stop-color="#86189f"/><stop offset="0.359" stop-color="#86179f"/><stop offset="0.3622" stop-color="#84139d"/><stop offset="0.3654" stop-color="#810c9a"/><stop offset="0.3749" stop-color="#910995"/><stop offset="0.3971" stop-color="#cd0585"/><stop offset="0.4067" stop-color="#e2097c"/><stop offset="0.4098" stop-color="#e70c79"/><stop offset="0.4226" stop-color="#fd346a"/><stop offset="0.4416" stop-color="#ff635e"/><stop offset="0.4734" stop-color="#ff834b"/><stop offset="0.4925" stop-color="#ff963d"/><stop offset="0.5242" stop-color="#ffa035"/><stop offset="0.5973" stop-color="#ffa332"/><stop offset="0.7371" stop-color="#ff973c"/><stop offset="0.8229" stop-color="#ff993b"/><stop offset="1" stop-color="#ff8d44"/></linearGradient>
<linearGradient id="b63" gradientUnits="userSpaceOnUse" x1="60.5" x2="690" y1="0" y2="0"><stop offset="0" stop-color="#9f0791"/><stop offset="0.2669" stop-color="#ac068e"/><stop offset="0.2923" stop-color="#a20790"/><stop offset="0.3114" stop-color="#930994"/><stop offset="0.3241" stop-color="#820c99"/><stop offset="0.3272" stop-color="#820f9b"/><stop offset="0.3336" stop-color="#891fa2"/><stop offset="0.34" stop-color="#8b23a4"/><stop offset="0.3558" stop-color="#871aa0"/><stop offset="0.3622" stop-color="#86189f"/><stop offset="0.3654" stop-color="#82109c"/><stop offset="0.3685" stop-color="#830c99"/><stop offset="0.3749" stop-color="#8d0a96"/><stop offset="0.3908" stop-color="#b6058c"/><stop offset="0.4035" stop-color="#d70682"/><stop offset="0.413" stop-color="#e80d78"/><stop offset="0.4257" stop-color="#fd3469"/><stop offset="0.4448" stop-color="#ff635e"/><stop offset="0.4797" stop-color="#ff854a"/><stop offset="0.4988" stop-color="#ff943e"/><stop offset="0.5274" stop-color="#ff9e36"/><stop offset="0.6037" stop-color="#ffa234"/><stop offset="0.7339" stop-color="#ff963d"/><stop offset="0.8261" stop-color="#ff993b"/><stop offset="1" stop-color="#ff8c44"/></linearGradient>
<linearGradient id="b64" gradientUnits="userSpaceOnUse" x1="60.5" x2="690" y1="0" y2="0"><stop offset="0" stop-color="#9f0791"/><stop offset="0.2669" stop-color="#ac068e"/><stop offset="0.2923" stop-color="#a30790"/><stop offset="0.3114" stop-color="#940994"/><stop offset="0.3241" stop-color="#830c99"/><stop offset="0.3272" stop-color="#820f9b"/><stop offset="0.3336" stop-color="#8a20a3"/><stop offset="0.34" stop-color="#8d27a6"/><stop offset="0.359" stop-color="#881ca1"/><stop offset="0.3622" stop-color="#881ca1"/><stop offset="0.3685" stop-color="#800c9a"/><stop offset="0.3781" stop-color="#910995"/><stop offset="0.394" stop-color="#b9058b"/><stop offset="0.4067" stop-color="#d90681"/><stop offset="0.4162" stop-color="#e90e77"/><stop offset="0.4257" stop-color="#f92d6c"/><stop offset="0.4321" stop-color="#ff3c67"/><stop offset="0.448" stop-color="#ff625f"/><stop offset="0.4861" stop-color="#ff8549"/><stop offset="0.5147" stop-color="#ff973c"/><stop offset="0.5496" stop-color="#ff9f36"/><stop offset="0.6164" stop-color="#ff9f36"/><stop offset="0.7117" stop-color="#ff953e"/><stop offset="0.8356" stop-color="#ff983c"/><stop offset="1" stop-color="#ff8c44"/></linearGradient>
<linearGradient id="b65" gradientUnits="userSpaceOnUse" x1="60.5" x2="690" y1="0" y2="0"><stop offset="0" stop-color="#9f0891"/><stop offset="0.2669" stop-color="#ac068e"/><stop offset="0.2923" stop-color="#a30790"/><stop offset="0.3114" stop-color="#950994"/><stop offset="0.3241" stop-color="#840b99"/><stop offset="0.3272" stop-color="#810f9b"/><stop offset="0.3336" stop-color="#8b22a4"/><stop offset="0.34" stop-color="#8f2aa7"/><stop offset="0.3463" stop-color="#902ca8"/><stop offset="0.3527" stop-color="#8b23a4"/><stop offset="0.3654" stop-color="#86189f"/><stop offset="0.3685" stop-color="#810f9b"/><stop offset="0.3749" stop-color="#870b98"/><stop offset="0.394" stop-color="#b3058d"/><stop offset="0.4067" stop-color="#d40583"/><stop offset="0.4162" stop-color="#e50a7a"/><stop offset="0.4194" stop-color="#ea1077"/><stop offset="0.4289" stop-color="#f92d6c"/><stop offset="0.4353" stop-color="#ff3c67"/><stop offset="0.4512" stop-color="#ff625f"/><stop offset="0.4797" stop-color="#ff7a51"/><stop offset="0.5052" stop-color="#ff8d44"/><stop offset="0.5401" stop-color="#ff9b39"/><stop offset="0.6164" stop-color="#ff9e37"/><stop offset="0.7276" stop-color="#ff933f"/><stop offset="0.8388" stop-color="#ff973c"/><stop offset="1" stop-color="#ff8c44"/></linearGradient>
<linearGradient id="b66" gradientUnits="userSpaceOnUse" x1="60.5" x2="690" y1="0" y2="0"><stop offset="0" stop-color="#9e0891"/><stop offset="0.2669" stop-color="#ac068e"/><stop offset="0.2923" stop-color="#a30790"/><stop offset="0.3114" stop-color="#950993"/><stop offset="0.3241" stop-color="#840b99"/><stop offset="0.3272" stop-color="#810e9b"/><stop offset="0.3368" stop-color="#8f2ba8"/><stop offset="0.3431" stop-color="#9230aa"/><stop offset="0.3463" stop-color="#912fa9"/><stop offset="0.3527" stop-color="#8d27a6"/><stop offset="0.3654" stop-color="#871ba1"/><stop offset="0.3717" stop-color="#810c9a"/><stop offset="0.3813" stop-color="#900995"/><stop offset="0.3971" stop-color="#b6058c"/><stop offset="0.413" stop-color="#dc0680"/><stop offset="0.4194" stop-color="#e50b7a"/><stop offset="0.4226" stop-color="#eb1176"/><stop offset="0.4321" stop-color="#f92c6c"/><stop offset="0.4384" stop-color="#ff3b67"/><stop offset="0.4543" stop-color="#ff6060"/><stop offset="0.4829" stop-color="#ff7853"/><stop offset="0.5179" stop-color="#ff8e43"/><stop offset="0.5496" stop-color="#ff9a3a"/><stop offset="0.6227" stop-color="#ff9c38"/><stop offset="0.7244" stop-color="#ff9240"/><stop offset="0.8451" stop-color="#ff963d"/><stop offset="1" stop-color="#ff8c44"/></linearGradient>
<linearGradient id="b67" gradientUnits="userSpaceOnUse" x1="60.5" x2="690" y1="0" y2="0"><stop offset="0" stop-color="#9e0891"/><stop offset="0.2701" stop-color="#ac068e"/><stop offset="0.2955" stop-color="#a20790"/><stop offset="0.3145" stop-color="#920994"/><stop offset="0.3272" stop-color="#810e9b"/><stop offset="0.3336" stop-color="#8c25a5"/><stop offset="0.34" stop-color="#9333ab"/><stop offset="0.3463" stop-color="#9333ab"/><stop offset="0.3685" stop-color="#85159e"/><stop offset="0.3717" stop-color="#800c9a"/><stop offset="0.3813" stop-color="#8d0a96"/><stop offset="0.3971" stop-color="#b0068d"/><stop offset="0.4098" stop-color="#cf0585"/><stop offset="0.4194" stop-color="#e1097d"/><stop offset="0.4226" stop-color="#e60b7a"/><stop offset="0.4289" stop-color="#f01b72"/><stop offset="0.4384" stop-color="#fd336a"/><stop offset="0.448" stop-color="#ff4a64"/><stop offset="0.4575" stop-color="#ff5f60"/><stop offset="0.4829" stop-color="#ff7355"/><stop offset="0.5274" stop-color="#ff8d43"/><stop offset="0.5592" stop-color="#ff983c"/><stop offset="0.6227" stop-color="#ff9b39"/><stop offset="0.7212" stop-color="#ff9141"/><stop offset="0.8515" stop-color="#ff963d"/><stop offset="1" stop-color="#ff8c44"/></linearGradient>
<linearGradient id="b68" gradientUnits="userSpaceOnUse" x1="60.5" x2="690" y1="0" y2="0"><stop offset="0" stop-color="#9e0891"/><stop offset="0.2701" stop-color="#ab068e"/><stop offset="0.2955" stop-color="#a20790"/><stop offset="0.3145" stop-color="#930994"/><stop offset="0.3272" stop-color="#800d9a"/><stop offset="0.3368" stop-color="#912fa9"/><stop offset="0.3431" stop-color="#9638ad"/><stop offset="0.3463" stop-color="#9639ae"/><stop offset="0.3654" stop-color="#8719a0"/><stop offset="0.3685" stop-color="#85169e"/><stop offset="0.3717" stop-color="#810f9b"/><stop offset="0.3813" stop-color="#8b0a97"/><stop offset="0.4003" stop-color="#b2058d"/><stop offset="0.413" stop-color="#d00584"/><stop offset="0.4257" stop-color="#e60b79"/><stop offset="0.4384" stop-color="#f92b6d"/><stop offset="0.4448" stop-color="#ff3968"/><stop offset="0.4607" stop-color="#ff5c61"/><stop offset="0.4797" stop-color="#ff6d58"/><stop offset="0.5401" stop-color="#ff8e43"/><stop offset="0.5814" stop-color="#ff973c"/><stop offset="0.6291" stop-color="#ff983b"/><stop offset="0.7117" stop-color="#ff8f42"/><stop offset="0.8578" stop-color="#ff953e"/><stop offset="1" stop-color="#ff8c45"/></linearGradient>
<linearGradient id="b69" gradientUnits="userSpaceOnUse" x1="60.5" x2="690" y1="0" y2="0"><stop offset="0" stop-color="#9e0891"/><stop offset="0.2701" stop-color="#ab068e"/><stop offset="0.2955" stop-color="#a30790"/><stop offset="0.3145" stop-color="#930994"/><stop offset="0.3272" stop-color="#800c9a"/><stop offset="0.3368" stop-color="#912ea9"/><stop offset="0.34" stop-color="#9638ad"/><stop offset="0.3431" stop-color="#973caf"/><stop offset="0.3495" stop-color="#983caf"/><stop offset="0.3622" stop-color="#891ea2"/><stop offset="0.3717" stop-color="#810f9b"/><stop offset="0.3781" stop-color="#860b98"/><stop offset="0.3876" stop-color="#930994"/><stop offset="0.4035" stop-color="#b4058c"/><stop offset="0.4194" stop-color="#d70682"/><stop offset="0.4289" stop-color="#e60b79"/><stop offset="0.4448" stop-color="#fc316a"/><stop offset="0.4512" stop-color="#ff3f67"/><stop offset="0.4639" stop-color="#ff5a61"/><stop offset="0.4766" stop-color="#ff675c"/><stop offset="0.5369" stop-color="#ff8748"/><stop offset="0.5687" stop-color="#ff9141"/><stop offset="0.6259" stop-color="#ff963d"/><stop offset="0.7085" stop-color="#ff8d43"/><stop offset="0.8642" stop-color="#ff943e"/><stop offset="1" stop-color="#ff8b45"/></linearGradient>
<linearGradient id="b70" gradientUnits="userSpaceOnUse" x1="60.5" x2="690" y1="0" y2="0"><stop offset="0" stop-color="#9d0891"/><stop offset="0.2701" stop-color="#ab068e"/><stop offset="0.2955" stop-color="#a30790"/><stop offset="0.3145" stop-color="#940994"/><stop offset="0.3272" stop-color="#810c9a"/><stop offset="0.3336" stop-color="#8b22a4"/><stop offset="0.34" stop-color="#9537ad"/><stop offset="0.3431" stop-color="#993eb0"/><stop offset="0.3463" stop-color="#993fb0"/><stop offset="0.3527" stop-color="#973baf"/><stop offset="0.3622" stop-color="#891fa2"/><stop offset="0.3717" stop-color="#810e9b"/><stop offset="0.3844" stop-color="#8c0a96"/><stop offset="0.4035" stop-color="#ae068e"/><stop offset="0.4162" stop-color="#cb0586"/><stop offset="0.4289" stop-color="#e1097c"/><stop offset="0.4321" stop-color="#e60b79"/><stop offset="0.448" stop-color="#fb306b"/><stop offset="0.4543" stop-color="#ff3d67"/><stop offset="0.467" stop-color="#ff5662"/><stop offset="0.4797" stop-color="#ff645d"/><stop offset="0.5242" stop-color="#ff7c50"/><stop offset="0.5655" stop-color="#ff8c44"/><stop offset="0.6291" stop-color="#ff933f"/><stop offset="0.7053" stop-color="#ff8b45"/><stop offset="0.8642" stop-color="#ff943e"/><stop offset="1" stop-color="#ff8b45"/></linearGradient>
<linearGradient id="b71" gradientUnits="userSpaceOnUse" x1="60.5" x2="690" y1="0" y2="0"><stop offset="0" stop-color="#9d0891"/><stop offset="0.2732" stop-color="#ab068e"/><stop offset="0.2986" stop-color="#a10790"/><stop offset="0.3177" stop-color="#910995"/><stop offset="0.3272" stop-color="#830c99"/><stop offset="0.3304" stop-color="#83129d"/><stop offset="0.34" stop-color="#9536ac"/><stop offset="0.3431" stop-color="#983daf"/><stop offset="0.3495" stop-color="#9a40b1"/><stop offset="0.3527" stop-color="#973baf"/><stop offset="0.3558" stop-color="#912fa9"/><stop offset="0.359" stop-color="#8f2ba8"/><stop offset="0.3685" stop-color="#83119c"/><stop offset="0.3717" stop-color="#800d9a"/><stop offset="0.3908" stop-color="#920994"/><stop offset="0.4067" stop-color="#af068e"/><stop offset="0.4194" stop-color="#cc0586"/><stop offset="0.4321" stop-color="#e1097d"/><stop offset="0.4353" stop-color="#e60b79"/><stop offset="0.4512" stop-color="#fa2e6c"/><stop offset="0.4607" stop-color="#ff4166"/><stop offset="0.4734" stop-color="#ff5762"/><stop offset="0.4861" stop-color="#ff655d"/><stop offset="0.5274" stop-color="#ff7a51"/><stop offset="0.5719" stop-color="#ff8946"/><stop offset="0.6322" stop-color="#ff8f42"/><stop offset="0.7021" stop-color="#ff8947"/><stop offset="0.7847" stop-color="#ff9041"/><stop offset="0.8832" stop-color="#ff9240"/><stop offset="1" stop-color="#ff8b45"/></linearGradient>
<linearGradient id="b72" gradientUnits="userSpaceOnUse" x1="60.5" x2="690" y1="0" y2="0"><stop offset="0" stop-color="#9d0891"/><stop offset="0.2732" stop-color="#ab068e"/><stop offset="0.2986" stop-color="#a20790"/><stop offset="0.3177" stop-color="#920994"/><stop offset="0.3304" stop-color="#810d9b"/><stop offset="0.34" stop-color="#9231aa"/><stop offset="0.3431" stop-color="#973baf"/><stop offset="0.3463" stop-color="#9a40b1"/><stop offset="0.3527" stop-color="#993fb0"/><stop offset="0.3558" stop-color="#9638ad"/><stop offset="0.359" stop-color="#8f2ba8"/><stop offset="0.3622" stop-color="#8c24a5"/><stop offset="0.3685" stop-color="#83119c"/><stop offset="0.3717" stop-color="#810c9a"/><stop offset="0.394" stop-color="#930994"/><stop offset="0.4067" stop-color="#a8078f"/><stop offset="0.4226" stop-color="#cc0586"/><stop offset="0.4353" stop-color="#e1087d"/><stop offset="0.4416" stop-color="#ea1077"/><stop offset="0.4575" stop-color="#fc326a"/><stop offset="0.4639" stop-color="#ff3e67"/><stop offset="0.4766" stop-color="#ff5363"/><stop offset="0.4893" stop-color="#ff625f"/><stop offset="0.5306" stop-color="#ff7853"/><stop offset="0.5814" stop-color="#ff8748"/><stop offset="0.6354" stop-color="#ff8c44"/><stop offset="0.699" stop-color="#ff8648"/><stop offset="0.7593" stop-color="#ff8e43"/><stop offset="0.8864" stop-color="#ff9240"/><stop offset="1" stop-color="#ff8b45"/></linearGradient>
<linearGradient id="b73" gradientUnits="userSpaceOnUse" x1="60.5" x2="690" y1="0" y2="0"><stop offset="0" stop-color="#9d0891"/><stop offset="0.2732" stop-color="#ab068e"/><stop offset="0.2955" stop-color="#a40790"/><stop offset="0.3177" stop-color="#930994"/><stop offset="0.3304" stop-color="#820c9a"/><stop offset="0.3336" stop-color="#84149e"/><stop offset="0.34" stop-color="#902da8"/><stop offset="0.3463" stop-color="#993eb0"/><stop offset="0.3495" stop-color="#9a41b1"/><stop offset="0.3558" stop-color="#983caf"/><stop offset="0.3622" stop-color="#8c25a5"/><stop offset="0.3685" stop-color="#83129d"/><stop offset="0.3717" stop-color="#810c9a"/><stop offset="0.3971" stop-color="#940994"/><stop offset="0.4098" stop-color="#a8068f"/><stop offset="0.4226" stop-color="#c50488"/><stop offset="0.4384" stop-color="#e0087d"/><stop offset="0.4448" stop-color="#e90f77"/><stop offset="0.4639" stop-color="#fd3469"/><stop offset="0.4797" stop-color="#ff4f63"/><stop offset="0.4956" stop-color="#ff625f"/><stop offset="0.5369" stop-color="#ff7653"/><stop offset="0.5941" stop-color="#ff854a"/><stop offset="0.6386" stop-color="#ff8847"/><stop offset="0.6958" stop-color="#ff844a"/><stop offset="0.7593" stop-color="#ff8c44"/><stop offset="0.8928" stop-color="#ff9140"/><stop offset="1" stop-color="#ff8b45"/></linearGradient>
<linearGradient id="b74" gradientUnits="userSpaceOnUse" x1="60.5" x2="690" y1="0" y2="0"><stop offset="0" stop-color="#9c0892"/><stop offset="0.2764" stop-color="#aa068f"/><stop offset="0.2986" stop-color="#a30790"/><stop offset="0.3209" stop-color="#910995"/><stop offset="0.3336" stop-color="#810e9b"/><stop offset="0.3431" stop-color="#9231aa"/><stop offset="0.3495" stop-color="#993fb0"/><stop offset="0.3527" stop-color="#9940b1"/><stop offset="0.359" stop-color="#9638ad"/><stop offset="0.3654" stop-color="#891fa2"/><stop offset="0.3717" stop-color="#800c9a"/><stop offset="0.3971" stop-color="#900995"/><stop offset="0.4098" stop-color="#a20790"/><stop offset="0.4257" stop-color="#c50488"/><stop offset="0.4416" stop-color="#e0087e"/><stop offset="0.448" stop-color="#e80d78"/><stop offset="0.4702" stop-color="#fe3669"/><stop offset="0.4861" stop-color="#ff4f63"/><stop offset="0.502" stop-color="#ff615f"/><stop offset="0.5401" stop-color="#ff7455"/><stop offset="0.6132" stop-color="#ff844a"/><stop offset="0.6736" stop-color="#ff824c"/><stop offset="0.699" stop-color="#ff834b"/><stop offset="0.7625" stop-color="#ff8c45"/><stop offset="0.8991" stop-color="#ff9141"/><stop offset="1" stop-color="#ff8a45"/></linearGradient>
<linearGradient id="b75" gradientUnits="userSpaceOnUse" x1="60.5" x2="690" y1="0" y2="0"><stop offset="0" stop-color="#9c0892"/><stop offset="0.2764" stop-color="#aa068f"/><stop offset="0.2986" stop-color="#a30790"/><stop offset="0.3241" stop-color="#8f0a95"/><stop offset="0.3336" stop-color="#830c99"/><stop offset="0.3368" stop-color="#83119c"/><stop offset="0.3463" stop-color="#9333ab"/><stop offset="0.3527" stop-color="#993fb0"/><stop offset="0.3558" stop-color="#983eb0"/><stop offset="0.3622" stop-color="#9435ac"/><stop offset="0.3685" stop-color="#8719a0"/><stop offset="0.3749" stop-color="#820c99"/><stop offset="0.4003" stop-color="#900a95"/><stop offset="0.413" stop-color="#a10790"/><stop offset="0.4289" stop-color="#c40488"/><stop offset="0.4448" stop-color="#df077e"/><stop offset="0.4512" stop-color="#e70c79"/><stop offset="0.4766" stop-color="#ff3768"/><stop offset="0.4925" stop-color="#ff4f63"/><stop offset="0.5083" stop-color="#ff615f"/><stop offset="0.5465" stop-color="#ff7355"/><stop offset="0.6164" stop-color="#ff804d"/><stop offset="0.6799" stop-color="#ff7e4e"/><stop offset="0.7657" stop-color="#ff8b45"/><stop offset="0.9023" stop-color="#ff9041"/><stop offset="1" stop-color="#ff8a46"/></linearGradient>
<linearGradient id="b76" gradientUnits="userSpaceOnUse" x1="60.5" x2="690" y1="0" y2="0"><stop offset="0" stop-color="#9c0892"/><stop offset="0.2764" stop-color="#aa068f"/><stop offset="0.3018" stop-color="#a20790"/><stop offset="0.3272" stop-color="#8e0a96"/><stop offset="0.3368" stop-color="#810c9a"/><stop offset="0.34" stop-color="#84149d"/><stop offset="0.3495" stop-color="#9434ac"/><stop offset="0.3527" stop-color="#973aae"/><stop offset="0.359" stop-color="#983caf"/><stop offset="0.3622" stop-color="#9536ac"/><stop offset="0.3685" stop-color="#8b23a4"/><stop offset="0.3717" stop-color="#85169e"/><stop offset="0.3749" stop-color="#810e9b"/><stop offset="0.3908" stop-color="#890b97"/><stop offset="0.4035" stop-color="#8f0a95"/><stop offset="0.4162" stop-color="#a10791"/><stop offset="0.4321" stop-color="#c30489"/><stop offset="0.4512" stop-color="#e1097c"/><stop offset="0.4575" stop-color="#e90e77"/><stop offset="0.4829" stop-color="#ff3968"/><stop offset="0.5083" stop-color="#ff5b61"/><stop offset="0.5369" stop-color="#ff6c59"/><stop offset="0.5909" stop-color="#ff7951"/><stop offset="0.6704" stop-color="#ff7c50"/><stop offset="0.7021" stop-color="#ff804d"/><stop offset="0.7689" stop-color="#ff8a46"/><stop offset="0.9087" stop-color="#ff9042"/><stop offset="1" stop-color="#ff8a46"/></linearGradient>
<linearGradient id="b77" gradientUnits="userSpaceOnUse" x1="60.5" x2="690" y1="0" y2="0"><stop offset="0" stop-color="#9b0892"/><stop offset="0.2796" stop-color="#aa068f"/><stop offset="0.305" stop-color="#a10791"/><stop offset="0.3304" stop-color="#8d0a96"/><stop offset="0.34" stop-color="#810c9a"/><stop offset="0.3527" stop-color="#9536ad"/><stop offset="0.3558" stop-color="#973baf"/><stop offset="0.3622" stop-color="#973bae"/><stop offset="0.3654" stop-color="#9434ac"/><stop offset="0.3749" stop-color="#84139d"/><stop offset="0.3781" stop-color="#800d9a"/><stop offset="0.3971" stop-color="#890b97"/><stop offset="0.4067" stop-color="#8e0a96"/><stop offset="0.4194" stop-color="#a00791"/><stop offset="0.4353" stop-color="#c20489"/><stop offset="0.4543" stop-color="#e0087d"/><stop offset="0.4607" stop-color="#e70c78"/><stop offset="0.4893" stop-color="#ff3a68"/><stop offset="0.5147" stop-color="#ff5a61"/><stop offset="0.5369" stop-color="#ff695b"/><stop offset="0.5909" stop-color="#ff7753"/><stop offset="0.6958" stop-color="#ff7d4f"/><stop offset="0.7689" stop-color="#ff8947"/><stop offset="0.915" stop-color="#ff8f42"/><stop offset="1" stop-color="#ff8a46"/></linearGradient>
<linearGradient id="b78" gradientUnits="userSpaceOnUse" x1="60.5" x2="690" y1="0" y2="0"><stop offset="0" stop-color="#9b0892"/><stop offset="0.2796" stop-color="#aa068f"/><stop offset="0.305" stop-color="#a10790"/><stop offset="0.3336" stop-color="#8d0a96"/><stop offset="0.3431" stop-color="#800d9a"/><stop offset="0.3527" stop-color="#912fa9"/><stop offset="0.3558" stop-color="#9639ae"/><stop offset="0.359" stop-color="#983daf"/><stop offset="0.3654" stop-color="#973aae"/><stop offset="0.3685" stop-color="#9434ac"/><stop offset="0.3781" stop-color="#84139d"/><stop offset="0.3813" stop-color="#800d9a"/><stop offset="0.4067" stop-color="#8a0a97"/><stop offset="0.4194" stop-color="#990892"/><stop offset="0.4384" stop-color="#c1048a"/><stop offset="0.4607" stop-color="#e2097c"/><stop offset="0.467" stop-color="#e80d78"/><stop offset="0.4956" stop-color="#ff3a68"/><stop offset="0.5179" stop-color="#ff5662"/><stop offset="0.5369" stop-color="#ff655d"/><stop offset="0.5878" stop-color="#ff7455"/><stop offset="0.7021" stop-color="#ff7c50"/><stop offset="0.7752" stop-color="#ff8847"/><stop offset="0.9214" stop-color="#ff8e43"/><stop offset="1" stop-color="#ff8a46"/></linearGradient>
<linearGradient id="b79" gradientUnits="userSpaceOnUse" x1="60.5" x2="690" y1="0" y2="0"><stop offset="0" stop-color="#9b0892"/><stop offset="0.2828" stop-color="#a9068f"/><stop offset="0.3082" stop-color="#a10791"/><stop offset="0.3336" stop-color="#8f0a95"/><stop offset="0.3431" stop-color="#830c99"/><stop offset="0.3463" stop-color="#82119c"/><stop offset="0.3558" stop-color="#9333ab"/><stop offset="0.359" stop-color="#973caf"/><stop offset="0.3622" stop-color="#993fb0"/><stop offset="0.3685" stop-color="#973baf"/><stop offset="0.3717" stop-color="#9230aa"/><stop offset="0.3749" stop-color="#8f2aa7"/><stop offset="0.3844" stop-color="#810f9b"/><stop offset="0.394" stop-color="#840b99"/><stop offset="0.4098" stop-color="#890b97"/><stop offset="0.4226" stop-color="#980893"/><stop offset="0.4416" stop-color="#c0048a"/><stop offset="0.4639" stop-color="#e0087e"/><stop offset="0.4734" stop-color="#e90e77"/><stop offset="0.502" stop-color="#ff3b67"/><stop offset="0.521" stop-color="#ff5363"/><stop offset="0.5433" stop-color="#ff645e"/><stop offset="0.6005" stop-color="#ff7355"/><stop offset="0.6767" stop-color="#ff7852"/><stop offset="0.7816" stop-color="#ff8748"/><stop offset="0.9245" stop-color="#ff8e43"/><stop offset="1" stop-color="#ff8946"/></linearGradient>
<linearGradient id="b80" gradientUnits="userSpaceOnUse" x1="60.5" x2="690" y1="0" y2="0"><stop offset="0" stop-color="#9b0892"/><stop offset="0.2828" stop-color="#a9068f"/><stop offset="0.3114" stop-color="#a00791"/><stop offset="0.3368" stop-color="#8e0a96"/><stop offset="0.3463" stop-color="#810c9a"/><stop offset="0.3527" stop-color="#8a21a3"/><stop offset="0.359" stop-color="#9537ad"/><stop offset="0.3622" stop-color="#993fb1"/><stop offset="0.3654" stop-color="#9b42b2"/><stop offset="0.3717" stop-color="#983eb0"/><stop offset="0.3876" stop-color="#83119c"/><stop offset="0.3908" stop-color="#800c9a"/><stop offset="0.413" stop-color="#880b98"/><stop offset="0.4257" stop-color="#970893"/><stop offset="0.4448" stop-color="#be048a"/><stop offset="0.4702" stop-color="#e1097d"/><stop offset="0.4797" stop-color="#ea0f77"/><stop offset="0.5052" stop-color="#fe3768"/><stop offset="0.5242" stop-color="#ff4f63"/><stop offset="0.5465" stop-color="#ff625f"/><stop offset="0.6037" stop-color="#ff7057"/><stop offset="0.6736" stop-color="#ff7554"/><stop offset="0.7879" stop-color="#ff8649"/><stop offset="0.9309" stop-color="#ff8d43"/><stop offset="1" stop-color="#ff8946"/></linearGradient>
<linearGradient id="b81" gradientUnits="userSpaceOnUse" x1="60.5" x2="690" y1="0" y2="0"><stop offset="0" stop-color="#9a0892"/><stop offset="0.2828" stop-color="#a9068f"/><stop offset="0.3114" stop-color="#a10791"/><stop offset="0.3368" stop-color="#910995"/><stop offset="0.3495" stop-color="#810d9b"/><stop offset="0.359" stop-color="#9334ab"/><stop offset="0.3654" stop-color="#9c44b3"/><stop offset="0.3685" stop-color="#9d46b4"/><stop offset="0.3749" stop-color="#9a40b1"/><stop offset="0.3876" stop-color="#871ba1"/><stop offset="0.394" stop-color="#810f9b"/><stop offset="0.4098" stop-color="#830c99"/><stop offset="0.4226" stop-color="#8d0a96"/><stop offset="0.4321" stop-color="#9c0891"/><stop offset="0.4512" stop-color="#c1048a"/><stop offset="0.4734" stop-color="#df077e"/><stop offset="0.4829" stop-color="#e80c78"/><stop offset="0.5115" stop-color="#ff3868"/><stop offset="0.5274" stop-color="#ff4c64"/><stop offset="0.5528" stop-color="#ff615f"/><stop offset="0.6068" stop-color="#ff6e58"/><stop offset="0.6672" stop-color="#ff7256"/><stop offset="0.7911" stop-color="#ff8549"/><stop offset="0.9373" stop-color="#ff8d44"/><stop offset="1" stop-color="#ff8946"/></linearGradient>
<linearGradient id="b82" gradientUnits="userSpaceOnUse" x1="60.5" x2="690" y1="0" y2="0"><stop offset="0" stop-color="#9a0892"/><stop offset="0.2859" stop-color="#a9068f"/><stop offset="0.3145" stop-color="#a10791"/><stop offset="0.34" stop-color="#8f0a95"/><stop offset="0.3495" stop-color="#820c99"/><stop offset="0.3527" stop-color="#84139d"/><stop offset="0.3622" stop-color="#973aae"/><stop offset="0.3685" stop-color="#9e49b5"/><stop offset="0.3749" stop-color="#9e48b4"/><stop offset="0.3781" stop-color="#9c44b3"/><stop offset="0.3876" stop-color="#8d26a5"/><stop offset="0.394" stop-color="#85169e"/><stop offset="0.4035" stop-color="#800c9a"/><stop offset="0.4194" stop-color="#860b98"/><stop offset="0.4321" stop-color="#950993"/><stop offset="0.4543" stop-color="#bf048a"/><stop offset="0.4797" stop-color="#e0087d"/><stop offset="0.4893" stop-color="#e90d78"/><stop offset="0.5147" stop-color="#fd3469"/><stop offset="0.5306" stop-color="#ff4865"/><stop offset="0.5592" stop-color="#ff6060"/><stop offset="0.61" stop-color="#ff6b5a"/><stop offset="0.664" stop-color="#ff7057"/><stop offset="0.7244" stop-color="#ff7a51"/><stop offset="0.807" stop-color="#ff854a"/><stop offset="0.9436" stop-color="#ff8c44"/><stop offset="1" stop-color="#ff8947"/></linearGradient>
<linearGradient id="b83" gradientUnits="userSpaceOnUse" x1="60.5" x2="690" y1="0" y2="0"><stop offset="0" stop-color="#9a0892"/><stop offset="0.2891" stop-color="#a9068f"/><stop offset="0.3209" stop-color="#9e0891"/><stop offset="0.3431" stop-color="#8d0a96"/><stop offset="0.3527" stop-color="#810d9a"/><stop offset="0.3654" stop-color="#9a41b1"/><stop offset="0.3717" stop-color="#a14eb7"/><stop offset="0.3781" stop-color="#9f4cb6"/><stop offset="0.394" stop-color="#891ea2"/><stop offset="0.4003" stop-color="#84139d"/><stop offset="0.4067" stop-color="#800c9a"/><stop offset="0.4226" stop-color="#860b98"/><stop offset="0.4353" stop-color="#940994"/><stop offset="0.4575" stop-color="#bc048b"/><stop offset="0.4861" stop-color="#e1087d"/><stop offset="0.4956" stop-color="#e90f77"/><stop offset="0.5179" stop-color="#fb316b"/><stop offset="0.5306" stop-color="#ff4166"/><stop offset="0.5655" stop-color="#ff5e60"/><stop offset="0.61" stop-color="#ff685b"/><stop offset="0.6577" stop-color="#ff6c59"/><stop offset="0.7212" stop-color="#ff7952"/><stop offset="0.8165" stop-color="#ff844a"/><stop offset="0.95" stop-color="#ff8b45"/><stop offset="1" stop-color="#ff8947"/></linearGradient>
<linearGradient id="b84" gradientUnits="userSpaceOnUse" x1="60.5" x2="690" y1="0" y2="0"><stop offset="0" stop-color="#9a0892"/><stop offset="0.2891" stop-color="#a9068f"/><stop offset="0.3145" stop-color="#a20790"/><stop offset="0.34" stop-color="#920995"/><stop offset="0.3527" stop-color="#820c99"/><stop offset="0.3558" stop-color="#84159e"/><stop offset="0.3654" stop-color="#983daf"/><stop offset="0.3717" stop-color="#a14fb7"/><stop offset="0.3749" stop-color="#a353b9"/><stop offset="0.3813" stop-color="#a14eb7"/><stop offset="0.3971" stop-color="#891fa2"/><stop offset="0.4035" stop-color="#84149d"/><stop offset="0.413" stop-color="#800c9a"/><stop offset="0.4257" stop-color="#850b98"/><stop offset="0.4384" stop-color="#930994"/><stop offset="0.4607" stop-color="#ba058b"/><stop offset="0.4893" stop-color="#df077e"/><stop offset="0.4988" stop-color="#e80c78"/><stop offset="0.5242" stop-color="#fc326a"/><stop offset="0.5369" stop-color="#ff4166"/><stop offset="0.5687" stop-color="#ff5a61"/><stop offset="0.6005" stop-color="#ff645e"/><stop offset="0.6577" stop-color="#ff6b5a"/><stop offset="0.7276" stop-color="#ff7952"/><stop offset="0.8292" stop-color="#ff844a"/><stop offset="0.9531" stop-color="#ff8b45"/><stop offset="1" stop-color="#ff8947"/></linearGradient>
<linearGradient id="b85" gradientUnits="userSpaceOnUse" x1="60.5" x2="690" y1="0" y2="0"><stop offset="0" stop-color="#990892"/><stop offset="0.2923" stop-color="#a8068f"/><stop offset="0.3209" stop-color="#a00791"/><stop offset="0.3463" stop-color="#8c0a96"/><stop offset="0.3527" stop-color="#840b99"/><stop offset="0.3558" stop-color="#82109c"/><stop offset="0.3685" stop-color="#9b43b2"/><stop offset="0.3749" stop-color="#a353b9"/><stop offset="0.3781" stop-color="#a455ba"/><stop offset="0.3844" stop-color="#a150b8"/><stop offset="0.4003" stop-color="#891ea2"/><stop offset="0.4067" stop-color="#84139d"/><stop offset="0.4162" stop-color="#800c9a"/><stop offset="0.4289" stop-color="#850b99"/><stop offset="0.4448" stop-color="#960993"/><stop offset="0.467" stop-color="#bc048b"/><stop offset="0.4956" stop-color="#e0087e"/><stop offset="0.5052" stop-color="#e90d78"/><stop offset="0.5274" stop-color="#fa2e6b"/><stop offset="0.5401" stop-color="#ff3d67"/><stop offset="0.5719" stop-color="#ff5762"/><stop offset="0.6037" stop-color="#ff615f"/><stop offset="0.6513" stop-color="#ff675c"/><stop offset="0.7276" stop-color="#ff7753"/><stop offset="0.8419" stop-color="#ff844a"/><stop offset="0.9595" stop-color="#ff8b45"/><stop offset="1" stop-color="#ff8847"/></linearGradient>
<linearGradient id="b86" gradientUnits="userSpaceOnUse" x1="60.5" x2="690" y1="0" y2="0"><stop offset="0" stop-color="#990892"/><stop offset="0.2923" stop-color="#a9068f"/><stop offset="0.3209" stop-color="#a10791"/><stop offset="0.34" stop-color="#930994"/><stop offset="0.3558" stop-color="#800c9a"/><stop offset="0.3717" stop-color="#9e49b5"/><stop offset="0.3781" stop-color="#a456ba"/><stop offset="0.3844" stop-color="#a354b9"/><stop offset="0.3876" stop-color="#a14fb7"/><stop offset="0.4003" stop-color="#8c24a5"/><stop offset="0.4067" stop-color="#85159e"/><stop offset="0.4162" stop-color="#800c9a"/><stop offset="0.4321" stop-color="#840b99"/><stop offset="0.448" stop-color="#940994"/><stop offset="0.4702" stop-color="#b9058c"/><stop offset="0.502" stop-color="#e1087d"/><stop offset="0.5115" stop-color="#ea0f77"/><stop offset="0.5369" stop-color="#fd336a"/><stop offset="0.5624" stop-color="#ff4a64"/><stop offset="0.5814" stop-color="#ff5662"/><stop offset="0.6291" stop-color="#ff6160"/><stop offset="0.7339" stop-color="#ff7753"/><stop offset="0.861" stop-color="#ff844a"/><stop offset="0.969" stop-color="#ff8a46"/><stop offset="1" stop-color="#ff8847"/></linearGradient>
<linearGradient id="b87" gradientUnits="userSpaceOnUse" x1="60.5" x2="690" y1="0" y2="0"><stop offset="0" stop-color="#990892"/><stop offset="0.2955" stop-color="#a8068f"/><stop offset="0.3209" stop-color="#a20790"/><stop offset="0.3431" stop-color="#910995"/><stop offset="0.3558" stop-color="#820c99"/><stop offset="0.359" stop-color="#83129d"/><stop offset="0.3749" stop-color="#a04db6"/><stop offset="0.3813" stop-color="#a556bb"/><stop offset="0.3876" stop-color="#a252b9"/><stop offset="0.3908" stop-color="#a04db7"/><stop offset="0.4035" stop-color="#8b21a3"/><stop offset="0.4098" stop-color="#84149d"/><stop offset="0.4194" stop-color="#800c9a"/><stop offset="0.4353" stop-color="#830c99"/><stop offset="0.4512" stop-color="#920994"/><stop offset="0.4734" stop-color="#b6058c"/><stop offset="0.5052" stop-color="#df087e"/><stop offset="0.5147" stop-color="#e80c78"/><stop offset="0.5401" stop-color="#fb306b"/><stop offset="0.556" stop-color="#ff3e67"/><stop offset="0.5782" stop-color="#ff4f63"/><stop offset="0.6672" stop-color="#ff685c"/><stop offset="0.7403" stop-color="#ff7753"/><stop offset="0.8959" stop-color="#ff8549"/><stop offset="0.9754" stop-color="#ff8946"/><stop offset="1" stop-color="#ff8847"/></linearGradient>
<linearGradient id="b88" gradientUnits="userSpaceOnUse" x1="60.5" x2="690" y1="0" y2="0"><stop offset="0" stop-color="#980892"/><stop offset="0.2955" stop-color="#a8068f"/><stop offset="0.3241" stop-color="#a00791"/><stop offset="0.3495" stop-color="#8b0a97"/><stop offset="0.3558" stop-color="#830b99"/><stop offset="0.359" stop-color="#810f9b"/><stop offset="0.3749" stop-color="#9c46b3"/><stop offset="0.3781" stop-color="#a14eb7"/><stop offset="0.3844" stop-color="#a455ba"/><stop offset="0.3908" stop-color="#a14fb7"/><stop offset="0.394" stop-color="#9e4ab5"/><stop offset="0.4035" stop-color="#8e28a6"/><stop offset="0.4098" stop-color="#86179f"/><stop offset="0.4162" stop-color="#820f9c"/><stop offset="0.4289" stop-color="#800c9a"/><stop offset="0.4416" stop-color="#840b99"/><stop offset="0.4543" stop-color="#900a95"/><stop offset="0.4766" stop-color="#b3058d"/><stop offset="0.5052" stop-color="#d90681"/><stop offset="0.521" stop-color="#e90e77"/><stop offset="0.5465" stop-color="#fb306b"/><stop offset="0.5655" stop-color="#ff4066"/><stop offset="0.5846" stop-color="#ff4c64"/><stop offset="0.6259" stop-color="#ff5862"/><stop offset="0.6577" stop-color="#ff645e"/><stop offset="0.7434" stop-color="#ff7653"/><stop offset="0.9341" stop-color="#ff8748"/><stop offset="0.9913" stop-color="#ff8847"/><stop offset="1" stop-color="#ff8847"/></linearGradient>
<linearGradient id="b89" gradientUnits="userSpaceOnUse" x1="60.5" x2="690" y1="0" y2="0"><stop offset="0" stop-color="#980893"/><stop offset="0.2986" stop-color="#a8078f"/><stop offset="0.3241" stop-color="#a10791"/><stop offset="0.3431" stop-color="#920994"/><stop offset="0.359" stop-color="#810c9a"/><stop offset="0.3781" stop-color="#9d47b4"/><stop offset="0.3813" stop-color="#a14eb7"/><stop offset="0.3876" stop-color="#a353b9"/><stop offset="0.394" stop-color="#9f4bb6"/><stop offset="0.3971" stop-color="#9c45b3"/><stop offset="0.4035" stop-color="#912ea9"/><stop offset="0.413" stop-color="#85159e"/><stop offset="0.4226" stop-color="#810e9b"/><stop offset="0.4384" stop-color="#810e9b"/><stop offset="0.4448" stop-color="#820c99"/><stop offset="0.4575" stop-color="#8d0a96"/><stop offset="0.4766" stop-color="#ad068e"/><stop offset="0.502" stop-color="#ce0585"/><stop offset="0.5179" stop-color="#e2097c"/><stop offset="0.5274" stop-color="#ea0f77"/><stop offset="0.5496" stop-color="#f92c6c"/><stop offset="0.5719" stop-color="#ff3e67"/><stop offset="0.5878" stop-color="#ff4765"/><stop offset="0.6227" stop-color="#ff5363"/><stop offset="0.6577" stop-color="#ff625f"/><stop offset="0.7466" stop-color="#ff7554"/><stop offset="0.9658" stop-color="#ff8947"/><stop offset="1" stop-color="#ff8848"/></linearGradient>
<linearGradient id="b90" gradientUnits="userSpaceOnUse" x1="60.5" x2="690" y1="0" y2="0"><stop offset="0" stop-color="#980893"/><stop offset="0.2986" stop-color="#a8078f"/><stop offset="0.3241" stop-color="#a20790"/><stop offset="0.3495" stop-color="#8d0a96"/><stop offset="0.359" stop-color="#820c9a"/><stop offset="0.3622" stop-color="#82109c"/><stop offset="0.3813" stop-color="#9d46b3"/><stop offset="0.3844" stop-color="#a04cb6"/><stop offset="0.3908" stop-color="#a14fb7"/><stop offset="0.3971" stop-color="#9d46b4"/><stop offset="0.4003" stop-color="#973baf"/><stop offset="0.413" stop-color="#871ba1"/><stop offset="0.4194" stop-color="#83119c"/><stop offset="0.4321" stop-color="#820f9b"/><stop offset="0.4448" stop-color="#82109c"/><stop offset="0.448" stop-color="#800c9a"/><stop offset="0.4607" stop-color="#8b0a97"/><stop offset="0.4797" stop-color="#aa068f"/><stop offset="0.502" stop-color="#c70488"/><stop offset="0.521" stop-color="#e0087d"/><stop offset="0.5306" stop-color="#e80c78"/><stop offset="0.5528" stop-color="#f8296d"/><stop offset="0.5782" stop-color="#ff3c67"/><stop offset="0.6322" stop-color="#ff5562"/><stop offset="0.6672" stop-color="#ff635e"/><stop offset="0.753" stop-color="#ff7554"/><stop offset="0.9786" stop-color="#ff8847"/><stop offset="1" stop-color="#ff8748"/></linearGradient>
<linearGradient id="b91" gradientUnits="userSpaceOnUse" x1="60.5" x2="690" y1="0" y2="0"><stop offset="0" stop-color="#980893"/><stop offset="0.3018" stop-color="#a8078f"/><stop offset="0.3272" stop-color="#a00791"/><stop offset="0.3527" stop-color="#8a0a97"/><stop offset="0.3622" stop-color="#800d9a"/><stop offset="0.3844" stop-color="#9b43b2"/><stop offset="0.3876" stop-color="#9e49b5"/><stop offset="0.394" stop-color="#9f4bb6"/><stop offset="0.4035" stop-color="#983caf"/><stop offset="0.4067" stop-color="#9230aa"/><stop offset="0.4162" stop-color="#871ba1"/><stop offset="0.4226" stop-color="#83129d"/><stop offset="0.4384" stop-color="#84139d"/><stop offset="0.448" stop-color="#84159e"/><stop offset="0.4543" stop-color="#800c9a"/><stop offset="0.467" stop-color="#8e0a96"/><stop offset="0.4829" stop-color="#a8068f"/><stop offset="0.5052" stop-color="#c50488"/><stop offset="0.5242" stop-color="#de077f"/><stop offset="0.5369" stop-color="#e80d78"/><stop offset="0.556" stop-color="#f6266f"/><stop offset="0.5878" stop-color="#ff3b67"/><stop offset="0.6672" stop-color="#ff615f"/><stop offset="0.7562" stop-color="#ff7454"/><stop offset="0.9881" stop-color="#ff8847"/><stop offset="1" stop-color="#ff8748"/></linearGradient>
<linearGradient id="b92" gradientUnits="userSpaceOnUse" x1="60.5" x2="690" y1="0" y2="0"><stop offset="0" stop-color="#970893"/><stop offset="0.3018" stop-color="#a8078f"/><stop offset="0.3272" stop-color="#a10791"/><stop offset="0.3495" stop-color="#8f0a95"/><stop offset="0.3622" stop-color="#820c9a"/><stop offset="0.3654" stop-color="#810f9b"/><stop offset="0.3844" stop-color="#973baf"/><stop offset="0.3908" stop-color="#9c46b3"/><stop offset="0.3971" stop-color="#9d47b4"/><stop offset="0.4035" stop-color="#9a40b1"/><stop offset="0.4067" stop-color="#9638ad"/><stop offset="0.4098" stop-color="#902da8"/><stop offset="0.413" stop-color="#8e29a7"/><stop offset="0.4194" stop-color="#881ca1"/><stop offset="0.4257" stop-color="#84159e"/><stop offset="0.4512" stop-color="#8619a0"/><stop offset="0.4607" stop-color="#810c9a"/><stop offset="0.4702" stop-color="#8c0a96"/><stop offset="0.4861" stop-color="#a6078f"/><stop offset="0.5052" stop-color="#bd048b"/><stop offset="0.5306" stop-color="#df077e"/><stop offset="0.5433" stop-color="#e90e77"/><stop offset="0.5592" stop-color="#f42270"/><stop offset="0.5973" stop-color="#ff3c67"/><stop offset="0.6704" stop-color="#ff6060"/><stop offset="0.7625" stop-color="#ff7455"/><stop offset="0.9944" stop-color="#ff8748"/><stop offset="1" stop-color="#ff8748"/></linearGradient>
<linearGradient id="b93" gradientUnits="userSpaceOnUse" x1="60.5" x2="690" y1="0" y2="0"><stop offset="0" stop-color="#970893"/><stop offset="0.305" stop-color="#a7078f"/><stop offset="0.3304" stop-color="#a00791"/><stop offset="0.3527" stop-color="#8d0a96"/><stop offset="0.3654" stop-color="#800c9a"/><stop offset="0.3908" stop-color="#993eb0"/><stop offset="0.3971" stop-color="#9c44b3"/><stop offset="0.4035" stop-color="#9a41b1"/><stop offset="0.4098" stop-color="#9638ad"/><stop offset="0.413" stop-color="#912ea9"/><stop offset="0.4257" stop-color="#871aa0"/><stop offset="0.4321" stop-color="#86179f"/><stop offset="0.4543" stop-color="#881ca1"/><stop offset="0.4639" stop-color="#810e9b"/><stop offset="0.4702" stop-color="#850b98"/><stop offset="0.4893" stop-color="#a40790"/><stop offset="0.5083" stop-color="#bb058b"/><stop offset="0.5338" stop-color="#dd077f"/><stop offset="0.5496" stop-color="#e90e77"/><stop offset="0.5624" stop-color="#f21f71"/><stop offset="0.6005" stop-color="#ff3a68"/><stop offset="0.6767" stop-color="#ff6060"/><stop offset="0.7657" stop-color="#ff7355"/><stop offset="1" stop-color="#ff8748"/></linearGradient>
<linearGradient id="b94" gradientUnits="userSpaceOnUse" x1="60.5" x2="690" y1="0" y2="0"><stop offset="0" stop-color="#970893"/><stop offset="0.305" stop-color="#a7078f"/><stop offset="0.3304" stop-color="#a00791"/><stop offset="0.3495" stop-color="#920995"/><stop offset="0.3654" stop-color="#820c99"/><stop offset="0.3685" stop-color="#810e9b"/><stop offset="0.3876" stop-color="#912faa"/><stop offset="0.3971" stop-color="#9a40b1"/><stop offset="0.4067" stop-color="#9a40b1"/><stop offset="0.413" stop-color="#973aae"/><stop offset="0.4194" stop-color="#902ca8"/><stop offset="0.4289" stop-color="#891ea2"/><stop offset="0.4353" stop-color="#871ba1"/><stop offset="0.4575" stop-color="#8a20a3"/><stop offset="0.4702" stop-color="#810c9a"/><stop offset="0.4829" stop-color="#940994"/><stop offset="0.4956" stop-color="#a60790"/><stop offset="0.5115" stop-color="#b8058c"/><stop offset="0.5369" stop-color="#db0680"/><stop offset="0.5528" stop-color="#e70c78"/><stop offset="0.5719" stop-color="#f32170"/><stop offset="0.6068" stop-color="#ff3b67"/><stop offset="0.6831" stop-color="#ff6060"/><stop offset="0.772" stop-color="#ff7256"/><stop offset="1" stop-color="#ff8649"/></linearGradient>
<linearGradient id="b95" gradientUnits="userSpaceOnUse" x1="60.5" x2="690" y1="0" y2="0"><stop offset="0" stop-color="#960993"/><stop offset="0.3082" stop-color="#a7078f"/><stop offset="0.3368" stop-color="#9e0891"/><stop offset="0.3685" stop-color="#820c9a"/><stop offset="0.3781" stop-color="#85179f"/><stop offset="0.3971" stop-color="#973aae"/><stop offset="0.4035" stop-color="#9a41b1"/><stop offset="0.4098" stop-color="#9a41b1"/><stop offset="0.4162" stop-color="#983daf"/><stop offset="0.4226" stop-color="#902da9"/><stop offset="0.4353" stop-color="#8a20a3"/><stop offset="0.4543" stop-color="#8b22a4"/><stop offset="0.4607" stop-color="#8b22a4"/><stop offset="0.4702" stop-color="#84149d"/><stop offset="0.4734" stop-color="#810d9b"/><stop offset="0.4797" stop-color="#870b98"/><stop offset="0.4956" stop-color="#a10791"/><stop offset="0.5147" stop-color="#b5058c"/><stop offset="0.5401" stop-color="#d80681"/><stop offset="0.5592" stop-color="#e80d78"/><stop offset="0.5719" stop-color="#f11d72"/><stop offset="0.6132" stop-color="#ff3b67"/><stop offset="0.6894" stop-color="#ff5f60"/><stop offset="0.7784" stop-color="#ff7256"/><stop offset="0.9817" stop-color="#ff844a"/><stop offset="1" stop-color="#ff8549"/></linearGradient>
<linearGradient id="b96" gradientUnits="userSpaceOnUse" x1="60.5" x2="690" y1="0" y2="0"><stop offset="0" stop-color="#960993"/><stop offset="0.3082" stop-color="#a7078f"/><stop offset="0.3336" stop-color="#a00791"/><stop offset="0.359" stop-color="#8c0a96"/><stop offset="0.3717" stop-color="#810c9a"/><stop offset="0.3749" stop-color="#810e9b"/><stop offset="0.3908" stop-color="#8d26a5"/><stop offset="0.4003" stop-color="#973aae"/><stop offset="0.4067" stop-color="#9b42b2"/><stop offset="0.413" stop-color="#9b44b2"/><stop offset="0.4194" stop-color="#9a41b1"/><stop offset="0.4257" stop-color="#9332ab"/><stop offset="0.4384" stop-color="#8c24a4"/><stop offset="0.4512" stop-color="#8b22a4"/><stop offset="0.4639" stop-color="#8c24a4"/><stop offset="0.4734" stop-color="#85169e"/><stop offset="0.4797" stop-color="#810c9a"/><stop offset="0.4988" stop-color="#9f0891"/><stop offset="0.5179" stop-color="#b2068d"/><stop offset="0.5433" stop-color="#d70682"/><stop offset="0.5624" stop-color="#e80c78"/><stop offset="0.5751" stop-color="#f01b72"/><stop offset="0.6195" stop-color="#ff3b67"/><stop offset="0.6958" stop-color="#ff5f60"/><stop offset="0.7879" stop-color="#ff7256"/><stop offset="0.9627" stop-color="#ff814c"/><stop offset="1" stop-color="#ff844a"/></linearGradient>
<linearGradient id="b97" gradientUnits="userSpaceOnUse" x1="60.5" x2="690" y1="0" y2="0"><stop offset="0" stop-color="#960993"/><stop offset="0.3082" stop-color="#a7078f"/><stop offset="0.3368" stop-color="#a00791"/><stop offset="0.3558" stop-color="#910995"/><stop offset="0.3749" stop-color="#800c9a"/><stop offset="0.3876" stop-color="#871ba1"/><stop offset="0.4067" stop-color="#993fb0"/><stop offset="0.413" stop-color="#9c45b3"/><stop offset="0.4226" stop-color="#9b43b2"/><stop offset="0.4257" stop-color="#9a40b1"/><stop offset="0.4289" stop-color="#9537ad"/><stop offset="0.4416" stop-color="#8d27a6"/><stop offset="0.4512" stop-color="#8c23a4"/><stop offset="0.467" stop-color="#8c24a5"/><stop offset="0.4766" stop-color="#85169e"/><stop offset="0.4829" stop-color="#810c9a"/><stop offset="0.502" stop-color="#9e0891"/><stop offset="0.5179" stop-color="#ac068e"/><stop offset="0.5433" stop-color="#d30583"/><stop offset="0.5624" stop-color="#e50a7a"/><stop offset="0.5719" stop-color="#eb1276"/><stop offset="0.5878" stop-color="#f32170"/><stop offset="0.6259" stop-color="#ff3b67"/><stop offset="0.7021" stop-color="#ff5f60"/><stop offset="0.7975" stop-color="#ff7256"/><stop offset="0.95" stop-color="#ff7f4e"/><stop offset="1" stop-color="#ff834b"/></linearGradient>
<linearGradient id="b98" gradientUnits="userSpaceOnUse" x1="60.5" x2="690" y1="0" y2="0"><stop offset="0" stop-color="#960993"/><stop offset="0.3114" stop-color="#a6078f"/><stop offset="0.3431" stop-color="#9d0891"/><stop offset="0.3749" stop-color="#820c99"/><stop offset="0.3813" stop-color="#82109c"/><stop offset="0.3908" stop-color="#881da1"/><stop offset="0.4098" stop-color="#9b42b2"/><stop offset="0.4162" stop-color="#9e49b5"/><stop offset="0.4257" stop-color="#9d46b3"/><stop offset="0.4289" stop-color="#9c44b3"/><stop offset="0.4353" stop-color="#9435ac"/><stop offset="0.448" stop-color="#8c25a5"/><stop offset="0.4702" stop-color="#8c25a5"/><stop offset="0.4797" stop-color="#85169e"/><stop offset="0.4861" stop-color="#810c9a"/><stop offset="0.502" stop-color="#9b0892"/><stop offset="0.521" stop-color="#ac068e"/><stop offset="0.5433" stop-color="#ce0585"/><stop offset="0.5624" stop-color="#e1097d"/><stop offset="0.5719" stop-color="#e80c78"/><stop offset="0.5846" stop-color="#f01a73"/><stop offset="0.6291" stop-color="#ff3968"/><stop offset="0.7117" stop-color="#ff6060"/><stop offset="0.8102" stop-color="#ff7256"/><stop offset="0.9373" stop-color="#ff7d4f"/><stop offset="1" stop-color="#ff824c"/></linearGradient>
<linearGradient id="b99" gradientUnits="userSpaceOnUse" x1="60.5" x2="690" y1="0" y2="0"><stop offset="0" stop-color="#950993"/><stop offset="0.3114" stop-color="#a6078f"/><stop offset="0.34" stop-color="#a00791"/><stop offset="0.3654" stop-color="#8c0a96"/><stop offset="0.3781" stop-color="#810c9a"/><stop offset="0.3813" stop-color="#800d9a"/><stop offset="0.3971" stop-color="#8b22a4"/><stop offset="0.413" stop-color="#9c45b3"/><stop offset="0.4194" stop-color="#a04cb6"/><stop offset="0.4257" stop-color="#9f4cb6"/><stop offset="0.4321" stop-color="#9d47b4"/><stop offset="0.4384" stop-color="#9536ac"/><stop offset="0.4512" stop-color="#8d26a5"/><stop offset="0.4734" stop-color="#8c25a5"/><stop offset="0.4829" stop-color="#85169e"/><stop offset="0.4893" stop-color="#810c9a"/><stop offset="0.5052" stop-color="#9a0892"/><stop offset="0.5242" stop-color="#ab068e"/><stop offset="0.5465" stop-color="#ce0585"/><stop offset="0.5655" stop-color="#e0087d"/><stop offset="0.5782" stop-color="#e90e77"/><stop offset="0.5941" stop-color="#f11d72"/><stop offset="0.6354" stop-color="#ff3968"/><stop offset="0.718" stop-color="#ff6060"/><stop offset="0.8165" stop-color="#ff7156"/><stop offset="0.9277" stop-color="#ff7c50"/><stop offset="1" stop-color="#ff814c"/></linearGradient>
<linearGradient id="b100" gradientUnits="userSpaceOnUse" x1="60.5" x2="690" y1="0" y2="0"><stop offset="0" stop-color="#950994"/><stop offset="0.3145" stop-color="#a6078f"/><stop offset="0.3431" stop-color="#9f0791"/><stop offset="0.359" stop-color="#940994"/><stop offset="0.3813" stop-color="#800c9a"/><stop offset="0.394" stop-color="#871ba1"/><stop offset="0.4067" stop-color="#9333ab"/><stop offset="0.4162" stop-color="#9e48b4"/><stop offset="0.4226" stop-color="#a14fb7"/><stop offset="0.4289" stop-color="#a14eb7"/><stop offset="0.4353" stop-color="#9e49b5"/><stop offset="0.4416" stop-color="#9536ad"/><stop offset="0.4543" stop-color="#8c25a5"/><stop offset="0.4766" stop-color="#8c25a5"/><stop offset="0.4861" stop-color="#85169e"/><stop offset="0.4925" stop-color="#810c9a"/><stop offset="0.5083" stop-color="#9a0892"/><stop offset="0.5274" stop-color="#ab068e"/><stop offset="0.5465" stop-color="#c90587"/><stop offset="0.5687" stop-color="#df077e"/><stop offset="0.5846" stop-color="#ea0f77"/><stop offset="0.5973" stop-color="#f01c72"/><stop offset="0.6418" stop-color="#ff3968"/><stop offset="0.7212" stop-color="#ff5e60"/><stop offset="0.8229" stop-color="#ff7156"/><stop offset="0.9309" stop-color="#ff7b50"/><stop offset="1" stop-color="#ff804d"/></linearGradient>
<linearGradient id="b101" gradientUnits="userSpaceOnUse" x1="60.5" x2="690" y1="0" y2="0"><stop offset="0" stop-color="#950994"/><stop offset="0.3145" stop-color="#a6078f"/><stop offset="0.3463" stop-color="#9f0791"/><stop offset="0.3654" stop-color="#910995"/><stop offset="0.3844" stop-color="#800c9a"/><stop offset="0.394" stop-color="#881ba1"/><stop offset="0.4035" stop-color="#8e29a7"/><stop offset="0.413" stop-color="#973baf"/><stop offset="0.4162" stop-color="#9c44b3"/><stop offset="0.4226" stop-color="#a14fb7"/><stop offset="0.4321" stop-color="#a250b8"/><stop offset="0.4353" stop-color="#9f4bb6"/><stop offset="0.4384" stop-color="#9f4ab5"/><stop offset="0.4448" stop-color="#9536ad"/><stop offset="0.4543" stop-color="#8e28a6"/><stop offset="0.4607" stop-color="#8c23a4"/><stop offset="0.4797" stop-color="#8d25a5"/><stop offset="0.4893" stop-color="#85179f"/><stop offset="0.4956" stop-color="#810c9a"/><stop offset="0.5115" stop-color="#990892"/><stop offset="0.5306" stop-color="#aa068f"/><stop offset="0.5496" stop-color="#c80587"/><stop offset="0.5751" stop-color="#e0087d"/><stop offset="0.5878" stop-color="#e80c78"/><stop offset="0.6037" stop-color="#f11c72"/><stop offset="0.6481" stop-color="#ff3968"/><stop offset="0.7244" stop-color="#ff5d61"/><stop offset="0.8261" stop-color="#ff7057"/><stop offset="0.9373" stop-color="#ff7b51"/><stop offset="1" stop-color="#ff7f4e"/></linearGradient>
<linearGradient id="b102" gradientUnits="userSpaceOnUse" x1="60.5" x2="690" y1="0" y2="0"><stop offset="0" stop-color="#950994"/><stop offset="0.3177" stop-color="#a6078f"/><stop offset="0.3495" stop-color="#9e0891"/><stop offset="0.3717" stop-color="#8d0a96"/><stop offset="0.3844" stop-color="#800c9a"/><stop offset="0.4003" stop-color="#8b22a4"/><stop offset="0.4035" stop-color="#8c25a5"/><stop offset="0.4098" stop-color="#9231aa"/><stop offset="0.4194" stop-color="#9d47b4"/><stop offset="0.4257" stop-color="#a251b8"/><stop offset="0.4353" stop-color="#a251b8"/><stop offset="0.4384" stop-color="#9f4bb6"/><stop offset="0.4416" stop-color="#9e4ab5"/><stop offset="0.448" stop-color="#9435ac"/><stop offset="0.4575" stop-color="#8d27a6"/><stop offset="0.4639" stop-color="#8b23a4"/><stop offset="0.4829" stop-color="#8d26a6"/><stop offset="0.4925" stop-color="#86189f"/><stop offset="0.4988" stop-color="#810c9a"/><stop offset="0.5147" stop-color="#980892"/><stop offset="0.5338" stop-color="#aa068f"/><stop offset="0.5528" stop-color="#c70488"/><stop offset="0.5814" stop-color="#e0087d"/><stop offset="0.5941" stop-color="#e90e77"/><stop offset="0.6068" stop-color="#f01a73"/><stop offset="0.6545" stop-color="#ff3968"/><stop offset="0.7276" stop-color="#ff5b61"/><stop offset="0.8165" stop-color="#ff6e58"/><stop offset="0.9404" stop-color="#ff7a51"/><stop offset="1" stop-color="#ff7e4f"/></linearGradient>
<linearGradient id="b103" gradientUnits="userSpaceOnUse" x1="60.5" x2="690" y1="0" y2="0"><stop offset="0" stop-color="#940994"/><stop offset="0.3209" stop-color="#a60790"/><stop offset="0.3495" stop-color="#a00791"/><stop offset="0.3685" stop-color="#920994"/><stop offset="0.3844" stop-color="#820c99"/><stop offset="0.3908" stop-color="#83139d"/><stop offset="0.4067" stop-color="#8e29a7"/><stop offset="0.4257" stop-color="#a04eb7"/><stop offset="0.4321" stop-color="#a353b9"/><stop offset="0.4384" stop-color="#a251b8"/><stop offset="0.4448" stop-color="#9d47b4"/><stop offset="0.4512" stop-color="#9434ac"/><stop offset="0.4607" stop-color="#8c25a5"/><stop offset="0.467" stop-color="#8b22a4"/><stop offset="0.4861" stop-color="#8e29a7"/><stop offset="0.502" stop-color="#800c9a"/><stop offset="0.5179" stop-color="#980893"/><stop offset="0.5369" stop-color="#a9068f"/><stop offset="0.556" stop-color="#c50488"/><stop offset="0.5878" stop-color="#e1097d"/><stop offset="0.6005" stop-color="#ea0f77"/><stop offset="0.6164" stop-color="#f11d72"/><stop offset="0.6577" stop-color="#ff3868"/><stop offset="0.7307" stop-color="#ff5961"/><stop offset="0.7943" stop-color="#ff685b"/><stop offset="0.9182" stop-color="#ff7952"/><stop offset="1" stop-color="#ff7d4f"/></linearGradient>
<linearGradient id="b104" gradientUnits="userSpaceOnUse" x1="60.5" x2="690" y1="0" y2="0"><stop offset="0" stop-color="#940994"/><stop offset="0.3209" stop-color="#a60790"/><stop offset="0.3527" stop-color="#9f0791"/><stop offset="0.3717" stop-color="#910995"/><stop offset="0.3876" stop-color="#810c9a"/><stop offset="0.3908" stop-color="#820f9b"/><stop offset="0.4003" stop-color="#8a1fa2"/><stop offset="0.4098" stop-color="#8f2ba8"/><stop offset="0.4289" stop-color="#a14fb7"/><stop offset="0.4353" stop-color="#a353b9"/><stop offset="0.4416" stop-color="#a14fb7"/><stop offset="0.448" stop-color="#9c44b3"/><stop offset="0.4543" stop-color="#9333ab"/><stop offset="0.4639" stop-color="#8c24a5"/><stop offset="0.4702" stop-color="#8b22a4"/><stop offset="0.4861" stop-color="#8f2aa7"/><stop offset="0.4893" stop-color="#8f2ba8"/><stop offset="0.5052" stop-color="#800c9a"/><stop offset="0.521" stop-color="#970893"/><stop offset="0.5401" stop-color="#a8078f"/><stop offset="0.5592" stop-color="#c30489"/><stop offset="0.5909" stop-color="#e0087e"/><stop offset="0.6037" stop-color="#e80c78"/><stop offset="0.6164" stop-color="#ef1973"/><stop offset="0.664" stop-color="#ff3868"/><stop offset="0.7339" stop-color="#ff5762"/><stop offset="0.7911" stop-color="#ff665d"/><stop offset="0.8801" stop-color="#ff7455"/><stop offset="1" stop-color="#ff7c50"/></linearGradient>
<linearGradient id="b105" gradientUnits="userSpaceOnUse" x1="60.5" x2="690" y1="0" y2="0"><stop offset="0" stop-color="#940994"/><stop offset="0.3241" stop-color="#a60790"/><stop offset="0.3558" stop-color="#9e0891"/><stop offset="0.3717" stop-color="#930994"/><stop offset="0.3908" stop-color="#810d9b"/><stop offset="0.4035" stop-color="#8b22a4"/><stop offset="0.413" stop-color="#912ea9"/><stop offset="0.4289" stop-color="#9f4cb6"/><stop offset="0.4353" stop-color="#a353b9"/><stop offset="0.4416" stop-color="#a251b8"/><stop offset="0.4512" stop-color="#9a42b2"/><stop offset="0.4575" stop-color="#9332ab"/><stop offset="0.467" stop-color="#8c24a4"/><stop offset="0.4734" stop-color="#8b23a4"/><stop offset="0.4861" stop-color="#902da8"/><stop offset="0.4925" stop-color="#902ca8"/><stop offset="0.4988" stop-color="#8b21a3"/><stop offset="0.5083" stop-color="#800c9a"/><stop offset="0.5242" stop-color="#960993"/><stop offset="0.5433" stop-color="#a7078f"/><stop offset="0.5655" stop-color="#c40488"/><stop offset="0.5973" stop-color="#e0087d"/><stop offset="0.61" stop-color="#e90d78"/><stop offset="0.6259" stop-color="#f01c72"/><stop offset="0.6672" stop-color="#fe3669"/><stop offset="0.7371" stop-color="#ff5662"/><stop offset="0.7943" stop-color="#ff655d"/><stop offset="0.8737" stop-color="#ff7256"/><stop offset="0.9786" stop-color="#ff7a51"/><stop offset="1" stop-color="#ff7b50"/></linearGradient>
<linearGradient id="b106" gradientUnits="userSpaceOnUse" x1="60.5" x2="690" y1="0" y2="0"><stop offset="0" stop-color="#930994"/><stop offset="0.3272" stop-color="#a50790"/><stop offset="0.359" stop-color="#9e0891"/><stop offset="0.3781" stop-color="#8f0a95"/><stop offset="0.3908" stop-color="#820c99"/><stop offset="0.4035" stop-color="#891ea2"/><stop offset="0.4162" stop-color="#912faa"/><stop offset="0.4353" stop-color="#a251b8"/><stop offset="0.4416" stop-color="#a352b9"/><stop offset="0.4512" stop-color="#9d46b4"/><stop offset="0.4575" stop-color="#9536ac"/><stop offset="0.467" stop-color="#8d27a6"/><stop offset="0.4734" stop-color="#8c24a4"/><stop offset="0.4893" stop-color="#912ea9"/><stop offset="0.4956" stop-color="#912ea9"/><stop offset="0.5083" stop-color="#84149d"/><stop offset="0.5115" stop-color="#800d9a"/><stop offset="0.5306" stop-color="#970893"/><stop offset="0.5496" stop-color="#a9068f"/><stop offset="0.5719" stop-color="#c50488"/><stop offset="0.6037" stop-color="#e1087d"/><stop offset="0.6164" stop-color="#e90e77"/><stop offset="0.6481" stop-color="#f6276e"/><stop offset="0.6831" stop-color="#ff3b67"/><stop offset="0.7434" stop-color="#ff5562"/><stop offset="0.8038" stop-color="#ff655d"/><stop offset="0.8801" stop-color="#ff7256"/><stop offset="0.9881" stop-color="#ff7a51"/><stop offset="1" stop-color="#ff7b51"/></linearGradient>
<linearGradient id="b107" gradientUnits="userSpaceOnUse" x1="60.5" x2="690" y1="0" y2="0"><stop offset="0" stop-color="#930994"/><stop offset="0.3304" stop-color="#a50790"/><stop offset="0.3622" stop-color="#9d0891"/><stop offset="0.3813" stop-color="#8e0a96"/><stop offset="0.394" stop-color="#810c9a"/><stop offset="0.3971" stop-color="#820f9b"/><stop offset="0.4003" stop-color="#85179f"/><stop offset="0.4194" stop-color="#9231aa"/><stop offset="0.4353" stop-color="#a04db6"/><stop offset="0.4416" stop-color="#a352b9"/><stop offset="0.448" stop-color="#a14fb7"/><stop offset="0.4575" stop-color="#993eb0"/><stop offset="0.4607" stop-color="#9434ac"/><stop offset="0.4702" stop-color="#8d27a6"/><stop offset="0.4766" stop-color="#8c25a5"/><stop offset="0.4925" stop-color="#9230aa"/><stop offset="0.4988" stop-color="#922faa"/><stop offset="0.5147" stop-color="#810d9a"/><stop offset="0.5338" stop-color="#960993"/><stop offset="0.556" stop-color="#ab068e"/><stop offset="0.5814" stop-color="#c90587"/><stop offset="0.61" stop-color="#e2097c"/><stop offset="0.6195" stop-color="#e80c78"/><stop offset="0.6354" stop-color="#f01a73"/><stop offset="0.6799" stop-color="#fe3669"/><stop offset="0.7498" stop-color="#ff5462"/><stop offset="0.8133" stop-color="#ff665d"/><stop offset="0.8896" stop-color="#ff7256"/><stop offset="1" stop-color="#ff7a51"/></linearGradient>
<linearGradient id="b108" gradientUnits="userSpaceOnUse" x1="60.5" x2="690" y1="0" y2="0"><stop offset="0" stop-color="#930994"/><stop offset="0.3336" stop-color="#a50790"/><stop offset="0.3622" stop-color="#9e0891"/><stop offset="0.3781" stop-color="#940994"/><stop offset="0.3971" stop-color="#800c9a"/><stop offset="0.413" stop-color="#8d26a6"/><stop offset="0.4226" stop-color="#9332ab"/><stop offset="0.4353" stop-color="#9e49b5"/><stop offset="0.4416" stop-color="#a251b8"/><stop offset="0.448" stop-color="#a252b8"/><stop offset="0.4575" stop-color="#9c45b3"/><stop offset="0.4639" stop-color="#9333ab"/><stop offset="0.4734" stop-color="#8e28a6"/><stop offset="0.4829" stop-color="#8e29a7"/><stop offset="0.4925" stop-color="#9332ab"/><stop offset="0.502" stop-color="#9231aa"/><stop offset="0.5179" stop-color="#810e9b"/><stop offset="0.5465" stop-color="#9c0892"/><stop offset="0.5624" stop-color="#ad068e"/><stop offset="0.5878" stop-color="#ca0586"/><stop offset="0.6164" stop-color="#e2097c"/><stop offset="0.6259" stop-color="#e80d78"/><stop offset="0.6481" stop-color="#f21f71"/><stop offset="0.6863" stop-color="#fe3669"/><stop offset="0.7593" stop-color="#ff5462"/><stop offset="0.8229" stop-color="#ff665d"/><stop offset="0.9055" stop-color="#ff7255"/><stop offset="1" stop-color="#ff7952"/></linearGradient>
<linearGradient id="b109" gradientUnits="userSpaceOnUse" x1="60.5" x2="690" y1="0" y2="0"><stop offset="0" stop-color="#930994"/><stop offset="0.3336" stop-color="#a50790"/><stop offset="0.3654" stop-color="#9e0891"/><stop offset="0.3844" stop-color="#900a95"/><stop offset="0.4003" stop-color="#810d9b"/><stop offset="0.4098" stop-color="#891fa2"/><stop offset="0.4226" stop-color="#912fa9"/><stop offset="0.4416" stop-color="#a14eb7"/><stop offset="0.448" stop-color="#a353b9"/><stop offset="0.4543" stop-color="#a14fb7"/><stop offset="0.4607" stop-color="#9c45b3"/><stop offset="0.467" stop-color="#9333ab"/><stop offset="0.4766" stop-color="#8e29a7"/><stop offset="0.4829" stop-color="#8e29a7"/><stop offset="0.4956" stop-color="#9434ac"/><stop offset="0.5052" stop-color="#9231aa"/><stop offset="0.521" stop-color="#810f9b"/><stop offset="0.5306" stop-color="#890b97"/><stop offset="0.5655" stop-color="#aa068f"/><stop offset="0.5941" stop-color="#cb0586"/><stop offset="0.6227" stop-color="#e3097b"/><stop offset="0.6322" stop-color="#e90e77"/><stop offset="0.6831" stop-color="#fc326a"/><stop offset="0.718" stop-color="#ff4266"/><stop offset="0.8102" stop-color="#ff625f"/><stop offset="0.8832" stop-color="#ff6f58"/><stop offset="0.9944" stop-color="#ff7852"/><stop offset="1" stop-color="#ff7952"/></linearGradient>
<linearGradient id="b110" gradientUnits="userSpaceOnUse" x1="60.5" x2="690" y1="0" y2="0"><stop offset="0" stop-color="#920994"/><stop offset="0.3368" stop-color="#a50790"/><stop offset="0.3685" stop-color="#9d0891"/><stop offset="0.3876" stop-color="#8f0a95"/><stop offset="0.4003" stop-color="#820c99"/><stop offset="0.4035" stop-color="#810e9b"/><stop offset="0.413" stop-color="#8a20a3"/><stop offset="0.4321" stop-color="#973bae"/><stop offset="0.4448" stop-color="#a14fb7"/><stop offset="0.4512" stop-color="#a353b9"/><stop offset="0.4575" stop-color="#a14fb7"/><stop offset="0.4639" stop-color="#9c45b3"/><stop offset="0.4702" stop-color="#9333ab"/><stop offset="0.4797" stop-color="#8f2aa7"/><stop offset="0.4861" stop-color="#8f2ba8"/><stop offset="0.4988" stop-color="#9536ad"/><stop offset="0.5083" stop-color="#9332ab"/><stop offset="0.521" stop-color="#84159e"/><stop offset="0.5274" stop-color="#810c9a"/><stop offset="0.5719" stop-color="#ac068e"/><stop offset="0.6005" stop-color="#cc0586"/><stop offset="0.6291" stop-color="#e30a7b"/><stop offset="0.6386" stop-color="#e90f77"/><stop offset="0.6926" stop-color="#fd336a"/><stop offset="0.7403" stop-color="#ff4765"/><stop offset="0.8261" stop-color="#ff635e"/><stop offset="0.8928" stop-color="#ff6f57"/><stop offset="1" stop-color="#ff7852"/></linearGradient>
<linearGradient id="b111" gradientUnits="userSpaceOnUse" x1="60.5" x2="690" y1="0" y2="0"><stop offset="0" stop-color="#920994"/><stop offset="0.34" stop-color="#a50790"/><stop offset="0.3717" stop-color="#9d0891"/><stop offset="0.3908" stop-color="#8f0a95"/><stop offset="0.4035" stop-color="#820c99"/><stop offset="0.4067" stop-color="#82109c"/><stop offset="0.4194" stop-color="#8d26a5"/><stop offset="0.4353" stop-color="#983caf"/><stop offset="0.4448" stop-color="#a04eb7"/><stop offset="0.4512" stop-color="#a454ba"/><stop offset="0.4607" stop-color="#a150b8"/><stop offset="0.467" stop-color="#9c46b3"/><stop offset="0.4734" stop-color="#9434ab"/><stop offset="0.4829" stop-color="#8f2ba8"/><stop offset="0.4893" stop-color="#912da9"/><stop offset="0.4988" stop-color="#9536ad"/><stop offset="0.5052" stop-color="#9537ad"/><stop offset="0.5115" stop-color="#9332ab"/><stop offset="0.5242" stop-color="#85169e"/><stop offset="0.5306" stop-color="#800d9a"/><stop offset="0.5751" stop-color="#a9068f"/><stop offset="0.6037" stop-color="#ca0586"/><stop offset="0.6322" stop-color="#e2097c"/><stop offset="0.6418" stop-color="#e80c78"/><stop offset="0.6894" stop-color="#fa2e6c"/><stop offset="0.7244" stop-color="#ff3e67"/><stop offset="0.8292" stop-color="#ff625f"/><stop offset="0.8928" stop-color="#ff6e58"/><stop offset="1" stop-color="#ff7753"/></linearGradient>
<linearGradient id="b112" gradientUnits="userSpaceOnUse" x1="60.5" x2="690" y1="0" y2="0"><stop offset="0" stop-color="#920995"/><stop offset="0.3431" stop-color="#a50790"/><stop offset="0.3749" stop-color="#9c0891"/><stop offset="0.394" stop-color="#8e0a96"/><stop offset="0.4067" stop-color="#800c9a"/><stop offset="0.4162" stop-color="#891ea2"/><stop offset="0.4321" stop-color="#9333ab"/><stop offset="0.448" stop-color="#a150b8"/><stop offset="0.4543" stop-color="#a456ba"/><stop offset="0.4639" stop-color="#a251b8"/><stop offset="0.4702" stop-color="#9d46b3"/><stop offset="0.4766" stop-color="#9434ac"/><stop offset="0.4861" stop-color="#902da8"/><stop offset="0.4956" stop-color="#9332ab"/><stop offset="0.502" stop-color="#9638ad"/><stop offset="0.5083" stop-color="#9538ad"/><stop offset="0.5147" stop-color="#9232aa"/><stop offset="0.5242" stop-color="#881da1"/><stop offset="0.5369" stop-color="#810c9a"/><stop offset="0.5814" stop-color="#aa068f"/><stop offset="0.61" stop-color="#cb0586"/><stop offset="0.6354" stop-color="#e0087d"/><stop offset="0.6481" stop-color="#e80d78"/><stop offset="0.7021" stop-color="#fc316a"/><stop offset="0.7403" stop-color="#ff4166"/><stop offset="0.8388" stop-color="#ff635e"/><stop offset="0.9023" stop-color="#ff6e58"/><stop offset="1" stop-color="#ff7753"/></linearGradient>
<linearGradient id="b113" gradientUnits="userSpaceOnUse" x1="60.5" x2="690" y1="0" y2="0"><stop offset="0" stop-color="#910995"/><stop offset="0.3431" stop-color="#a50790"/><stop offset="0.3749" stop-color="#9d0891"/><stop offset="0.3908" stop-color="#940994"/><stop offset="0.4098" stop-color="#800d9a"/><stop offset="0.4194" stop-color="#891fa2"/><stop offset="0.4353" stop-color="#9536ac"/><stop offset="0.4512" stop-color="#a352b9"/><stop offset="0.4607" stop-color="#a557bb"/><stop offset="0.467" stop-color="#a251b8"/><stop offset="0.4734" stop-color="#9c45b3"/><stop offset="0.4797" stop-color="#9434ac"/><stop offset="0.4893" stop-color="#912ea9"/><stop offset="0.4988" stop-color="#9434ac"/><stop offset="0.5052" stop-color="#9639ae"/><stop offset="0.5115" stop-color="#9638ad"/><stop offset="0.5179" stop-color="#9231aa"/><stop offset="0.5306" stop-color="#86189f"/><stop offset="0.5401" stop-color="#800d9a"/><stop offset="0.5846" stop-color="#a8078f"/><stop offset="0.6132" stop-color="#c90587"/><stop offset="0.6418" stop-color="#e1087d"/><stop offset="0.6545" stop-color="#e90d77"/><stop offset="0.7085" stop-color="#fc316b"/><stop offset="0.7466" stop-color="#ff4066"/><stop offset="0.8451" stop-color="#ff635e"/><stop offset="0.9087" stop-color="#ff6e58"/><stop offset="1" stop-color="#ff7653"/></linearGradient>
<linearGradient id="b114" gradientUnits="userSpaceOnUse" x1="60.5" x2="690" y1="0" y2="0"><stop offset="0" stop-color="#910995"/><stop offset="0.3463" stop-color="#a50790"/><stop offset="0.3813" stop-color="#9c0892"/><stop offset="0.3971" stop-color="#900a95"/><stop offset="0.4098" stop-color="#830c99"/><stop offset="0.413" stop-color="#810e9b"/><stop offset="0.4226" stop-color="#8a21a3"/><stop offset="0.4384" stop-color="#9638ad"/><stop offset="0.4512" stop-color="#a150b8"/><stop offset="0.4575" stop-color="#a557bb"/><stop offset="0.4639" stop-color="#a558bb"/><stop offset="0.4702" stop-color="#a251b8"/><stop offset="0.4797" stop-color="#983caf"/><stop offset="0.4829" stop-color="#9434ac"/><stop offset="0.4925" stop-color="#912fa9"/><stop offset="0.5083" stop-color="#973aae"/><stop offset="0.5147" stop-color="#9638ad"/><stop offset="0.5242" stop-color="#902ca8"/><stop offset="0.5338" stop-color="#871aa0"/><stop offset="0.5465" stop-color="#810c9a"/><stop offset="0.5909" stop-color="#a9068f"/><stop offset="0.6195" stop-color="#c90587"/><stop offset="0.6481" stop-color="#e1097d"/><stop offset="0.6608" stop-color="#e90e77"/><stop offset="0.7149" stop-color="#fb316b"/><stop offset="0.7562" stop-color="#ff4066"/><stop offset="0.8515" stop-color="#ff635f"/><stop offset="0.9182" stop-color="#ff6e58"/><stop offset="1" stop-color="#ff7554"/></linearGradient>
<linearGradient id="b115" gradientUnits="userSpaceOnUse" x1="60.5" x2="690" y1="0" y2="0"><stop offset="0" stop-color="#910995"/><stop offset="0.3495" stop-color="#a40790"/><stop offset="0.3813" stop-color="#9d0891"/><stop offset="0.4003" stop-color="#8f0a95"/><stop offset="0.413" stop-color="#810c9a"/><stop offset="0.4321" stop-color="#902ca8"/><stop offset="0.448" stop-color="#9d48b4"/><stop offset="0.4575" stop-color="#a557bb"/><stop offset="0.467" stop-color="#a658bb"/><stop offset="0.4734" stop-color="#a251b8"/><stop offset="0.4861" stop-color="#9434ac"/><stop offset="0.4956" stop-color="#9230aa"/><stop offset="0.5115" stop-color="#973bae"/><stop offset="0.5179" stop-color="#9638ad"/><stop offset="0.5306" stop-color="#8d27a6"/><stop offset="0.5401" stop-color="#85179f"/><stop offset="0.5496" stop-color="#810d9b"/><stop offset="0.5941" stop-color="#a7078f"/><stop offset="0.6259" stop-color="#ca0586"/><stop offset="0.6545" stop-color="#e2097c"/><stop offset="0.6672" stop-color="#ea0f77"/><stop offset="0.7212" stop-color="#fb306b"/><stop offset="0.7593" stop-color="#ff3e67"/><stop offset="0.8578" stop-color="#ff625f"/><stop offset="0.9277" stop-color="#ff6e58"/><stop offset="1" stop-color="#ff7554"/></linearGradient>
<linearGradient id="b116" gradientUnits="userSpaceOnUse" x1="60.5" x2="690" y1="0" y2="0"><stop offset="0" stop-color="#910995"/><stop offset="0.3527" stop-color="#a40790"/><stop offset="0.3844" stop-color="#9d0891"/><stop offset="0.4035" stop-color="#8e0a96"/><stop offset="0.4162" stop-color="#800d9a"/><stop offset="0.4353" stop-color="#912fa9"/><stop offset="0.4575" stop-color="#a556ba"/><stop offset="0.467" stop-color="#a65abc"/><stop offset="0.4734" stop-color="#a455ba"/><stop offset="0.4893" stop-color="#9435ac"/><stop offset="0.4988" stop-color="#9332ab"/><stop offset="0.5147" stop-color="#973baf"/><stop offset="0.521" stop-color="#9537ad"/><stop offset="0.5338" stop-color="#8e28a6"/><stop offset="0.5433" stop-color="#86189f"/><stop offset="0.5528" stop-color="#82119c"/><stop offset="0.556" stop-color="#810c9a"/><stop offset="0.6005" stop-color="#a8078f"/><stop offset="0.6322" stop-color="#cb0586"/><stop offset="0.6608" stop-color="#e2097c"/><stop offset="0.6767" stop-color="#eb1276"/><stop offset="0.7276" stop-color="#fb2f6b"/><stop offset="0.7689" stop-color="#ff3f67"/><stop offset="0.8674" stop-color="#ff635e"/><stop offset="0.9436" stop-color="#ff6e58"/><stop offset="1" stop-color="#ff7455"/></linearGradient>
<linearGradient id="b117" gradientUnits="userSpaceOnUse" x1="60.5" x2="690" y1="0" y2="0"><stop offset="0" stop-color="#900995"/><stop offset="0.3558" stop-color="#a40790"/><stop offset="0.3876" stop-color="#9c0892"/><stop offset="0.4035" stop-color="#900a95"/><stop offset="0.4162" stop-color="#820c99"/><stop offset="0.4226" stop-color="#84159e"/><stop offset="0.4321" stop-color="#8d27a6"/><stop offset="0.448" stop-color="#9b42b2"/><stop offset="0.4575" stop-color="#a354ba"/><stop offset="0.4639" stop-color="#a65abc"/><stop offset="0.4734" stop-color="#a659bb"/><stop offset="0.4829" stop-color="#9d47b4"/><stop offset="0.4925" stop-color="#9435ac"/><stop offset="0.4988" stop-color="#9332ab"/><stop offset="0.5179" stop-color="#973baf"/><stop offset="0.5242" stop-color="#9537ad"/><stop offset="0.5401" stop-color="#8c24a4"/><stop offset="0.5496" stop-color="#85179f"/><stop offset="0.5624" stop-color="#820c99"/><stop offset="0.6068" stop-color="#a9068f"/><stop offset="0.6386" stop-color="#cc0586"/><stop offset="0.6672" stop-color="#e3097c"/><stop offset="0.6958" stop-color="#ef1a73"/><stop offset="0.7371" stop-color="#fb306b"/><stop offset="0.7784" stop-color="#ff4066"/><stop offset="0.8737" stop-color="#ff635e"/><stop offset="0.9531" stop-color="#ff6e58"/><stop offset="1" stop-color="#ff7355"/></linearGradient>
<linearGradient id="b118" gradientUnits="userSpaceOnUse" x1="60.5" x2="690" y1="0" y2="0"><stop offset="0" stop-color="#900a95"/><stop offset="0.359" stop-color="#a40790"/><stop offset="0.3908" stop-color="#9b0892"/><stop offset="0.413" stop-color="#880b98"/><stop offset="0.4194" stop-color="#800c9a"/><stop offset="0.4321" stop-color="#8d25a5"/><stop offset="0.4448" stop-color="#9639ae"/><stop offset="0.4575" stop-color="#a352b9"/><stop offset="0.467" stop-color="#a75bbc"/><stop offset="0.4766" stop-color="#a658bb"/><stop offset="0.4956" stop-color="#9536ac"/><stop offset="0.502" stop-color="#9333ab"/><stop offset="0.521" stop-color="#973baf"/><stop offset="0.5306" stop-color="#9434ac"/><stop offset="0.5528" stop-color="#8619a0"/><stop offset="0.5624" stop-color="#83129d"/><stop offset="0.5655" stop-color="#800c9a"/><stop offset="0.61" stop-color="#a6078f"/><stop offset="0.6418" stop-color="#c90587"/><stop offset="0.6704" stop-color="#e1097c"/><stop offset="0.6894" stop-color="#eb1276"/><stop offset="0.7434" stop-color="#fa2f6b"/><stop offset="0.7847" stop-color="#ff3f67"/><stop offset="0.8801" stop-color="#ff625f"/><stop offset="0.9627" stop-color="#ff6e58"/><stop offset="1" stop-color="#ff7256"/></linearGradient>
<linearGradient id="b119" gradientUnits="userSpaceOnUse" x1="60.5" x2="690" y1="0" y2="0"><stop offset="0" stop-color="#900a95"/><stop offset="0.359" stop-color="#a40790"/><stop offset="0.3908" stop-color="#9c0892"/><stop offset="0.4098" stop-color="#8e0a96"/><stop offset="0.4194" stop-color="#830c99"/><stop offset="0.4226" stop-color="#810f9b"/><stop offset="0.4321" stop-color="#8b21a3"/><stop offset="0.4448" stop-color="#9537ad"/><stop offset="0.4575" stop-color="#a14fb7"/><stop offset="0.467" stop-color="#a65abc"/><stop offset="0.4766" stop-color="#a75bbc"/><stop offset="0.4829" stop-color="#a354b9"/><stop offset="0.4925" stop-color="#9a40b1"/><stop offset="0.4956" stop-color="#993eb0"/><stop offset="0.4988" stop-color="#9537ad"/><stop offset="0.5052" stop-color="#9434ac"/><stop offset="0.5242" stop-color="#973baf"/><stop offset="0.5338" stop-color="#9435ac"/><stop offset="0.5592" stop-color="#86179f"/><stop offset="0.5719" stop-color="#810c9a"/><stop offset="0.6005" stop-color="#990892"/><stop offset="0.6195" stop-color="#ab068e"/><stop offset="0.6513" stop-color="#cd0585"/><stop offset="0.6736" stop-color="#e0087d"/><stop offset="0.6958" stop-color="#eb1276"/><stop offset="0.753" stop-color="#fb2f6b"/><stop offset="0.7911" stop-color="#ff3e67"/><stop offset="0.8864" stop-color="#ff625f"/><stop offset="0.9722" stop-color="#ff6e58"/><stop offset="1" stop-color="#ff7156"/></linearGradient>
<linearGradient id="b120" gradientUnits="userSpaceOnUse" x1="60.5" x2="690" y1="0" y2="0"><stop offset="0" stop-color="#8f0a95"/><stop offset="0.3622" stop-color="#a40790"/><stop offset="0.394" stop-color="#9b0892"/><stop offset="0.4098" stop-color="#8f0a95"/><stop offset="0.4226" stop-color="#810c9a"/><stop offset="0.4543" stop-color="#9c46b3"/><stop offset="0.467" stop-color="#a659bc"/><stop offset="0.4766" stop-color="#a75cbd"/><stop offset="0.4829" stop-color="#a558bb"/><stop offset="0.4956" stop-color="#9a40b1"/><stop offset="0.502" stop-color="#9537ad"/><stop offset="0.5147" stop-color="#9638ad"/><stop offset="0.5306" stop-color="#973bae"/><stop offset="0.5687" stop-color="#85159e"/><stop offset="0.5719" stop-color="#83139d"/><stop offset="0.5751" stop-color="#810d9b"/><stop offset="0.6195" stop-color="#a40790"/><stop offset="0.6577" stop-color="#ce0585"/><stop offset="0.6799" stop-color="#e0087d"/><stop offset="0.7021" stop-color="#eb1176"/><stop offset="0.7593" stop-color="#fa2f6b"/><stop offset="0.8006" stop-color="#ff4066"/><stop offset="0.8928" stop-color="#ff625f"/><stop offset="0.9786" stop-color="#ff6e58"/><stop offset="1" stop-color="#ff7057"/></linearGradient>
<linearGradient id="b121" gradientUnits="userSpaceOnUse" x1="60.5" x2="690" y1="0" y2="0"><stop offset="0" stop-color="#8f0a95"/><stop offset="0.3654" stop-color="#a40790"/><stop offset="0.3971" stop-color="#9b0892"/><stop offset="0.4194" stop-color="#870b98"/><stop offset="0.4257" stop-color="#800c9a"/><stop offset="0.448" stop-color="#9638ad"/><stop offset="0.467" stop-color="#a557bb"/><stop offset="0.4766" stop-color="#a85dbd"/><stop offset="0.4861" stop-color="#a558bb"/><stop offset="0.502" stop-color="#983caf"/><stop offset="0.5052" stop-color="#983caf"/><stop offset="0.5083" stop-color="#9537ad"/><stop offset="0.5338" stop-color="#983caf"/><stop offset="0.5592" stop-color="#8c24a4"/><stop offset="0.5782" stop-color="#83129c"/><stop offset="0.5814" stop-color="#800c9a"/><stop offset="0.6068" stop-color="#960993"/><stop offset="0.6259" stop-color="#a50790"/><stop offset="0.664" stop-color="#cf0585"/><stop offset="0.6863" stop-color="#e0087d"/><stop offset="0.7149" stop-color="#ec1475"/><stop offset="0.7689" stop-color="#fb2f6b"/><stop offset="0.807" stop-color="#ff3f67"/><stop offset="0.8991" stop-color="#ff615f"/><stop offset="0.9817" stop-color="#ff6d59"/><stop offset="1" stop-color="#ff6f57"/></linearGradient>
<linearGradient id="b122" gradientUnits="userSpaceOnUse" x1="60.5" x2="690" y1="0" y2="0"><stop offset="0" stop-color="#8f0a95"/><stop offset="0.3685" stop-color="#a40790"/><stop offset="0.3971" stop-color="#9b0892"/><stop offset="0.4162" stop-color="#8d0a96"/><stop offset="0.4257" stop-color="#830c99"/><stop offset="0.4289" stop-color="#810f9b"/><stop offset="0.4448" stop-color="#912fa9"/><stop offset="0.467" stop-color="#a455ba"/><stop offset="0.4766" stop-color="#a85dbd"/><stop offset="0.4861" stop-color="#a75bbc"/><stop offset="0.4956" stop-color="#a04eb7"/><stop offset="0.5052" stop-color="#983eb0"/><stop offset="0.5147" stop-color="#9638ad"/><stop offset="0.5338" stop-color="#983eb0"/><stop offset="0.5433" stop-color="#9639ae"/><stop offset="0.5687" stop-color="#8a20a3"/><stop offset="0.5814" stop-color="#84159e"/><stop offset="0.5878" stop-color="#820c9a"/><stop offset="0.6132" stop-color="#960993"/><stop offset="0.6322" stop-color="#a60790"/><stop offset="0.6672" stop-color="#cc0586"/><stop offset="0.6926" stop-color="#e0087d"/><stop offset="0.718" stop-color="#eb1276"/><stop offset="0.7752" stop-color="#fa2f6b"/><stop offset="0.8133" stop-color="#ff3f67"/><stop offset="0.9055" stop-color="#ff615f"/><stop offset="0.9881" stop-color="#ff6d59"/><stop offset="1" stop-color="#ff6e58"/></linearGradient>
<linearGradient id="b123" gradientUnits="userSpaceOnUse" x1="60.5" x2="690" y1="0" y2="0"><stop offset="0" stop-color="#8f0a96"/><stop offset="0.3685" stop-color="#a40790"/><stop offset="0.4003" stop-color="#9b0892"/><stop offset="0.4226" stop-color="#880b97"/><stop offset="0.4289" stop-color="#820c9a"/><stop offset="0.448" stop-color="#9231aa"/><stop offset="0.4607" stop-color="#9c46b3"/><stop offset="0.4702" stop-color="#a557bb"/><stop offset="0.4829" stop-color="#a85ebd"/><stop offset="0.4925" stop-color="#a658bb"/><stop offset="0.5083" stop-color="#9a40b1"/><stop offset="0.5147" stop-color="#973bae"/><stop offset="0.5401" stop-color="#993fb0"/><stop offset="0.5528" stop-color="#9536ac"/><stop offset="0.5719" stop-color="#8c23a4"/><stop offset="0.5878" stop-color="#84149e"/><stop offset="0.5909" stop-color="#810d9b"/><stop offset="0.6227" stop-color="#990892"/><stop offset="0.6386" stop-color="#a6078f"/><stop offset="0.6736" stop-color="#cd0585"/><stop offset="0.699" stop-color="#e0087d"/><stop offset="0.7244" stop-color="#eb1176"/><stop offset="0.7816" stop-color="#fa2f6b"/><stop offset="0.8197" stop-color="#ff3f67"/><stop offset="0.915" stop-color="#ff615f"/><stop offset="1" stop-color="#ff6d59"/></linearGradient>
<linearGradient id="b124" gradientUnits="userSpaceOnUse" x1="60.5" x2="690" y1="0" y2="0"><stop offset="0" stop-color="#8e0a96"/><stop offset="0.3717" stop-color="#a30790"/><stop offset="0.4035" stop-color="#9a0892"/><stop offset="0.4257" stop-color="#870b98"/><stop offset="0.4321" stop-color="#810e9b"/><stop offset="0.448" stop-color="#902da9"/><stop offset="0.4702" stop-color="#a353b9"/><stop offset="0.4829" stop-color="#a85ebd"/><stop offset="0.4925" stop-color="#a75cbd"/><stop offset="0.5052" stop-color="#9f4bb6"/><stop offset="0.5147" stop-color="#993fb0"/><stop offset="0.5242" stop-color="#983db0"/><stop offset="0.5369" stop-color="#9a41b1"/><stop offset="0.5496" stop-color="#993fb0"/><stop offset="0.5719" stop-color="#902ca8"/><stop offset="0.5878" stop-color="#871aa0"/><stop offset="0.5941" stop-color="#83129d"/><stop offset="0.5973" stop-color="#800c9a"/><stop offset="0.6195" stop-color="#930994"/><stop offset="0.6418" stop-color="#a30790"/><stop offset="0.6767" stop-color="#cb0586"/><stop offset="0.7053" stop-color="#e0087d"/><stop offset="0.7339" stop-color="#eb1276"/><stop offset="0.7879" stop-color="#fa2e6c"/><stop offset="0.8261" stop-color="#ff3e67"/><stop offset="0.9214" stop-color="#ff615f"/><stop offset="1" stop-color="#ff6c59"/></linearGradient>
<linearGradient id="b125" gradientUnits="userSpaceOnUse" x1="60.5" x2="690" y1="0" y2="0"><stop offset="0" stop-color="#8e0a96"/><stop offset="0.3749" stop-color="#a30790"/><stop offset="0.4067" stop-color="#990892"/><stop offset="0.4257" stop-color="#890b97"/><stop offset="0.4321" stop-color="#820c99"/><stop offset="0.4384" stop-color="#85179f"/><stop offset="0.4448" stop-color="#8c24a4"/><stop offset="0.4734" stop-color="#a354b9"/><stop offset="0.4829" stop-color="#a85dbd"/><stop offset="0.4925" stop-color="#a85ebd"/><stop offset="0.502" stop-color="#a557bb"/><stop offset="0.5147" stop-color="#9c45b3"/><stop offset="0.5242" stop-color="#9a40b1"/><stop offset="0.5465" stop-color="#9b44b2"/><stop offset="0.5624" stop-color="#963aae"/><stop offset="0.5782" stop-color="#902ca8"/><stop offset="0.5973" stop-color="#86189f"/><stop offset="0.6037" stop-color="#810c9a"/><stop offset="0.6259" stop-color="#940994"/><stop offset="0.645" stop-color="#a00791"/><stop offset="0.6799" stop-color="#c80587"/><stop offset="0.7117" stop-color="#df087e"/><stop offset="0.7371" stop-color="#ea1077"/><stop offset="0.7943" stop-color="#fa2e6c"/><stop offset="0.8324" stop-color="#ff3e67"/><stop offset="0.9309" stop-color="#ff615f"/><stop offset="1" stop-color="#ff6b5a"/></linearGradient>
<linearGradient id="b126" gradientUnits="userSpaceOnUse" x1="60.5" x2="690" y1="0" y2="0"><stop offset="0" stop-color="#8e0a96"/><stop offset="0.3749" stop-color="#a30790"/><stop offset="0.4067" stop-color="#9a0892"/><stop offset="0.4226" stop-color="#8e0a96"/><stop offset="0.4353" stop-color="#810c9a"/><stop offset="0.4543" stop-color="#9231aa"/><stop offset="0.4797" stop-color="#a558bb"/><stop offset="0.4893" stop-color="#a95fbe"/><stop offset="0.4988" stop-color="#a85dbd"/><stop offset="0.5147" stop-color="#a04db6"/><stop offset="0.521" stop-color="#9c45b3"/><stop offset="0.5338" stop-color="#9b43b2"/><stop offset="0.5465" stop-color="#9d46b4"/><stop offset="0.5624" stop-color="#9940b1"/><stop offset="0.5814" stop-color="#9231aa"/><stop offset="0.6037" stop-color="#85169e"/><stop offset="0.6068" stop-color="#810e9b"/><stop offset="0.6227" stop-color="#8e0a96"/><stop offset="0.6513" stop-color="#a10790"/><stop offset="0.6863" stop-color="#c80587"/><stop offset="0.718" stop-color="#df077e"/><stop offset="0.7466" stop-color="#eb1176"/><stop offset="0.8006" stop-color="#fa2e6c"/><stop offset="0.8388" stop-color="#ff3e67"/><stop offset="0.9404" stop-color="#ff625f"/><stop offset="1" stop-color="#ff6a5a"/></linearGradient>
<linearGradient id="b127" gradientUnits="userSpaceOnUse" x1="60.5" x2="690" y1="0" y2="0"><stop offset="0" stop-color="#8d0a96"/><stop offset="0.3781" stop-color="#a30790"/><stop offset="0.4098" stop-color="#9a0892"/><stop offset="0.4321" stop-color="#860b98"/><stop offset="0.4384" stop-color="#810d9a"/><stop offset="0.4512" stop-color="#8e28a6"/><stop offset="0.4829" stop-color="#a658bb"/><stop offset="0.4956" stop-color="#a960be"/><stop offset="0.5083" stop-color="#a659bc"/><stop offset="0.5242" stop-color="#9d48b4"/><stop offset="0.5274" stop-color="#9e49b5"/><stop offset="0.5338" stop-color="#9b44b2"/><stop offset="0.5496" stop-color="#9e49b5"/><stop offset="0.5655" stop-color="#9b43b2"/><stop offset="0.5878" stop-color="#9231aa"/><stop offset="0.6068" stop-color="#871aa0"/><stop offset="0.6132" stop-color="#800c9a"/><stop offset="0.6354" stop-color="#920994"/><stop offset="0.6577" stop-color="#a20790"/><stop offset="0.6894" stop-color="#c50488"/><stop offset="0.7276" stop-color="#e0087d"/><stop offset="0.753" stop-color="#ea1077"/><stop offset="0.807" stop-color="#fa2d6c"/><stop offset="0.8451" stop-color="#ff3e67"/><stop offset="0.95" stop-color="#ff625f"/><stop offset="1" stop-color="#ff695b"/></linearGradient>
<linearGradient id="b128" gradientUnits="userSpaceOnUse" x1="60.5" x2="690" y1="0" y2="0"><stop offset="0" stop-color="#8d0a96"/><stop offset="0.3781" stop-color="#a30790"/><stop offset="0.413" stop-color="#990892"/><stop offset="0.4384" stop-color="#820c99"/><stop offset="0.4448" stop-color="#85169e"/><stop offset="0.4512" stop-color="#8b23a4"/><stop offset="0.4893" stop-color="#a75cbc"/><stop offset="0.4988" stop-color="#a960be"/><stop offset="0.5115" stop-color="#a75bbc"/><stop offset="0.5306" stop-color="#9e49b5"/><stop offset="0.5624" stop-color="#9e49b5"/><stop offset="0.5909" stop-color="#9435ac"/><stop offset="0.6132" stop-color="#871aa0"/><stop offset="0.6195" stop-color="#810c9a"/><stop offset="0.6418" stop-color="#930994"/><stop offset="0.6608" stop-color="#9f0791"/><stop offset="0.6958" stop-color="#c40488"/><stop offset="0.7339" stop-color="#e0087e"/><stop offset="0.7593" stop-color="#ea1077"/><stop offset="0.8102" stop-color="#f92c6c"/><stop offset="0.8515" stop-color="#ff3d67"/><stop offset="0.9595" stop-color="#ff625f"/><stop offset="1" stop-color="#ff685c"/></linearGradient>
<linearGradient id="b129" gradientUnits="userSpaceOnUse" x1="60.5" x2="690" y1="0" y2="0"><stop offset="0" stop-color="#8d0a96"/><stop offset="0.3813" stop-color="#a30790"/><stop offset="0.413" stop-color="#9a0892"/><stop offset="0.4353" stop-color="#880b98"/><stop offset="0.4416" stop-color="#810c9a"/><stop offset="0.4575" stop-color="#8f2aa7"/><stop offset="0.4829" stop-color="#a04eb7"/><stop offset="0.4956" stop-color="#a85ebd"/><stop offset="0.5052" stop-color="#aa61bf"/><stop offset="0.5242" stop-color="#a455ba"/><stop offset="0.5369" stop-color="#9f4bb6"/><stop offset="0.5687" stop-color="#9e49b5"/><stop offset="0.5973" stop-color="#9436ac"/><stop offset="0.6195" stop-color="#86189f"/><stop offset="0.6227" stop-color="#82109c"/><stop offset="0.6259" stop-color="#810c9a"/><stop offset="0.645" stop-color="#910995"/><stop offset="0.6672" stop-color="#a00791"/><stop offset="0.7021" stop-color="#c40489"/><stop offset="0.7434" stop-color="#e1087d"/><stop offset="0.7657" stop-color="#ea0f77"/><stop offset="0.8133" stop-color="#f82a6d"/><stop offset="0.8578" stop-color="#ff3d67"/><stop offset="0.969" stop-color="#ff625f"/><stop offset="1" stop-color="#ff675c"/></linearGradient>
<linearGradient id="b130" gradientUnits="userSpaceOnUse" x1="60.5" x2="690" y1="0" y2="0"><stop offset="0" stop-color="#8d0a96"/><stop offset="0.3844" stop-color="#a20790"/><stop offset="0.4162" stop-color="#990892"/><stop offset="0.4384" stop-color="#870b98"/><stop offset="0.4448" stop-color="#800c9a"/><stop offset="0.4543" stop-color="#8a20a3"/><stop offset="0.4829" stop-color="#9e48b4"/><stop offset="0.4956" stop-color="#a75bbc"/><stop offset="0.5052" stop-color="#aa61bf"/><stop offset="0.5179" stop-color="#a85ebd"/><stop offset="0.5401" stop-color="#a04db6"/><stop offset="0.5751" stop-color="#9e4ab5"/><stop offset="0.6037" stop-color="#9435ac"/><stop offset="0.6227" stop-color="#891da2"/><stop offset="0.6291" stop-color="#810e9b"/><stop offset="0.645" stop-color="#8e0a96"/><stop offset="0.6736" stop-color="#a10791"/><stop offset="0.7117" stop-color="#c60488"/><stop offset="0.7498" stop-color="#e1087d"/><stop offset="0.7752" stop-color="#eb1176"/><stop offset="0.8197" stop-color="#f82a6d"/><stop offset="0.8642" stop-color="#ff3c67"/><stop offset="0.9754" stop-color="#ff625f"/><stop offset="1" stop-color="#ff665d"/></linearGradient>
<linearGradient id="b131" gradientUnits="userSpaceOnUse" x1="60.5" x2="690" y1="0" y2="0"><stop offset="0" stop-color="#8c0a96"/><stop offset="0.3844" stop-color="#a20790"/><stop offset="0.413" stop-color="#9c0892"/><stop offset="0.4353" stop-color="#8c0a96"/><stop offset="0.448" stop-color="#810e9b"/><stop offset="0.467" stop-color="#902ca8"/><stop offset="0.4861" stop-color="#9d46b4"/><stop offset="0.4988" stop-color="#a65abc"/><stop offset="0.5115" stop-color="#aa62bf"/><stop offset="0.5274" stop-color="#a75bbc"/><stop offset="0.5465" stop-color="#a14eb7"/><stop offset="0.5814" stop-color="#9e4ab5"/><stop offset="0.6068" stop-color="#973aae"/><stop offset="0.6291" stop-color="#881ca1"/><stop offset="0.6354" stop-color="#800d9a"/><stop offset="0.6577" stop-color="#920995"/><stop offset="0.6799" stop-color="#a10790"/><stop offset="0.7212" stop-color="#c70587"/><stop offset="0.7593" stop-color="#e2097c"/><stop offset="0.7816" stop-color="#ea1076"/><stop offset="0.8261" stop-color="#f82a6d"/><stop offset="0.8705" stop-color="#ff3c67"/><stop offset="0.9849" stop-color="#ff625f"/><stop offset="1" stop-color="#ff655d"/></linearGradient>
<linearGradient id="b132" gradientUnits="userSpaceOnUse" x1="60.5" x2="690" y1="0" y2="0"><stop offset="0" stop-color="#8c0a96"/><stop offset="0.3876" stop-color="#a20790"/><stop offset="0.4194" stop-color="#990892"/><stop offset="0.4416" stop-color="#880b97"/><stop offset="0.4512" stop-color="#810e9b"/><stop offset="0.467" stop-color="#8d27a6"/><stop offset="0.4893" stop-color="#9c45b3"/><stop offset="0.502" stop-color="#a659bc"/><stop offset="0.5147" stop-color="#aa62bf"/><stop offset="0.5306" stop-color="#a75cbd"/><stop offset="0.5496" stop-color="#a14fb8"/><stop offset="0.5878" stop-color="#9f4ab5"/><stop offset="0.6132" stop-color="#973aae"/><stop offset="0.6322" stop-color="#8a21a3"/><stop offset="0.6418" stop-color="#800c9a"/><stop offset="0.6608" stop-color="#900995"/><stop offset="0.6863" stop-color="#a20790"/><stop offset="0.7307" stop-color="#c90587"/><stop offset="0.7657" stop-color="#e2097c"/><stop offset="0.7879" stop-color="#ea1076"/><stop offset="0.8324" stop-color="#f82a6d"/><stop offset="0.8801" stop-color="#ff3d67"/><stop offset="0.9944" stop-color="#ff625f"/><stop offset="1" stop-color="#ff635e"/></linearGradient>
<linearGradient id="b133" gradientUnits="userSpaceOnUse" x1="60.5" x2="690" y1="0" y2="0"><stop offset="0" stop-color="#8c0a96"/><stop offset="0.3908" stop-color="#a20790"/><stop offset="0.4226" stop-color="#990892"/><stop offset="0.4543" stop-color="#810d9b"/><stop offset="0.4734" stop-color="#8e29a7"/><stop offset="0.4925" stop-color="#9b43b2"/><stop offset="0.5052" stop-color="#a557bb"/><stop offset="0.5179" stop-color="#aa61bf"/><stop offset="0.5338" stop-color="#a85dbd"/><stop offset="0.5592" stop-color="#a14fb7"/><stop offset="0.5973" stop-color="#9e48b4"/><stop offset="0.6164" stop-color="#983eb0"/><stop offset="0.6386" stop-color="#8a21a3"/><stop offset="0.6481" stop-color="#810c9a"/><stop offset="0.6672" stop-color="#910995"/><stop offset="0.6958" stop-color="#a50790"/><stop offset="0.7466" stop-color="#d00584"/><stop offset="0.7784" stop-color="#e50b7a"/><stop offset="0.7943" stop-color="#ea1076"/><stop offset="0.8356" stop-color="#f7286e"/><stop offset="0.8864" stop-color="#ff3c67"/><stop offset="1" stop-color="#ff625f"/></linearGradient>
<linearGradient id="b134" gradientUnits="userSpaceOnUse" x1="60.5" x2="690" y1="0" y2="0"><stop offset="0" stop-color="#8b0a96"/><stop offset="0.394" stop-color="#a20790"/><stop offset="0.4257" stop-color="#980892"/><stop offset="0.4575" stop-color="#800c9a"/><stop offset="0.4797" stop-color="#8f2ba8"/><stop offset="0.4956" stop-color="#9a40b1"/><stop offset="0.5115" stop-color="#a659bc"/><stop offset="0.5242" stop-color="#aa61bf"/><stop offset="0.5401" stop-color="#a75cbd"/><stop offset="0.5655" stop-color="#a14fb7"/><stop offset="0.6037" stop-color="#9e48b4"/><stop offset="0.6227" stop-color="#993eb0"/><stop offset="0.645" stop-color="#8a21a3"/><stop offset="0.6545" stop-color="#810c9a"/><stop offset="0.6767" stop-color="#930994"/><stop offset="0.7053" stop-color="#a7078f"/><stop offset="0.753" stop-color="#d00584"/><stop offset="0.7816" stop-color="#e30a7b"/><stop offset="0.8006" stop-color="#ea1077"/><stop offset="0.8419" stop-color="#f7286e"/><stop offset="0.8928" stop-color="#ff3c67"/><stop offset="1" stop-color="#ff6060"/></linearGradient>
<linearGradient id="b135" gradientUnits="userSpaceOnUse" x1="60.5" x2="690" y1="0" y2="0"><stop offset="0" stop-color="#8b0a97"/><stop offset="0.394" stop-color="#a20790"/><stop offset="0.4257" stop-color="#990892"/><stop offset="0.4607" stop-color="#800c9a"/><stop offset="0.4988" stop-color="#983eb0"/><stop offset="0.5179" stop-color="#a75abc"/><stop offset="0.5306" stop-color="#a961be"/><stop offset="0.5719" stop-color="#a14eb7"/><stop offset="0.61" stop-color="#9d48b4"/><stop offset="0.6291" stop-color="#993eb0"/><stop offset="0.6481" stop-color="#8e28a6"/><stop offset="0.6608" stop-color="#800c9a"/><stop offset="0.6831" stop-color="#930994"/><stop offset="0.7117" stop-color="#a6078f"/><stop offset="0.7593" stop-color="#cf0585"/><stop offset="0.7879" stop-color="#e40a7b"/><stop offset="0.8038" stop-color="#e90e77"/><stop offset="0.8483" stop-color="#f7286e"/><stop offset="0.9023" stop-color="#ff3d67"/><stop offset="1" stop-color="#ff5d61"/></linearGradient>
<linearGradient id="b136" gradientUnits="userSpaceOnUse" x1="60.5" x2="690" y1="0" y2="0"><stop offset="0" stop-color="#8b0a97"/><stop offset="0.3971" stop-color="#a20790"/><stop offset="0.4289" stop-color="#990892"/><stop offset="0.4639" stop-color="#810c9a"/><stop offset="0.502" stop-color="#973aae"/><stop offset="0.521" stop-color="#a558bb"/><stop offset="0.5338" stop-color="#a95fbe"/><stop offset="0.5528" stop-color="#a65abc"/><stop offset="0.5814" stop-color="#a04cb6"/><stop offset="0.6195" stop-color="#9d46b3"/><stop offset="0.6354" stop-color="#993fb0"/><stop offset="0.6545" stop-color="#8e29a7"/><stop offset="0.6672" stop-color="#800c9a"/><stop offset="0.6894" stop-color="#930994"/><stop offset="0.718" stop-color="#a60790"/><stop offset="0.7657" stop-color="#cf0585"/><stop offset="0.7943" stop-color="#e40a7b"/><stop offset="0.8102" stop-color="#e90e77"/><stop offset="0.8546" stop-color="#f7276e"/><stop offset="0.9087" stop-color="#ff3c67"/><stop offset="1" stop-color="#ff5b61"/></linearGradient>
<linearGradient id="b137" gradientUnits="userSpaceOnUse" x1="60.5" x2="690" y1="0" y2="0"><stop offset="0" stop-color="#8b0a97"/><stop offset="0.3971" stop-color="#a20790"/><stop offset="0.4289" stop-color="#9a0892"/><stop offset="0.4639" stop-color="#840b99"/><stop offset="0.4702" stop-color="#810d9a"/><stop offset="0.4956" stop-color="#8f2ba8"/><stop offset="0.5147" stop-color="#9d46b3"/><stop offset="0.5274" stop-color="#a659bb"/><stop offset="0.5401" stop-color="#a95fbe"/><stop offset="0.5655" stop-color="#a456ba"/><stop offset="0.5941" stop-color="#9f4bb5"/><stop offset="0.6227" stop-color="#9d47b4"/><stop offset="0.6386" stop-color="#9b43b2"/><stop offset="0.6608" stop-color="#902da8"/><stop offset="0.6736" stop-color="#810f9b"/><stop offset="0.6831" stop-color="#890b97"/><stop offset="0.7244" stop-color="#a50790"/><stop offset="0.772" stop-color="#cf0585"/><stop offset="0.8006" stop-color="#e40a7b"/><stop offset="0.8165" stop-color="#e90e77"/><stop offset="0.8578" stop-color="#f6266f"/><stop offset="0.9182" stop-color="#ff3d67"/><stop offset="1" stop-color="#ff5862"/></linearGradient>
<linearGradient id="b138" gradientUnits="userSpaceOnUse" x1="60.5" x2="690" y1="0" y2="0"><stop offset="0" stop-color="#8a0a97"/><stop offset="0.4003" stop-color="#a10790"/><stop offset="0.4353" stop-color="#990892"/><stop offset="0.4734" stop-color="#800c9a"/><stop offset="0.5083" stop-color="#9434ab"/><stop offset="0.5306" stop-color="#a456ba"/><stop offset="0.5433" stop-color="#a85dbd"/><stop offset="0.5655" stop-color="#a659bb"/><stop offset="0.6005" stop-color="#9f4ab5"/><stop offset="0.645" stop-color="#9b43b2"/><stop offset="0.6672" stop-color="#912fa9"/><stop offset="0.6799" stop-color="#82119c"/><stop offset="0.6831" stop-color="#810c9a"/><stop offset="0.7021" stop-color="#920995"/><stop offset="0.7276" stop-color="#a20790"/><stop offset="0.7752" stop-color="#cd0585"/><stop offset="0.8038" stop-color="#e2097c"/><stop offset="0.8229" stop-color="#e90e77"/><stop offset="0.8642" stop-color="#f6256f"/><stop offset="0.9245" stop-color="#ff3c67"/><stop offset="1" stop-color="#ff5562"/></linearGradient>
<linearGradient id="b139" gradientUnits="userSpaceOnUse" x1="60.5" x2="690" y1="0" y2="0"><stop offset="0" stop-color="#8a0a97"/><stop offset="0.4035" stop-color="#a10790"/><stop offset="0.4416" stop-color="#970893"/><stop offset="0.4797" stop-color="#810d9b"/><stop offset="0.5147" stop-color="#9435ac"/><stop offset="0.5369" stop-color="#a556ba"/><stop offset="0.5528" stop-color="#a85dbd"/><stop offset="0.5782" stop-color="#a456ba"/><stop offset="0.61" stop-color="#9d48b4"/><stop offset="0.6513" stop-color="#9c46b3"/><stop offset="0.6704" stop-color="#9537ad"/><stop offset="0.6799" stop-color="#8b23a4"/><stop offset="0.6894" stop-color="#800c9a"/><stop offset="0.7085" stop-color="#910995"/><stop offset="0.7339" stop-color="#a10791"/><stop offset="0.7816" stop-color="#cd0585"/><stop offset="0.8102" stop-color="#e2097c"/><stop offset="0.8292" stop-color="#e90e77"/><stop offset="0.8737" stop-color="#f6266f"/><stop offset="0.9341" stop-color="#ff3d67"/><stop offset="1" stop-color="#ff5263"/></linearGradient>
<linearGradient id="b140" gradientUnits="userSpaceOnUse" x1="60.5" x2="690" y1="0" y2="0"><stop offset="0" stop-color="#8a0a97"/><stop offset="0.4067" stop-color="#a10790"/><stop offset="0.4448" stop-color="#970893"/><stop offset="0.4829" stop-color="#800c9a"/><stop offset="0.5179" stop-color="#9231aa"/><stop offset="0.5433" stop-color="#a557bb"/><stop offset="0.5592" stop-color="#a85dbd"/><stop offset="0.5878" stop-color="#a456ba"/><stop offset="0.6037" stop-color="#a04cb6"/><stop offset="0.6259" stop-color="#9c45b3"/><stop offset="0.6577" stop-color="#9d47b4"/><stop offset="0.6767" stop-color="#973aae"/><stop offset="0.6863" stop-color="#8d26a5"/><stop offset="0.6958" stop-color="#810e9b"/><stop offset="0.7244" stop-color="#960993"/><stop offset="0.7466" stop-color="#a6078f"/><stop offset="0.7911" stop-color="#d00584"/><stop offset="0.8165" stop-color="#e2097c"/><stop offset="0.8388" stop-color="#ea1077"/><stop offset="0.8801" stop-color="#f6256f"/><stop offset="0.9404" stop-color="#ff3c67"/><stop offset="1" stop-color="#ff4f63"/></linearGradient>
<linearGradient id="b141" gradientUnits="userSpaceOnUse" x1="60.5" x2="690" y1="0" y2="0"><stop offset="0" stop-color="#890b97"/><stop offset="0.4067" stop-color="#a10790"/><stop offset="0.448" stop-color="#980893"/><stop offset="0.4893" stop-color="#810d9b"/><stop offset="0.521" stop-color="#902da9"/><stop offset="0.5465" stop-color="#a354b9"/><stop offset="0.5624" stop-color="#a85dbd"/><stop offset="0.5814" stop-color="#a75bbc"/><stop offset="0.6037" stop-color="#a250b8"/><stop offset="0.6132" stop-color="#9e49b5"/><stop offset="0.6354" stop-color="#9c44b3"/><stop offset="0.6608" stop-color="#9f4bb6"/><stop offset="0.6767" stop-color="#9b43b2"/><stop offset="0.6863" stop-color="#9638ad"/><stop offset="0.7021" stop-color="#82109c"/><stop offset="0.7053" stop-color="#820c99"/><stop offset="0.7307" stop-color="#950994"/><stop offset="0.7498" stop-color="#a30790"/><stop offset="0.7943" stop-color="#cd0585"/><stop offset="0.8229" stop-color="#e2097c"/><stop offset="0.8451" stop-color="#ea0f77"/><stop offset="0.8864" stop-color="#f5256f"/><stop offset="0.95" stop-color="#ff3d67"/><stop offset="1" stop-color="#ff4d64"/></linearGradient>
<linearGradient id="b142" gradientUnits="userSpaceOnUse" x1="60.5" x2="690" y1="0" y2="0"><stop offset="0" stop-color="#890b97"/><stop offset="0.4098" stop-color="#a10791"/><stop offset="0.4512" stop-color="#980893"/><stop offset="0.4925" stop-color="#800c9a"/><stop offset="0.5274" stop-color="#912fa9"/><stop offset="0.5528" stop-color="#a454ba"/><stop offset="0.5687" stop-color="#a85dbd"/><stop offset="0.5909" stop-color="#a75bbc"/><stop offset="0.6068" stop-color="#a251b8"/><stop offset="0.61" stop-color="#a04cb6"/><stop offset="0.6132" stop-color="#a04db6"/><stop offset="0.6291" stop-color="#9b44b2"/><stop offset="0.6513" stop-color="#9c45b3"/><stop offset="0.6672" stop-color="#a04db6"/><stop offset="0.6831" stop-color="#9c45b3"/><stop offset="0.6926" stop-color="#973aae"/><stop offset="0.7117" stop-color="#810c9a"/><stop offset="0.7339" stop-color="#920994"/><stop offset="0.753" stop-color="#a00791"/><stop offset="0.8006" stop-color="#ce0585"/><stop offset="0.8292" stop-color="#e2097c"/><stop offset="0.8515" stop-color="#ea0f77"/><stop offset="0.8928" stop-color="#f5246f"/><stop offset="0.9563" stop-color="#ff3c67"/><stop offset="1" stop-color="#ff4a64"/></linearGradient>
<linearGradient id="b143" gradientUnits="userSpaceOnUse" x1="60.5" x2="690" y1="0" y2="0"><stop offset="0" stop-color="#890b97"/><stop offset="0.413" stop-color="#a10791"/><stop offset="0.4543" stop-color="#980892"/><stop offset="0.4988" stop-color="#800d9a"/><stop offset="0.5306" stop-color="#902ca8"/><stop offset="0.5592" stop-color="#a454ba"/><stop offset="0.5782" stop-color="#a85ebd"/><stop offset="0.5973" stop-color="#a75bbc"/><stop offset="0.6132" stop-color="#a353b9"/><stop offset="0.6259" stop-color="#9d46b4"/><stop offset="0.6418" stop-color="#9b42b2"/><stop offset="0.6577" stop-color="#9c45b3"/><stop offset="0.6736" stop-color="#a14fb7"/><stop offset="0.6894" stop-color="#9d47b4"/><stop offset="0.699" stop-color="#983daf"/><stop offset="0.718" stop-color="#800c9a"/><stop offset="0.7403" stop-color="#920995"/><stop offset="0.7593" stop-color="#a00791"/><stop offset="0.807" stop-color="#ce0585"/><stop offset="0.8356" stop-color="#e2097c"/><stop offset="0.8578" stop-color="#e90f77"/><stop offset="0.9023" stop-color="#f6256f"/><stop offset="0.9658" stop-color="#ff3c67"/><stop offset="1" stop-color="#ff4765"/></linearGradient>
<linearGradient id="b144" gradientUnits="userSpaceOnUse" x1="60.5" x2="690" y1="0" y2="0"><stop offset="0" stop-color="#890b97"/><stop offset="0.4162" stop-color="#a10791"/><stop offset="0.4575" stop-color="#990892"/><stop offset="0.502" stop-color="#800c9a"/><stop offset="0.5369" stop-color="#912ea9"/><stop offset="0.5624" stop-color="#a251b8"/><stop offset="0.5782" stop-color="#a85cbd"/><stop offset="0.5973" stop-color="#a85ebd"/><stop offset="0.6195" stop-color="#a352b9"/><stop offset="0.6227" stop-color="#a04db6"/><stop offset="0.6418" stop-color="#9a40b1"/><stop offset="0.6577" stop-color="#9b42b2"/><stop offset="0.6799" stop-color="#a150b8"/><stop offset="0.6958" stop-color="#9e48b5"/><stop offset="0.7053" stop-color="#993fb0"/><stop offset="0.7244" stop-color="#810e9b"/><stop offset="0.7657" stop-color="#9f0791"/><stop offset="0.8102" stop-color="#cb0586"/><stop offset="0.8388" stop-color="#e0087d"/><stop offset="0.8642" stop-color="#e90e77"/><stop offset="0.9087" stop-color="#f5246f"/><stop offset="0.9722" stop-color="#ff3b67"/><stop offset="1" stop-color="#ff4466"/></linearGradient>
<linearGradient id="b145" gradientUnits="userSpaceOnUse" x1="60.5" x2="690" y1="0" y2="0"><stop offset="0" stop-color="#880b97"/><stop offset="0.4194" stop-color="#a10791"/><stop offset="0.4639" stop-color="#980893"/><stop offset="0.5083" stop-color="#800d9a"/><stop offset="0.5433" stop-color="#912fa9"/><stop offset="0.5719" stop-color="#a455ba"/><stop offset="0.5878" stop-color="#a85ebd"/><stop offset="0.6068" stop-color="#a85dbd"/><stop offset="0.6227" stop-color="#a455ba"/><stop offset="0.6291" stop-color="#a04cb6"/><stop offset="0.6481" stop-color="#993fb0"/><stop offset="0.664" stop-color="#9b42b2"/><stop offset="0.6863" stop-color="#a251b8"/><stop offset="0.7021" stop-color="#9e49b5"/><stop offset="0.7117" stop-color="#9a40b1"/><stop offset="0.7307" stop-color="#810f9b"/><stop offset="0.7371" stop-color="#860b98"/><stop offset="0.772" stop-color="#9f0791"/><stop offset="0.8165" stop-color="#cb0586"/><stop offset="0.8483" stop-color="#e2097c"/><stop offset="0.8705" stop-color="#e90e77"/><stop offset="0.915" stop-color="#f5246f"/><stop offset="0.9817" stop-color="#ff3c67"/><stop offset="1" stop-color="#ff4266"/></linearGradient>
<linearGradient id="b146" gradientUnits="userSpaceOnUse" x1="60.5" x2="690" y1="0" y2="0"><stop offset="0" stop-color="#880b98"/><stop offset="0.4226" stop-color="#a10791"/><stop offset="0.467" stop-color="#980892"/><stop offset="0.5115" stop-color="#800c9a"/><stop offset="0.5496" stop-color="#9231aa"/><stop offset="0.5782" stop-color="#a455ba"/><stop offset="0.5973" stop-color="#a95fbe"/><stop offset="0.6132" stop-color="#a85dbd"/><stop offset="0.6259" stop-color="#a557bb"/><stop offset="0.6322" stop-color="#a04cb6"/><stop offset="0.6354" stop-color="#a04cb6"/><stop offset="0.6513" stop-color="#993fb0"/><stop offset="0.6672" stop-color="#9a41b1"/><stop offset="0.6926" stop-color="#a251b8"/><stop offset="0.7085" stop-color="#9f4ab5"/><stop offset="0.718" stop-color="#9a40b1"/><stop offset="0.7371" stop-color="#820f9b"/><stop offset="0.7434" stop-color="#860b98"/><stop offset="0.7752" stop-color="#9c0892"/><stop offset="0.8229" stop-color="#cc0586"/><stop offset="0.8546" stop-color="#e2097c"/><stop offset="0.8801" stop-color="#ea0f77"/><stop offset="0.9214" stop-color="#f5236f"/><stop offset="0.9913" stop-color="#ff3c67"/><stop offset="1" stop-color="#ff3f67"/></linearGradient>
<linearGradient id="b147" gradientUnits="userSpaceOnUse" x1="60.5" x2="690" y1="0" y2="0"><stop offset="0" stop-color="#880b98"/><stop offset="0.4289" stop-color="#a10791"/><stop offset="0.4734" stop-color="#980893"/><stop offset="0.5179" stop-color="#810e9b"/><stop offset="0.556" stop-color="#9332ab"/><stop offset="0.5846" stop-color="#a456ba"/><stop offset="0.6037" stop-color="#a960be"/><stop offset="0.6195" stop-color="#a85ebd"/><stop offset="0.6322" stop-color="#a455ba"/><stop offset="0.6354" stop-color="#a456ba"/><stop offset="0.6418" stop-color="#9f4ab5"/><stop offset="0.6608" stop-color="#993fb0"/><stop offset="0.6799" stop-color="#9c44b3"/><stop offset="0.699" stop-color="#a251b8"/><stop offset="0.7117" stop-color="#a04db7"/><stop offset="0.7244" stop-color="#9a40b1"/><stop offset="0.7403" stop-color="#86189f"/><stop offset="0.7434" stop-color="#810e9b"/><stop offset="0.7593" stop-color="#8c0a96"/><stop offset="0.7784" stop-color="#990892"/><stop offset="0.8261" stop-color="#c90587"/><stop offset="0.861" stop-color="#e1097c"/><stop offset="0.8864" stop-color="#e90e77"/><stop offset="0.9277" stop-color="#f42370"/><stop offset="1" stop-color="#ff3c67"/></linearGradient>
<linearGradient id="b148" gradientUnits="userSpaceOnUse" x1="60.5" x2="690" y1="0" y2="0"><stop offset="0" stop-color="#870b98"/><stop offset="0.4321" stop-color="#a10791"/><stop offset="0.4766" stop-color="#980893"/><stop offset="0.521" stop-color="#800c9a"/><stop offset="0.5624" stop-color="#9333ab"/><stop offset="0.5909" stop-color="#a556ba"/><stop offset="0.61" stop-color="#a960be"/><stop offset="0.6259" stop-color="#a85ebd"/><stop offset="0.6386" stop-color="#a456ba"/><stop offset="0.6418" stop-color="#a04eb7"/><stop offset="0.645" stop-color="#a14eb7"/><stop offset="0.6481" stop-color="#9e49b5"/><stop offset="0.6672" stop-color="#993fb0"/><stop offset="0.6894" stop-color="#9d47b4"/><stop offset="0.7053" stop-color="#a251b8"/><stop offset="0.718" stop-color="#a04eb7"/><stop offset="0.7307" stop-color="#9a41b1"/><stop offset="0.7498" stop-color="#810f9b"/><stop offset="0.7593" stop-color="#880b98"/><stop offset="0.7847" stop-color="#990892"/><stop offset="0.8292" stop-color="#c60488"/><stop offset="0.8674" stop-color="#e1097d"/><stop offset="0.8928" stop-color="#e90e77"/><stop offset="0.9341" stop-color="#f42270"/><stop offset="1" stop-color="#ff3968"/></linearGradient>
<linearGradient id="b149" gradientUnits="userSpaceOnUse" x1="60.5" x2="690" y1="0" y2="0"><stop offset="0" stop-color="#870b98"/><stop offset="0.4353" stop-color="#a10791"/><stop offset="0.4797" stop-color="#990892"/><stop offset="0.5242" stop-color="#810c9a"/><stop offset="0.5687" stop-color="#9435ac"/><stop offset="0.5973" stop-color="#a557bb"/><stop offset="0.6164" stop-color="#aa61be"/><stop offset="0.6322" stop-color="#a85ebd"/><stop offset="0.645" stop-color="#a557bb"/><stop offset="0.6481" stop-color="#a250b8"/><stop offset="0.6672" stop-color="#9a42b1"/><stop offset="0.6863" stop-color="#9b42b2"/><stop offset="0.7149" stop-color="#a252b9"/><stop offset="0.7276" stop-color="#9f4bb6"/><stop offset="0.7371" stop-color="#9a41b1"/><stop offset="0.7562" stop-color="#810e9b"/><stop offset="0.7816" stop-color="#920994"/><stop offset="0.807" stop-color="#a9068f"/><stop offset="0.8388" stop-color="#c80587"/><stop offset="0.8737" stop-color="#e1087d"/><stop offset="0.9023" stop-color="#ea0f77"/><stop offset="0.9404" stop-color="#f42270"/><stop offset="1" stop-color="#fe3669"/></linearGradient>
<linearGradient id="b150" gradientUnits="userSpaceOnUse" x1="60.5" x2="690" y1="0" y2="0"><stop offset="0" stop-color="#870b98"/><stop offset="0.4384" stop-color="#a10791"/><stop offset="0.4829" stop-color="#9a0892"/><stop offset="0.5242" stop-color="#830c99"/><stop offset="0.5306" stop-color="#800d9a"/><stop offset="0.5496" stop-color="#8a1fa2"/><stop offset="0.5782" stop-color="#973aae"/><stop offset="0.6037" stop-color="#a557bb"/><stop offset="0.6227" stop-color="#aa61be"/><stop offset="0.6418" stop-color="#a75cbd"/><stop offset="0.6481" stop-color="#a558bb"/><stop offset="0.6513" stop-color="#a659bc"/><stop offset="0.6577" stop-color="#a04db6"/><stop offset="0.6767" stop-color="#9b42b2"/><stop offset="0.6926" stop-color="#9b43b2"/><stop offset="0.718" stop-color="#a352b9"/><stop offset="0.7307" stop-color="#a04db6"/><stop offset="0.7434" stop-color="#9a40b1"/><stop offset="0.7625" stop-color="#800d9a"/><stop offset="0.8006" stop-color="#9c0892"/><stop offset="0.8388" stop-color="#c30489"/><stop offset="0.8801" stop-color="#e1087d"/><stop offset="0.9087" stop-color="#e90e77"/><stop offset="0.95" stop-color="#f42270"/><stop offset="1" stop-color="#fd346a"/></linearGradient>
<linearGradient id="b151" gradientUnits="userSpaceOnUse" x1="60.5" x2="690" y1="0" y2="0"><stop offset="0" stop-color="#870b98"/><stop offset="0.4448" stop-color="#a10791"/><stop offset="0.4893" stop-color="#990892"/><stop offset="0.5338" stop-color="#800c9a"/><stop offset="0.5624" stop-color="#8d26a5"/><stop offset="0.5878" stop-color="#993fb0"/><stop offset="0.61" stop-color="#a558bb"/><stop offset="0.6291" stop-color="#a960be"/><stop offset="0.6481" stop-color="#a75cbd"/><stop offset="0.6545" stop-color="#a558bb"/><stop offset="0.6577" stop-color="#a65abc"/><stop offset="0.664" stop-color="#a04eb7"/><stop offset="0.6894" stop-color="#9b43b2"/><stop offset="0.7117" stop-color="#9e49b5"/><stop offset="0.7244" stop-color="#a352b9"/><stop offset="0.7339" stop-color="#a14fb8"/><stop offset="0.7434" stop-color="#9d47b4"/><stop offset="0.7498" stop-color="#993eb0"/><stop offset="0.7657" stop-color="#83129d"/><stop offset="0.7689" stop-color="#810c9a"/><stop offset="0.8038" stop-color="#990892"/><stop offset="0.8483" stop-color="#c50488"/><stop offset="0.8864" stop-color="#e0087d"/><stop offset="0.915" stop-color="#e90e77"/><stop offset="0.9595" stop-color="#f42370"/><stop offset="1" stop-color="#fb316b"/></linearGradient>
<linearGradient id="b152" gradientUnits="userSpaceOnUse" x1="60.5" x2="690" y1="0" y2="0"><stop offset="0" stop-color="#860b98"/><stop offset="0.448" stop-color="#a10791"/><stop offset="0.4925" stop-color="#9a0892"/><stop offset="0.5338" stop-color="#830c99"/><stop offset="0.5401" stop-color="#810d9a"/><stop offset="0.5624" stop-color="#8b22a4"/><stop offset="0.5909" stop-color="#983db0"/><stop offset="0.6164" stop-color="#a558bb"/><stop offset="0.6354" stop-color="#a960be"/><stop offset="0.6545" stop-color="#a85cbd"/><stop offset="0.6608" stop-color="#a659bb"/><stop offset="0.664" stop-color="#a65abc"/><stop offset="0.6704" stop-color="#a14fb8"/><stop offset="0.6767" stop-color="#a04db7"/><stop offset="0.6799" stop-color="#9e49b5"/><stop offset="0.7021" stop-color="#9c44b3"/><stop offset="0.7212" stop-color="#9f4cb6"/><stop offset="0.7339" stop-color="#a352b9"/><stop offset="0.7466" stop-color="#9e49b5"/><stop offset="0.753" stop-color="#9b42b2"/><stop offset="0.7625" stop-color="#8f2ba8"/><stop offset="0.772" stop-color="#83119c"/><stop offset="0.7752" stop-color="#810c9a"/><stop offset="0.8102" stop-color="#990892"/><stop offset="0.8546" stop-color="#c50488"/><stop offset="0.8928" stop-color="#e0087d"/><stop offset="0.9245" stop-color="#ea0f77"/><stop offset="0.9658" stop-color="#f42270"/><stop offset="1" stop-color="#fa2e6c"/></linearGradient>
<linearGradient id="b153" gradientUnits="userSpaceOnUse" x1="60.5" x2="690" y1="0" y2="0"><stop offset="0" stop-color="#860b98"/><stop offset="0.4543" stop-color="#a10791"/><stop offset="0.4988" stop-color="#990892"/><stop offset="0.5433" stop-color="#800c9a"/><stop offset="0.5719" stop-color="#8d27a6"/><stop offset="0.6005" stop-color="#9b42b2"/><stop offset="0.6227" stop-color="#a658bb"/><stop offset="0.645" stop-color="#a960be"/><stop offset="0.6672" stop-color="#a659bc"/><stop offset="0.6704" stop-color="#a75bbc"/><stop offset="0.6767" stop-color="#a252b9"/><stop offset="0.6831" stop-color="#a150b8"/><stop offset="0.6894" stop-color="#9f4bb6"/><stop offset="0.7053" stop-color="#9c44b3"/><stop offset="0.7244" stop-color="#9f4ab5"/><stop offset="0.7403" stop-color="#a352b9"/><stop offset="0.7498" stop-color="#9f4cb6"/><stop offset="0.7593" stop-color="#9a41b1"/><stop offset="0.7689" stop-color="#8e29a7"/><stop offset="0.7752" stop-color="#86189f"/><stop offset="0.7784" stop-color="#82109c"/><stop offset="0.7816" stop-color="#820c99"/><stop offset="0.8165" stop-color="#990892"/><stop offset="0.8578" stop-color="#c20489"/><stop offset="0.8991" stop-color="#e0087e"/><stop offset="0.9309" stop-color="#e90e77"/><stop offset="0.969" stop-color="#f32071"/><stop offset="1" stop-color="#f82b6d"/></linearGradient>
<linearGradient id="b154" gradientUnits="userSpaceOnUse" x1="60.5" x2="690" y1="0" y2="0"><stop offset="0" stop-color="#860b98"/><stop offset="0.4575" stop-color="#a10791"/><stop offset="0.502" stop-color="#9a0892"/><stop offset="0.5433" stop-color="#830b99"/><stop offset="0.5496" stop-color="#800d9a"/><stop offset="0.5751" stop-color="#8d26a6"/><stop offset="0.61" stop-color="#9d48b4"/><stop offset="0.6291" stop-color="#a558bb"/><stop offset="0.6513" stop-color="#a95fbe"/><stop offset="0.6767" stop-color="#a75bbc"/><stop offset="0.6799" stop-color="#a455ba"/><stop offset="0.6863" stop-color="#a251b8"/><stop offset="0.6894" stop-color="#a251b8"/><stop offset="0.7085" stop-color="#9c46b3"/><stop offset="0.7244" stop-color="#9d47b4"/><stop offset="0.7434" stop-color="#a353b9"/><stop offset="0.7562" stop-color="#9f4bb5"/><stop offset="0.7657" stop-color="#993fb0"/><stop offset="0.7847" stop-color="#810e9b"/><stop offset="0.7975" stop-color="#890b97"/><stop offset="0.8197" stop-color="#950993"/><stop offset="0.8642" stop-color="#c20489"/><stop offset="0.9055" stop-color="#df087e"/><stop offset="0.9373" stop-color="#e90d78"/><stop offset="0.9786" stop-color="#f32171"/><stop offset="1" stop-color="#f7286e"/></linearGradient>
<linearGradient id="b155" gradientUnits="userSpaceOnUse" x1="60.5" x2="690" y1="0" y2="0"><stop offset="0" stop-color="#850b98"/><stop offset="0.4639" stop-color="#a10791"/><stop offset="0.5083" stop-color="#990892"/><stop offset="0.5528" stop-color="#810c9a"/><stop offset="0.6259" stop-color="#a252b9"/><stop offset="0.6481" stop-color="#a75cbd"/><stop offset="0.6767" stop-color="#a75cbd"/><stop offset="0.6863" stop-color="#a75bbc"/><stop offset="0.6926" stop-color="#a251b8"/><stop offset="0.699" stop-color="#a150b8"/><stop offset="0.7021" stop-color="#9f4cb6"/><stop offset="0.718" stop-color="#9c45b3"/><stop offset="0.7339" stop-color="#9e4ab5"/><stop offset="0.7498" stop-color="#a353b9"/><stop offset="0.7625" stop-color="#9e49b5"/><stop offset="0.772" stop-color="#983db0"/><stop offset="0.7911" stop-color="#800d9a"/><stop offset="0.8261" stop-color="#950993"/><stop offset="0.8705" stop-color="#c1048a"/><stop offset="0.915" stop-color="#e0087d"/><stop offset="0.9468" stop-color="#e90e77"/><stop offset="0.9881" stop-color="#f32170"/><stop offset="1" stop-color="#f5256f"/></linearGradient>
<linearGradient id="b156" gradientUnits="userSpaceOnUse" x1="60.5" x2="690" y1="0" y2="0"><stop offset="0" stop-color="#850b98"/><stop offset="0.467" stop-color="#a10791"/><stop offset="0.5115" stop-color="#9a0892"/><stop offset="0.5496" stop-color="#860b98"/><stop offset="0.5592" stop-color="#800c9a"/><stop offset="0.5973" stop-color="#9333ab"/><stop offset="0.6322" stop-color="#a252b9"/><stop offset="0.6545" stop-color="#a75bbc"/><stop offset="0.6863" stop-color="#a75bbc"/><stop offset="0.6926" stop-color="#a75cbd"/><stop offset="0.7021" stop-color="#a352b9"/><stop offset="0.7212" stop-color="#9d46b3"/><stop offset="0.7371" stop-color="#9e49b5"/><stop offset="0.7562" stop-color="#a353b9"/><stop offset="0.772" stop-color="#9c45b3"/><stop offset="0.7784" stop-color="#973baf"/><stop offset="0.7975" stop-color="#800c9a"/><stop offset="0.8324" stop-color="#940994"/><stop offset="0.8737" stop-color="#be048a"/><stop offset="0.9214" stop-color="#df087e"/><stop offset="0.9531" stop-color="#e90e77"/><stop offset="0.9944" stop-color="#f32071"/><stop offset="1" stop-color="#f42270"/></linearGradient>
<linearGradient id="b157" gradientUnits="userSpaceOnUse" x1="60.5" x2="690" y1="0" y2="0"><stop offset="0" stop-color="#850b98"/><stop offset="0.4734" stop-color="#a10791"/><stop offset="0.5179" stop-color="#9a0892"/><stop offset="0.5655" stop-color="#800c9a"/><stop offset="0.6068" stop-color="#9639ae"/><stop offset="0.6386" stop-color="#a251b8"/><stop offset="0.6704" stop-color="#a75bbc"/><stop offset="0.699" stop-color="#a85dbd"/><stop offset="0.7085" stop-color="#a251b8"/><stop offset="0.7149" stop-color="#a14eb7"/><stop offset="0.7276" stop-color="#9d47b4"/><stop offset="0.7434" stop-color="#9f4bb5"/><stop offset="0.7593" stop-color="#a454ba"/><stop offset="0.772" stop-color="#9f4bb6"/><stop offset="0.7816" stop-color="#993fb1"/><stop offset="0.7911" stop-color="#8e29a7"/><stop offset="0.7975" stop-color="#8619a0"/><stop offset="0.8038" stop-color="#810c9a"/><stop offset="0.8388" stop-color="#940994"/><stop offset="0.8832" stop-color="#c0048a"/><stop offset="0.9277" stop-color="#df087e"/><stop offset="0.9627" stop-color="#e90e77"/><stop offset="1" stop-color="#f21f71"/></linearGradient>
<linearGradient id="b158" gradientUnits="userSpaceOnUse" x1="60.5" x2="690" y1="0" y2="0"><stop offset="0" stop-color="#850b99"/><stop offset="0.4766" stop-color="#a10791"/><stop offset="0.5242" stop-color="#990892"/><stop offset="0.5719" stop-color="#810d9b"/><stop offset="0.6164" stop-color="#993eb0"/><stop offset="0.645" stop-color="#a251b8"/><stop offset="0.699" stop-color="#a85dbd"/><stop offset="0.7053" stop-color="#a85dbd"/><stop offset="0.7085" stop-color="#a557bb"/><stop offset="0.7117" stop-color="#a557bb"/><stop offset="0.7149" stop-color="#a352b9"/><stop offset="0.7339" stop-color="#9d47b4"/><stop offset="0.7498" stop-color="#a04db6"/><stop offset="0.7657" stop-color="#a455ba"/><stop offset="0.7816" stop-color="#9d47b4"/><stop offset="0.7911" stop-color="#9638ad"/><stop offset="0.807" stop-color="#83129c"/><stop offset="0.8102" stop-color="#800c9a"/><stop offset="0.8419" stop-color="#900995"/><stop offset="0.8864" stop-color="#bd048b"/><stop offset="0.9341" stop-color="#df077e"/><stop offset="0.969" stop-color="#e90e77"/><stop offset="1" stop-color="#f11c72"/></linearGradient>
<linearGradient id="b159" gradientUnits="userSpaceOnUse" x1="60.5" x2="690" y1="0" y2="0"><stop offset="0" stop-color="#840b99"/><stop offset="0.4829" stop-color="#a10791"/><stop offset="0.5306" stop-color="#990892"/><stop offset="0.5782" stop-color="#810e9b"/><stop offset="0.6164" stop-color="#973aae"/><stop offset="0.6386" stop-color="#9f4bb6"/><stop offset="0.7053" stop-color="#a85ebd"/><stop offset="0.7117" stop-color="#a85dbd"/><stop offset="0.7149" stop-color="#a456ba"/><stop offset="0.718" stop-color="#a557bb"/><stop offset="0.7339" stop-color="#9f4ab5"/><stop offset="0.7434" stop-color="#9f4ab5"/><stop offset="0.7593" stop-color="#a251b8"/><stop offset="0.772" stop-color="#a556bb"/><stop offset="0.7879" stop-color="#9d46b3"/><stop offset="0.7975" stop-color="#9537ad"/><stop offset="0.8133" stop-color="#83119c"/><stop offset="0.8165" stop-color="#800c9a"/><stop offset="0.8483" stop-color="#900a95"/><stop offset="0.8896" stop-color="#ba058b"/><stop offset="0.9404" stop-color="#de077f"/><stop offset="0.9786" stop-color="#e90f77"/><stop offset="1" stop-color="#ef1973"/></linearGradient>
<linearGradient id="b160" gradientUnits="userSpaceOnUse" x1="60.5" x2="690" y1="0" y2="0"><stop offset="0" stop-color="#840b99"/><stop offset="0.4861" stop-color="#a10791"/><stop offset="0.5338" stop-color="#9a0892"/><stop offset="0.5814" stop-color="#810c9a"/><stop offset="0.6227" stop-color="#983caf"/><stop offset="0.645" stop-color="#9f4bb6"/><stop offset="0.6894" stop-color="#a658bb"/><stop offset="0.7117" stop-color="#a85ebd"/><stop offset="0.718" stop-color="#a85cbd"/><stop offset="0.7212" stop-color="#a455ba"/><stop offset="0.7244" stop-color="#a557bb"/><stop offset="0.7307" stop-color="#a150b8"/><stop offset="0.7466" stop-color="#9f4bb5"/><stop offset="0.7752" stop-color="#a557bb"/><stop offset="0.7847" stop-color="#a251b8"/><stop offset="0.8006" stop-color="#973baf"/><stop offset="0.8165" stop-color="#86189f"/><stop offset="0.8229" stop-color="#800d9a"/><stop offset="0.8546" stop-color="#900a95"/><stop offset="0.8928" stop-color="#b7058c"/><stop offset="0.9468" stop-color="#de077f"/><stop offset="0.9849" stop-color="#e90e77"/><stop offset="1" stop-color="#ed1575"/></linearGradient>
<linearGradient id="b161" gradientUnits="userSpaceOnUse" x1="60.5" x2="690" y1="0" y2="0"><stop offset="0" stop-color="#840b99"/><stop offset="0.4925" stop-color="#a10791"/><stop offset="0.5401" stop-color="#990892"/><stop offset="0.5878" stop-color="#810c9a"/><stop offset="0.6259" stop-color="#973aae"/><stop offset="0.6481" stop-color="#9f4ab5"/><stop offset="0.6863" stop-color="#a353b9"/><stop offset="0.7117" stop-color="#a960be"/><stop offset="0.7212" stop-color="#a960be"/><stop offset="0.7276" stop-color="#a557bb"/><stop offset="0.7339" stop-color="#a455ba"/><stop offset="0.7403" stop-color="#a150b8"/><stop offset="0.7466" stop-color="#a04cb6"/><stop offset="0.7562" stop-color="#a14eb7"/><stop offset="0.772" stop-color="#a557bb"/><stop offset="0.7847" stop-color="#a557bb"/><stop offset="0.7943" stop-color="#a04db7"/><stop offset="0.807" stop-color="#973baf"/><stop offset="0.8229" stop-color="#8619a0"/><stop offset="0.8292" stop-color="#810e9b"/><stop offset="0.8419" stop-color="#840b99"/><stop offset="0.861" stop-color="#8f0a95"/><stop offset="0.8991" stop-color="#b6058c"/><stop offset="0.9563" stop-color="#de077e"/><stop offset="0.9944" stop-color="#e90e77"/><stop offset="1" stop-color="#eb1176"/></linearGradient>
<linearGradient id="b162" gradientUnits="userSpaceOnUse" x1="60.5" x2="690" y1="0" y2="0"><stop offset="0" stop-color="#840b99"/><stop offset="0.4956" stop-color="#a10791"/><stop offset="0.5433" stop-color="#9a0892"/><stop offset="0.5941" stop-color="#800d9a"/><stop offset="0.6322" stop-color="#983caf"/><stop offset="0.6513" stop-color="#9f4ab5"/><stop offset="0.6894" stop-color="#a252b9"/><stop offset="0.7149" stop-color="#a960be"/><stop offset="0.7276" stop-color="#aa62bf"/><stop offset="0.7307" stop-color="#a75bbc"/><stop offset="0.7371" stop-color="#a454ba"/><stop offset="0.7434" stop-color="#a352b9"/><stop offset="0.753" stop-color="#a14fb7"/><stop offset="0.7816" stop-color="#a659bc"/><stop offset="0.7911" stop-color="#a557bb"/><stop offset="0.8133" stop-color="#9639ae"/><stop offset="0.8165" stop-color="#9230aa"/><stop offset="0.8356" stop-color="#810e9b"/><stop offset="0.8451" stop-color="#820c99"/><stop offset="0.8674" stop-color="#8f0a95"/><stop offset="0.8991" stop-color="#b1068d"/><stop offset="0.9563" stop-color="#db0680"/><stop offset="1" stop-color="#e90d78"/></linearGradient>
<filter id="blB" color-interpolation-filters="sRGB" x="-2%" y="-5%" width="104%" height="110%"><feGaussianBlur stdDeviation="2.2"/></filter>
<linearGradient id="cb" x1="0" x2="1" y1="0" y2="0"><stop offset="0.0" stop-color="#f0f2fc"/><stop offset="0.06" stop-color="#e0d2ec"/><stop offset="0.125" stop-color="#c294d2"/><stop offset="0.19" stop-color="#a455ba"/><stop offset="0.25" stop-color="#800c9a"/><stop offset="0.3" stop-color="#9a0892"/><stop offset="0.375" stop-color="#c0048a"/><stop offset="0.44" stop-color="#dc0680"/><stop offset="0.48" stop-color="#e80c78"/><stop offset="0.52" stop-color="#f42270"/><stop offset="0.56" stop-color="#ff3868"/><stop offset="0.625" stop-color="#ff6060"/><stop offset="0.7" stop-color="#ff7c50"/><stop offset="0.75" stop-color="#ff9a3a"/><stop offset="0.82" stop-color="#ffb028"/><stop offset="0.875" stop-color="#ffc81e"/><stop offset="0.94" stop-color="#ffe01c"/><stop offset="1.0" stop-color="#fff326"/></linearGradient>
</defs>
<rect width="685" height="917" fill="#fff"/>
<g clip-path="url(#clipA)"><g filter="url(#blA)"><rect x="63.5" y="131.7" width="625.5" height="2.6" fill="url(#a0)"/>
<rect x="63.5" y="133.7" width="625.5" height="2.6" fill="url(#a1)"/>
<rect x="63.5" y="135.7" width="625.5" height="2.6" fill="url(#a2)"/>
<rect x="63.5" y="137.7" width="625.5" height="2.6" fill="url(#a3)"/>
<rect x="63.5" y="139.7" width="625.5" height="2.6" fill="url(#a4)"/>
<rect x="63.5" y="141.7" width="625.5" height="2.6" fill="url(#a5)"/>
<rect x="63.5" y="143.7" width="625.5" height="2.6" fill="url(#a6)"/>
<rect x="63.5" y="145.7" width="625.5" height="2.6" fill="url(#a7)"/>
<rect x="63.5" y="147.7" width="625.5" height="2.6" fill="url(#a8)"/>
<rect x="63.5" y="149.7" width="625.5" height="2.6" fill="url(#a9)"/>
<rect x="63.5" y="151.7" width="625.5" height="2.6" fill="url(#a10)"/>
<rect x="63.5" y="153.7" width="625.5" height="2.6" fill="url(#a11)"/>
<rect x="63.5" y="155.7" width="625.5" height="2.6" fill="url(#a12)"/>
<rect x="63.5" y="157.7" width="625.5" height="2.6" fill="url(#a13)"/>
<rect x="63.5" y="159.7" width="625.5" height="2.6" fill="url(#a14)"/>
<rect x="63.5" y="161.7" width="625.5" height="2.6" fill="url(#a15)"/>
<rect x="63.5" y="163.7" width="625.5" height="2.6" fill="url(#a16)"/>
<rect x="63.5" y="165.7" width="625.5" height="2.6" fill="url(#a17)"/>
<rect x="63.5" y="167.7" width="625.5" height="2.6" fill="url(#a18)"/>
<rect x="63.5" y="169.7" width="625.5" height="2.6" fill="url(#a19)"/>
<rect x="63.5" y="171.7" width="625.5" height="2.6" fill="url(#a20)"/>
<rect x="63.5" y="173.7" width="625.5" height="2.6" fill="url(#a21)"/>
<rect x="63.5" y="175.7" width="625.5" height="2.6" fill="url(#a22)"/>
<rect x="63.5" y="177.7" width="625.5" height="2.6" fill="url(#a23)"/>
<rect x="63.5" y="179.7" width="625.5" height="2.6" fill="url(#a24)"/>
<rect x="63.5" y="181.7" width="625.5" height="2.6" fill="url(#a25)"/>
<rect x="63.5" y="183.7" width="625.5" height="2.6" fill="url(#a26)"/>
<rect x="63.5" y="185.7" width="625.5" height="2.6" fill="url(#a27)"/>
<rect x="63.5" y="187.7" width="625.5" height="2.6" fill="url(#a28)"/>
<rect x="63.5" y="189.7" width="625.5" height="2.6" fill="url(#a29)"/>
<rect x="63.5" y="191.7" width="625.5" height="2.6" fill="url(#a30)"/>
<rect x="63.5" y="193.7" width="625.5" height="2.6" fill="url(#a31)"/>
<rect x="63.5" y="195.7" width="625.5" height="2.6" fill="url(#a32)"/>
<rect x="63.5" y="197.7" width="625.5" height="2.6" fill="url(#a33)"/>
<rect x="63.5" y="199.7" width="625.5" height="2.6" fill="url(#a34)"/>
<rect x="63.5" y="201.7" width="625.5" height="2.6" fill="url(#a35)"/>
<rect x="63.5" y="203.7" width="625.5" height="2.6" fill="url(#a36)"/>
<rect x="63.5" y="205.7" width="625.5" height="2.6" fill="url(#a37)"/>
<rect x="63.5" y="207.7" width="625.5" height="2.6" fill="url(#a38)"/>
<rect x="63.5" y="209.7" width="625.5" height="2.6" fill="url(#a39)"/>
<rect x="63.5" y="211.7" width="625.5" height="2.6" fill="url(#a40)"/>
<rect x="63.5" y="213.7" width="625.5" height="2.6" fill="url(#a41)"/>
<rect x="63.5" y="215.7" width="625.5" height="2.6" fill="url(#a42)"/>
<rect x="63.5" y="217.7" width="625.5" height="2.6" fill="url(#a43)"/>
<rect x="63.5" y="219.7" width="625.5" height="2.6" fill="url(#a44)"/>
<rect x="63.5" y="221.7" width="625.5" height="2.6" fill="url(#a45)"/>
<rect x="63.5" y="223.7" width="625.5" height="2.6" fill="url(#a46)"/>
<rect x="63.5" y="225.7" width="625.5" height="2.6" fill="url(#a47)"/>
<rect x="63.5" y="227.7" width="625.5" height="2.6" fill="url(#a48)"/>
<rect x="63.5" y="229.7" width="625.5" height="2.6" fill="url(#a49)"/>
<rect x="63.5" y="231.7" width="625.5" height="2.6" fill="url(#a50)"/>
<rect x="63.5" y="233.7" width="625.5" height="2.6" fill="url(#a51)"/>
<rect x="63.5" y="235.7" width="625.5" height="2.6" fill="url(#a52)"/>
<rect x="63.5" y="237.7" width="625.5" height="2.6" fill="url(#a53)"/>
<rect x="63.5" y="239.7" width="625.5" height="2.6" fill="url(#a54)"/>
<rect x="63.5" y="241.7" width="625.5" height="2.6" fill="url(#a55)"/>
<rect x="63.5" y="243.7" width="625.5" height="2.6" fill="url(#a56)"/>
<rect x="63.5" y="245.7" width="625.5" height="2.6" fill="url(#a57)"/>
<rect x="63.5" y="247.7" width="625.5" height="2.6" fill="url(#a58)"/>
<rect x="63.5" y="249.7" width="625.5" height="2.6" fill="url(#a59)"/>
<rect x="63.5" y="251.7" width="625.5" height="2.6" fill="url(#a60)"/>
<rect x="63.5" y="253.7" width="625.5" height="2.6" fill="url(#a61)"/>
<rect x="63.5" y="255.7" width="625.5" height="2.6" fill="url(#a62)"/>
<rect x="63.5" y="257.7" width="625.5" height="2.6" fill="url(#a63)"/>
<rect x="63.5" y="259.7" width="625.5" height="2.6" fill="url(#a64)"/>
<rect x="63.5" y="261.7" width="625.5" height="1.9" fill="url(#a65)"/></g></g>
<g clip-path="url(#clipA)"><path d="M97 144.5C97.5 145.2 98.8 146.8 100 149C101.2 151.2 102.5 154.9 104.5 158C106.5 161.1 108.8 164.8 111.7 167.8C114.6 170.8 118.1 173.7 122 176C125.9 178.3 128.9 179.5 135 181.8C141.1 184.1 150.7 187.8 158.5 190C166.3 192.2 172.4 193.6 181.8 195.3C191.2 197 201.7 198 215 200.4C228.3 202.8 246.1 207 261.7 209.8C277.3 212.6 292.9 215 308.5 217.4C324.1 219.8 343.9 222.5 355 224C366.1 225.5 365.6 225.3 375 226.4C384.4 227.5 397.8 229 411.7 230.5C425.6 232 442.9 233.9 458.5 235.6C474.1 237.3 494.1 239.5 505.2 240.8C516.3 242.1 517.5 242 525 243.2C532.5 244.4 542.2 246.1 550 248C557.8 249.9 565.3 252.2 572 254.5C578.7 256.8 587 260.8 590 262" fill="none" stroke="url(#bandg)" stroke-width="4.2" filter="url(#blC)"/></g>
<polygon points="71.5,140.7 109.1,140.7 71.5,145.6" fill="#add8e6"/>
<polygon points="109.1,140.7 114.8,128.6 140.4,127.1 151.8,118.3 185.3,114.5 261.6,113 337.8,109.2 433.1,103.6 528.4,94.8 604.7,88.4 680.9,82.7 681,140.7 109.1,140.7" fill="#fdf6de"/>
<g clip-path="url(#axA)" fill="#000"><polygon points="63.5,157.9 69.1,152.2 66.6,151.4 77.6,145.4 71.7,156.5 70.8,153.9 65.2,159.6"/>
<polygon points="62.7,168.1 69.1,163.3 66.7,162.1 78.5,157.8 71.1,167.9 70.6,165.2 64.2,170"/>
<polygon points="61.9,177.5 69.2,174.3 67.1,172.6 79.6,171 70.1,179.2 70.2,176.5 62.9,179.7"/>
<polygon points="62.1,183 69.9,184.7 69.2,182.1 80.2,188.2 67.7,189.1 69.4,187.1 61.5,185.3"/>
<polygon points="62.1,194.4 69.9,196.1 69.2,193.5 80.2,199.6 67.7,200.5 69.4,198.4 61.5,196.7"/>
<polygon points="62.1,205.7 69.9,207.4 69.2,204.8 80.2,210.9 67.7,211.9 69.4,209.8 61.5,208.1"/>
<polygon points="62.1,217.1 69.9,218.8 69.2,216.2 80.2,222.3 67.7,223.2 69.4,221.2 61.5,219.4"/>
<polygon points="62.1,228.5 69.9,230.2 69.2,227.6 80.2,233.7 67.7,234.6 69.4,232.5 61.5,230.8"/>
<polygon points="62.1,239.8 69.9,241.6 69.2,239 80.2,245 67.7,246 69.4,243.9 61.5,242.2"/>
<polygon points="116.7,146.4 109.7,142.4 109.6,145.1 101,136 113.1,138.9 110.9,140.4 117.8,144.3"/>
<polygon points="113.8,160.3 109,153.9 107.8,156.3 103.5,144.5 113.5,152 110.9,152.5 115.7,158.9"/>
<polygon points="109,172.9 108.1,165 105.8,166.5 108,154.1 113,165.6 110.5,164.7 111.4,172.6"/>
<polygon points="99.8,173.1 107.8,173.5 106.7,171.1 118.5,175.3 106.3,178.3 107.6,175.9 99.7,175.5"/>
<polygon points="100.2,183 108,184.7 107.3,182.1 118.3,188.2 105.8,189.1 107.5,187.1 99.7,185.3"/>
<polygon points="100.2,194.4 108,196.1 107.3,193.5 118.3,199.6 105.8,200.5 107.5,198.4 99.7,196.7"/>
<polygon points="100.2,205.7 108,207.4 107.3,204.8 118.3,210.9 105.8,211.9 107.5,209.8 99.7,208.1"/>
<polygon points="100.2,217.1 108,218.8 107.3,216.2 118.3,222.3 105.8,223.2 107.5,221.2 99.7,219.4"/>
<polygon points="100.2,228.5 108,230.2 107.3,227.6 118.3,233.7 105.8,234.6 107.5,232.5 99.7,230.8"/>
<polygon points="100.2,239.8 108,241.6 107.3,239 118.3,245 105.8,246 107.5,243.9 99.7,242.2"/>
<polygon points="156.5,142.6 148.5,142 149.5,144.5 137.8,140 150.1,137.3 148.7,139.6 156.7,140.3"/>
<polygon points="156.4,154.4 148.5,153.4 149.4,156 137.9,151 150.2,148.8 148.8,151 156.7,152"/>
<polygon points="156.2,166.5 148.4,164.9 149.1,167.5 138,161.6 150.5,160.4 148.8,162.5 156.7,164.1"/>
<polygon points="155.4,179.5 148.1,176.5 148.2,179.1 138.5,171.2 151,172.5 149,174.2 156.4,177.3"/>
<polygon points="141,193.4 145.4,186.7 142.8,186.4 152.4,178.3 148.8,190.3 147.4,188 143,194.7"/>
<polygon points="138,195.4 145.9,196.2 145,193.7 156.6,198.5 144.3,200.9 145.7,198.6 137.7,197.8"/>
<polygon points="138,206.8 145.9,207.6 145,205.1 156.6,209.9 144.3,212.2 145.7,210 137.7,209.2"/>
<polygon points="138,218.2 145.9,219 145,216.4 156.6,221.2 144.3,223.6 145.7,221.3 137.7,220.5"/>
<polygon points="138,229.5 145.9,230.3 145,227.8 156.6,232.6 144.3,235 145.7,232.7 137.7,231.9"/>
<polygon points="138,240.9 145.9,241.7 145,239.2 156.6,244 144.3,246.4 145.7,244.1 137.7,243.3"/>
<polygon points="194.6,142.6 186.6,142 187.6,144.5 176,140 188.2,137.3 186.8,139.6 194.8,140.3"/>
<polygon points="194.6,154 186.6,153.4 187.6,155.9 176,151.3 188.2,148.7 186.8,151 194.8,151.6"/>
<polygon points="194.6,165.4 186.6,164.7 187.6,167.2 176,162.7 188.2,160.1 186.8,162.4 194.8,163"/>
<polygon points="194.6,176.9 186.6,176.1 187.6,178.7 176,173.9 188.3,171.5 186.9,173.8 194.8,174.6"/>
<polygon points="193.7,190.7 186.2,187.8 186.5,190.5 176.6,182.8 189.1,183.8 187.1,185.6 194.5,188.5"/>
<polygon points="178.1,203.7 183.5,197.8 180.9,197.1 191.6,190.6 186.3,201.9 185.3,199.4 179.9,205.3"/>
<polygon points="175.9,207.7 183.9,207.7 182.7,205.3 194.7,208.9 182.7,212.5 183.9,210.1 175.9,210.1"/>
<polygon points="175.9,219.1 183.9,219.1 182.7,216.7 194.7,220.3 182.7,223.9 183.9,221.5 175.9,221.5"/>
<polygon points="175.9,230.5 183.9,230.5 182.7,228.1 194.7,231.7 182.7,235.3 183.9,232.9 175.9,232.9"/>
<polygon points="175.9,241.8 183.9,241.8 182.7,239.4 194.7,243 182.7,246.6 183.9,244.2 175.9,244.2"/>
<polygon points="232.8,142.1 224.8,141.9 226,144.4 214.1,140.5 226.1,137.2 224.9,139.5 232.9,139.7"/>
<polygon points="232.8,153.5 224.8,153.3 226,155.7 214.1,151.9 226.1,148.5 224.9,150.9 232.9,151.1"/>
<polygon points="232.8,164.8 224.8,164.7 226,167.1 214.1,163.3 226.1,159.9 224.9,162.3 232.9,162.4"/>
<polygon points="232.8,176.2 224.8,176 226,178.5 214.1,174.6 226.1,171.3 224.9,173.6 232.9,173.8"/>
<polygon points="232.8,187.6 224.8,187.4 226,189.8 214.1,186 226.1,182.6 224.9,185 232.9,185.2"/>
<polygon points="232.3,201 224.5,199.1 225.1,201.7 214.3,195.3 226.8,194.7 225.1,196.7 232.9,198.6"/>
<polygon points="214,209.6 221.8,208 220.2,205.9 232.7,207 221.6,213 222.3,210.4 214.5,212"/>
<polygon points="214.1,219.1 222.1,219.1 220.9,216.7 232.9,220.3 220.9,223.9 222.1,221.5 214.1,221.5"/>
<polygon points="214.1,230.5 222.1,230.5 220.9,228.1 232.9,231.7 220.9,235.3 222.1,232.9 214.1,232.9"/>
<polygon points="214.1,241.8 222.1,241.8 220.9,239.4 232.9,243 220.9,246.6 222.1,244.2 214.1,244.2"/>
<polygon points="271,142.1 263,141.9 264.1,144.4 252.2,140.5 264.3,137.2 263,139.5 271,139.7"/>
<polygon points="271,153.5 263,153.3 264.1,155.7 252.2,151.9 264.3,148.5 263,150.9 271,151.1"/>
<polygon points="271,164.8 263,164.7 264.1,167.1 252.2,163.3 264.3,159.9 263,162.3 271,162.4"/>
<polygon points="271,176.2 263,176 264.1,178.5 252.2,174.6 264.3,171.3 263,173.6 271,173.8"/>
<polygon points="271,187.6 263,187.4 264.1,189.8 252.2,186 264.3,182.6 263,185 271,185.2"/>
<polygon points="271,198.9 263,198.8 264.1,201.2 252.2,197.4 264.3,194 263,196.4 271,196.5"/>
<polygon points="269.8,213.6 262.4,210.6 262.6,213.2 252.9,205.3 265.4,206.6 263.3,208.3 270.7,211.4"/>
<polygon points="252.2,219.1 260.2,219.1 259,216.7 271,220.3 259,223.9 260.2,221.5 252.2,221.5"/>
<polygon points="252.2,230.5 260.2,230.5 259,228.1 271,231.7 259,235.3 260.2,232.9 252.2,232.9"/>
<polygon points="252.2,241.8 260.2,241.8 259,239.4 271,243 259,246.6 260.2,244.2 252.2,244.2"/>
<polygon points="309.1,142.1 301.1,141.9 302.2,144.4 290.3,140.5 302.4,137.2 301.1,139.5 309.1,139.7"/>
<polygon points="309.1,153.5 301.1,153.3 302.2,155.7 290.3,151.9 302.4,148.5 301.1,150.9 309.1,151.1"/>
<polygon points="309.1,164.8 301.1,164.7 302.2,167.1 290.3,163.3 302.4,159.9 301.1,162.3 309.1,162.4"/>
<polygon points="309.1,176.2 301.1,176 302.2,178.5 290.3,174.6 302.4,171.3 301.1,173.6 309.1,173.8"/>
<polygon points="309.1,187.6 301.1,187.4 302.2,189.8 290.3,186 302.4,182.6 301.1,185 309.1,185.2"/>
<polygon points="309.1,198.9 301.1,198.8 302.2,201.2 290.3,197.4 302.4,194 301.1,196.4 309.1,196.5"/>
<polygon points="309.1,210.3 301.1,210.1 302.2,212.6 290.3,208.7 302.4,205.4 301.1,207.7 309.1,207.9"/>
<polygon points="290.2,220.8 298.1,219.4 296.5,217.2 308.9,218.6 297.8,224.3 298.5,221.7 290.7,223.2"/>
<polygon points="290.3,230.5 298.3,230.5 297.1,228.1 309.1,231.7 297.1,235.3 298.3,232.9 290.3,232.9"/>
<polygon points="290.3,241.8 298.3,241.8 297.1,239.4 309.1,243 297.1,246.6 298.3,244.2 290.3,244.2"/>
<polygon points="347.2,142.1 339.2,141.9 340.3,144.4 328.4,140.5 340.5,137.2 339.2,139.5 347.2,139.7"/>
<polygon points="347.2,153.5 339.2,153.3 340.3,155.7 328.4,151.9 340.5,148.5 339.2,150.9 347.2,151.1"/>
<polygon points="347.2,164.8 339.2,164.7 340.3,167.1 328.4,163.3 340.5,159.9 339.2,162.3 347.2,162.4"/>
<polygon points="347.2,176.2 339.2,176 340.3,178.5 328.4,174.6 340.5,171.3 339.2,173.6 347.2,173.8"/>
<polygon points="347.2,187.6 339.2,187.4 340.3,189.8 328.4,186 340.5,182.6 339.2,185 347.2,185.2"/>
<polygon points="347.2,198.9 339.2,198.8 340.3,201.2 328.4,197.4 340.5,194 339.2,196.4 347.2,196.5"/>
<polygon points="347.2,210.3 339.2,210.1 340.3,212.6 328.4,208.7 340.5,205.4 339.2,207.7 347.2,207.9"/>
<polygon points="346.2,224.8 338.7,221.9 338.9,224.6 329.1,216.9 341.5,217.9 339.6,219.7 347,222.6"/>
<polygon points="328.4,230.5 336.4,230.5 335.2,228.1 347.2,231.7 335.2,235.3 336.4,232.9 328.4,232.9"/>
<polygon points="328.4,241.8 336.4,241.8 335.2,239.4 347.2,243 335.2,246.6 336.4,244.2 328.4,244.2"/>
<polygon points="385.3,142.1 377.3,141.9 378.5,144.4 366.5,140.5 378.6,137.2 377.4,139.5 385.4,139.7"/>
<polygon points="385.3,153.5 377.3,153.3 378.5,155.7 366.5,151.9 378.6,148.5 377.4,150.9 385.4,151.1"/>
<polygon points="385.3,164.8 377.3,164.7 378.5,167.1 366.5,163.3 378.6,159.9 377.4,162.3 385.4,162.4"/>
<polygon points="385.3,176.2 377.3,176 378.5,178.5 366.5,174.6 378.6,171.3 377.4,173.6 385.4,173.8"/>
<polygon points="385.3,187.6 377.3,187.4 378.5,189.8 366.5,186 378.6,182.6 377.4,185 385.4,185.2"/>
<polygon points="385.3,198.9 377.3,198.8 378.5,201.2 366.5,197.4 378.6,194 377.4,196.4 385.4,196.5"/>
<polygon points="385.3,210.3 377.3,210.1 378.5,212.6 366.5,208.7 378.6,205.4 377.4,207.7 385.4,207.9"/>
<polygon points="385.3,221.7 377.3,221.5 378.5,223.9 366.5,220.1 378.6,216.7 377.4,219.1 385.4,219.3"/>
<polygon points="366.5,232.6 374.3,230.8 372.6,228.7 385.1,229.6 374.2,235.7 374.8,233.1 367,234.9"/>
<polygon points="366.5,241.8 374.5,241.8 373.3,239.4 385.3,243 373.3,246.6 374.5,244.2 366.5,244.2"/>
<polygon points="423.4,142.1 415.4,141.9 416.6,144.4 404.7,140.5 416.7,137.2 415.5,139.5 423.5,139.7"/>
<polygon points="423.4,153.5 415.4,153.3 416.6,155.7 404.7,151.9 416.7,148.5 415.5,150.9 423.5,151.1"/>
<polygon points="423.4,164.8 415.4,164.7 416.6,167.1 404.7,163.3 416.7,159.9 415.5,162.3 423.5,162.4"/>
<polygon points="423.4,176.2 415.4,176 416.6,178.5 404.7,174.6 416.7,171.3 415.5,173.6 423.5,173.8"/>
<polygon points="423.4,187.6 415.4,187.4 416.6,189.8 404.7,186 416.7,182.6 415.5,185 423.5,185.2"/>
<polygon points="423.4,198.9 415.4,198.8 416.6,201.2 404.7,197.4 416.7,194 415.5,196.4 423.5,196.5"/>
<polygon points="423.4,210.3 415.4,210.1 416.6,212.6 404.7,208.7 416.7,205.4 415.5,207.7 423.5,207.9"/>
<polygon points="423.4,221.7 415.4,221.5 416.6,223.9 404.7,220.1 416.7,216.7 415.5,219.1 423.5,219.3"/>
<polygon points="419,239.8 414,233.5 412.9,235.9 408.2,224.3 418.5,231.5 415.9,232 420.8,238.3"/>
<polygon points="404.7,241.8 412.7,241.8 411.5,239.4 423.5,243 411.5,246.6 412.7,244.2 404.7,244.2"/>
<polygon points="461.6,142.1 453.6,141.9 454.7,144.4 442.8,140.5 454.9,137.2 453.6,139.5 461.6,139.7"/>
<polygon points="461.6,153.5 453.6,153.3 454.7,155.7 442.8,151.9 454.9,148.5 453.6,150.9 461.6,151.1"/>
<polygon points="461.6,164.8 453.6,164.7 454.7,167.1 442.8,163.3 454.9,159.9 453.6,162.3 461.6,162.4"/>
<polygon points="461.6,176.2 453.6,176 454.7,178.5 442.8,174.6 454.9,171.3 453.6,173.6 461.6,173.8"/>
<polygon points="461.6,187.6 453.6,187.4 454.7,189.8 442.8,186 454.9,182.6 453.6,185 461.6,185.2"/>
<polygon points="461.6,198.9 453.6,198.8 454.7,201.2 442.8,197.4 454.9,194 453.6,196.4 461.6,196.5"/>
<polygon points="461.6,210.3 453.6,210.1 454.7,212.6 442.8,208.7 454.9,205.4 453.6,207.7 461.6,207.9"/>
<polygon points="461.6,221.7 453.6,221.5 454.7,223.9 442.8,220.1 454.9,216.7 453.6,219.1 461.6,219.3"/>
<polygon points="460.9,235.4 453.2,233.2 453.7,235.8 443.1,229.1 455.7,228.9 453.9,230.9 461.6,233"/>
<polygon points="442.8,241.8 450.8,241.8 449.6,239.4 461.6,243 449.6,246.6 450.8,244.2 442.8,244.2"/>
<polygon points="499.7,142.1 491.7,141.9 492.8,144.4 480.9,140.5 493,137.2 491.7,139.5 499.7,139.7"/>
<polygon points="499.7,153.5 491.7,153.3 492.8,155.7 480.9,151.9 493,148.5 491.7,150.9 499.7,151.1"/>
<polygon points="499.7,164.8 491.7,164.7 492.8,167.1 480.9,163.3 493,159.9 491.7,162.3 499.7,162.4"/>
<polygon points="499.7,176.2 491.7,176 492.8,178.5 480.9,174.6 493,171.3 491.7,173.6 499.7,173.8"/>
<polygon points="499.7,187.6 491.7,187.4 492.8,189.8 480.9,186 493,182.6 491.7,185 499.7,185.2"/>
<polygon points="499.7,198.9 491.7,198.8 492.8,201.2 480.9,197.4 493,194 491.7,196.4 499.7,196.5"/>
<polygon points="499.7,210.3 491.7,210.1 492.8,212.6 480.9,208.7 493,205.4 491.7,207.7 499.7,207.9"/>
<polygon points="499.7,221.7 491.7,221.5 492.8,223.9 480.9,220.1 493,216.7 491.7,219.1 499.7,219.3"/>
<polygon points="499.7,233 491.7,232.9 492.8,235.3 480.9,231.5 493,228.1 491.7,230.5 499.7,230.6"/>
<polygon points="480.9,243.9 488.7,242.2 487,240.1 499.5,241 488.6,247.1 489.2,244.5 481.4,246.3"/>
<polygon points="537.8,142.1 529.8,141.9 530.9,144.4 519,140.5 531.1,137.2 529.8,139.5 537.8,139.7"/>
<polygon points="537.8,153.5 529.8,153.3 530.9,155.7 519,151.9 531.1,148.5 529.8,150.9 537.8,151.1"/>
<polygon points="537.8,164.8 529.8,164.7 530.9,167.1 519,163.3 531.1,159.9 529.8,162.3 537.8,162.4"/>
<polygon points="537.8,176.2 529.8,176 530.9,178.5 519,174.6 531.1,171.3 529.8,173.6 537.8,173.8"/>
<polygon points="537.8,187.6 529.8,187.4 530.9,189.8 519,186 531.1,182.6 529.8,185 537.8,185.2"/>
<polygon points="537.8,198.9 529.8,198.8 530.9,201.2 519,197.4 531.1,194 529.8,196.4 537.8,196.5"/>
<polygon points="537.8,210.3 529.8,210.1 530.9,212.6 519,208.7 531.1,205.4 529.8,207.7 537.8,207.9"/>
<polygon points="537.8,221.7 529.8,221.5 530.9,223.9 519,220.1 531.1,216.7 529.8,219.1 537.8,219.3"/>
<polygon points="537.8,233 529.8,232.9 530.9,235.3 519,231.5 531.1,228.1 529.8,230.5 537.8,230.6"/>
<polygon points="536.1,248.5 529.1,244.7 529,247.4 520.1,238.6 532.4,241.1 530.2,242.6 537.3,246.4"/>
<polygon points="575.9,142.1 567.9,141.9 569.1,144.4 557.1,140.5 569.2,137.2 568,139.5 576,139.7"/>
<polygon points="575.9,153.5 567.9,153.3 569.1,155.7 557.1,151.9 569.2,148.5 568,150.9 576,151.1"/>
<polygon points="575.9,164.8 567.9,164.7 569.1,167.1 557.1,163.3 569.2,159.9 568,162.3 576,162.4"/>
<polygon points="575.9,176.2 567.9,176 569.1,178.5 557.1,174.6 569.2,171.3 568,173.6 576,173.8"/>
<polygon points="575.9,187.6 567.9,187.4 569.1,189.8 557.1,186 569.2,182.6 568,185 576,185.2"/>
<polygon points="575.9,198.9 567.9,198.8 569.1,201.2 557.1,197.4 569.2,194 568,196.4 576,196.5"/>
<polygon points="575.9,210.3 567.9,210.1 569.1,212.6 557.1,208.7 569.2,205.4 568,207.7 576,207.9"/>
<polygon points="575.9,221.7 567.9,221.5 569.1,223.9 557.1,220.1 569.2,216.7 568,219.1 576,219.3"/>
<polygon points="575.9,233 567.9,232.9 569.1,235.3 557.1,231.5 569.2,228.1 568,230.5 576,230.6"/>
<polygon points="574.9,247.5 567.4,244.7 567.7,247.3 557.8,239.6 570.3,240.6 568.3,242.4 575.7,245.3"/>
<polygon points="614,142.1 606,141.9 607.2,144.4 595.3,140.5 607.3,137.2 606.1,139.5 614.1,139.7"/>
<polygon points="614,153.5 606,153.3 607.2,155.7 595.3,151.9 607.3,148.5 606.1,150.9 614.1,151.1"/>
<polygon points="614,164.8 606,164.7 607.2,167.1 595.3,163.3 607.3,159.9 606.1,162.3 614.1,162.4"/>
<polygon points="614,176.2 606,176 607.2,178.5 595.3,174.6 607.3,171.3 606.1,173.6 614.1,173.8"/>
<polygon points="614,187.6 606,187.4 607.2,189.8 595.3,186 607.3,182.6 606.1,185 614.1,185.2"/>
<polygon points="614,198.9 606,198.8 607.2,201.2 595.3,197.4 607.3,194 606.1,196.4 614.1,196.5"/>
<polygon points="614,210.3 606,210.1 607.2,212.6 595.3,208.7 607.3,205.4 606.1,207.7 614.1,207.9"/>
<polygon points="614,221.7 606,221.5 607.2,223.9 595.3,220.1 607.3,216.7 606.1,219.1 614.1,219.3"/>
<polygon points="614,233 606,232.9 607.2,235.3 595.3,231.5 607.3,228.1 606.1,230.5 614.1,230.6"/>
<polygon points="614,244.4 606,244.3 607.2,246.7 595.3,242.8 607.3,239.5 606.1,241.9 614.1,242"/>
<polygon points="652.2,142.1 644.2,141.9 645.3,144.4 633.4,140.5 645.5,137.2 644.2,139.5 652.2,139.7"/>
<polygon points="652.2,153.5 644.2,153.3 645.3,155.7 633.4,151.9 645.5,148.5 644.2,150.9 652.2,151.1"/>
<polygon points="652.2,164.8 644.2,164.7 645.3,167.1 633.4,163.3 645.5,159.9 644.2,162.3 652.2,162.4"/>
<polygon points="652.2,176.2 644.2,176 645.3,178.5 633.4,174.6 645.5,171.3 644.2,173.6 652.2,173.8"/>
<polygon points="652.2,187.6 644.2,187.4 645.3,189.8 633.4,186 645.5,182.6 644.2,185 652.2,185.2"/>
<polygon points="652.2,198.9 644.2,198.8 645.3,201.2 633.4,197.4 645.5,194 644.2,196.4 652.2,196.5"/>
<polygon points="652.2,210.3 644.2,210.1 645.3,212.6 633.4,208.7 645.5,205.4 644.2,207.7 652.2,207.9"/>
<polygon points="652.2,221.7 644.2,221.5 645.3,223.9 633.4,220.1 645.5,216.7 644.2,219.1 652.2,219.3"/>
<polygon points="652.2,233 644.2,232.9 645.3,235.3 633.4,231.5 645.5,228.1 644.2,230.5 652.2,230.6"/>
<polygon points="652.2,244.4 644.2,244.3 645.3,246.7 633.4,242.8 645.5,239.5 644.2,241.9 652.2,242"/>
<polygon points="690.3,142.1 682.3,141.9 683.4,144.4 671.5,140.5 683.6,137.2 682.3,139.5 690.3,139.7"/>
<polygon points="690.3,153.5 682.3,153.3 683.4,155.7 671.5,151.9 683.6,148.5 682.3,150.9 690.3,151.1"/>
<polygon points="690.3,164.8 682.3,164.7 683.4,167.1 671.5,163.3 683.6,159.9 682.3,162.3 690.3,162.4"/>
<polygon points="690.3,176.2 682.3,176 683.4,178.5 671.5,174.6 683.6,171.3 682.3,173.6 690.3,173.8"/>
<polygon points="690.3,187.6 682.3,187.4 683.4,189.8 671.5,186 683.6,182.6 682.3,185 690.3,185.2"/>
<polygon points="690.3,198.9 682.3,198.8 683.4,201.2 671.5,197.4 683.6,194 682.3,196.4 690.3,196.5"/>
<polygon points="690.3,210.3 682.3,210.1 683.4,212.6 671.5,208.7 683.6,205.4 682.3,207.7 690.3,207.9"/>
<polygon points="690.3,221.7 682.3,221.5 683.4,223.9 671.5,220.1 683.6,216.7 682.3,219.1 690.3,219.3"/>
<polygon points="690.3,233 682.3,232.9 683.4,235.3 671.5,231.5 683.6,228.1 682.3,230.5 690.3,230.6"/>
<polygon points="690.3,244.4 682.3,244.3 683.4,246.7 671.5,242.8 683.6,239.5 682.3,241.9 690.3,242"/></g>
<polygon fill="url(#wa0)" points="234.4,163.3 179.5,159 180,153.3 156.2,162.2 178.3,174.7 178.7,169 233.6,173.3"/>
<polygon fill="url(#wa1)" points="139.5,187.3 124.2,178.6 126.1,175.1 113.6,174.9 120.2,185.5 122.2,182.1 137.5,190.7"/>
<polygon fill="url(#wa2)" points="93,227.3 119,227.3 119,230.8 130.5,225 119,219.2 119,222.7 93,222.7"/>
<polygon fill="url(#wa3)" points="670,191.9 606.9,191.9 606.9,186.8 592.4,194.3 606.9,201.8 606.9,196.8 670,196.8"/>
<g clip-path="url(#axA)" fill="none" stroke="#000" stroke-linejoin="round">
<path d="M71.5 140.7L681 140.7" stroke-width="2.4"/>
<path d="M71 145.6L109.1 140.7L114.8 128.6L140.4 127.1L151.8 118.3L185.3 114.5L261.6 113L337.8 109.2L433.1 103.6L528.4 94.8L604.7 88.4L680.9 82.7" stroke-width="2.5"/>
</g>
<g clip-path="url(#clipB)"><g filter="url(#blB)"><rect x="60.5" y="448.5" width="629.5" height="2.6" fill="url(#b0)"/>
<rect x="60.5" y="450.5" width="629.5" height="2.6" fill="url(#b1)"/>
<rect x="60.5" y="452.5" width="629.5" height="2.6" fill="url(#b2)"/>
<rect x="60.5" y="454.5" width="629.5" height="2.6" fill="url(#b3)"/>
<rect x="60.5" y="456.5" width="629.5" height="2.6" fill="url(#b4)"/>
<rect x="60.5" y="458.5" width="629.5" height="2.6" fill="url(#b5)"/>
<rect x="60.5" y="460.5" width="629.5" height="2.6" fill="url(#b6)"/>
<rect x="60.5" y="462.5" width="629.5" height="2.6" fill="url(#b7)"/>
<rect x="60.5" y="464.5" width="629.5" height="2.6" fill="url(#b8)"/>
<rect x="60.5" y="466.5" width="629.5" height="2.6" fill="url(#b9)"/>
<rect x="60.5" y="468.5" width="629.5" height="2.6" fill="url(#b10)"/>
<rect x="60.5" y="470.5" width="629.5" height="2.6" fill="url(#b11)"/>
<rect x="60.5" y="472.5" width="629.5" height="2.6" fill="url(#b12)"/>
<rect x="60.5" y="474.5" width="629.5" height="2.6" fill="url(#b13)"/>
<rect x="60.5" y="476.5" width="629.5" height="2.6" fill="url(#b14)"/>
<rect x="60.5" y="478.5" width="629.5" height="2.6" fill="url(#b15)"/>
<rect x="60.5" y="480.5" width="629.5" height="2.6" fill="url(#b16)"/>
<rect x="60.5" y="482.5" width="629.5" height="2.6" fill="url(#b17)"/>
<rect x="60.5" y="484.5" width="629.5" height="2.6" fill="url(#b18)"/>
<rect x="60.5" y="486.5" width="629.5" height="2.6" fill="url(#b19)"/>
<rect x="60.5" y="488.5" width="629.5" height="2.6" fill="url(#b20)"/>
<rect x="60.5" y="490.5" width="629.5" height="2.6" fill="url(#b21)"/>
<rect x="60.5" y="492.5" width="629.5" height="2.6" fill="url(#b22)"/>
<rect x="60.5" y="494.5" width="629.5" height="2.6" fill="url(#b23)"/>
<rect x="60.5" y="496.5" width="629.5" height="2.6" fill="url(#b24)"/>
<rect x="60.5" y="498.5" width="629.5" height="2.6" fill="url(#b25)"/>
<rect x="60.5" y="500.5" width="629.5" height="2.6" fill="url(#b26)"/>
<rect x="60.5" y="502.5" width="629.5" height="2.6" fill="url(#b27)"/>
<rect x="60.5" y="504.5" width="629.5" height="2.6" fill="url(#b28)"/>
<rect x="60.5" y="506.5" width="629.5" height="2.6" fill="url(#b29)"/>
<rect x="60.5" y="508.5" width="629.5" height="2.6" fill="url(#b30)"/>
<rect x="60.5" y="510.5" width="629.5" height="2.6" fill="url(#b31)"/>
<rect x="60.5" y="512.5" width="629.5" height="2.6" fill="url(#b32)"/>
<rect x="60.5" y="514.5" width="629.5" height="2.6" fill="url(#b33)"/>
<rect x="60.5" y="516.5" width="629.5" height="2.6" fill="url(#b34)"/>
<rect x="60.5" y="518.5" width="629.5" height="2.6" fill="url(#b35)"/>
<rect x="60.5" y="520.5" width="629.5" height="2.6" fill="url(#b36)"/>
<rect x="60.5" y="522.5" width="629.5" height="2.6" fill="url(#b37)"/>
<rect x="60.5" y="524.5" width="629.5" height="2.6" fill="url(#b38)"/>
<rect x="60.5" y="526.5" width="629.5" height="2.6" fill="url(#b39)"/>
<rect x="60.5" y="528.5" width="629.5" height="2.6" fill="url(#b40)"/>
<rect x="60.5" y="530.5" width="629.5" height="2.6" fill="url(#b41)"/>
<rect x="60.5" y="532.5" width="629.5" height="2.6" fill="url(#b42)"/>
<rect x="60.5" y="534.5" width="629.5" height="2.6" fill="url(#b43)"/>
<rect x="60.5" y="536.5" width="629.5" height="2.6" fill="url(#b44)"/>
<rect x="60.5" y="538.5" width="629.5" height="2.6" fill="url(#b45)"/>
<rect x="60.5" y="540.5" width="629.5" height="2.6" fill="url(#b46)"/>
<rect x="60.5" y="542.5" width="629.5" height="2.6" fill="url(#b47)"/>
<rect x="60.5" y="544.5" width="629.5" height="2.6" fill="url(#b48)"/>
<rect x="60.5" y="546.5" width="629.5" height="2.6" fill="url(#b49)"/>
<rect x="60.5" y="548.5" width="629.5" height="2.6" fill="url(#b50)"/>
<rect x="60.5" y="550.5" width="629.5" height="2.6" fill="url(#b51)"/>
<rect x="60.5" y="552.5" width="629.5" height="2.6" fill="url(#b52)"/>
<rect x="60.5" y="554.5" width="629.5" height="2.6" fill="url(#b53)"/>
<rect x="60.5" y="556.5" width="629.5" height="2.6" fill="url(#b54)"/>
<rect x="60.5" y="558.5" width="629.5" height="2.6" fill="url(#b55)"/>
<rect x="60.5" y="560.5" width="629.5" height="2.6" fill="url(#b56)"/>
<rect x="60.5" y="562.5" width="629.5" height="2.6" fill="url(#b57)"/>
<rect x="60.5" y="564.5" width="629.5" height="2.6" fill="url(#b58)"/>
<rect x="60.5" y="566.5" width="629.5" height="2.6" fill="url(#b59)"/>
<rect x="60.5" y="568.5" width="629.5" height="2.6" fill="url(#b60)"/>
<rect x="60.5" y="570.5" width="629.5" height="2.6" fill="url(#b61)"/>
<rect x="60.5" y="572.5" width="629.5" height="2.6" fill="url(#b62)"/>
<rect x="60.5" y="574.5" width="629.5" height="2.6" fill="url(#b63)"/>
<rect x="60.5" y="576.5" width="629.5" height="2.6" fill="url(#b64)"/>
<rect x="60.5" y="578.5" width="629.5" height="2.6" fill="url(#b65)"/>
<rect x="60.5" y="580.5" width="629.5" height="2.6" fill="url(#b66)"/>
<rect x="60.5" y="582.5" width="629.5" height="2.6" fill="url(#b67)"/>
<rect x="60.5" y="584.5" width="629.5" height="2.6" fill="url(#b68)"/>
<rect x="60.5" y="586.5" width="629.5" height="2.6" fill="url(#b69)"/>
<rect x="60.5" y="588.5" width="629.5" height="2.6" fill="url(#b70)"/>
<rect x="60.5" y="590.5" width="629.5" height="2.6" fill="url(#b71)"/>
<rect x="60.5" y="592.5" width="629.5" height="2.6" fill="url(#b72)"/>
<rect x="60.5" y="594.5" width="629.5" height="2.6" fill="url(#b73)"/>
<rect x="60.5" y="596.5" width="629.5" height="2.6" fill="url(#b74)"/>
<rect x="60.5" y="598.5" width="629.5" height="2.6" fill="url(#b75)"/>
<rect x="60.5" y="600.5" width="629.5" height="2.6" fill="url(#b76)"/>
<rect x="60.5" y="602.5" width="629.5" height="2.6" fill="url(#b77)"/>
<rect x="60.5" y="604.5" width="629.5" height="2.6" fill="url(#b78)"/>
<rect x="60.5" y="606.5" width="629.5" height="2.6" fill="url(#b79)"/>
<rect x="60.5" y="608.5" width="629.5" height="2.6" fill="url(#b80)"/>
<rect x="60.5" y="610.5" width="629.5" height="2.6" fill="url(#b81)"/>
<rect x="60.5" y="612.5" width="629.5" height="2.6" fill="url(#b82)"/>
<rect x="60.5" y="614.5" width="629.5" height="2.6" fill="url(#b83)"/>
<rect x="60.5" y="616.5" width="629.5" height="2.6" fill="url(#b84)"/>
<rect x="60.5" y="618.5" width="629.5" height="2.6" fill="url(#b85)"/>
<rect x="60.5" y="620.5" width="629.5" height="2.6" fill="url(#b86)"/>
<rect x="60.5" y="622.5" width="629.5" height="2.6" fill="url(#b87)"/>
<rect x="60.5" y="624.5" width="629.5" height="2.6" fill="url(#b88)"/>
<rect x="60.5" y="626.5" width="629.5" height="2.6" fill="url(#b89)"/>
<rect x="60.5" y="628.5" width="629.5" height="2.6" fill="url(#b90)"/>
<rect x="60.5" y="630.5" width="629.5" height="2.6" fill="url(#b91)"/>
<rect x="60.5" y="632.5" width="629.5" height="2.6" fill="url(#b92)"/>
<rect x="60.5" y="634.5" width="629.5" height="2.6" fill="url(#b93)"/>
<rect x="60.5" y="636.5" width="629.5" height="2.6" fill="url(#b94)"/>
<rect x="60.5" y="638.5" width="629.5" height="2.6" fill="url(#b95)"/>
<rect x="60.5" y="640.5" width="629.5" height="2.6" fill="url(#b96)"/>
<rect x="60.5" y="642.5" width="629.5" height="2.6" fill="url(#b97)"/>
<rect x="60.5" y="644.5" width="629.5" height="2.6" fill="url(#b98)"/>
<rect x="60.5" y="646.5" width="629.5" height="2.6" fill="url(#b99)"/>
<rect x="60.5" y="648.5" width="629.5" height="2.6" fill="url(#b100)"/>
<rect x="60.5" y="650.5" width="629.5" height="2.6" fill="url(#b101)"/>
<rect x="60.5" y="652.5" width="629.5" height="2.6" fill="url(#b102)"/>
<rect x="60.5" y="654.5" width="629.5" height="2.6" fill="url(#b103)"/>
<rect x="60.5" y="656.5" width="629.5" height="2.6" fill="url(#b104)"/>
<rect x="60.5" y="658.5" width="629.5" height="2.6" fill="url(#b105)"/>
<rect x="60.5" y="660.5" width="629.5" height="2.6" fill="url(#b106)"/>
<rect x="60.5" y="662.5" width="629.5" height="2.6" fill="url(#b107)"/>
<rect x="60.5" y="664.5" width="629.5" height="2.6" fill="url(#b108)"/>
<rect x="60.5" y="666.5" width="629.5" height="2.6" fill="url(#b109)"/>
<rect x="60.5" y="668.5" width="629.5" height="2.6" fill="url(#b110)"/>
<rect x="60.5" y="670.5" width="629.5" height="2.6" fill="url(#b111)"/>
<rect x="60.5" y="672.5" width="629.5" height="2.6" fill="url(#b112)"/>
<rect x="60.5" y="674.5" width="629.5" height="2.6" fill="url(#b113)"/>
<rect x="60.5" y="676.5" width="629.5" height="2.6" fill="url(#b114)"/>
<rect x="60.5" y="678.5" width="629.5" height="2.6" fill="url(#b115)"/>
<rect x="60.5" y="680.5" width="629.5" height="2.6" fill="url(#b116)"/>
<rect x="60.5" y="682.5" width="629.5" height="2.6" fill="url(#b117)"/>
<rect x="60.5" y="684.5" width="629.5" height="2.6" fill="url(#b118)"/>
<rect x="60.5" y="686.5" width="629.5" height="2.6" fill="url(#b119)"/>
<rect x="60.5" y="688.5" width="629.5" height="2.6" fill="url(#b120)"/>
<rect x="60.5" y="690.5" width="629.5" height="2.6" fill="url(#b121)"/>
<rect x="60.5" y="692.5" width="629.5" height="2.6" fill="url(#b122)"/>
<rect x="60.5" y="694.5" width="629.5" height="2.6" fill="url(#b123)"/>
<rect x="60.5" y="696.5" width="629.5" height="2.6" fill="url(#b124)"/>
<rect x="60.5" y="698.5" width="629.5" height="2.6" fill="url(#b125)"/>
<rect x="60.5" y="700.5" width="629.5" height="2.6" fill="url(#b126)"/>
<rect x="60.5" y="702.5" width="629.5" height="2.6" fill="url(#b127)"/>
<rect x="60.5" y="704.5" width="629.5" height="2.6" fill="url(#b128)"/>
<rect x="60.5" y="706.5" width="629.5" height="2.6" fill="url(#b129)"/>
<rect x="60.5" y="708.5" width="629.5" height="2.6" fill="url(#b130)"/>
<rect x="60.5" y="710.5" width="629.5" height="2.6" fill="url(#b131)"/>
<rect x="60.5" y="712.5" width="629.5" height="2.6" fill="url(#b132)"/>
<rect x="60.5" y="714.5" width="629.5" height="2.6" fill="url(#b133)"/>
<rect x="60.5" y="716.5" width="629.5" height="2.6" fill="url(#b134)"/>
<rect x="60.5" y="718.5" width="629.5" height="2.6" fill="url(#b135)"/>
<rect x="60.5" y="720.5" width="629.5" height="2.6" fill="url(#b136)"/>
<rect x="60.5" y="722.5" width="629.5" height="2.6" fill="url(#b137)"/>
<rect x="60.5" y="724.5" width="629.5" height="2.6" fill="url(#b138)"/>
<rect x="60.5" y="726.5" width="629.5" height="2.6" fill="url(#b139)"/>
<rect x="60.5" y="728.5" width="629.5" height="2.6" fill="url(#b140)"/>
<rect x="60.5" y="730.5" width="629.5" height="2.6" fill="url(#b141)"/>
<rect x="60.5" y="732.5" width="629.5" height="2.6" fill="url(#b142)"/>
<rect x="60.5" y="734.5" width="629.5" height="2.6" fill="url(#b143)"/>
<rect x="60.5" y="736.5" width="629.5" height="2.6" fill="url(#b144)"/>
<rect x="60.5" y="738.5" width="629.5" height="2.6" fill="url(#b145)"/>
<rect x="60.5" y="740.5" width="629.5" height="2.6" fill="url(#b146)"/>
<rect x="60.5" y="742.5" width="629.5" height="2.6" fill="url(#b147)"/>
<rect x="60.5" y="744.5" width="629.5" height="2.6" fill="url(#b148)"/>
<rect x="60.5" y="746.5" width="629.5" height="2.6" fill="url(#b149)"/>
<rect x="60.5" y="748.5" width="629.5" height="2.6" fill="url(#b150)"/>
<rect x="60.5" y="750.5" width="629.5" height="2.6" fill="url(#b151)"/>
<rect x="60.5" y="752.5" width="629.5" height="2.6" fill="url(#b152)"/>
<rect x="60.5" y="754.5" width="629.5" height="2.6" fill="url(#b153)"/>
<rect x="60.5" y="756.5" width="629.5" height="2.6" fill="url(#b154)"/>
<rect x="60.5" y="758.5" width="629.5" height="2.6" fill="url(#b155)"/>
<rect x="60.5" y="760.5" width="629.5" height="2.6" fill="url(#b156)"/>
<rect x="60.5" y="762.5" width="629.5" height="2.6" fill="url(#b157)"/>
<rect x="60.5" y="764.5" width="629.5" height="2.6" fill="url(#b158)"/>
<rect x="60.5" y="766.5" width="629.5" height="2.6" fill="url(#b159)"/>
<rect x="60.5" y="768.5" width="629.5" height="2.6" fill="url(#b160)"/>
<rect x="60.5" y="770.5" width="629.5" height="2.6" fill="url(#b161)"/>
<rect x="60.5" y="772.5" width="629.5" height="2.1" fill="url(#b162)"/></g></g>
<polygon points="70.5,459.5 375,459.5 70.5,506.9" fill="#add8e6"/>
<polygon points="375,459.5 425,358 680,358 680,459.5" fill="#fdf6de"/>
<g clip-path="url(#axB)" fill="none" stroke-linecap="round" stroke-linejoin="round">
<g stroke="#fff" stroke-width="2.1">
<path d="M317.3 468.5C317.1 470.7 316.5 477.2 316.4 481.5C316.3 485.9 316.4 490.2 316.7 494.4C317.1 498.7 317.6 502.9 318.3 507.1C319 511.3 319.9 515.4 321 519.5C322.1 523.5 323.3 527.6 324.8 531.5C326.2 535.4 327.8 539.3 329.5 543.1C331.3 546.9 333.2 550.6 335.3 554.2C337.4 557.9 339.6 561.4 341.9 564.8C344.3 568.3 346.8 571.6 349.4 574.9C351.9 578.2 354.7 581.4 357.4 584.6C360.2 587.8 363.1 590.9 366.1 593.9C369 597 372 600 375 603C378.1 606 381.2 608.9 384.3 611.9C387.4 614.8 390.5 617.8 393.7 620.7C396.8 623.6 399.9 626.6 403 629.5C406.1 632.5 409.2 635.4 412.2 638.4C415.3 641.4 418.3 644.4 421.3 647.4C424.3 650.4 427.3 653.4 430.3 656.4C433.3 659.4 436.2 662.5 439.2 665.5C442.1 668.6 445 671.6 447.9 674.7C450.8 677.8 453.7 680.8 456.6 683.9C459.4 687 462.3 690.1 465.1 693.3C468 696.4 470.8 699.5 473.6 702.6C476.5 705.8 479.3 708.9 482.1 712.1C484.9 715.2 487.7 718.4 490.5 721.6C493.3 724.7 496.1 727.9 498.8 731.1C501.5 734.4 504.2 737.6 506.6 741.1C509.1 744.5 511.4 747.9 513.5 751.6C515.6 755.2 518.1 761.1 519 763"/>
<path d="M326.1 467.1C326.1 469.8 325.9 477.8 326.2 483.1C326.4 488.3 327 493.6 327.8 498.7C328.7 503.9 329.8 509 331.2 513.9C332.6 518.8 334.3 523.7 336.2 528.3C338.2 533 340.4 537.5 342.9 541.9C345.4 546.2 348.2 550.4 351.2 554.5C354.2 558.5 357.5 562.4 360.9 566.1C364.3 569.8 368 573.4 371.7 576.8C375.5 580.3 379.4 583.7 383.3 587C387.3 590.4 391.4 593.6 395.4 596.9C399.5 600.1 403.5 603.4 407.6 606.6C411.6 609.9 415.6 613.2 419.7 616.4C423.7 619.7 427.7 622.9 431.7 626.2C435.7 629.4 439.7 632.7 443.8 635.9C447.8 639.1 451.9 642.3 455.9 645.5C460 648.6 464.1 651.8 468.2 654.9C472.3 658 476.4 661.1 480.6 664.1C484.7 667.2 488.9 670.2 493.1 673.2C497.3 676.2 501.5 679.2 505.7 682.2C509.9 685.1 514.2 688.1 518.4 691C522.7 693.9 527 696.8 531.3 699.6C535.5 702.5 539.9 705.3 544.2 708.1C548.5 710.9 552.9 713.7 557.2 716.4C561.6 719.2 566 721.9 570.4 724.6C574.8 727.3 579.2 730 583.6 732.6C588 735.3 592.5 737.9 596.9 740.5C601.4 743.1 605.9 745.7 610.4 748.2C614.9 750.8 619.4 753.3 623.9 755.8C628.4 758.3 635.2 762 637.5 763.2"/>
<path d="M332.1 466.2C332.2 469.1 332.2 478 332.8 483.6C333.4 489.3 334.5 494.7 335.8 499.9C337.1 505.1 338.8 510.2 340.8 515C342.7 519.9 345 524.6 347.6 529.1C350.1 533.6 352.9 538 355.9 542.2C358.9 546.5 362.2 550.5 365.6 554.5C369 558.4 372.6 562.2 376.3 565.9C380.1 569.6 384 573.2 388 576.7C392.1 580.2 396.2 583.5 400.5 586.9C404.7 590.2 409.1 593.4 413.5 596.6C417.9 599.7 422.4 602.8 427 605.9C431.5 609 436.1 612 440.6 615C445.2 618 449.8 621 454.4 624C459 626.9 463.5 629.9 468.1 632.8C472.7 635.8 477.2 638.7 481.8 641.6C486.4 644.6 490.9 647.5 495.5 650.4C500 653.2 504.6 656.1 509.2 659C513.7 661.8 518.3 664.7 522.9 667.5C527.4 670.3 532 673.1 536.6 675.9C541.2 678.7 545.7 681.4 550.3 684.2C554.9 686.9 559.6 689.6 564.2 692.3C568.8 695 573.4 697.7 578.1 700.4C582.7 703 587.4 705.6 592.1 708.2C596.7 710.8 601.4 713.4 606.1 716C610.9 718.5 615.6 721 620.3 723.5C625.1 726 629.9 728.5 634.7 730.9C639.5 733.3 644.3 735.7 649.2 738.1C654 740.4 658.9 742.8 663.8 745.1C668.7 747.4 676.1 750.8 678.6 751.9"/>
<path d="M336.6 465.5C336.8 468.2 337.2 476.7 338 482.1C338.8 487.4 340 492.6 341.4 497.5C342.9 502.5 344.6 507.3 346.7 511.9C348.7 516.6 351 521 353.5 525.3C356 529.7 358.7 533.8 361.7 537.9C364.6 541.9 367.8 545.8 371.2 549.6C374.5 553.4 378 557 381.7 560.6C385.3 564.1 389.2 567.6 393.1 570.9C397 574.3 401 577.6 405.1 580.7C409.2 583.9 413.4 587 417.7 590.1C421.9 593.2 426.2 596.1 430.5 599.1C434.9 602 439.2 604.9 443.6 607.7C448 610.6 452.4 613.4 456.8 616.1C461.3 618.9 465.7 621.5 470.2 624.2C474.7 626.9 479.3 629.5 483.8 632.1C488.3 634.7 492.9 637.2 497.5 639.7C502 642.2 506.6 644.7 511.2 647.2C515.8 649.6 520.5 652.1 525.1 654.5C529.7 656.9 534.4 659.3 539 661.7C543.7 664 548.3 666.4 553 668.7C557.6 671.1 562.3 673.4 567 675.7C571.6 678 576.3 680.3 581 682.6C585.6 684.9 590.3 687.2 595 689.5C599.6 691.8 604.3 694.1 608.9 696.4C613.6 698.7 618.2 701 622.8 703.3C627.5 705.7 632.1 708 636.7 710.3C641.3 712.7 645.9 715 650.4 717.4C655 719.7 659.5 722.1 664.1 724.5C668.6 726.9 675.3 730.6 677.6 731.8"/>
<path d="M339.8 465C340.1 467.7 340.7 475.9 341.7 481.1C342.6 486.3 343.9 491.2 345.4 496C346.9 500.8 348.7 505.5 350.8 509.9C352.8 514.4 355.2 518.7 357.7 522.9C360.2 527 363 531 366 534.9C368.9 538.8 372.1 542.5 375.4 546.2C378.7 549.8 382.2 553.3 385.8 556.7C389.4 560.1 393.2 563.4 397 566.6C400.8 569.8 404.8 573 408.8 576C412.8 579.1 416.9 582 421.1 585C425.2 587.9 429.4 590.7 433.6 593.6C437.9 596.4 442.1 599.1 446.4 601.8C450.7 604.5 455 607.2 459.4 609.8C463.7 612.4 468.1 615 472.5 617.5C476.9 620 481.3 622.5 485.8 625C490.2 627.4 494.7 629.8 499.2 632.2C503.6 634.6 508.2 637 512.7 639.3C517.2 641.6 521.7 643.9 526.3 646.2C530.8 648.4 535.4 650.7 540 652.9C544.5 655.1 549.1 657.3 553.7 659.5C558.3 661.7 562.9 663.9 567.5 666C572.1 668.2 576.7 670.3 581.3 672.5C585.9 674.6 590.5 676.8 595 678.9C599.6 681 604.2 683.1 608.8 685.3C613.4 687.4 617.9 689.5 622.5 691.6C627.1 693.8 631.6 695.9 636.2 698C640.7 700.2 645.2 702.3 649.7 704.5C654.2 706.6 658.7 708.8 663.2 711C667.6 713.2 674.3 716.5 676.5 717.6"/>
<path d="M343 464.5C343.3 467.1 344.1 475.1 345.1 480.1C346.1 485.1 347.4 489.9 349 494.5C350.6 499.2 352.4 503.7 354.5 508C356.6 512.3 358.9 516.4 361.4 520.4C364 524.4 366.7 528.3 369.7 532C372.6 535.8 375.7 539.3 379 542.8C382.2 546.3 385.7 549.7 389.2 552.9C392.8 556.2 396.4 559.4 400.2 562.4C404 565.5 407.9 568.5 411.8 571.4C415.7 574.3 419.8 577.2 423.8 580C427.9 582.7 432 585.5 436.1 588.1C440.2 590.8 444.4 593.4 448.6 596C452.8 598.6 457 601.1 461.3 603.6C465.5 606 469.8 608.5 474.2 610.9C478.5 613.3 482.8 615.6 487.2 617.9C491.5 620.2 495.9 622.5 500.3 624.7C504.7 627 509.2 629.2 513.6 631.4C518.1 633.6 522.5 635.7 527 637.9C531.4 640 535.9 642.1 540.4 644.2C544.9 646.3 549.4 648.4 553.9 650.5C558.4 652.5 562.9 654.6 567.4 656.6C571.9 658.6 576.4 660.7 580.9 662.7C585.4 664.7 589.9 666.7 594.4 668.8C598.9 670.8 603.3 672.8 607.8 674.8C612.3 676.8 616.8 678.8 621.2 680.9C625.7 682.9 630.1 684.9 634.5 687C638.9 689.1 643.3 691.1 647.7 693.2C652.1 695.3 656.4 697.4 660.8 699.5C665.1 701.6 671.5 704.8 673.7 705.9"/>
<path d="M346.2 464C346.5 466.5 347.3 474.3 348.3 479.2C349.3 484.1 350.7 488.8 352.2 493.3C353.8 497.8 355.7 502.1 357.8 506.3C359.9 510.5 362.3 514.5 364.8 518.4C367.4 522.2 370.2 526 373.1 529.6C376.1 533.2 379.2 536.6 382.5 540C385.8 543.3 389.3 546.5 392.8 549.7C396.4 552.8 400.1 555.9 403.9 558.8C407.6 561.8 411.5 564.6 415.4 567.5C419.4 570.3 423.4 573 427.4 575.7C431.4 578.4 435.5 581 439.6 583.6C443.7 586.2 447.8 588.7 451.9 591.2C456.1 593.7 460.3 596.1 464.5 598.5C468.8 600.9 473 603.2 477.3 605.6C481.6 607.9 485.9 610.1 490.2 612.4C494.5 614.6 498.9 616.8 503.2 618.9C507.6 621.1 512 623.2 516.4 625.3C520.8 627.4 525.2 629.5 529.6 631.5C534 633.6 538.5 635.6 542.9 637.6C547.4 639.5 551.8 641.5 556.3 643.5C560.7 645.4 565.2 647.3 569.7 649.2C574.2 651.2 578.6 653 583.1 654.9C587.6 656.8 592 658.7 596.5 660.5C601 662.4 605.4 664.2 609.9 666.1C614.4 667.9 618.8 669.8 623.2 671.6C627.7 673.5 632.1 675.3 636.5 677.1C640.9 679 645.3 680.8 649.7 682.6C654.1 684.5 658.5 686.3 662.8 688.2C667.2 690.1 673.6 692.9 675.8 693.8"/>
<path d="M350 463.4C350.4 465.8 351.3 473.3 352.4 477.9C353.4 482.6 354.8 487.1 356.4 491.4C358 495.8 359.9 499.9 362 504C364.1 508 366.4 511.9 368.9 515.6C371.4 519.4 374.2 523 377.1 526.4C379.9 529.9 383 533.3 386.2 536.6C389.4 539.8 392.8 543 396.2 546C399.6 549.1 403.2 552.1 406.9 554.9C410.5 557.8 414.3 560.6 418 563.4C421.8 566.1 425.7 568.8 429.5 571.4C433.4 574.1 437.3 576.6 441.3 579.1C445.2 581.7 449.2 584.1 453.2 586.5C457.2 588.9 461.3 591.3 465.4 593.6C469.5 595.9 473.6 598.2 477.7 600.4C481.8 602.7 486 604.8 490.2 607C494.3 609.1 498.6 611.2 502.8 613.3C507 615.4 511.3 617.4 515.5 619.4C519.8 621.4 524.1 623.3 528.4 625.2C532.6 627.2 537 629.1 541.3 630.9C545.6 632.8 549.9 634.6 554.3 636.4C558.6 638.2 563 640 567.3 641.8C571.7 643.6 576 645.3 580.4 647C584.8 648.7 589.1 650.4 593.5 652.1C597.9 653.8 602.2 655.5 606.6 657.1C611 658.8 615.3 660.4 619.7 662.1C624 663.7 628.4 665.3 632.7 667C637.1 668.6 641.4 670.2 645.7 671.8C650.1 673.4 654.4 675 658.7 676.6C663 678.2 669.4 680.6 671.5 681.4"/>
<path d="M351.1 463.2C351.5 465.7 352.2 473.2 353.3 478C354.3 482.7 355.6 487.2 357.2 491.5C358.8 495.9 360.7 500 362.9 504C365 508 367.4 511.9 369.9 515.6C372.5 519.3 375.3 522.8 378.3 526.2C381.2 529.6 384.4 532.9 387.6 536.1C390.9 539.3 394.4 542.3 397.9 545.3C401.4 548.3 405.1 551.1 408.8 553.9C412.6 556.7 416.4 559.4 420.3 562.1C424.1 564.8 428 567.4 432 569.9C435.9 572.5 439.9 574.9 443.9 577.4C447.9 579.8 451.9 582.2 456 584.6C460 586.9 464.1 589.2 468.3 591.5C472.4 593.7 476.5 595.9 480.7 598.1C484.9 600.2 489 602.4 493.3 604.4C497.5 606.5 501.7 608.6 506 610.6C510.2 612.6 514.5 614.5 518.8 616.5C523.1 618.4 527.4 620.3 531.7 622.2C536 624 540.3 625.9 544.7 627.7C549 629.5 553.4 631.3 557.7 633C562.1 634.8 566.5 636.5 570.8 638.2C575.2 639.9 579.6 641.6 584 643.3C588.4 644.9 592.8 646.6 597.2 648.2C601.6 649.8 606 651.4 610.3 653C614.7 654.6 619.1 656.2 623.5 657.7C627.9 659.3 632.3 660.9 636.7 662.4C641 663.9 645.4 665.5 649.8 667C654.1 668.5 658.5 670 662.8 671.6C667.2 673.1 673.6 675.3 675.8 676.1"/>
<path d="M352.2 463C352.5 465.5 353 473.3 353.9 478C354.8 482.8 356 487.3 357.6 491.6C359.1 496 361 500.1 363.1 504C365.2 507.9 367.6 511.7 370.2 515.3C372.9 518.9 375.7 522.3 378.7 525.6C381.8 528.9 385 532 388.4 535.1C391.7 538.1 395.3 541 398.9 543.8C402.5 546.7 406.3 549.4 410.1 552C413.9 554.7 417.8 557.3 421.7 559.8C425.6 562.3 429.6 564.8 433.5 567.3C437.5 569.7 441.5 572.1 445.5 574.5C449.5 576.8 453.5 579.1 457.6 581.4C461.6 583.7 465.7 585.9 469.8 588.1C473.9 590.3 478 592.5 482.1 594.6C486.3 596.7 490.4 598.8 494.6 600.8C498.7 602.9 502.9 604.9 507.1 606.9C511.3 608.8 515.5 610.8 519.7 612.7C524 614.6 528.2 616.5 532.5 618.3C536.7 620.2 541 622 545.2 623.8C549.5 625.5 553.8 627.3 558.1 629C562.4 630.8 566.7 632.5 571 634.1C575.3 635.8 579.7 637.4 584 639.1C588.3 640.7 592.7 642.3 597 643.9C601.4 645.4 605.7 647 610.1 648.5C614.5 650 618.8 651.5 623.2 653C627.6 654.5 631.9 656 636.3 657.4C640.7 658.9 645.1 660.3 649.5 661.7C653.9 663.1 658.2 664.5 662.6 665.9C667 667.3 673.6 669.3 675.8 670"/>
<path d="M353.3 462.9C353.5 465.3 353.8 473 354.6 477.7C355.4 482.4 356.6 486.9 358.1 491.3C359.6 495.6 361.5 499.7 363.6 503.6C365.8 507.6 368.2 511.3 370.9 514.9C373.5 518.5 376.4 521.9 379.5 525.1C382.6 528.4 385.9 531.5 389.3 534.4C392.7 537.4 396.3 540.2 400 542.9C403.6 545.7 407.5 548.2 411.3 550.8C415.1 553.3 419 555.8 423 558.2C426.9 560.7 430.9 563 434.8 565.4C438.8 567.7 442.8 570.1 446.8 572.3C450.8 574.6 454.8 576.9 458.9 579.1C462.9 581.3 466.9 583.5 471 585.6C475.1 587.8 479.2 589.9 483.3 592C487.4 594.1 491.5 596.1 495.6 598.2C499.7 600.2 503.9 602.2 508 604.1C512.2 606.1 516.4 608 520.6 609.9C524.7 611.8 528.9 613.7 533.1 615.5C537.4 617.4 541.6 619.2 545.8 620.9C550.1 622.7 554.3 624.5 558.6 626.2C562.8 627.9 567.1 629.6 571.4 631.3C575.6 632.9 579.9 634.6 584.2 636.2C588.5 637.8 592.8 639.4 597.2 640.9C601.5 642.5 605.8 644 610.1 645.5C614.5 647 618.8 648.5 623.2 649.9C627.5 651.4 631.9 652.8 636.3 654.2C640.6 655.6 645 657 649.4 658.4C653.8 659.7 658.2 661 662.6 662.4C667 663.7 673.6 665.6 675.8 666.2"/>
<path d="M354.4 462.7C354.6 465.1 354.8 472.6 355.6 477.3C356.4 482 357.6 486.5 359.1 490.8C360.6 495.1 362.4 499.2 364.5 503.2C366.7 507.1 369.1 510.8 371.7 514.4C374.4 518 377.3 521.4 380.4 524.6C383.5 527.9 386.8 530.9 390.2 533.8C393.6 536.7 397.3 539.4 400.9 542C404.6 544.7 408.5 547.1 412.3 549.6C416.2 552 420.1 554.4 424 556.7C428 559.1 432 561.4 435.9 563.6C439.9 565.9 443.9 568.2 447.9 570.4C451.9 572.6 455.9 574.8 459.9 577C463.9 579.2 468 581.3 472 583.4C476.1 585.5 480.1 587.6 484.2 589.7C488.3 591.7 492.4 593.8 496.5 595.8C500.6 597.8 504.7 599.8 508.8 601.7C513 603.6 517.1 605.6 521.3 607.5C525.4 609.3 529.6 611.2 533.8 613C537.9 614.9 542.1 616.7 546.3 618.4C550.5 620.2 554.7 622 559 623.7C563.2 625.4 567.4 627.1 571.7 628.7C575.9 630.4 580.2 632 584.5 633.6C588.7 635.2 593 636.7 597.3 638.3C601.6 639.8 605.9 641.3 610.2 642.8C614.5 644.2 618.9 645.7 623.2 647.1C627.5 648.5 631.9 649.9 636.3 651.2C640.6 652.5 645 653.8 649.4 655.1C653.8 656.4 658.2 657.6 662.6 658.9C667 660.1 673.6 661.8 675.8 662.4"/>
<path d="M212.9 484.7C213.2 486.6 214 492.4 214.6 496.2C215.2 500 215.7 503.8 216.4 507.5C217 511.3 217.6 515 218.3 518.7C219 522.4 219.7 526.1 220.5 529.7C221.3 533.3 222.2 536.9 223.2 540.5C224.1 544.1 225.2 547.7 226.4 551.2C227.6 554.7 228.8 558.2 230.3 561.7C231.7 565.2 233.3 568.6 235 572C236.7 575.4 238.6 578.8 240.7 582.1C242.8 585.5 245 588.8 247.4 592.1C249.9 595.3 252.5 598.6 255.3 601.6C258.1 604.6 261.1 607.5 264.2 609.8C267.4 612.2 270.7 614.4 274.1 615.9C277.4 617.5 281.1 618.6 284.6 619C288.1 619.5 291.8 619.4 295 618.6C298.2 617.9 301.4 616.5 304 614.6C306.5 612.6 308.7 609.9 310.4 606.9C312.1 603.9 313.3 600.3 314.1 596.7C314.8 593.1 315.1 589.2 315 585.4C314.9 581.6 314.2 577.6 313.5 573.7C312.8 569.7 311.7 565.8 310.6 561.8C309.5 557.9 308.2 553.9 307.1 550C305.9 546.2 304.8 542.3 303.8 538.6C302.9 534.8 302 531.2 301.3 527.5C300.6 523.9 300 520.3 299.5 516.7C299 513.1 298.6 509.5 298.3 505.9C298 502.2 297.7 498.6 297.6 494.9C297.4 491.1 297.3 487.4 297.2 483.5C297.2 479.6 297.2 473.6 297.2 471.6"/>
<path d="M110 500.7C110.1 502.5 110.4 507.9 110.7 511.5C111 515.1 111.4 518.7 111.8 522.4C112.2 526 112.6 529.6 113.2 533.2C113.7 536.9 114.2 540.5 114.8 544.1C115.4 547.8 116.1 551.4 116.8 555C117.5 558.7 118.3 562.3 119.1 565.9C119.9 569.5 120.8 573.1 121.8 576.7C122.7 580.3 123.7 583.9 124.7 587.4C125.7 591 126.8 594.6 128 598.1C129.1 601.6 130.4 605.1 131.6 608.6C132.9 612.1 134.2 615.6 135.6 619C136.9 622.5 138.4 625.9 139.9 629.3C141.3 632.7 142.9 636 144.5 639.3C146.1 642.7 147.8 645.9 149.5 649.2C151.2 652.5 153 655.7 154.8 658.8C156.6 662 158.5 665.2 160.5 668.3C162.4 671.3 164.4 674.4 166.5 677.4C168.6 680.4 170.7 683.3 172.9 686.2C175.1 689.1 177.3 692 179.7 694.8C182 697.6 184.3 700.3 186.8 703C189.2 705.7 191.7 708.3 194.3 710.9C196.8 713.4 199.4 716 202.1 718.4C204.8 720.8 207.6 723.2 210.4 725.5C213.2 727.8 216 730 219 732.2C221.9 734.3 224.9 736.4 228 738.4C231 740.5 234.1 742.4 237.3 744.2C240.5 746.1 243.8 747.9 247.1 749.6C250.4 751.3 253.8 752.9 257.3 754.4C260.7 755.9 266 758 267.8 758.7"/>
<path d="M70.5 660C70.8 660.6 71.6 662.4 72.2 663.5C72.7 664.7 73.3 665.9 73.9 667.1C74.4 668.2 75 669.4 75.6 670.6C76.2 671.7 76.8 672.9 77.4 674C78 675.2 78.6 676.4 79.2 677.5C79.8 678.7 80.4 679.8 81 680.9C81.7 682.1 82.3 683.2 82.9 684.4C83.6 685.5 84.2 686.6 84.8 687.8C85.5 688.9 86.1 690 86.8 691.1C87.5 692.3 88.1 693.4 88.8 694.5C89.5 695.6 90.2 696.7 90.8 697.8C91.5 698.9 92.2 700 92.9 701.1C93.6 702.2 94.3 703.3 95 704.4C95.7 705.5 96.4 706.6 97.2 707.7C97.9 708.8 98.6 709.9 99.3 711C100.1 712 100.8 713.1 101.5 714.2C102.3 715.2 103 716.3 103.8 717.4C104.5 718.4 105.3 719.5 106 720.6C106.8 721.6 107.6 722.7 108.3 723.7C109.1 724.8 109.9 725.8 110.7 726.8C111.5 727.9 112.2 728.9 113 730C113.8 731 114.6 732 115.4 733C116.2 734.1 117 735.1 117.9 736.1C118.7 737.1 119.5 738.1 120.3 739.2C121.1 740.2 122 741.2 122.8 742.2C123.6 743.2 124.5 744.2 125.3 745.2C126.1 746.2 127 747.1 127.8 748.1C128.7 749.1 129.5 750.1 130.4 751.1C131.3 752.1 132.6 753.5 133 754"/>
</g>
<polygon fill="#f8f6f8" stroke="none" points="349.2,463.4 349.5,465.5 349.8,468.2 350.2,471.6 350.6,475.5 351.2,479.5 351.8,483.6 352.7,487.6 353.8,491.3 355,494.7 356.5,498 358.1,501.3 359.8,504.5 361.7,507.5 363.5,510.5 365.4,513.4 367.3,516.2 369.2,519 371.3,521.7 373.5,524.3 375.6,526.9 377.8,529.3 379.9,531.6 381.9,533.8 383.9,535.8 385.7,537.7 387.3,539.3 388.9,540.9 390.4,542.4 392.1,543.9 393.9,545.4 395.9,547 398.2,548.7 400.9,550.6 403.8,552.7 407,554.7 410.3,556.8 413.7,558.9 417.1,561 420.5,563 423.8,565 426.9,566.8 430,568.6 433.1,570.3 436.2,572 439.3,573.6 442.5,575.3 445.8,577.1 449.2,578.9 452.8,580.8 456.4,582.8 460.2,584.8 464.1,586.9 467.9,588.9 471.8,590.9 475.7,592.9 479.5,594.9 483.5,596.9 487.8,599 492.2,601.1 496.6,603.2 500.7,605.1 504.4,606.8 507.5,608.3 509.8,609.4 510.2,608.6 507.9,607.4 504.9,605.8 501.2,604 497.2,601.9 492.9,599.7 488.6,597.4 484.4,595.2 480.5,593.1 476.7,591 472.9,588.9 469.1,586.8 465.3,584.6 461.6,582.4 457.9,580.3 454.3,578.1 450.8,576.1 447.5,574.1 444.3,572.2 441.2,570.4 438.2,568.6 435.2,566.7 432.2,564.9 429.2,563 426.2,561 423.1,559 419.8,556.8 416.5,554.6 413.3,552.4 410.1,550.2 407.1,548 404.3,546 401.8,544.1 399.7,542.3 397.8,540.7 396.3,539.3 394.9,537.9 393.5,536.4 392.1,534.8 390.6,533.1 388.9,531.2 387,529.1 385.1,526.9 383,524.6 381,522.2 379,519.8 377,517.3 375.1,514.8 373.3,512.2 371.5,509.4 369.8,506.6 368,503.8 366.4,500.8 364.8,497.9 363.4,494.9 362.1,491.9 361,488.9 360.2,485.8 359.4,482.2 358.9,478.4 358.4,474.5 358,470.8 357.7,467.5 357.4,464.6 357.2,462.4"/>
<g stroke="#0808f2" stroke-width="2.0">
<path d="M377 459C379.1 459.4 385.6 460.8 389.9 461.6C394.1 462.4 398.4 463.2 402.7 463.9C407 464.7 411.3 465.4 415.7 466.1C420 466.8 424.3 467.4 428.6 468.1C432.9 468.7 437.2 469.3 441.6 469.9C445.9 470.4 450.2 471 454.6 471.5C458.9 472 463.2 472.5 467.6 473C471.9 473.4 476.3 473.9 480.6 474.3C485 474.7 489.3 475.1 493.7 475.5C498 475.9 502.4 476.3 506.8 476.6C511.1 477 515.5 477.3 519.8 477.7C524.2 478 528.6 478.3 532.9 478.6C537.3 478.9 541.7 479.2 546 479.5C550.4 479.8 554.8 480 559.1 480.3C563.5 480.6 567.9 480.8 572.2 481.1C576.6 481.4 581 481.6 585.3 481.9C589.7 482.1 594.1 482.4 598.5 482.7C602.8 482.9 607.2 483.2 611.6 483.4C615.9 483.7 620.3 483.9 624.6 484.2C629 484.5 633.4 484.8 637.7 485.1C642.1 485.3 646.4 485.6 650.8 485.9C655.2 486.2 659.5 486.5 663.9 486.9C668.2 487.2 674.7 487.7 676.9 487.9"/>
<path d="M372 461.5C374.1 462.3 380.4 464.8 384.7 466.4C388.9 468 393.1 469.5 397.4 470.9C401.7 472.4 406 473.8 410.3 475.1C414.6 476.5 418.9 477.7 423.2 479C427.5 480.2 431.9 481.4 436.2 482.5C440.6 483.7 444.9 484.7 449.3 485.8C453.7 486.8 458.1 487.8 462.5 488.8C466.9 489.7 471.3 490.6 475.7 491.5C480.1 492.4 484.5 493.2 489 494C493.4 494.8 497.8 495.6 502.3 496.3C506.7 497 511.2 497.8 515.7 498.4C520.1 499.1 524.6 499.8 529.1 500.4C533.5 501 538 501.6 542.5 502.2C547 502.8 551.5 503.4 555.9 503.9C560.4 504.5 564.9 505 569.4 505.6C573.9 506.1 578.4 506.6 582.9 507.1C587.4 507.6 591.9 508.1 596.4 508.6C600.8 509.1 605.3 509.6 609.8 510C614.3 510.5 618.8 511 623.3 511.5C627.8 512 632.3 512.5 636.7 512.9C641.2 513.4 645.7 513.9 650.2 514.4C654.6 514.9 659.1 515.5 663.5 516C668 516.5 674.7 517.3 676.9 517.6"/>
<path d="M371 463C372.9 464.3 378.6 468.4 382.5 470.9C386.4 473.4 390.3 475.8 394.3 478.1C398.3 480.4 402.3 482.6 406.4 484.6C410.5 486.7 414.7 488.7 418.9 490.5C423.1 492.4 427.3 494.2 431.6 495.9C435.8 497.6 440.2 499.2 444.5 500.7C448.9 502.3 453.2 503.7 457.6 505.1C462.1 506.5 466.5 507.8 471 509.1C475.4 510.3 479.9 511.5 484.4 512.6C488.9 513.8 493.5 514.9 498 515.9C502.6 517 507.1 518 511.7 518.9C516.3 519.9 520.9 520.8 525.5 521.7C530.1 522.6 534.7 523.4 539.4 524.3C544 525.1 548.6 525.9 553.2 526.7C557.9 527.5 562.5 528.2 567.2 529C571.8 529.8 576.4 530.5 581.1 531.2C585.7 532 590.4 532.7 595 533.5C599.6 534.2 604.2 534.9 608.8 535.7C613.5 536.5 618.1 537.2 622.7 538C627.2 538.8 631.8 539.6 636.4 540.4C640.9 541.2 645.5 542.1 650 542.9C654.5 543.8 659 544.7 663.5 545.7C668 546.6 674.7 548.1 676.9 548.6"/>
<path d="M370 464C371.3 466 374.9 472.1 377.8 475.7C380.7 479.4 384 482.7 387.5 485.9C391 489.1 394.8 492 398.6 494.8C402.4 497.6 406.4 500.2 410.5 502.6C414.6 505.1 418.8 507.4 423 509.6C427.3 511.8 431.6 513.9 436 515.9C440.4 517.9 444.8 519.7 449.3 521.5C453.8 523.3 458.3 525 462.9 526.7C467.4 528.3 472 529.9 476.6 531.4C481.2 533 485.8 534.5 490.4 535.9C494.9 537.4 499.5 538.8 504.1 540.3C508.7 541.7 513.3 543 517.9 544.4C522.5 545.7 527.1 547 531.8 548.3C536.4 549.6 541 550.9 545.6 552.1C550.2 553.3 554.8 554.5 559.5 555.7C564.1 556.9 568.7 558.1 573.4 559.2C578 560.4 582.6 561.5 587.3 562.6C591.9 563.8 596.6 564.9 601.2 565.9C605.9 567 610.6 568.1 615.2 569.2C619.9 570.2 624.6 571.3 629.3 572.3C634 573.3 638.7 574.4 643.4 575.4C648.1 576.4 652.8 577.4 657.5 578.5C662.2 579.5 669.3 581 671.7 581.5"/>
<path d="M369 465C369.1 465.7 369.2 468 369.4 469.4C369.7 470.9 370 472.3 370.4 473.6C370.7 475 371.2 476.3 371.7 477.6C372.2 478.8 372.8 480.1 373.5 481.3C374.1 482.5 374.8 483.6 375.6 484.7C376.3 485.9 377.2 487 378 488C378.9 489.1 379.8 490.1 380.8 491.1C381.8 492.1 382.8 493.1 383.8 494C384.9 494.9 386 495.8 387.1 496.7C388.2 497.6 389.4 498.5 390.6 499.3C391.8 500.2 393 501 394.3 501.8C395.5 502.6 396.8 503.3 398.1 504.1C399.4 504.9 400.7 505.6 402 506.3C403.3 507.1 404.6 507.8 406 508.5C407.3 509.2 408.7 509.9 410 510.5C411.4 511.2 412.7 511.9 414.1 512.5C415.4 513.2 416.7 513.8 418.1 514.5C419.4 515.1 420.7 515.8 422.1 516.4C423.4 517 424.7 517.7 425.9 518.3C427.2 518.9 428.5 519.6 429.7 520.2C430.9 520.8 432.2 521.5 433.3 522.1C434.5 522.7 435.7 523.4 436.8 524C437.9 524.7 439.5 525.7 440 526"/>
<path d="M368 466C368.7 468.5 370.2 476.3 372.1 480.9C374 485.5 376.6 489.7 379.5 493.6C382.4 497.6 385.9 501.2 389.5 504.6C393.2 508 397.3 511.2 401.5 514.2C405.6 517.2 410.1 520.1 414.6 522.9C419.1 525.7 423.7 528.3 428.2 531C432.8 533.6 437.4 536.2 442 538.8C446.5 541.3 451.2 543.8 455.8 546.2C460.4 548.6 465.1 551 469.8 553.2C474.4 555.5 479.2 557.7 483.9 559.8C488.6 561.9 493.4 563.9 498.2 565.9C503 567.8 507.8 569.7 512.6 571.5C517.4 573.4 522.3 575.1 527.2 576.8C532 578.5 536.9 580.2 541.8 581.8C546.7 583.5 551.7 585 556.6 586.6C561.5 588.1 566.5 589.7 571.4 591.2C576.4 592.7 581.3 594.1 586.3 595.6C591.3 597.1 596.2 598.5 601.2 600C606.2 601.5 611.2 602.9 616.1 604.4C621.1 605.8 626.1 607.3 631.1 608.8C636.1 610.3 641 611.8 646 613.3C651 614.9 655.9 616.4 660.9 618.1C665.8 619.7 673.2 622.2 675.7 623"/>
</g></g>
<polygon fill="#0808f2" points="525.8,478.1 533.1,481.4 533.5,475.9"/>
<polygon fill="#0808f2" points="521.9,499.4 529,503.2 529.7,497.7"/>
<polygon fill="#0808f2" points="522.5,521.1 529.3,525.2 530.4,519.8"/>
<polygon fill="#0808f2" points="501.2,539.4 507.6,544.2 509.2,538.9"/>
<polygon fill="#0808f2" points="505.5,568.8 511.5,574.1 513.5,568.9"/>
<polygon fill="#fff" points="504.8,599.8 510.4,605.5 512.7,600.5"/>
<polygon fill="#fff" points="505.2,602.8 510.8,608.5 513.2,603.5"/>
<polygon fill="#fff" points="504.3,605.5 509.9,611.2 512.3,606.2"/>
<polygon fill="#fff" points="504.4,609.9 510.1,615.5 512.4,610.5"/>
<polygon fill="#fff" points="505.1,614.4 510.7,620.1 513,615.2"/>
<polygon fill="#fff" points="504.4,619.5 510,625.3 512.4,620.4"/>
<polygon fill="#fff" points="492.4,620.7 497.8,626.5 500.3,621.6"/>
<polygon fill="#fff" points="499.2,632.3 504.6,638.2 507.1,633.3"/>
<polygon fill="#fff" points="492.1,636.8 497.4,642.8 500,638"/>
<polygon fill="#fff" points="486.2,644.5 491.1,650.8 494,646.2"/>
<polygon fill="#fff" points="281.1,618.6 275.4,613.9 273.7,618.7"/>
<g clip-path="url(#axB)" fill="none" stroke="#000">
<path d="M70.5 459.5L375 459.5" stroke-width="1.6"/>
<path d="M375 459.5L680 459.5" stroke-width="2.2"/>
<path d="M70.5 506.9L375.3 459.5L426.5 355" stroke-width="2.5" stroke-linejoin="round"/>
</g>
<g clip-path="url(#axB)" fill="#000"><polygon points="301.9,484.2 305.7,456 300.7,457.7 310.9,435.4 314.7,459.6 310.4,456.7 306.5,484.8"/>
<polygon points="309.3,544.5 306.7,531.8 302.6,535 304.7,510.6 316.4,532.2 311.3,530.8 313.9,543.5"/>
<polygon points="404.6,564.9 355.2,508.2 353.2,513.1 343.1,490.7 363.8,503.8 358.8,505.1 408.2,561.9"/>
<polygon points="475.9,546.1 427.1,521.6 427,526.8 409.2,510 433.4,514.2 429.2,517.4 478.1,541.9"/>
<polygon points="539.8,536.1 500.6,527.5 501.9,532.5 480.5,520.6 505,518.8 501.7,522.9 540.8,531.5"/>
<polygon points="606.4,534.6 569.9,527.9 571.3,533 549.5,521.8 573.9,519.1 570.7,523.3 607.2,530"/>
<polygon points="671.3,533 641.4,528.5 643,533.5 620.8,523 645.1,519.5 642.1,523.8 672.1,528.4"/>
<polygon points="671,462.2 647.7,461.8 650,466.5 626.6,459 650.2,452.4 647.8,457.1 671,457.6"/>
<polygon points="386.2,452.5 380.2,457.4 384.2,459.2 365.5,467 376.8,450.2 377.8,454.4 383.8,449.5"/>
<polygon points="462.8,610.6 438.5,594.6 437.9,599.8 422.1,581 445.6,588 441.1,590.7 465.4,606.6"/>
<polygon points="530.4,606.5 508.5,596.3 508.6,601.5 490.3,585.2 514.6,588.8 510.5,592 532.4,602.3"/>
<polygon points="599.1,604.2 577.1,597.2 577.9,602.4 557.7,588.5 582.2,589 578.6,592.7 600.5,599.8"/>
<polygon points="668.2,602 643.2,596.2 644.4,601.3 623.1,589.2 647.6,587.6 644.2,591.7 669.2,597.4"/>
<polygon points="380.7,604.3 376.4,599 374.8,602.5 368,586.2 382.7,596 379,596.9 383.3,602.1"/>
<polygon points="450.3,670.6 445,666.5 444.2,670.1 434.2,655.8 450.5,662.2 447.1,663.8 452.3,668"/>
<polygon points="521.9,671.6 514.6,667.2 514.2,671.9 499.2,655.3 520.9,661 516.8,663.5 524.1,668"/>
<polygon points="593.7,670.8 580.7,665.7 581.2,670.9 561.9,655.8 586.4,657.8 582.5,661.3 595.5,666.4"/>
<polygon points="662.1,670.2 648.2,665.4 648.9,670.6 629,656.3 653.5,657.3 649.8,661 663.7,665.8"/>
<polygon points="654.2,734.8 649,732.8 649.3,735.9 637.9,727 652.3,728.1 650,730.2 655.2,732.2"/>
<polygon points="104.1,523.6 104.5,525.8 105.5,525 105,530.6 102.3,525.6 103.5,526 103.1,523.9"/>
<polygon points="171.8,523.6 172.2,525.8 173.2,525 172.6,530.6 170,525.6 171.2,526 170.7,523.9"/>
<polygon points="239.1,523.4 239.8,525.6 240.7,524.7 240.7,530.8 237.4,525.7 238.7,526 238,523.8"/>
<polygon points="103.6,591.4 104.3,593.4 105.2,592.5 105.4,598.2 102.1,593.6 103.3,593.8 102.6,591.7"/>
<polygon points="171.3,591.4 172,593.4 172.9,592.5 173.1,598.2 169.8,593.6 171,593.8 170.3,591.7"/>
<polygon points="238.6,591 239.6,593.2 240.4,592.1 241.3,598.5 237.1,593.7 238.4,593.7 237.4,591.5"/>
<polygon points="306.5,599.1 306.6,596.5 305.2,597 307.5,590.6 309.2,597.2 307.9,596.5 307.8,599.1"/>
<polygon points="102.2,660 103.7,661.3 104,660.3 106.7,664.7 102,662.5 103,662.1 101.5,660.8"/>
<polygon points="169.8,660 171.3,661.3 171.6,660.3 174.4,664.7 169.7,662.5 170.7,662.1 169.2,660.8"/>
<polygon points="237.3,659.9 238.9,661.3 239.2,660.1 242.4,664.7 237.2,662.6 238.3,662.1 236.6,660.8"/>
<polygon points="304.4,661 306.3,661.7 306.2,660.5 310.4,663.6 305.2,663.4 306,662.6 304.1,661.9"/>
<polygon points="374.8,666.1 374.6,663.9 373.6,664.6 374.7,659.1 376.8,664.3 375.7,663.8 375.9,666"/>
<polygon points="101.7,727.8 103.5,729 103.7,727.8 107.1,732.2 101.8,730.5 102.9,729.9 101.1,728.6"/>
<polygon points="169.4,727.8 171.2,729 171.4,727.8 174.8,732.2 169.5,730.5 170.5,729.9 168.8,728.6"/>
<polygon points="236.8,728 238.7,729.1 238.8,727.9 242.7,731.9 237.2,730.7 238.2,730 236.3,729"/>
<polygon points="304.4,728.2 306.4,729.1 306.4,727.9 310.5,731.8 304.9,730.8 305.9,730.1 303.9,729.1"/>
<polygon points="372.6,729.6 374.1,729.7 373.8,728.9 377.5,730.5 373.5,731.2 374,730.5 372.5,730.4"/>
<polygon points="440.7,731.3 441.8,730.5 441.1,730.1 444.5,728.9 442.3,731.8 442.2,731 441.1,731.8"/>
<polygon points="511.5,733 510.5,731.4 510,732.3 508.8,727.6 512.4,730.9 511.3,731 512.3,732.6"/>
<polygon points="582.4,733.7 579.4,732 579.3,733.9 573.3,727.4 581.9,729.5 580.3,730.6 583.2,732.3"/>
<polygon points="447.2,460.2 444.4,460.2 445.1,461.6 438.2,459.5 445.1,457.4 444.4,458.8 447.2,458.8"/>
<polygon points="512.9,459.9 511.3,459.9 511.7,460.7 507.9,459.5 511.7,458.3 511.3,459.1 512.9,459.1"/>
<polygon points="580,459.8 578.8,459.8 579.1,460.4 576,459.5 579.1,458.6 578.8,459.2 580,459.2"/></g>
<g stroke="#000" stroke-width="1.3" fill="none">
<rect x="71.5" y="27" width="609.5" height="228"/>
<path d="M109.1 255v-6.5"/><path d="M185.3 255v-6.5"/><path d="M261.6 255v-6.5"/><path d="M337.8 255v-6.5"/><path d="M414.1 255v-6.5"/><path d="M490.3 255v-6.5"/><path d="M566.5 255v-6.5"/><path d="M642.8 255v-6.5"/>
<path d="M90 255v-3.4"/><path d="M128.2 255v-3.4"/><path d="M147.2 255v-3.4"/><path d="M166.3 255v-3.4"/><path d="M204.4 255v-3.4"/><path d="M223.5 255v-3.4"/><path d="M242.5 255v-3.4"/><path d="M280.6 255v-3.4"/><path d="M299.7 255v-3.4"/><path d="M318.8 255v-3.4"/><path d="M356.9 255v-3.4"/><path d="M375.9 255v-3.4"/><path d="M395 255v-3.4"/><path d="M433.1 255v-3.4"/><path d="M452.2 255v-3.4"/><path d="M471.2 255v-3.4"/><path d="M509.4 255v-3.4"/><path d="M528.4 255v-3.4"/><path d="M547.5 255v-3.4"/><path d="M585.6 255v-3.4"/><path d="M604.7 255v-3.4"/><path d="M623.7 255v-3.4"/><path d="M661.8 255v-3.4"/>
<path d="M71.5 64.9h6.5"/><path d="M71.5 140.7h6.5"/><path d="M71.5 216.5h6.5"/>
<path d="M71.5 102.8h3.4"/><path d="M71.5 178.6h3.4"/>
<rect x="70.5" y="358" width="609.5" height="406"/>
<path d="M104.3 764v-6.5"/><path d="M172 764v-6.5"/><path d="M239.6 764v-6.5"/><path d="M307.3 764v-6.5"/><path d="M375 764v-6.5"/><path d="M442.7 764v-6.5"/><path d="M510.4 764v-6.5"/><path d="M578 764v-6.5"/><path d="M645.7 764v-6.5"/>
<path d="M87.4 764v-3.4"/><path d="M121.2 764v-3.4"/><path d="M138.1 764v-3.4"/><path d="M155 764v-3.4"/><path d="M188.9 764v-3.4"/><path d="M205.8 764v-3.4"/><path d="M222.7 764v-3.4"/><path d="M256.6 764v-3.4"/><path d="M273.5 764v-3.4"/><path d="M290.4 764v-3.4"/><path d="M324.2 764v-3.4"/><path d="M341.2 764v-3.4"/><path d="M358.1 764v-3.4"/><path d="M391.9 764v-3.4"/><path d="M408.8 764v-3.4"/><path d="M425.8 764v-3.4"/><path d="M459.6 764v-3.4"/><path d="M476.5 764v-3.4"/><path d="M493.4 764v-3.4"/><path d="M527.3 764v-3.4"/><path d="M544.2 764v-3.4"/><path d="M561.1 764v-3.4"/><path d="M595 764v-3.4"/><path d="M611.9 764v-3.4"/><path d="M628.8 764v-3.4"/><path d="M662.6 764v-3.4"/>
<path d="M70.5 391.8h6.5"/><path d="M70.5 459.5h6.5"/><path d="M70.5 527.2h6.5"/><path d="M70.5 594.9h6.5"/><path d="M70.5 662.5h6.5"/><path d="M70.5 730.2h6.5"/>
<path d="M70.5 425.7h3.4"/><path d="M70.5 493.3h3.4"/><path d="M70.5 561h3.4"/><path d="M70.5 628.7h3.4"/><path d="M70.5 696.4h3.4"/>
<rect x="70.5" y="830" width="609" height="25" fill="url(#cb)"/>
<path d="M70.5 855v7"/>
<path d="M222.8 855v7"/>
<path d="M375 855v7"/>
<path d="M527.2 855v7"/>
<path d="M679.5 855v7"/>
</g>
<circle cx="674.5" cy="446.3" r="0.8" fill="#0808f2"/><g fill="none" stroke="#5e5e5e" stroke-width="3.1" stroke-linejoin="miter"><path d="M243.3 406.7H309.3L346 450.2"/></g><polygon fill="#5e5e5e" points="352.5,458.2 341.1,453.3 350.3,446.2"/>
<g>
<text x="71.5" y="16" font-size="21.9" text-anchor="start" fill="#000" stroke="#000">A</text>
<text x="71.5" y="346" font-size="21.9" text-anchor="start" fill="#000" stroke="#000">B</text>
<text x="109.1" y="277.6" font-size="22.0" text-anchor="middle" fill="#000" stroke="#000">0</text>
<text x="185.3" y="277.6" font-size="22.0" text-anchor="middle" fill="#000" stroke="#000">20</text>
<text x="261.6" y="277.6" font-size="22.0" text-anchor="middle" fill="#000" stroke="#000">40</text>
<text x="337.8" y="277.6" font-size="22.0" text-anchor="middle" fill="#000" stroke="#000">60</text>
<text x="414.1" y="277.6" font-size="22.0" text-anchor="middle" fill="#000" stroke="#000">80</text>
<text x="490.3" y="277.6" font-size="22.0" text-anchor="middle" fill="#000" stroke="#000">100</text>
<text x="566.5" y="277.6" font-size="22.0" text-anchor="middle" fill="#000" stroke="#000">120</text>
<text x="642.8" y="277.6" font-size="22.0" text-anchor="middle" fill="#000" stroke="#000">140</text>
<text x="65" y="73.1" font-size="22.0" text-anchor="end" fill="#000" stroke="#000">20</text>
<text x="65" y="148.9" font-size="22.0" text-anchor="end" fill="#000" stroke="#000">0</text>
<text x="65" y="224.7" font-size="22.0" text-anchor="end" fill="#000" stroke="#000">−20</text>
<text x="376.8" y="305" font-size="21.9" text-anchor="middle" fill="#000" stroke="#000">Distance (m)</text>
<text transform="translate(16.6,140.4) rotate(-90)" font-size="21.9" text-anchor="middle" fill="#000" stroke="#000">Elevation (m)</text>
<text x="104.3" y="787.2" font-size="22.0" text-anchor="middle" fill="#000" stroke="#000">−8</text>
<text x="172" y="787.2" font-size="22.0" text-anchor="middle" fill="#000" stroke="#000">−6</text>
<text x="239.6" y="787.2" font-size="22.0" text-anchor="middle" fill="#000" stroke="#000">−4</text>
<text x="307.3" y="787.2" font-size="22.0" text-anchor="middle" fill="#000" stroke="#000">−2</text>
<text x="375" y="787.2" font-size="22.0" text-anchor="middle" fill="#000" stroke="#000">0</text>
<text x="442.7" y="787.2" font-size="22.0" text-anchor="middle" fill="#000" stroke="#000">2</text>
<text x="510.4" y="787.2" font-size="22.0" text-anchor="middle" fill="#000" stroke="#000">4</text>
<text x="578" y="787.2" font-size="22.0" text-anchor="middle" fill="#000" stroke="#000">6</text>
<text x="645.7" y="787.2" font-size="22.0" text-anchor="middle" fill="#000" stroke="#000">8</text>
<text x="64" y="400" font-size="22.0" text-anchor="end" fill="#000" stroke="#000">2</text>
<text x="64" y="467.7" font-size="22.0" text-anchor="end" fill="#000" stroke="#000">0</text>
<text x="64" y="535.4" font-size="22.0" text-anchor="end" fill="#000" stroke="#000">−2</text>
<text x="64" y="603.1" font-size="22.0" text-anchor="end" fill="#000" stroke="#000">−4</text>
<text x="64" y="670.7" font-size="22.0" text-anchor="end" fill="#000" stroke="#000">−6</text>
<text x="64" y="738.4" font-size="22.0" text-anchor="end" fill="#000" stroke="#000">−8</text>
<text x="375.8" y="814.2" font-size="21.9" text-anchor="middle" fill="#000" stroke="#000">Distance (m)</text>
<text transform="translate(27.1,560.4) rotate(-90)" font-size="21.9" text-anchor="middle" fill="#000" stroke="#000">Elevation (m)</text>
<text x="70.5" y="884.8" font-size="22.0" text-anchor="middle" fill="#000" stroke="#000">0.050</text>
<text x="222.8" y="884.8" font-size="22.0" text-anchor="middle" fill="#000" stroke="#000">0.16</text>
<text x="375" y="884.8" font-size="22.0" text-anchor="middle" fill="#000" stroke="#000">0.50</text>
<text x="527.2" y="884.8" font-size="22.0" text-anchor="middle" fill="#000" stroke="#000">1.6</text>
<text x="679.5" y="884.8" font-size="22.0" text-anchor="middle" fill="#000" stroke="#000">5</text>
<text x="376" y="911" font-size="21.9" text-anchor="middle" fill="#000" stroke="#000">Darcy Velocity (m/day)</text>
<text x="182.4" y="390.7" font-size="18.4" text-anchor="middle" fill="#4d4d4d" stroke="#4d4d4d">Submarine</text>
<text x="182.4" y="413" font-size="18.4" text-anchor="middle" fill="#4d4d4d" stroke="#4d4d4d">groundwater</text>
<text x="182.4" y="435.3" font-size="18.4" text-anchor="middle" fill="#4d4d4d" stroke="#4d4d4d">discharge</text>
<text x="210" y="649.8" font-size="18.4" text-anchor="middle" fill="#fff" stroke="#fff">Seawater</text>
<text x="210" y="671.8" font-size="18.4" text-anchor="middle" fill="#fff" stroke="#fff">Wedge</text>
<text x="602" y="444" font-size="18.65" text-anchor="middle" fill="#b8960e" stroke="#b8960e">Vadose Zone</text>
<text transform="translate(592.2,503) rotate(6.5)" font-size="18.65" text-anchor="middle" fill="#1f77b4" stroke="#1f77b4">Fresh Groundwater</text>
</g>
</svg>
</body></html>
